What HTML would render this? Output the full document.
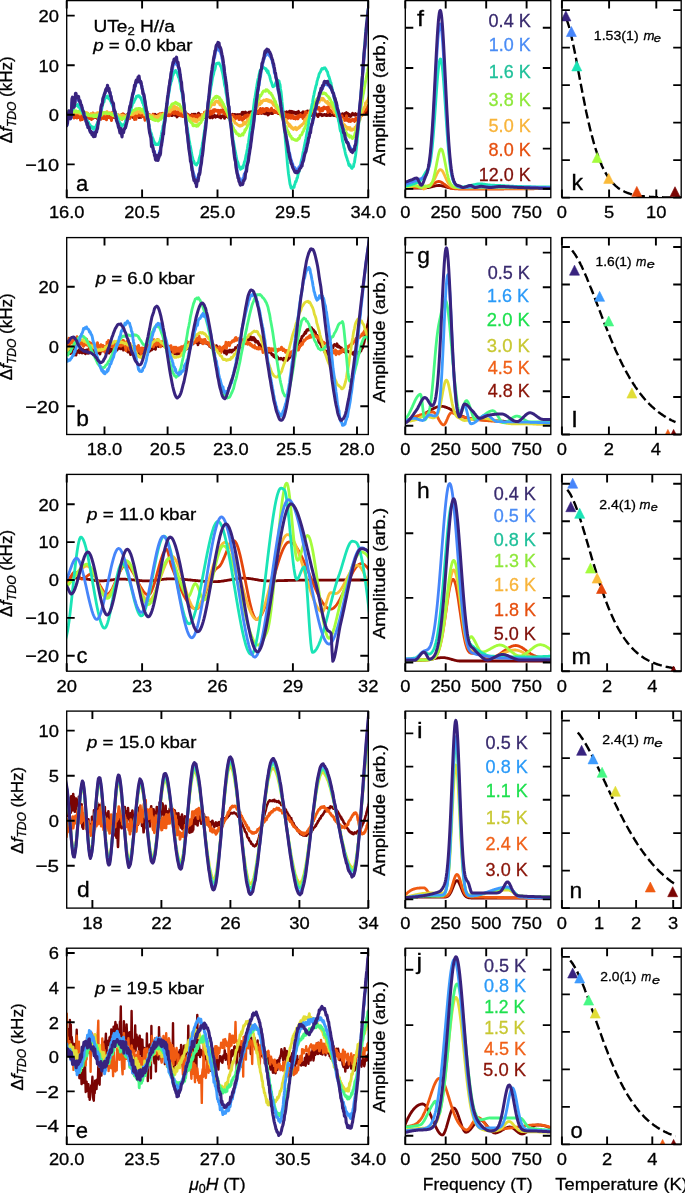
<!DOCTYPE html>
<html><head><meta charset="utf-8"><style>
html,body{margin:0;padding:0;background:#fff;}
svg{display:block;will-change:transform;}
text{font-family:"Liberation Sans", sans-serif;stroke-width:0.3px;}
</style></head><body>
<svg width="685" height="1193" viewBox="0 0 685 1193">
<rect width="685" height="1193" fill="#fff"/>
<clipPath id="c00"><rect x="66.7" y="0.6" width="301.6" height="197"/></clipPath>
<g clip-path="url(#c00)"><path d="M60 115 60.5 115.3 61 114.8 61.5 114.2 62 114.7 62.5 114.2 63 115.3 63.5 116.6 64 114.8 64.5 114.8 65 115.9 65.5 115.8 66 115.6 66.5 114.6 67 115.5 67.5 116.3 68 114.3 68.5 115.2 69 113.8 69.5 114.5 70 114 70.5 115.6 71 114.6 71.5 116.2 72 116.1 72.5 115.8 73 113.5 73.5 115.5 74 116 74.5 116.2 75 114.6 75.5 115.7 76 115.2 76.5 115.4 77 117.3 77.5 115.5 78 116.3 78.5 117.2 79 115.8 79.5 116.3 80 116.5 80.5 116.5 81 115.3 81.5 116.6 82 117.9 82.5 115 83 117.4 83.5 116.7 84 116 84.5 118.7 85 117.4 85.5 115.5 86 116.8 86.5 117.3 87 116.6 87.5 117.5 88 116.7 88.5 117.5 89 118.3 89.5 116.2 90 117.1 90.5 116.4 91 117 91.5 115.7 92 116.3 92.5 116.7 93 117.8 93.5 118.1 94 115.6 94.5 116.2 95 117.6 95.5 115 96 116.5 96.5 116.9 97 118.2 97.5 117.7 98 116.7 98.5 116.6 99 116.7 99.5 118.5 100 116.6 100.5 116.7 101 117.4 101.5 116.9 102 116.8 102.5 115.9 103 117 103.5 116.5 104 118.1 104.5 117.6 105 116.9 105.5 117.6 106 116.6 106.5 118 107 116.9 107.5 117.5 108 115.6 108.5 117.3 109 115.2 109.5 114.9 110 116.6 110.5 116 111 117 111.5 119.1 112 116 112.5 116.2 113 117 113.5 117.3 114 116.6 114.5 116.6 115 117.5 115.5 117.3 116 115.7 116.5 116.7 117 116.8 117.5 115.6 118 116.9 118.5 115.8 119 117.6 119.5 116.8 120 116.7 120.5 116 121 116.5 121.5 114.6 122 115.4 122.5 116.9 123 114.4 123.5 117.4 124 114.7 124.5 117.2 125 115.6 125.5 117.2 126 116.6 126.5 114.9 127 117.6 127.5 117.8 128 116.3 128.5 116.1 129 116.2 129.5 115.3 130 117.4 130.5 115.7 131 116.2 131.5 115.5 132 115.6 132.5 114.9 133 117.5 133.5 116 134 117.1 134.5 116.2 135 115.4 135.5 115.8 136 115.5 136.5 116.1 137 115.7 137.5 115.8 138 114.7 138.5 115.2 139 117.7 139.5 115.3 140 114.9 140.5 116.3 141 117.4 141.5 114.5 142 115.7 142.5 115.3 143 114.2 143.5 116.6 144 115.9 144.5 115.9 145 115.1 145.5 116.3 146 115.3 146.5 115.7 147 114.7 147.5 114.6 148 117.1 148.5 115.2 149 116 149.5 115.7 150 115.3 150.5 115.2 151 116.3 151.5 115.4 152 115.5 152.5 115.6 153 116.8 153.5 116.3 154 116 154.5 115 155 114.2 155.5 116.5 156 116.5 156.5 115.3 157 116 157.5 116.2 158 116.3 158.5 116.3 159 115 159.5 116.9 160 114.1 160.5 116.2 161 115.8 161.5 116.2 162 117.2 162.5 116.8 163 114.1 163.5 113.6 164 116.1 164.5 114.2 165 115.2 165.5 116.1 166 113.6 166.5 113.1 167 115.4 167.5 115.2 168 114.9 168.5 115.2 169 114.3 169.5 113.6 170 114.9 170.5 114.1 171 113.4 171.5 115.6 172 115 172.5 115.5 173 114.1 173.5 114.4 174 114 174.5 114.1 175 115.2 175.5 114.2 176 115.4 176.5 115.4 177 117 177.5 113.6 178 115.9 178.5 114.9 179 115 179.5 113.6 180 114.5 180.5 115.7 181 114.9 181.5 115.1 182 114.7 182.5 116.2 183 115 183.5 112.8 184 114.3 184.5 113.1 185 111.8 185.5 114.5 186 116.4 186.5 115.2 187 113.9 187.5 114.2 188 116.3 188.5 115.3 189 115.2 189.5 115.2 190 115.3 190.5 116.1 191 115.8 191.5 115.5 192 114.3 192.5 115.9 193 114.7 193.5 116.5 194 114.2 194.5 115.3 195 115.5 195.5 114.2 196 117.2 196.5 117 197 115.1 197.5 116.4 198 116 198.5 113.1 199 115.9 199.5 115.7 200 115.8 200.5 114.7 201 115.5 201.5 115.7 202 117.1 202.5 116.2 203 115.9 203.5 117.5 204 115.4 204.5 115.6 205 114.2 205.5 117.6 206 117 206.5 117 207 116.8 207.5 116.3 208 116.4 208.5 115.9 209 116 209.5 116.3 210 117.8 210.5 116.8 211 116.2 211.5 115.7 212 115.7 212.5 118 213 116.9 213.5 116.5 214 116.1 214.5 115.3 215 116.4 215.5 117.3 216 116.1 216.5 116.2 217 116.3 217.5 116.6 218 114.9 218.5 116.3 219 115.6 219.5 117.4 220 115.7 220.5 117.1 221 118 221.5 116.2 222 115.9 222.5 116.6 223 116.4 223.5 115.4 224 116.8 224.5 118.4 225 116.1 225.5 116.1 226 115.2 226.5 116.5 227 114.9 227.5 115 228 117.4 228.5 115.1 229 117.1 229.5 117.5 230 116.1 230.5 116.4 231 117.7 231.5 115.5 232 115 232.5 114.2 233 115.5 233.5 116.9 234 116.3 234.5 114.4 235 114.4 235.5 114.7 236 115.4 236.5 114.8 237 115.2 237.5 115.2 238 114.5 238.5 114.7 239 114.9 239.5 114.5 240 115 240.5 116.3 241 114.9 241.5 114.3 242 112.5 242.5 114.5 243 112.1 243.5 112.6 244 114.8 244.5 114.5 245 113.6 245.5 112 246 113.3 246.5 112.9 247 114.1 247.5 115.7 248 113.6 248.5 112.5 249 112.1 249.5 113.1 250 112.9 250.5 111.9 251 113.1 251.5 111.8 252 114 252.5 113.9 253 113.9 253.5 112.3 254 113.3 254.5 112.6 255 112.3 255.5 112.3 256 111.3 256.5 111.1 257 113.4 257.5 112.4 258 112.7 258.5 113.5 259 110.8 259.5 111.7 260 112.7 260.5 112.9 261 112.1 261.5 113.5 262 112.7 262.5 111.3 263 111.6 263.5 113.3 264 113 264.5 110.6 265 113.9 265.5 113.1 266 113.9 266.5 112.1 267 112.2 267.5 111.4 268 115.1 268.5 112.4 269 114.1 269.5 111.9 270 112.7 270.5 110.9 271 112.2 271.5 113.6 272 111.3 272.5 113.7 273 112.9 273.5 111.6 274 112.1 274.5 112.2 275 112.6 275.5 112.1 276 111.8 276.5 112.3 277 111.6 277.5 111.4 278 112.6 278.5 113.6 279 111.2 279.5 112.7 280 112.1 280.5 111.7 281 113.6 281.5 112.2 282 114.2 282.5 112 283 113.1 283.5 112.5 284 112 284.5 113.4 285 112.7 285.5 113.4 286 112.8 286.5 111.8 287 112.8 287.5 112.9 288 113.8 288.5 112 289 112.9 289.5 111.2 290 113.6 290.5 111.9 291 111.1 291.5 112.9 292 114.1 292.5 111.5 293 111.9 293.5 112.3 294 111.9 294.5 113.4 295 112.3 295.5 112.3 296 113.7 296.5 112.3 297 113.5 297.5 112.2 298 111.9 298.5 111.3 299 115 299.5 112.9 300 113.4 300.5 113.2 301 113.4 301.5 113.3 302 115.2 302.5 112.3 303 111.8 303.5 112.4 304 112.1 304.5 114.2 305 114.3 305.5 112.6 306 112.2 306.5 113.2 307 115 307.5 110.9 308 114.3 308.5 112.7 309 114.9 309.5 112.8 310 113.6 310.5 112.5 311 113.1 311.5 115.5 312 115 312.5 113.8 313 113.4 313.5 112.4 314 114 314.5 114.4 315 114.4 315.5 114.4 316 113.4 316.5 114.6 317 114.6 317.5 116 318 116.6 318.5 114.7 319 114.1 319.5 114.9 320 114.4 320.5 114.3 321 115 321.5 114.1 322 115.7 322.5 115.1 323 115.5 323.5 115.1 324 114.6 324.5 114.4 325 115.1 325.5 114.8 326 115.6 326.5 115.4 327 114.1 327.5 115.5 328 114.1 328.5 114.9 329 115.2 329.5 113.4 330 115.6 330.5 115.7 331 115.3 331.5 115.1 332 115.1 332.5 114.5 333 115.2 333.5 114.9 334 115.6 334.5 114.3 335 115.7 335.5 115.6 336 115.3 336.5 115 337 116 337.5 113.7 338 115.8 338.5 115.6 339 115.6 339.5 115.7 340 114.7 340.5 115 341 115.9 341.5 115.7 342 115.4 342.5 113.7 343 115.7 343.5 116.3 344 116.2 344.5 115.3 345 113.5 345.5 116 346 114.9 346.5 112.5 347 115.3 347.5 113.4 348 113.6 348.5 114.2 349 116.1 349.5 114.4 350 115 350.5 116.5 351 116.3 351.5 114.5 352 114.4 352.5 113.3 353 113.8 353.5 114.9 354 114.8 354.5 114.5 355 115.3 355.5 113.5 356 114.2 356.5 114.9 357 114.7 357.5 115.1 358 114.4 358.5 113.6 359 114.3 359.5 112.8 360 112.1 360.5 114.3 361 113.6 361.5 113.9 362 111.8 362.5 113.1 363 112.8 363.5 112.5 364 111 364.5 112.9 365 114 365.5 113.4 366 112.4 366.5 112.9 367 113.6 367.5 110 368 112.5 368.5 113.1 369 113.2 369.5 114.1 370 113.5 370.5 112.6 371 112.5 371.5 112.9 372 111.5" stroke="#7a0403" stroke-width="2.8" fill="none" stroke-linejoin="round" /><path d="M60 117.1 60.5 118.6 61 109.9 61.5 114.8 62 117.1 62.5 117.8 63 116.5 63.5 118.2 64 115.8 64.5 116.3 65 115.6 65.5 113.1 66 113.6 66.5 116.1 67 114.2 67.5 117.9 68 118 68.5 119 69 115.4 69.5 118.2 70 113.7 70.5 113.9 71 115.7 71.5 116.1 72 112.4 72.5 112.2 73 116.4 73.5 114 74 118.1 74.5 116.5 75 116.4 75.5 116.2 76 117.6 76.5 115.5 77 118 77.5 114.8 78 115.5 78.5 114.6 79 117.1 79.5 116 80 114.3 80.5 120 81 115.3 81.5 115.8 82 116.9 82.5 119.6 83 115.9 83.5 117.6 84 116.4 84.5 113.3 85 117.9 85.5 118.4 86 115.9 86.5 116.4 87 113.4 87.5 113.4 88 115.7 88.5 117.8 89 115.6 89.5 117.2 90 118.6 90.5 116.8 91 117.8 91.5 119.6 92 114.3 92.5 118.3 93 113 93.5 117.7 94 117.3 94.5 115.8 95 114.7 95.5 116.8 96 116.1 96.5 117.1 97 115.1 97.5 118.1 98 114.9 98.5 116.4 99 116.2 99.5 119.5 100 114 100.5 116.2 101 119.4 101.5 115.7 102 114.5 102.5 117.6 103 116.4 103.5 118.6 104 115.2 104.5 117.4 105 118.3 105.5 119 106 114.8 106.5 119.8 107 115.2 107.5 114.1 108 115.2 108.5 117.3 109 116.4 109.5 117.8 110 118 110.5 117.6 111 116.5 111.5 120.5 112 112.8 112.5 113.7 113 116 113.5 114.6 114 112.2 114.5 115.5 115 115.6 115.5 112.4 116 118.6 116.5 119.4 117 119.3 117.5 116.1 118 117.3 118.5 114.9 119 117.4 119.5 115.8 120 117.8 120.5 116.4 121 118.9 121.5 118.5 122 119.3 122.5 114.1 123 113.7 123.5 117.7 124 115.9 124.5 117.6 125 117.4 125.5 117.1 126 118.4 126.5 117.7 127 117.5 127.5 115 128 119.5 128.5 116.6 129 118.3 129.5 116.8 130 118.4 130.5 116.4 131 116.4 131.5 116.2 132 114.6 132.5 114.8 133 115.4 133.5 115.4 134 113.8 134.5 119.5 135 113.7 135.5 114.8 136 119.4 136.5 114.1 137 116.5 137.5 116.2 138 114.7 138.5 112.6 139 112.4 139.5 115 140 115.7 140.5 111.4 141 115.3 141.5 113.9 142 116.5 142.5 115.4 143 113.8 143.5 114.4 144 115.2 144.5 117.4 145 120.2 145.5 115.8 146 115.5 146.5 116.5 147 115.4 147.5 116.6 148 116.2 148.5 115.6 149 114.4 149.5 116 150 117.2 150.5 115.9 151 118.3 151.5 117.4 152 115.7 152.5 118.7 153 114.2 153.5 117.9 154 119 154.5 115.7 155 116 155.5 117.6 156 118.4 156.5 116.9 157 116.5 157.5 117.6 158 116.6 158.5 114.3 159 115.8 159.5 116 160 113.7 160.5 116.5 161 114.7 161.5 116.9 162 113.4 162.5 114.2 163 113.3 163.5 117.2 164 117.1 164.5 117.3 165 117.2 165.5 116.2 166 116.1 166.5 112.1 167 115 167.5 113.6 168 113.8 168.5 112.4 169 115.9 169.5 114.1 170 111.7 170.5 114.4 171 113.5 171.5 112 172 113 172.5 112.2 173 110 173.5 111 174 113.8 174.5 113.5 175 113.4 175.5 111.4 176 112.2 176.5 113.1 177 114 177.5 111.9 178 111.7 178.5 114.8 179 113.4 179.5 112.9 180 112.5 180.5 112.7 181 115.9 181.5 115.1 182 113.4 182.5 112.4 183 116.5 183.5 116.4 184 116.1 184.5 115.8 185 112.3 185.5 113.2 186 115.8 186.5 114.8 187 115.7 187.5 114.8 188 114.8 188.5 116.5 189 115.4 189.5 116 190 116.5 190.5 116.6 191 117.9 191.5 118.2 192 114.9 192.5 116.4 193 116 193.5 117.8 194 115.6 194.5 117.9 195 117.8 195.5 117.7 196 115.8 196.5 116.7 197 115.6 197.5 117.4 198 118 198.5 114.9 199 115.7 199.5 116.4 200 115.8 200.5 118.1 201 116 201.5 116.3 202 114.5 202.5 117.5 203 115.6 203.5 116.2 204 115.2 204.5 112.3 205 112.7 205.5 112.9 206 114.8 206.5 113.4 207 114.3 207.5 113.9 208 113.7 208.5 114.3 209 113.2 209.5 110.8 210 111.7 210.5 114.4 211 110.9 211.5 113.7 212 113.8 212.5 111 213 112 213.5 109.8 214 112.3 214.5 110.3 215 109.6 215.5 110.6 216 110.5 216.5 110.3 217 111.2 217.5 110.8 218 110.2 218.5 112.2 219 114.1 219.5 111.3 220 110.5 220.5 110.2 221 112.3 221.5 111.4 222 111.9 222.5 109.6 223 110.8 223.5 111 224 113.7 224.5 112.4 225 110 225.5 113.7 226 114.7 226.5 115.2 227 110.5 227.5 114.2 228 115.2 228.5 115.2 229 114.4 229.5 112.8 230 114.7 230.5 115 231 116.3 231.5 116.6 232 115.8 232.5 117.3 233 115.2 233.5 115.8 234 116.8 234.5 117.7 235 116.8 235.5 118.8 236 117.9 236.5 116.4 237 117.8 237.5 116.7 238 116.7 238.5 116.2 239 119.6 239.5 119.1 240 116.1 240.5 119.3 241 119.1 241.5 117.5 242 118.5 242.5 120.5 243 118 243.5 118.1 244 118.8 244.5 116.1 245 115.7 245.5 115.4 246 116.8 246.5 117.8 247 115.5 247.5 114.7 248 116.4 248.5 115.5 249 116.5 249.5 115.4 250 115.1 250.5 115 251 114.9 251.5 113.5 252 113.1 252.5 116.1 253 117.7 253.5 115.1 254 111.5 254.5 113.3 255 114.4 255.5 110.8 256 112 256.5 111.9 257 111 257.5 110.9 258 112.9 258.5 111 259 111.1 259.5 113.2 260 110 260.5 108.5 261 111.4 261.5 112.9 262 110.6 262.5 110.6 263 108.6 263.5 109 264 111.8 264.5 111.5 265 110.6 265.5 109.1 266 108.4 266.5 108.6 267 108.5 267.5 110.6 268 109 268.5 109.4 269 110.9 269.5 110.9 270 110.2 270.5 110.8 271 110.3 271.5 108.1 272 110.4 272.5 110.1 273 110.3 273.5 111.2 274 110.3 274.5 112.6 275 111.1 275.5 111.7 276 112 276.5 111.6 277 112.7 277.5 113 278 113 278.5 111.6 279 111.5 279.5 112 280 113 280.5 110.9 281 112.3 281.5 112.1 282 112.8 282.5 112.7 283 115 283.5 114.7 284 115.5 284.5 113.3 285 113.8 285.5 114.5 286 117 286.5 117.2 287 114.6 287.5 116.3 288 118.3 288.5 114.6 289 115.7 289.5 117.7 290 117.1 290.5 115.2 291 118.3 291.5 117.8 292 117.5 292.5 115.3 293 116.7 293.5 118.5 294 117.6 294.5 118 295 116.8 295.5 119 296 116.9 296.5 118.3 297 117.6 297.5 116 298 118.9 298.5 115.6 299 116.2 299.5 117.1 300 115.2 300.5 114.6 301 116.5 301.5 115.9 302 116 302.5 116.7 303 118.6 303.5 115.2 304 118.5 304.5 115.6 305 115 305.5 111.6 306 112.8 306.5 114.7 307 114.8 307.5 112.9 308 114 308.5 114.4 309 112.4 309.5 110.9 310 111.4 310.5 111.9 311 112.4 311.5 112.7 312 110.4 312.5 111.3 313 110.7 313.5 110.8 314 111.9 314.5 111.9 315 109.5 315.5 109.2 316 108.9 316.5 108.9 317 108.9 317.5 109 318 108.4 318.5 107.6 319 107.4 319.5 108.8 320 111.5 320.5 109.2 321 109.3 321.5 108.9 322 108.3 322.5 110.9 323 108.1 323.5 107.4 324 107.1 324.5 108.9 325 107.6 325.5 107.9 326 108 326.5 107.6 327 109.6 327.5 107.5 328 112.5 328.5 106.6 329 108.5 329.5 110.4 330 111.1 330.5 110.4 331 111.4 331.5 111.6 332 111.8 332.5 112.6 333 112.5 333.5 112.4 334 112.6 334.5 114.1 335 113.2 335.5 114.4 336 115.9 336.5 114.8 337 116.1 337.5 114.4 338 115.5 338.5 116.1 339 116.1 339.5 116.7 340 118.1 340.5 116.3 341 116.2 341.5 117.7 342 115.8 342.5 117.8 343 119.5 343.5 118.3 344 119.2 344.5 119.3 345 120.5 345.5 119.8 346 119.7 346.5 115.6 347 119.2 347.5 120.8 348 119.9 348.5 119.3 349 121.4 349.5 119.4 350 120.1 350.5 121.4 351 120 351.5 120.9 352 120.6 352.5 119.2 353 119.9 353.5 120 354 119.6 354.5 121.5 355 120 355.5 119 356 117.8 356.5 118.8 357 120.5 357.5 118.2 358 119.1 358.5 118.3 359 116.7 359.5 115.8 360 117.1 360.5 113.9 361 116.1 361.5 113.4 362 115.3 362.5 113.2 363 113 363.5 113.8 364 110.7 364.5 111.3 365 110.2 365.5 110.5 366 110 366.5 108.8 367 108 367.5 106.5 368 106.9 368.5 105.2 369 104.9 369.5 104.1 370 101.5 370.5 101 371 101.8 371.5 100.7 372 101.5" stroke="#e4450a" stroke-width="2.9" fill="none" stroke-linejoin="round" /><path d="M60 114.4 60.5 113.8 61 114.6 61.5 115 62 115.5 62.5 114.6 63 114 63.5 113.7 64 114.8 64.5 115.4 65 114.3 65.5 113 66 113.1 66.5 115.1 67 113.9 67.5 112.3 68 113.5 68.5 112.6 69 112.9 69.5 113 70 112.8 70.5 113.7 71 113.2 71.5 112.7 72 113.5 72.5 113.8 73 111.8 73.5 112.9 74 112.3 74.5 112.9 75 112 75.5 113 76 113 76.5 112.8 77 112.2 77.5 112.7 78 112.2 78.5 112 79 113.3 79.5 112.2 80 114.1 80.5 113.7 81 111.6 81.5 113.4 82 112.4 82.5 113.3 83 113.4 83.5 111.8 84 113.2 84.5 113.3 85 114.3 85.5 112.6 86 114.2 86.5 112.7 87 113.4 87.5 113 88 114.9 88.5 114.2 89 115.8 89.5 114.4 90 114.5 90.5 114.6 91 113.4 91.5 113.9 92 115 92.5 113.7 93 114.1 93.5 114 94 114.5 94.5 113.7 95 113.9 95.5 114.2 96 114 96.5 113.2 97 114.6 97.5 112.8 98 112.8 98.5 112.7 99 114.4 99.5 113.3 100 112.8 100.5 112.6 101 113.8 101.5 112.5 102 112.3 102.5 113.8 103 112.3 103.5 112.9 104 113.1 104.5 112.7 105 113 105.5 114.1 106 112.6 106.5 112 107 111.5 107.5 112.8 108 112.8 108.5 113.3 109 112.8 109.5 112.8 110 112.7 110.5 113 111 113.7 111.5 113.3 112 113.9 112.5 115.4 113 114.4 113.5 112.9 114 115.7 114.5 114.8 115 113.9 115.5 115.5 116 115 116.5 114.6 117 114.7 117.5 114.6 118 115.5 118.5 116.4 119 115.4 119.5 116.1 120 117.4 120.5 114.9 121 116.2 121.5 115.7 122 115.2 122.5 115.2 123 115.9 123.5 116.3 124 115.4 124.5 115.8 125 116.2 125.5 115.8 126 116.1 126.5 115.6 127 115.5 127.5 116.4 128 115.3 128.5 114.7 129 115 129.5 113.5 130 113.8 130.5 114.5 131 114.2 131.5 114.8 132 113.4 132.5 112 133 114.6 133.5 113.8 134 111.9 134.5 113.7 135 112.5 135.5 110.9 136 111.9 136.5 111.8 137 113.4 137.5 111.4 138 111.8 138.5 111.8 139 111.7 139.5 111.3 140 112.3 140.5 113 141 112.7 141.5 111.6 142 111.5 142.5 112.7 143 112.2 143.5 112.4 144 111.7 144.5 114.8 145 114.2 145.5 112.8 146 114.5 146.5 115.1 147 112.3 147.5 114 148 114.3 148.5 115.3 149 114.9 149.5 115 150 115.3 150.5 117.1 151 117.5 151.5 115.5 152 115.4 152.5 118.4 153 115.6 153.5 116.1 154 116.7 154.5 117.1 155 117.7 155.5 117.2 156 116.3 156.5 117.4 157 117.2 157.5 118.5 158 116.9 158.5 115.8 159 115.9 159.5 117.7 160 115.9 160.5 114.5 161 115.5 161.5 115.7 162 116.3 162.5 114.3 163 115.3 163.5 115.1 164 113.5 164.5 113.6 165 114.8 165.5 114.4 166 113.4 166.5 112.6 167 112.9 167.5 111.5 168 111.2 168.5 110.2 169 110.6 169.5 110.2 170 112.1 170.5 109.5 171 110.4 171.5 110.1 172 108.7 172.5 109.6 173 106.7 173.5 108.4 174 108.9 174.5 106.2 175 107.1 175.5 108.8 176 107.8 176.5 107.2 177 107.9 177.5 107.9 178 109.1 178.5 109.1 179 108.8 179.5 108.7 180 109.5 180.5 110.9 181 110.5 181.5 111.1 182 110.9 182.5 110.4 183 111.3 183.5 112.8 184 112.8 184.5 112.4 185 112.3 185.5 114.2 186 114.3 186.5 114.7 187 115.2 187.5 116.1 188 116.6 188.5 117.5 189 117.9 189.5 118.7 190 118.6 190.5 118.1 191 118.7 191.5 119.4 192 119.1 192.5 120.1 193 120.8 193.5 119.4 194 118.8 194.5 121.4 195 120.5 195.5 121.1 196 119.5 196.5 122 197 121.1 197.5 120.2 198 119.8 198.5 120 199 119.4 199.5 119 200 118 200.5 119.4 201 117.9 201.5 117.5 202 117 202.5 114.5 203 116.3 203.5 115 204 114.4 204.5 114.1 205 112.6 205.5 113.4 206 111.5 206.5 110.7 207 110.1 207.5 110.2 208 110 208.5 108.3 209 107 209.5 108.4 210 106.1 210.5 107.4 211 105.8 211.5 104.8 212 104.3 212.5 104.7 213 104.7 213.5 103.4 214 104 214.5 104.6 215 102.5 215.5 101.5 216 101.5 216.5 101.1 217 101.7 217.5 101.7 218 101.3 218.5 102.9 219 100.6 219.5 101.9 220 104.9 220.5 104.5 221 104.5 221.5 104.9 222 106.5 222.5 106 223 106.2 223.5 105.8 224 107.4 224.5 107.5 225 108.2 225.5 108.9 226 110.2 226.5 110.7 227 112.4 227.5 111.4 228 113.1 228.5 115.5 229 114.8 229.5 116.5 230 117.2 230.5 118.1 231 118.4 231.5 117.4 232 119 232.5 119.6 233 119.3 233.5 120.8 234 120.8 234.5 121.1 235 123.1 235.5 123.4 236 123.4 236.5 123.6 237 124.3 237.5 124.7 238 125 238.5 125.5 239 125.3 239.5 126.1 240 126.2 240.5 126.1 241 125.2 241.5 125.1 242 125.7 242.5 125 243 124.8 243.5 122.5 244 122 244.5 124 245 123.5 245.5 123.9 246 122.8 246.5 121.9 247 121.2 247.5 119.4 248 120.6 248.5 118.8 249 119 249.5 118.1 250 117.4 250.5 117.2 251 115.3 251.5 114.7 252 113.6 252.5 113.2 253 114.1 253.5 111.7 254 112.2 254.5 111.2 255 110.3 255.5 109.7 256 107.5 256.5 107.9 257 108.2 257.5 105.7 258 105.6 258.5 104.4 259 104.6 259.5 102.9 260 104.5 260.5 102.4 261 101 261.5 103.2 262 102.1 262.5 101.4 263 101.1 263.5 100.1 264 100 264.5 100.5 265 100.5 265.5 100.5 266 99.9 266.5 99.4 267 99.6 267.5 100.8 268 101.2 268.5 100 269 100.1 269.5 101.8 270 101.7 270.5 102 271 100.8 271.5 102 272 102.3 272.5 103.3 273 102.3 273.5 105.2 274 105 274.5 105.7 275 105 275.5 106.5 276 108.3 276.5 106.6 277 108.8 277.5 109.7 278 109.3 278.5 111.2 279 111 279.5 113 280 113.1 280.5 113.6 281 115.8 281.5 115.5 282 116.6 282.5 115.4 283 116.5 283.5 118.4 284 119.2 284.5 119.1 285 120.4 285.5 119.6 286 121.3 286.5 120.8 287 122.6 287.5 122.6 288 123 288.5 124.1 289 126.1 289.5 124.3 290 125.1 290.5 126.9 291 126.1 291.5 128.3 292 127.4 292.5 127.6 293 128.1 293.5 129.4 294 128.8 294.5 128.8 295 128.7 295.5 127.3 296 127.9 296.5 129.8 297 129.1 297.5 128.7 298 128.6 298.5 127.4 299 127.8 299.5 126.5 300 127.1 300.5 125.7 301 125.6 301.5 125.6 302 124.4 302.5 124.6 303 123.8 303.5 123.1 304 123.2 304.5 120.2 305 119.4 305.5 120.4 306 119.8 306.5 119.9 307 118.1 307.5 117.3 308 115.2 308.5 115.6 309 114.7 309.5 112.5 310 111.8 310.5 111.6 311 111.1 311.5 107.7 312 109.4 312.5 108.7 313 107.6 313.5 107.2 314 106.7 314.5 104.8 315 105.3 315.5 104.1 316 102.9 316.5 103.3 317 103.8 317.5 100.9 318 100.3 318.5 99.9 319 102.4 319.5 100.3 320 100.2 320.5 99.4 321 99.2 321.5 98.2 322 99.9 322.5 100 323 98.3 323.5 99.2 324 99.6 324.5 100.4 325 100.8 325.5 101.8 326 102.4 326.5 102.5 327 103.1 327.5 101.5 328 102.5 328.5 104.3 329 104.2 329.5 104.5 330 103.5 330.5 104.2 331 106.9 331.5 107.2 332 107.4 332.5 108 333 107.6 333.5 110 334 111.2 334.5 112.4 335 111.9 335.5 112.4 336 112.5 336.5 115.1 337 116.2 337.5 115.1 338 116.6 338.5 117.2 339 117.4 339.5 116.6 340 119 340.5 120.5 341 119.6 341.5 120.7 342 119.5 342.5 123.8 343 123.8 343.5 124.1 344 124.4 344.5 124.7 345 125.7 345.5 126 346 126.6 346.5 127.2 347 127.8 347.5 129.3 348 127.3 348.5 129 349 128.6 349.5 128.4 350 127.6 350.5 130.2 351 129 351.5 129.3 352 130.3 352.5 129 353 129.7 353.5 129.3 354 129.6 354.5 129.3 355 127.2 355.5 128 356 126.4 356.5 125.8 357 124.6 357.5 124.5 358 121.9 358.5 122 359 121.6 359.5 119.2 360 119.9 360.5 116.5 361 116 361.5 114.1 362 112.7 362.5 111 363 110.2 363.5 109.3 364 107.4 364.5 107.4 365 106.7 365.5 103 366 103.7 366.5 102 367 100.9 367.5 101.6 368 99.6 368.5 97.9 369 96.8 369.5 93.9 370 95.3 370.5 93.1 371 92.9 371.5 91.9 372 91.6 372.5 91.5 373 89.7 373.5 88.9 374 86.7 374.5 86.3 375 85.6" stroke="#faba39" stroke-width="2.9" fill="none" stroke-linejoin="round" /><path d="M60 113.7 60.5 113.7 61 114.5 61.5 113.8 62 112.5 62.5 113.2 63 112.8 63.5 113 64 112 64.5 112.8 65 112.7 65.5 113.3 66 112.6 66.5 112.6 67 111.5 67.5 113.3 68 111.1 68.5 112.5 69 111.8 69.5 111.4 70 111.5 70.5 111.4 71 111.9 71.5 111.6 72 112.4 72.5 110.7 73 111.6 73.5 111.1 74 111.9 74.5 110.5 75 111.3 75.5 111.6 76 110.8 76.5 112 77 111.6 77.5 112.1 78 112.1 78.5 111.2 79 111.4 79.5 111.8 80 112.4 80.5 112.6 81 112 81.5 112.2 82 112.2 82.5 112.5 83 112.8 83.5 113.1 84 114.3 84.5 113.2 85 113.5 85.5 114.1 86 113.5 86.5 114 87 114.4 87.5 114.9 88 114 88.5 115.5 89 114.8 89.5 115.2 90 115.7 90.5 115.7 91 116 91.5 115.7 92 115.6 92.5 115.9 93 115.3 93.5 116.4 94 115.4 94.5 115.2 95 116.8 95.5 115.6 96 115 96.5 116.5 97 115.3 97.5 115.8 98 114.8 98.5 114.9 99 114 99.5 113.8 100 114.1 100.5 114.4 101 114.6 101.5 115.3 102 113.4 102.5 114.3 103 113.3 103.5 113.4 104 112.6 104.5 112.5 105 112.8 105.5 112.5 106 113 106.5 112.7 107 113.6 107.5 113.1 108 113.1 108.5 113.7 109 113.5 109.5 113.4 110 113.5 110.5 113.6 111 114.4 111.5 114.5 112 114.5 112.5 114.9 113 114.5 113.5 115.3 114 114.5 114.5 116.2 115 115.8 115.5 116.1 116 116.5 116.5 116.5 117 116.6 117.5 117.5 118 117.2 118.5 116.9 119 117.7 119.5 116.8 120 118.6 120.5 117.8 121 118 121.5 119.1 122 119.1 122.5 118 123 118.2 123.5 118.3 124 118.5 124.5 117.4 125 117.2 125.5 117.5 126 116.7 126.5 116.7 127 116.2 127.5 115 128 114.7 128.5 113.5 129 114.2 129.5 114.6 130 113 130.5 113.7 131 113.2 131.5 112.2 132 111.8 132.5 111.5 133 110.6 133.5 110.5 134 110.3 134.5 110.3 135 110.1 135.5 109 136 109.6 136.5 108.6 137 108.7 137.5 108.9 138 108.6 138.5 108.5 139 108.8 139.5 108.4 140 108.5 140.5 108.9 141 109.7 141.5 109.4 142 110.7 142.5 110.1 143 108.9 143.5 110.5 144 112 144.5 111.6 145 111.8 145.5 112 146 113.6 146.5 113.9 147 114.2 147.5 114.6 148 115.6 148.5 115.7 149 115.2 149.5 116.7 150 116.8 150.5 117.1 151 118 151.5 118.1 152 117 152.5 119.6 153 119.7 153.5 119.4 154 119.6 154.5 120.1 155 119.6 155.5 120.5 156 120.4 156.5 120.4 157 120.1 157.5 120.2 158 121 158.5 120.9 159 120.3 159.5 119.7 160 118.9 160.5 119.3 161 119.3 161.5 117.2 162 118 162.5 115.8 163 116.1 163.5 115.8 164 114.3 164.5 113.5 165 113.7 165.5 113.3 166 111.9 166.5 112.1 167 110.3 167.5 110.9 168 109.4 168.5 108.8 169 108.3 169.5 107.5 170 107.7 170.5 107.3 171 105.9 171.5 105 172 104.1 172.5 103.9 173 103.9 173.5 103.5 174 103.3 174.5 103.2 175 103.3 175.5 102.3 176 102.5 176.5 103.7 177 103.8 177.5 103.3 178 104.6 178.5 104 179 104.6 179.5 104.3 180 106.2 180.5 106.4 181 107.5 181.5 108 182 108.4 182.5 109.2 183 110.5 183.5 110.6 184 111.4 184.5 112.3 185 113.5 185.5 114.4 186 115.7 186.5 115.5 187 117 187.5 116.9 188 118.3 188.5 118.9 189 120.4 189.5 120.6 190 120.8 190.5 122 191 122.5 191.5 122.8 192 123.3 192.5 123.5 193 125.8 193.5 124.9 194 125.6 194.5 124.9 195 125.1 195.5 125.7 196 125.7 196.5 126.2 197 125.2 197.5 125.7 198 125.9 198.5 124.3 199 124.8 199.5 123.3 200 123.4 200.5 122.7 201 122.7 201.5 120.7 202 120.3 202.5 119.9 203 117.9 203.5 117.5 204 116.1 204.5 115.2 205 114.9 205.5 113.9 206 113.8 206.5 112.2 207 111.1 207.5 109.3 208 108.2 208.5 107.4 209 105.2 209.5 106.2 210 104.1 210.5 103 211 102.5 211.5 102.3 212 101.7 212.5 100.2 213 99.9 213.5 99 214 98 214.5 98.1 215 97.7 215.5 96.6 216 97.7 216.5 96.2 217 97 217.5 96.4 218 96.7 218.5 97 219 98.1 219.5 97.6 220 98.6 220.5 100.1 221 99.7 221.5 100.7 222 101.9 222.5 102.2 223 103.7 223.5 104.1 224 105.8 224.5 106.6 225 107.2 225.5 109.5 226 110 226.5 111.1 227 112 227.5 113.5 228 114.9 228.5 116.3 229 118 229.5 118.1 230 119.8 230.5 121.8 231 122.5 231.5 123.8 232 125.5 232.5 126 233 127.2 233.5 128 234 129.9 234.5 130.5 235 130.5 235.5 131.9 236 131.8 236.5 133.6 237 134 237.5 134.2 238 134.5 238.5 134.1 239 135.7 239.5 135.4 240 135.3 240.5 135.8 241 135 241.5 134.8 242 134.4 242.5 133.7 243 135.1 243.5 133.2 244 132.5 244.5 132.4 245 129.6 245.5 130.3 246 129.4 246.5 128 247 127.7 247.5 125.4 248 125.4 248.5 124.7 249 122 249.5 121.1 250 120.6 250.5 119.4 251 117.8 251.5 117 252 115.7 252.5 113.6 253 112.9 253.5 111 254 109.3 254.5 107.9 255 108.3 255.5 106.5 256 106.3 256.5 103.3 257 102.7 257.5 101.9 258 100.5 258.5 99.7 259 98.5 259.5 97.1 260 95.3 260.5 95.1 261 95.6 261.5 94.3 262 93.9 262.5 92.3 263 91.9 263.5 91 264 91.3 264.5 90.8 265 90.7 265.5 91.2 266 89.8 266.5 90.6 267 89.7 267.5 91.1 268 90.6 268.5 91.1 269 91.7 269.5 92.9 270 92.6 270.5 93 271 93.3 271.5 94.8 272 95 272.5 96 273 97.1 273.5 98.4 274 98.7 274.5 100.4 275 102 275.5 101.4 276 104 276.5 105.5 277 105.3 277.5 107.1 278 107.3 278.5 109.4 279 110.3 279.5 111.8 280 112.5 280.5 113.8 281 115.2 281.5 116.4 282 117.7 282.5 119.1 283 119.9 283.5 121.6 284 123.2 284.5 123 285 125.4 285.5 126.1 286 127 286.5 128 287 129.3 287.5 130.4 288 131.9 288.5 132 289 134.1 289.5 134 290 135.6 290.5 136.5 291 136.1 291.5 137.8 292 139 292.5 138.2 293 139.1 293.5 139.2 294 139.6 294.5 139.7 295 139.6 295.5 140.3 296 140.4 296.5 139.8 297 140.4 297.5 139.9 298 139.3 298.5 138.2 299 138.9 299.5 138.1 300 135.7 300.5 135.5 301 135 301.5 134.9 302 134.1 302.5 132.4 303 131.7 303.5 130.9 304 128.8 304.5 128.7 305 127.1 305.5 126.1 306 124.8 306.5 123 307 121.9 307.5 121.2 308 119.9 308.5 118.5 309 117.9 309.5 115.9 310 114.1 310.5 113.3 311 112.1 311.5 110.9 312 110.3 312.5 108.7 313 107.8 313.5 106.4 314 104.9 314.5 104.4 315 102.6 315.5 101.8 316 100.2 316.5 99.8 317 98.7 317.5 98.2 318 98.1 318.5 97.7 319 96.3 319.5 95.2 320 95.1 320.5 94.3 321 93.5 321.5 93.5 322 93.2 322.5 92.8 323 93.8 323.5 92.9 324 93 324.5 93.8 325 93.3 325.5 93.4 326 94 326.5 95.1 327 95.5 327.5 96.1 328 96.3 328.5 96.8 329 98.4 329.5 98 330 99.4 330.5 99.7 331 101 331.5 102.1 332 103.7 332.5 102.6 333 105.8 333.5 105.7 334 107.3 334.5 108.7 335 109 335.5 110.4 336 111.8 336.5 112.6 337 113.5 337.5 115.1 338 116.2 338.5 116.5 339 119.1 339.5 119.6 340 119.4 340.5 121.3 341 123.7 341.5 124.7 342 125 342.5 125.1 343 126.8 343.5 128.4 344 129 344.5 129.6 345 130.3 345.5 131.9 346 132.1 346.5 133.2 347 133.9 347.5 135.2 348 135 348.5 135.6 349 135.1 349.5 136.9 350 137.2 350.5 137 351 136.1 351.5 137.1 352 137.5 352.5 138.5 353 137.6 353.5 137.2 354 136.4 354.5 135.7 355 133.3 355.5 132 356 130.3 356.5 129 357 127 357.5 125.2 358 122.4 358.5 120.6 359 117.7 359.5 116.6 360 112.6 360.5 111.4 361 108.2 361.5 104 362 102.2 362.5 99.1 363 95.1 363.5 93.3 364 90.1 364.5 87.5 365 84.1 365.5 81.7 366 79.3 366.5 76.4 367 73.7 367.5 71.5 368 68.8 368.5 67.3 369 63.8 369.5 63.7 370 60.9 370.5 59 371 57.1 371.5 53.9 372 53.6 372.5 49.8 373 48.5 373.5 46.4 374 44.8 374.5 42.1 375 39.3" stroke="#a4fc3c" stroke-width="2.9" fill="none" stroke-linejoin="round" /><path d="M60 115.2 60.5 113.2 61 115.5 61.5 115.5 62 116 62.5 116.6 63 115.8 63.5 117.2 64 117 64.5 119.7 65 118 65.5 117.7 66 117.8 66.5 117.6 67 117.3 67.5 117.5 68 117.6 68.5 116.5 69 116.5 69.5 114.9 70 114.1 70.5 114 71 112.4 71.5 110.7 72 109.8 72.5 109.2 73 109.1 73.5 106.9 74 106.2 74.5 106.3 75 104.8 75.5 104.9 76 105.5 76.5 105.4 77 105.3 77.5 106 78 104.3 78.5 107 79 106.3 79.5 106.5 80 108.3 80.5 109.3 81 109.4 81.5 109.8 82 111.3 82.5 112.2 83 114 83.5 114.5 84 115.1 84.5 116.6 85 116.8 85.5 117.4 86 119.2 86.5 120.2 87 120.6 87.5 121.2 88 122.7 88.5 121.9 89 124.6 89.5 125.2 90 124.6 90.5 126.3 91 126.2 91.5 127.7 92 126.5 92.5 127.5 93 128.7 93.5 129.1 94 127.2 94.5 128.1 95 128.2 95.5 127 96 127.4 96.5 124.7 97 124.5 97.5 122.3 98 122.2 98.5 119.8 99 117.9 99.5 115.3 100 115.6 100.5 113.2 101 111.4 101.5 109.8 102 107.6 102.5 105.3 103 103.6 103.5 102.1 104 102.1 104.5 99.2 105 98.6 105.5 98 106 97.7 106.5 97.5 107 96.3 107.5 96.1 108 97.3 108.5 98.5 109 98.8 109.5 99.2 110 99.7 110.5 101 111 101.7 111.5 103.5 112 103.7 112.5 105.5 113 106.7 113.5 108.4 114 109.6 114.5 112.4 115 113.1 115.5 114.5 116 113.8 116.5 116.1 117 117.2 117.5 119.1 118 118.6 118.5 121.7 119 122.6 119.5 122 120 122.9 120.5 123.6 121 124.6 121.5 125.3 122 126.2 122.5 124.8 123 125.2 123.5 124.5 124 125 124.5 123.8 125 123.4 125.5 121.1 126 120.7 126.5 119.4 127 119.7 127.5 118 128 116.3 128.5 114.9 129 114.2 129.5 112.2 130 110.7 130.5 110.3 131 110.1 131.5 107.2 132 105.7 132.5 104.1 133 102.8 133.5 102.8 134 101.9 134.5 100.3 135 99.6 135.5 98.6 136 97.9 136.5 96.3 137 96.4 137.5 96.4 138 95.6 138.5 95.7 139 95.6 139.5 96.2 140 97.4 140.5 97.3 141 98.3 141.5 99.9 142 100.9 142.5 102.8 143 102 143.5 105.2 144 106 144.5 108.1 145 110.3 145.5 112.2 146 114.1 146.5 115.5 147 118.3 147.5 119.1 148 121.2 148.5 123.7 149 124.9 149.5 128.4 150 129.6 150.5 132.2 151 132.6 151.5 134.1 152 136.1 152.5 137.9 153 138.6 153.5 140.4 154 141.4 154.5 143.4 155 142.9 155.5 144.6 156 144.1 156.5 144.3 157 144.6 157.5 144.2 158 144.6 158.5 144.4 159 142.9 159.5 141.9 160 141.1 160.5 138.6 161 136.6 161.5 134.2 162 131.2 162.5 130.2 163 126.1 163.5 124.9 164 121.7 164.5 119.6 165 115.9 165.5 112.5 166 110.3 166.5 106.7 167 104 167.5 101.1 168 98.1 168.5 95.2 169 92 169.5 89.7 170 86 170.5 84.7 171 81.8 171.5 81.1 172 79.2 172.5 75.6 173 75.3 173.5 73.8 174 72.3 174.5 72.4 175 71.4 175.5 70.4 176 71.5 176.5 72 177 73 177.5 73.2 178 75.6 178.5 77.3 179 77.9 179.5 80.3 180 82.8 180.5 84.9 181 88.9 181.5 90.7 182 92.8 182.5 95.9 183 99.4 183.5 104 184 105.8 184.5 109.3 185 112.9 185.5 115.9 186 120.7 186.5 122.4 187 126.5 187.5 129.4 188 133 188.5 135.1 189 140 189.5 141.8 190 144.8 190.5 147 191 149.7 191.5 152.9 192 155.4 192.5 157.3 193 159.4 193.5 160.8 194 161.7 194.5 163.3 195 164 195.5 164.1 196 164.8 196.5 165.1 197 164 197.5 163 198 162.7 198.5 162.1 199 159.4 199.5 157.8 200 155.8 200.5 154.5 201 150.3 201.5 149.1 202 147 202.5 143 203 141.4 203.5 137.8 204 133.9 204.5 131.1 205 126.8 205.5 124 206 122 206.5 116.9 207 115.1 207.5 110.4 208 107.6 208.5 103.6 209 98.8 209.5 96.5 210 93.7 210.5 89.7 211 86.5 211.5 84.6 212 81.1 212.5 77.8 213 75.9 213.5 74.4 214 71.4 214.5 70.3 215 68.9 215.5 66.5 216 64.5 216.5 63.4 217 63.4 217.5 63.5 218 63 218.5 63.3 219 63.1 219.5 64.3 220 64.7 220.5 66 221 66.9 221.5 68.4 222 70.9 222.5 72.6 223 74.9 223.5 78.3 224 80.3 224.5 84.8 225 86.5 225.5 88.5 226 92.4 226.5 95.3 227 97.9 227.5 102.2 228 104.4 228.5 106.4 229 112.2 229.5 114.7 230 119.4 230.5 121.6 231 124.6 231.5 129.6 232 131.4 232.5 135.4 233 139.3 233.5 141.6 234 144.5 234.5 147.4 235 150.6 235.5 152.3 236 155.6 236.5 157.9 237 161 237.5 161.4 238 162.8 238.5 165.3 239 165.9 239.5 167.3 240 168.1 240.5 169.2 241 168.4 241.5 168.7 242 166.9 242.5 167.2 243 167.7 243.5 165.2 244 163.7 244.5 161.7 245 160.8 245.5 158.4 246 155.2 246.5 153.8 247 150.8 247.5 148.3 248 144.5 248.5 142.8 249 138.7 249.5 135.1 250 131.5 250.5 128.2 251 125.4 251.5 121.2 252 118.4 252.5 114.6 253 111.5 253.5 107.7 254 103.8 254.5 99.3 255 97.3 255.5 94.3 256 90.9 256.5 88.1 257 84.6 257.5 82 258 79.1 258.5 78.1 259 75.3 259.5 72.9 260 70.7 260.5 69.9 261 69.7 261.5 68.1 262 66.8 262.5 67.7 263 67.7 263.5 67.5 264 67.7 264.5 68.3 265 68.4 265.5 69.1 266 68.7 266.5 70.8 267 70.7 267.5 72.5 268 70.8 268.5 73.3 269 74.7 269.5 75.5 270 77.6 270.5 79.6 271 81.3 271.5 82.3 272 84 272.5 85.9 273 86.8 273.5 86.4 274 86.2 274.5 85.7 275 85.5 275.5 83.3 276 82.2 276.5 82.2 277 80.6 277.5 80.3 278 80.4 278.5 80.7 279 80.8 279.5 83.6 280 84.5 280.5 89 281 91.5 281.5 95.9 282 101.7 282.5 106.1 283 111.3 283.5 117.1 284 123.5 284.5 129.2 285 135.2 285.5 141.8 286 146.7 286.5 152.6 287 158.1 287.5 164.4 288 169.2 288.5 173.9 289 177.1 289.5 180.5 290 184 290.5 185.4 291 187.6 291.5 188.1 292 187.2 292.5 187.4 293 187 293.5 187.5 294 187.4 294.5 184.9 295 184 295.5 181.5 296 181.7 296.5 180.2 297 178.1 297.5 177.6 298 174.4 298.5 173.4 299 171.7 299.5 168.9 300 168 300.5 165.9 301 162.2 301.5 159.8 302 158.6 302.5 155.8 303 152.6 303.5 150.5 304 148 304.5 145.3 305 143.2 305.5 140.2 306 138.3 306.5 135.3 307 132.1 307.5 129.6 308 126.9 308.5 123.8 309 119.8 309.5 118.3 310 115.1 310.5 113.3 311 109.7 311.5 107.3 312 104.6 312.5 102.8 313 99.4 313.5 96.7 314 94.6 314.5 91.8 315 89.9 315.5 87.7 316 85.7 316.5 84.7 317 81.4 317.5 79.9 318 78 318.5 77 319 74.4 319.5 73.3 320 72.5 320.5 71.7 321 70.4 321.5 69.3 322 68.5 322.5 68.8 323 69 323.5 68.1 324 68 324.5 68.3 325 67.9 325.5 68.7 326 69.4 326.5 70.6 327 71.4 327.5 71.8 328 74.4 328.5 76.2 329 76.5 329.5 78.5 330 80.2 330.5 82.3 331 82.9 331.5 86.8 332 87.7 332.5 90.9 333 92.4 333.5 94.5 334 97 334.5 100.1 335 101.5 335.5 104.3 336 106.8 336.5 108.7 337 113.1 337.5 115.3 338 117.5 338.5 120.9 339 122.2 339.5 125.3 340 129 340.5 131.1 341 131.7 341.5 133.6 342 137.4 342.5 141.1 343 142.5 343.5 144.9 344 147.6 344.5 148.8 345 151.5 345.5 153.8 346 155.5 346.5 157.2 347 158.3 347.5 160.5 348 161.3 348.5 163.6 349 165.5 349.5 164.6 350 164.6 350.5 166.3 351 167.3 351.5 168.1 352 168.3 352.5 167.2 353 166.6 353.5 166.6 354 163.3 354.5 162.3 355 158.5 355.5 155.7 356 151.8 356.5 147.6 357 142.9 357.5 136.8 358 132.2 358.5 126.4 359 120.6 359.5 115.1 360 107.9 360.5 101.1 361 94.6 361.5 88.2 362 82.1 362.5 74.5 363 69 363.5 61.9 364 55 364.5 48 365 42.7 365.5 36.9 366 29.6 366.5 25.9 367 20.9 367.5 15.3 368 10.8 368.5 7.8 369 3.1 369.5 -2.1 370 -5.4 370.5 -9.2 371 -12.9 371.5 -17.9 372 -19.6 372.5 -23.9 373 -26.8 373.5 -30.3 374 -33 374.5 -37 375 -40.5" stroke="#1ae4b6" stroke-width="2.9" fill="none" stroke-linejoin="round" /><path d="M60 123.7 60.5 123.5 61 123.9 61.5 122.6 62 126.2 62.5 125.9 63 124.9 63.5 125.9 64 125.5 64.5 124.9 65 126.2 65.5 125.2 66 125.2 66.5 124.8 67 125.2 67.5 121.7 68 117.9 68.5 113.3 69 112.2 69.5 113.2 70 117.7 70.5 118.9 71 116.2 71.5 110.1 72 102.8 72.5 101.4 73 104.1 73.5 104.4 74 106 74.5 103.9 75 100.9 75.5 96.1 76 96 76.5 96.2 77 96.6 77.5 97.8 78 98.6 78.5 100.5 79 99.9 79.5 101.5 80 103.2 80.5 105.7 81 105 81.5 106.1 82 107.9 82.5 110.5 83 111 83.5 113.7 84 112.7 84.5 116.6 85 118 85.5 117.5 86 120.2 86.5 122.5 87 123 87.5 125.1 88 127.5 88.5 127.1 89 127.8 89.5 128.6 90 130.7 90.5 131 91 131.8 91.5 132.6 92 133.8 92.5 133 93 132.9 93.5 132.4 94 135.4 94.5 134.3 95 134.9 95.5 132.8 96 131 96.5 130.5 97 128.4 97.5 125.5 98 123.7 98.5 123.5 99 120 99.5 117.6 100 114.5 100.5 111.6 101 110.3 101.5 106.9 102 103.9 102.5 102.1 103 99.2 103.5 97.9 104 96.8 104.5 93.5 105 93.8 105.5 90.9 106 90.7 106.5 89.3 107 89.6 107.5 90 108 90 108.5 90.4 109 91.3 109.5 92.3 110 92.9 110.5 95.4 111 97.5 111.5 99.6 112 101.2 112.5 104.5 113 104.8 113.5 106.2 114 110.1 114.5 109.9 115 113.6 115.5 114.2 116 117.3 116.5 117.4 117 121.6 117.5 122.6 118 123.7 118.5 127.4 119 128.1 119.5 128.8 120 129.3 120.5 130.7 121 131.3 121.5 132.5 122 132.7 122.5 131.5 123 131.2 123.5 130.6 124 129.1 124.5 128.6 125 127.8 125.5 126.9 126 125.8 126.5 122.3 127 121.5 127.5 118.7 128 118.6 128.5 114.7 129 112.9 129.5 109.4 130 107.2 130.5 105.7 131 102.9 131.5 101.1 132 97.3 132.5 96.9 133 93.5 133.5 93.6 134 90 134.5 89.3 135 85.7 135.5 85.7 136 83.3 136.5 82.5 137 82 137.5 81.1 138 81.1 138.5 81.4 139 81.5 139.5 81.4 140 81.1 140.5 82.6 141 84.4 141.5 84.4 142 88.5 142.5 89.7 143 91.9 143.5 95.2 144 97.4 144.5 99.7 145 101.5 145.5 105.4 146 108.3 146.5 110.4 147 114.9 147.5 117.6 148 118.7 148.5 123.4 149 125.4 149.5 130.3 150 133 150.5 134.3 151 137.3 151.5 140.7 152 143 152.5 146.8 153 148.3 153.5 149.6 154 152.1 154.5 151.6 155 154.8 155.5 156.4 156 156.4 156.5 156.5 157 157.7 157.5 158.7 158 156.8 158.5 154.8 159 155.6 159.5 151.3 160 151.3 160.5 148.2 161 147 161.5 142.8 162 141.6 162.5 137.7 163 132.7 163.5 129.1 164 126.8 164.5 124.4 165 119.7 165.5 115.8 166 111.7 166.5 108.6 167 104.4 167.5 100.5 168 95.7 168.5 93.7 169 90.2 169.5 84.6 170 84.1 170.5 79.7 171 75.7 171.5 71.8 172 71.4 172.5 69 173 66.1 173.5 63.5 174 64.5 174.5 62.1 175 61.6 175.5 64.1 176 63.7 176.5 63.4 177 63.2 177.5 65.4 178 64.7 178.5 68.6 179 70.2 179.5 72.4 180 74.9 180.5 79.7 181 82.6 181.5 86.1 182 90.2 182.5 92.7 183 96.3 183.5 99.9 184 105.1 184.5 110.2 185 113.7 185.5 118.6 186 121.5 186.5 126.3 187 130.3 187.5 134.1 188 140.8 188.5 144 189 146.6 189.5 150.4 190 154.7 190.5 157.1 191 161.9 191.5 163.6 192 167.2 192.5 169.2 193 172 193.5 173.4 194 174.9 194.5 176.8 195 178.1 195.5 179.1 196 179.6 196.5 180.7 197 179.6 197.5 177.8 198 177.4 198.5 174.6 199 174.4 199.5 171.5 200 167.4 200.5 166.3 201 163.4 201.5 157.3 202 155.4 202.5 152 203 147 203.5 143.7 204 139.7 204.5 136.6 205 132.1 205.5 129.6 206 122.7 206.5 119.5 207 114.1 207.5 109.7 208 104.1 208.5 99 209 95.5 209.5 92.4 210 88.8 210.5 83.9 211 79.8 211.5 74.9 212 73.1 212.5 69.4 213 64.6 213.5 61.9 214 58.3 214.5 57.8 215 54.6 215.5 52.2 216 51 216.5 49.7 217 48 217.5 46.8 218 46.5 218.5 46.3 219 48.6 219.5 50.9 220 49 220.5 52 221 54 221.5 54.9 222 58.2 222.5 59.8 223 64.4 223.5 66 224 69.8 224.5 73.6 225 76.3 225.5 78.9 226 83.8 226.5 88.8 227 92.1 227.5 96.5 228 99.7 228.5 104.9 229 109.7 229.5 113.4 230 119.3 230.5 121.9 231 125.5 231.5 129.2 232 135.6 232.5 138.7 233 143.6 233.5 147 234 151.7 234.5 155.1 235 157.2 235.5 161 236 164.8 236.5 165.8 237 170.6 237.5 172.9 238 174.9 238.5 175.9 239 177.9 239.5 178.1 240 180 240.5 180.2 241 181.1 241.5 180.6 242 180.9 242.5 181 243 178.2 243.5 179 244 175.4 244.5 173.7 245 173.6 245.5 171.8 246 170.1 246.5 166.1 247 165 247.5 162.5 248 160.7 248.5 156.7 249 154.2 249.5 149.9 250 147.3 250.5 143.8 251 141.3 251.5 136.5 252 133.1 252.5 130.7 253 128 253.5 123.3 254 119.6 254.5 115.4 255 112.9 255.5 108.8 256 106.1 256.5 101.4 257 96.9 257.5 93.7 258 90 258.5 86.5 259 85.2 259.5 81.7 260 77.1 260.5 76.6 261 72.6 261.5 69 262 67.6 262.5 64.9 263 62.2 263.5 59.3 264 59.2 264.5 57.8 265 54.2 265.5 55.6 266 54.8 266.5 53.3 267 53.4 267.5 53 268 52.7 268.5 53.4 269 55.4 269.5 53.8 270 56.1 270.5 57.1 271 57.6 271.5 59.2 272 60 272.5 62.2 273 64.7 273.5 66.9 274 68 274.5 73.3 275 72.7 275.5 75.6 276 77.8 276.5 80.3 277 84.3 277.5 85.6 278 89.8 278.5 92.5 279 93.6 279.5 98.2 280 99.8 280.5 105.5 281 106 281.5 108.6 282 110.8 282.5 114.3 283 117.9 283.5 120.6 284 123.3 284.5 126.7 285 130 285.5 134.2 286 134.4 286.5 138.1 287 140.5 287.5 142.6 288 145.3 288.5 148 289 151.7 289.5 153.2 290 155 290.5 157.9 291 159.5 291.5 160.9 292 163 292.5 163.4 293 165.9 293.5 166.9 294 167.2 294.5 167.3 295 170.1 295.5 169.4 296 172 296.5 169.1 297 170.2 297.5 168.9 298 169 298.5 169 299 167 299.5 166.8 300 166.2 300.5 165.2 301 164.5 301.5 163.6 302 162.2 302.5 160.4 303 158.5 303.5 156.3 304 155 304.5 153.5 305 152.8 305.5 150.1 306 147.6 306.5 147.2 307 144.1 307.5 142.2 308 140.6 308.5 139.1 309 134.7 309.5 133.6 310 132.5 310.5 130 311 127.4 311.5 125.6 312 125 312.5 121.3 313 120.2 313.5 118.1 314 115 314.5 113.7 315 110.9 315.5 108.8 316 106.4 316.5 106.1 317 103.2 317.5 101.3 318 99.1 318.5 99.7 319 97.3 319.5 95 320 93.1 320.5 91 321 91.2 321.5 90 322 87.5 322.5 88.5 323 87.3 323.5 85.1 324 84.7 324.5 84.3 325 84.3 325.5 83.7 326 82.4 326.5 84.8 327 84 327.5 85 328 85.3 328.5 84.6 329 85.7 329.5 86.7 330 87.5 330.5 87.7 331 88.4 331.5 90 332 90.5 332.5 92 333 92.1 333.5 95.2 334 95.8 334.5 97.7 335 99.7 335.5 101.7 336 104.6 336.5 105 337 105.5 337.5 108.5 338 109.8 338.5 112.4 339 113.4 339.5 115.2 340 117.2 340.5 119 341 119.9 341.5 122.6 342 125 342.5 127.8 343 128.3 343.5 130 344 132.5 344.5 134.1 345 136.6 345.5 137.3 346 138.3 346.5 140.8 347 142.3 347.5 142 348 143.7 348.5 143.4 349 145.5 349.5 146 350 147.4 350.5 147.9 351 148.7 351.5 149.3 352 150.1 352.5 150.2 353 149.7 353.5 149 354 150.3 354.5 149.2 355 145.9 355.5 144.4 356 139.9 356.5 136.6 357 134 357.5 131.3 358 124.9 358.5 120.3 359 117.3 359.5 109.2 360 105.8 360.5 100 361 93.7 361.5 88.1 362 84.1 362.5 75.1 363 69.7 363.5 63.8 364 57.5 364.5 51.1 365 47.7 365.5 41.1 366 34.1 366.5 29.8 367 25.8 367.5 21.3 368 15.5 368.5 12.7 369 9.2 369.5 5.5 370 1.9 370.5 -3.5 371 -4.1 371.5 -8.9 372 -11.1 372.5 -13.7 373 -19.4 373.5 -23.6 374 -25.2 374.5 -29.2 375 -32.6" stroke="#4685fa" stroke-width="3.0" fill="none" stroke-linejoin="round" /><path d="M60 124.5 60.5 125.6 61 125.3 61.5 123.1 62 126.7 62.5 126.2 63 124.9 63.5 126.7 64 126.4 64.5 126.4 65 126 65.5 126.8 66 124.9 66.5 125.8 67 124.6 67.5 123 68 117.7 68.5 113.3 69 110.8 69.5 113.4 70 117.2 70.5 118.6 71 118 71.5 111 72 98.9 72.5 97.2 73 101.6 73.5 104.6 74 107.3 74.5 104.9 75 102.6 75.5 93.3 76 93.5 76.5 97.6 77 96.5 77.5 97.6 78 97.1 78.5 96.5 79 100.3 79.5 101.4 80 100.6 80.5 102.7 81 105 81.5 105.1 82 107.8 82.5 109.6 83 111.1 83.5 111.8 84 115 84.5 117.1 85 117.8 85.5 117.6 86 121.5 86.5 121.2 87 124.7 87.5 123.2 88 127.6 88.5 127.5 89 126.9 89.5 129.5 90 131.1 90.5 132.4 91 131.4 91.5 132 92 134.6 92.5 134.1 93 135.5 93.5 136.6 94 133 94.5 135.7 95 136.5 95.5 133.3 96 131.3 96.5 132.1 97 129.5 97.5 128.5 98 124.4 98.5 120.3 99 119.8 99.5 116.7 100 115.9 100.5 112.3 101 106.8 101.5 104.8 102 105.3 102.5 102.5 103 98.2 103.5 96.9 104 95.5 104.5 93.7 105 92.8 105.5 90.6 106 89.1 106.5 88.3 107 90.1 107.5 85.3 108 88.9 108.5 89.8 109 88.5 109.5 92.3 110 92.1 110.5 95.9 111 96 111.5 99 112 101.7 112.5 102.5 113 102.7 113.5 103.9 114 111 114.5 110.4 115 111.7 115.5 115.1 116 116.8 116.5 120.5 117 121.3 117.5 123.1 118 123.9 118.5 127.3 119 126.6 119.5 130.5 120 132.9 120.5 129.3 121 128.6 121.5 133.7 122 136.8 122.5 131.4 123 130.7 123.5 132.8 124 129.7 124.5 129.1 125 128 125.5 127.8 126 124.7 126.5 123.8 127 121.2 127.5 118 128 116.6 128.5 113.3 129 112.4 129.5 108.3 130 105.8 130.5 107.2 131 102.5 131.5 100 132 98.5 132.5 94.8 133 92.8 133.5 91.6 134 89.4 134.5 85.3 135 86.6 135.5 82.9 136 80.8 136.5 79.9 137 79.7 137.5 82 138 77.4 138.5 79.2 139 76 139.5 79.7 140 81.8 140.5 81.2 141 82 141.5 85 142 87.5 142.5 89.6 143 93.8 143.5 93.6 144 95.1 144.5 98.5 145 101.5 145.5 104.8 146 107.7 146.5 111.1 147 111.6 147.5 118.5 148 119.7 148.5 122 149 128 149.5 132.1 150 134 150.5 136.5 151 137.8 151.5 146.3 152 146 152.5 145.5 153 148.3 153.5 151.7 154 151.2 154.5 155.5 155 156 155.5 159.6 156 160.1 156.5 155.3 157 159.6 157.5 157 158 160.4 158.5 158.1 159 157.3 159.5 153.3 160 155.4 160.5 153.4 161 146.3 161.5 145.5 162 141 162.5 138.6 163 133.3 163.5 134.1 164 126.3 164.5 123.4 165 120.5 165.5 114.9 166 111.4 166.5 106.8 167 103.3 167.5 97.8 168 94.9 168.5 91.3 169 87.3 169.5 84.2 170 80.2 170.5 78.3 171 73.7 171.5 71 172 67.6 172.5 65.4 173 62.4 173.5 63 174 59.4 174.5 58.9 175 59.7 175.5 59.5 176 58.7 176.5 57.2 177 61.4 177.5 62.6 178 62.2 178.5 67.1 179 67.6 179.5 69.7 180 74.3 180.5 77.1 181 81.1 181.5 82.3 182 90.6 182.5 91.4 183 94.4 183.5 101.4 184 104.5 184.5 109.7 185 113.4 185.5 118.2 186 123.1 186.5 126.4 187 132.6 187.5 135.6 188 139.5 188.5 144.9 189 149.5 189.5 152.7 190 155.7 190.5 161.3 191 161.8 191.5 165.9 192 170.3 192.5 171.3 193 175.5 193.5 177.5 194 180.5 194.5 179.8 195 181.2 195.5 183.1 196 180 196.5 186.6 197 181.5 197.5 180.5 198 181.1 198.5 178.3 199 174.2 199.5 174.7 200 172.4 200.5 167.9 201 164.9 201.5 162.4 202 157.1 202.5 154.8 203 150.5 203.5 145.3 204 140.2 204.5 137.1 205 131.8 205.5 129.3 206 123.6 206.5 119.6 207 114.1 207.5 109.5 208 103.6 208.5 100.5 209 97.1 209.5 90.2 210 85.4 210.5 81.6 211 77 211.5 72.7 212 69.7 212.5 65.6 213 64 213.5 59.2 214 56.6 214.5 54.6 215 50.8 215.5 50.6 216 46.6 216.5 45 217 44.4 217.5 44.1 218 42.5 218.5 44.2 219 43 219.5 47.2 220 46.9 220.5 47.9 221 49.5 221.5 52.2 222 54.9 222.5 56.7 223 59.8 223.5 63.8 224 66.8 224.5 71.9 225 75.8 225.5 78.6 226 83.1 226.5 85.4 227 91.7 227.5 95.4 228 100.3 228.5 105.9 229 106.5 229.5 113.6 230 116.8 230.5 123 231 125.6 231.5 130.9 232 135.9 232.5 140.6 233 144.3 233.5 147.6 234 151.8 234.5 157 235 159.8 235.5 161.6 236 167.3 236.5 169.9 237 173.2 237.5 174.6 238 178 238.5 178.2 239 181.5 239.5 181.9 240 184 240.5 185.1 241 183.8 241.5 184.4 242 184.2 242.5 184.6 243 183.3 243.5 180.5 244 180.6 244.5 179.3 245 178.7 245.5 173.3 246 172.1 246.5 171.4 247 166.4 247.5 163.9 248 162.5 248.5 159.9 249 155.3 249.5 153 250 149.3 250.5 147 251 142.1 251.5 139.3 252 134 252.5 130.9 253 127.1 253.5 124.4 254 120 254.5 115.1 255 112.4 255.5 108.7 256 104.1 256.5 100.3 257 96.6 257.5 91.7 258 89.7 258.5 86.2 259 81.9 259.5 79.9 260 75 260.5 72.6 261 69.8 261.5 69 262 63.5 262.5 62.8 263 60.9 263.5 58.4 264 57.2 264.5 53.8 265 51.4 265.5 52.6 266 50.2 266.5 50.2 267 49.2 267.5 50.8 268 50.8 268.5 49.9 269 51.8 269.5 51.9 270 52.7 270.5 54 271 55.1 271.5 57.2 272 58.6 272.5 59.8 273 62.8 273.5 63.6 274 66.5 274.5 68.9 275 72.1 275.5 73.1 276 77.5 276.5 78.9 277 81.4 277.5 83.9 278 87.8 278.5 90.4 279 92.5 279.5 95.5 280 99.1 280.5 102.2 281 106.7 281.5 110.1 282 112.9 282.5 115.7 283 118.2 283.5 121.7 284 125.5 284.5 129.6 285 131.7 285.5 133.7 286 136.9 286.5 139.4 287 142 287.5 145.2 288 148.1 288.5 152 289 153 289.5 156.4 290 159 290.5 159.7 291 162.9 291.5 164.1 292 164.8 292.5 166.9 293 168.1 293.5 169.1 294 170.1 294.5 171.2 295 172.1 295.5 171.5 296 172.5 296.5 171.3 297 172.6 297.5 172.6 298 171.8 298.5 171.3 299 170.9 299.5 169.1 300 168.5 300.5 168.1 301 167.4 301.5 165.6 302 166 302.5 162.5 303 161.8 303.5 160.5 304 157.7 304.5 155.4 305 153.2 305.5 152.4 306 151.3 306.5 148.6 307 146.5 307.5 143.9 308 142.6 308.5 138.2 309 137.9 309.5 135.6 310 132.2 310.5 132.8 311 127.7 311.5 125.7 312 123.4 312.5 123 313 119.1 313.5 118.2 314 115.9 314.5 113.5 315 110.1 315.5 108.5 316 108.3 316.5 103.9 317 102.3 317.5 100.9 318 99.9 318.5 97.6 319 96.3 319.5 93.2 320 93.3 320.5 91.5 321 88.4 321.5 89.6 322 89.1 322.5 85.5 323 85.2 323.5 85.5 324 82.4 324.5 81.4 325 81.5 325.5 81.8 326 81.6 326.5 82.5 327 82.3 327.5 81.3 328 83.2 328.5 84.7 329 84.8 329.5 85.4 330 85.5 330.5 87.2 331 86.7 331.5 89.2 332 89.8 332.5 92.1 333 93 333.5 93.3 334 95.8 334.5 98.3 335 98.1 335.5 100.3 336 101.9 336.5 103.1 337 107 337.5 109.1 338 110.6 338.5 112.1 339 113.8 339.5 116 340 117.2 340.5 120.5 341 122.5 341.5 124.4 342 125.1 342.5 127.5 343 129.2 343.5 132.6 344 133.1 344.5 133.2 345 136.7 345.5 139.5 346 140.1 346.5 141.8 347 142.5 347.5 142.3 348 143.7 348.5 145.3 349 147.3 349.5 148.6 350 149.8 350.5 149.7 351 151.4 351.5 151 352 151 352.5 152.5 353 151.3 353.5 149.7 354 150.3 354.5 149.9 355 145.5 355.5 145.2 356 142.2 356.5 137.9 357 134 357.5 130.6 358 125.8 358.5 122.3 359 116.4 359.5 109.3 360 104.1 360.5 99.4 361 94.3 361.5 86.9 362 80.5 362.5 75.4 363 67.6 363.5 61 364 53.9 364.5 48.5 365 44.6 365.5 35.9 366 31.4 366.5 24.8 367 20.9 367.5 16.7 368 11.3 368.5 8 369 4 369.5 -0.2 370 -3 370.5 -7.6 371 -12.2 371.5 -16.2 372 -19.9 372.5 -22.5 373 -26.6 373.5 -27.7 374 -31.8 374.5 -36.8 375 -40.3" stroke="#38237f" stroke-width="3.2" fill="none" stroke-linejoin="round" /></g>
<clipPath id="c10"><rect x="66.7" y="237.6" width="301.6" height="196.9"/></clipPath>
<g clip-path="url(#c10)"><path d="M60 352 60.5 350.7 61 349.2 61.5 348 62 347 62.5 350.5 63 349.1 63.5 349.1 64 350.3 64.5 350.7 65 346.8 65.5 352.6 66 347.4 66.5 354.4 67 352.2 67.5 350.4 68 353.7 68.5 351.4 69 352.6 69.5 351.6 70 353.5 70.5 353.5 71 350 71.5 350.5 72 352.3 72.5 351.3 73 347.6 73.5 355.4 74 347.9 74.5 348.1 75 349.6 75.5 352.9 76 355.2 76.5 351.5 77 351.3 77.5 352.3 78 351.3 78.5 352.1 79 349.9 79.5 352.8 80 352.7 80.5 347.6 81 351.8 81.5 352.3 82 353 82.5 350.5 83 349.5 83.5 350.2 84 352.8 84.5 350.3 85 350.4 85.5 353.8 86 350.3 86.5 350 87 351.4 87.5 351.9 88 353.4 88.5 349.8 89 348.5 89.5 351.1 90 352.4 90.5 348.5 91 350.2 91.5 351.6 92 351.4 92.5 351.1 93 350.4 93.5 349.4 94 349.1 94.5 352.7 95 348.6 95.5 352.7 96 348.1 96.5 355.6 97 347.2 97.5 353.2 98 348.6 98.5 350 99 350 99.5 348.9 100 354 100.5 350.1 101 347.5 101.5 351 102 351.1 102.5 347.7 103 350.6 103.5 349.7 104 351 104.5 350.8 105 349.4 105.5 348.6 106 350.9 106.5 349.8 107 346.5 107.5 348.1 108 348.1 108.5 348.5 109 353 109.5 348.1 110 349.6 110.5 351.7 111 349.5 111.5 349.3 112 350.8 112.5 348.8 113 348.7 113.5 349.6 114 349 114.5 347 115 346.1 115.5 348 116 350.7 116.5 347.7 117 350.2 117.5 348.8 118 347.5 118.5 343.3 119 348.4 119.5 347.5 120 345.1 120.5 348.9 121 348 121.5 348.7 122 347 122.5 348.5 123 347.4 123.5 350.2 124 348.6 124.5 346 125 349 125.5 348.9 126 348.5 126.5 346.6 127 351 127.5 348 128 352.2 128.5 348.4 129 349.8 129.5 349.8 130 350.3 130.5 354.7 131 349.4 131.5 354 132 351.7 132.5 349.5 133 353 133.5 352.4 134 352.8 134.5 349 135 352.2 135.5 350.8 136 351.3 136.5 351.5 137 351.8 137.5 354.5 138 352.5 138.5 348.8 139 354.1 139.5 352.1 140 352.2 140.5 348.9 141 352.6 141.5 351.1 142 353.4 142.5 352.5 143 352.9 143.5 350.8 144 348.3 144.5 352.7 145 351.6 145.5 350.2 146 349.6 146.5 348.8 147 347.2 147.5 347.9 148 349.4 148.5 351.9 149 349.8 149.5 351.4 150 346.9 150.5 350.3 151 347.3 151.5 350.1 152 349.4 152.5 347.3 153 347.2 153.5 348.7 154 345.2 154.5 342.9 155 347.4 155.5 349.3 156 342.7 156.5 345.9 157 343.6 157.5 344.8 158 343.6 158.5 346.5 159 344.2 159.5 344.7 160 343.3 160.5 346.2 161 344.3 161.5 344.6 162 345.3 162.5 343.4 163 345.8 163.5 343.6 164 346.1 164.5 346.4 165 346.5 165.5 347.1 166 346.8 166.5 349 167 348.6 167.5 348.3 168 349.1 168.5 348.9 169 350.1 169.5 350.2 170 348.4 170.5 353.9 171 351.2 171.5 351.2 172 353 172.5 349.7 173 352.5 173.5 353.8 174 353.1 174.5 353.8 175 353.2 175.5 353.3 176 353.8 176.5 354.1 177 352.2 177.5 354.1 178 354 178.5 352.6 179 352.5 179.5 353.2 180 354.5 180.5 354.1 181 351.1 181.5 351.2 182 350.9 182.5 351.8 183 350.7 183.5 351 184 351.9 184.5 350.1 185 350 185.5 349.5 186 347.5 186.5 347.9 187 347.4 187.5 346.6 188 348.9 188.5 347.2 189 342.4 189.5 344.5 190 345.1 190.5 344.9 191 343.4 191.5 343.7 192 343.3 192.5 342.8 193 344 193.5 342.8 194 341.9 194.5 342 195 342.2 195.5 340.5 196 341.1 196.5 342.5 197 342.9 197.5 338.5 198 344.8 198.5 340.8 199 342.7 199.5 339.9 200 342.6 200.5 341.8 201 341.8 201.5 341.6 202 341.8 202.5 343.2 203 341.4 203.5 342.2 204 342.2 204.5 340.8 205 343.2 205.5 343.2 206 342.8 206.5 341.9 207 343.4 207.5 343.9 208 344.3 208.5 344.6 209 343.3 209.5 346.3 210 346.3 210.5 346.5 211 346.4 211.5 347.7 212 347.2 212.5 348 213 347.2 213.5 347.3 214 348.1 214.5 346.8 215 347.6 215.5 348.4 216 347.7 216.5 345.7 217 348.2 217.5 348.3 218 350.4 218.5 347.3 219 348.9 219.5 351.9 220 347.5 220.5 350.1 221 349.9 221.5 348.8 222 351 222.5 350.1 223 348.2 223.5 350.7 224 350 224.5 352.9 225 351.8 225.5 350.6 226 352.2 226.5 354.2 227 350.6 227.5 350.9 228 352 228.5 352.1 229 352.2 229.5 350.2 230 351.9 230.5 350.3 231 350.5 231.5 352.1 232 350.1 232.5 351.2 233 349.9 233.5 350.1 234 349.7 234.5 349.8 235 349.5 235.5 347.5 236 349.7 236.5 348.1 237 348 237.5 347.6 238 345.5 238.5 345.5 239 345.2 239.5 344.9 240 345.9 240.5 345.6 241 346.8 241.5 344.7 242 344.1 242.5 341.8 243 340.6 243.5 341.1 244 340.4 244.5 339.3 245 339.7 245.5 340.1 246 339.4 246.5 340 247 339.4 247.5 339 248 339.7 248.5 338.2 249 338.3 249.5 339.6 250 339.1 250.5 336.7 251 338.3 251.5 339.8 252 339 252.5 339.9 253 337.5 253.5 339.7 254 337.6 254.5 340.5 255 339.1 255.5 342 256 340.4 256.5 341.6 257 342.2 257.5 342.4 258 341.4 258.5 344 259 343.4 259.5 346.6 260 344.6 260.5 345.5 261 345.5 261.5 347.9 262 348.2 262.5 347.8 263 348.7 263.5 347.4 264 347.7 264.5 350.2 265 348.6 265.5 349.4 266 348.7 266.5 350 267 351 267.5 350.9 268 350 268.5 352.3 269 352.1 269.5 350.1 270 351.7 270.5 352.7 271 352.9 271.5 353.8 272 354.9 272.5 354.3 273 354.6 273.5 356.2 274 356.7 274.5 355.4 275 357.4 275.5 354.9 276 357.9 276.5 357.3 277 356.5 277.5 357.1 278 357.9 278.5 359.1 279 359 279.5 358.7 280 358.4 280.5 359 281 358.1 281.5 358.9 282 358.7 282.5 359.2 283 359.9 283.5 359.4 284 358.3 284.5 360.6 285 359.8 285.5 360.1 286 359.1 286.5 359.3 287 359.1 287.5 360.2 288 357.7 288.5 359 289 357.8 289.5 357.9 290 356.4 290.5 354.9 291 356.4 291.5 354.7 292 354.7 292.5 354.2 293 351.5 293.5 351.7 294 351.1 294.5 350.9 295 350.1 295.5 349.4 296 347.7 296.5 348.1 297 346.2 297.5 345.2 298 344 298.5 342.5 299 342.5 299.5 341.9 300 341 300.5 341.7 301 339.3 301.5 338.5 302 336.4 302.5 336.4 303 335.9 303.5 335.5 304 334.2 304.5 334 305 332.3 305.5 333.4 306 332.7 306.5 330.5 307 329.7 307.5 329.9 308 330.2 308.5 329.1 309 329.6 309.5 329.9 310 329.9 310.5 330 311 327.9 311.5 327.6 312 329.8 312.5 329.2 313 329.6 313.5 329.9 314 330.9 314.5 332.5 315 331.7 315.5 332.6 316 335.4 316.5 336.1 317 335.2 317.5 336.1 318 338.9 318.5 340.4 319 342.4 319.5 342.4 320 343.5 320.5 343.8 321 345.1 321.5 345.7 322 348 322.5 348.3 323 349.7 323.5 349.9 324 349.6 324.5 351 325 352.5 325.5 352.4 326 351.1 326.5 353.6 327 352.6 327.5 354.1 328 352.6 328.5 351.9 329 352.8 329.5 350.7 330 352 330.5 350 331 350.2 331.5 347.8 332 348.2 332.5 347 333 348.1 333.5 345.5 334 345.5 334.5 344.5 335 344.9 335.5 344.9 336 345.7 336.5 345.4 337 343.8 337.5 346.8 338 345.7 338.5 346.8 339 346.1 339.5 347.4 340 347.1 340.5 347.5 341 348.1 341.5 348 342 349.5 342.5 349.9 343 350.6 343.5 351.4 344 351.6 344.5 351.4 345 352.1 345.5 351.6 346 352.3 346.5 351.6 347 350.4 347.5 351.3 348 351.2 348.5 351.7 349 352 349.5 352.3 350 352.8 350.5 351.6 351 352.1 351.5 353.1 352 353.1 352.5 353.7 353 352.6 353.5 354.6 354 352.3 354.5 351.7 355 352.7 355.5 351.9 356 353.5 356.5 352.9 357 351.8 357.5 353.2 358 353.9 358.5 352.6 359 352.8 359.5 352.3 360 352 360.5 350.7 361 350.8 361.5 349.1 362 348.7 362.5 348.1 363 346.2 363.5 344 364 342.8 364.5 340.3 365 337.2 365.5 335.7 366 333.5 366.5 330.4 367 328.5 367.5 324.8 368 323.1 368.5 320.6 369 317.5 369.5 314.5 370 312.2" stroke="#7a0403" stroke-width="2.8" fill="none" stroke-linejoin="round" /><path d="M60 343.6 60.5 346.3 61 347.1 61.5 346.9 62 348.7 62.5 343.2 63 345.3 63.5 343 64 340.3 64.5 341.9 65 343.8 65.5 341.2 66 342.8 66.5 345.8 67 344.4 67.5 344.3 68 343.7 68.5 342.4 69 338.2 69.5 345 70 338.9 70.5 343 71 342.2 71.5 342.7 72 342.9 72.5 341.5 73 344.4 73.5 339.1 74 344.1 74.5 338.1 75 345 75.5 340.9 76 343 76.5 345.7 77 336.8 77.5 341.3 78 343.4 78.5 344.2 79 345.3 79.5 343.5 80 343.2 80.5 342.3 81 342.7 81.5 342.3 82 344.5 82.5 342.6 83 344 83.5 346.4 84 345.4 84.5 341.9 85 342.7 85.5 344.9 86 341.8 86.5 339.1 87 341.3 87.5 345.2 88 343.6 88.5 343.5 89 346.3 89.5 342.3 90 350.4 90.5 345.3 91 344.7 91.5 350.6 92 343.3 92.5 344.9 93 346.1 93.5 344.2 94 345.9 94.5 348.3 95 347.5 95.5 347.1 96 349.7 96.5 352 97 351.4 97.5 342.7 98 351.1 98.5 349.8 99 348.9 99.5 345.6 100 346.9 100.5 347.5 101 344.6 101.5 350.9 102 350 102.5 347.8 103 345.5 103.5 350.9 104 349.1 104.5 350 105 346.4 105.5 353 106 346.8 106.5 351.7 107 342.1 107.5 347.5 108 346.8 108.5 340.4 109 344.8 109.5 343.2 110 342.6 110.5 344 111 342.9 111.5 346.3 112 346.5 112.5 345.9 113 343.1 113.5 343.8 114 348.9 114.5 343.9 115 344.6 115.5 343.1 116 345.7 116.5 346.4 117 346.2 117.5 345.2 118 345.8 118.5 343.6 119 345.5 119.5 341.6 120 344.2 120.5 346.1 121 341.6 121.5 346 122 344.9 122.5 341.3 123 340.3 123.5 340.6 124 342.2 124.5 345.5 125 345.5 125.5 348 126 350.6 126.5 344.4 127 340.9 127.5 342.4 128 341.4 128.5 344.7 129 345.3 129.5 349.7 130 343.5 130.5 346.7 131 346.9 131.5 347.4 132 346.6 132.5 352.9 133 347.9 133.5 348.6 134 350.3 134.5 349.4 135 353.1 135.5 346.5 136 348.9 136.5 348.4 137 349.4 137.5 351.7 138 348.5 138.5 345.5 139 350.1 139.5 347.7 140 351.4 140.5 350.5 141 354.6 141.5 351.1 142 348 142.5 350.5 143 351.8 143.5 349.5 144 349.1 144.5 348.4 145 347.9 145.5 346.5 146 350.9 146.5 348.9 147 344.7 147.5 349.8 148 347.2 148.5 347.4 149 346.9 149.5 348.8 150 341.3 150.5 345.7 151 346.6 151.5 344.8 152 341.4 152.5 341.9 153 344.7 153.5 347 154 339.7 154.5 342.3 155 343.9 155.5 343.6 156 344 156.5 345.1 157 344.1 157.5 339.4 158 341.7 158.5 340 159 342.1 159.5 345.1 160 344.1 160.5 346.8 161 345 161.5 344.5 162 344.5 162.5 341.3 163 342.6 163.5 344.3 164 344.9 164.5 344.9 165 342.1 165.5 342.2 166 342.4 166.5 348.6 167 345.2 167.5 347.4 168 346 168.5 346.2 169 346.4 169.5 346.5 170 347.7 170.5 349.5 171 345.8 171.5 348.6 172 348.3 172.5 348.3 173 350.6 173.5 352.6 174 347.2 174.5 350.2 175 352 175.5 351.7 176 347.1 176.5 351 177 349.3 177.5 349.1 178 351.3 178.5 347.9 179 350 179.5 351 180 348.1 180.5 347.2 181 352.7 181.5 346.8 182 350.7 182.5 346.8 183 348.1 183.5 346.6 184 347.5 184.5 347.2 185 344.6 185.5 346 186 347.6 186.5 344.2 187 341.3 187.5 345.4 188 343.1 188.5 344.9 189 343.2 189.5 342.2 190 342.8 190.5 343.6 191 343.2 191.5 340.1 192 339.7 192.5 339.7 193 343.5 193.5 341.6 194 339.5 194.5 340.4 195 342.9 195.5 338.5 196 339.6 196.5 341.4 197 341.3 197.5 341 198 338.4 198.5 339.9 199 335.9 199.5 339.3 200 338.9 200.5 339.1 201 342.1 201.5 340 202 340.1 202.5 341.8 203 343.8 203.5 339.7 204 342.5 204.5 341.1 205 339.4 205.5 341.3 206 343 206.5 342.4 207 342.4 207.5 343.4 208 343.3 208.5 343.7 209 342.8 209.5 345.7 210 341.6 210.5 345.8 211 344.6 211.5 347.3 212 344.7 212.5 343.2 213 347.8 213.5 348.9 214 344.9 214.5 348.6 215 348.6 215.5 346.9 216 349.6 216.5 347.6 217 350.5 217.5 350.9 218 348.7 218.5 348.9 219 349.6 219.5 346.7 220 348.5 220.5 349.4 221 352.6 221.5 351 222 349.4 222.5 347.6 223 349.2 223.5 348.5 224 346.2 224.5 347.4 225 345.5 225.5 346.4 226 342.1 226.5 348.3 227 345.2 227.5 344 228 344.2 228.5 342.4 229 344 229.5 345.7 230 343.9 230.5 342.6 231 342.5 231.5 342.5 232 341.4 232.5 340.8 233 341.3 233.5 341.4 234 340 234.5 340.9 235 338.7 235.5 337.8 236 337.5 236.5 340.4 237 338.9 237.5 339.8 238 338.9 238.5 339.4 239 340.2 239.5 338.2 240 339.3 240.5 342.1 241 342.8 241.5 340.7 242 340.9 242.5 340 243 339.6 243.5 342.1 244 342.9 244.5 342.2 245 342.5 245.5 341.1 246 343.7 246.5 342.9 247 342 247.5 344.3 248 342.3 248.5 342.4 249 344 249.5 342.9 250 343.1 250.5 345.4 251 345.1 251.5 344.6 252 346.2 252.5 345.9 253 346.9 253.5 347.2 254 347.4 254.5 345.5 255 348 255.5 347.3 256 348 256.5 347.7 257 348.7 257.5 347.9 258 347.7 258.5 349.1 259 348.2 259.5 347.5 260 348.7 260.5 348.7 261 348.8 261.5 349 262 348.6 262.5 348.6 263 352.5 263.5 348.5 264 349.8 264.5 349.6 265 348.8 265.5 348.9 266 348.4 266.5 348.2 267 351.2 267.5 348.4 268 348.6 268.5 350.5 269 348.2 269.5 350.9 270 349.5 270.5 350.9 271 348.7 271.5 348.9 272 350.3 272.5 349.2 273 348.8 273.5 350.4 274 349.5 274.5 348.7 275 349.5 275.5 350 276 349.3 276.5 351.7 277 350.1 277.5 349.5 278 349.7 278.5 350.4 279 349.1 279.5 349.3 280 349.6 280.5 349.4 281 349.3 281.5 347.1 282 349 282.5 349.6 283 350.6 283.5 349 284 350 284.5 349.9 285 350.4 285.5 352.3 286 352.3 286.5 352.7 287 350.6 287.5 351 288 352.7 288.5 351.4 289 353.4 289.5 355.8 290 351.9 290.5 353.9 291 353.1 291.5 353.4 292 352.7 292.5 351.2 293 352.1 293.5 351.5 294 350.8 294.5 351.6 295 351.5 295.5 350 296 351 296.5 350.1 297 349.9 297.5 349.3 298 347.9 298.5 350 299 347.8 299.5 347.6 300 345.8 300.5 345.5 301 345.6 301.5 343.5 302 343.9 302.5 344.3 303 342.1 303.5 341.9 304 340.1 304.5 340.7 305 340.3 305.5 339.4 306 339.3 306.5 338 307 337.7 307.5 338.4 308 337.7 308.5 336.8 309 337.8 309.5 335.8 310 335.5 310.5 336 311 337.2 311.5 334.7 312 334.7 312.5 334.7 313 334.5 313.5 334 314 335.8 314.5 336.2 315 336.1 315.5 336.2 316 335.8 316.5 337.1 317 337.2 317.5 336.8 318 338 318.5 337.3 319 338.4 319.5 338.5 320 340.3 320.5 339.5 321 341 321.5 339.8 322 341.7 322.5 342.6 323 342.3 323.5 342.1 324 342.6 324.5 343.7 325 344 325.5 344 326 343.6 326.5 344 327 345.4 327.5 345.5 328 346.9 328.5 347.8 329 347.8 329.5 347.7 330 348.4 330.5 349.7 331 348.2 331.5 350.8 332 351.1 332.5 350.4 333 351.3 333.5 351.7 334 353 334.5 352.8 335 351.9 335.5 349.9 336 354.7 336.5 353.7 337 352.6 337.5 351.6 338 352.5 338.5 351.9 339 354 339.5 353.4 340 351 340.5 352.9 341 351.7 341.5 352.2 342 350.9 342.5 349.5 343 349.5 343.5 350.6 344 351 344.5 351.1 345 350.7 345.5 349 346 348.8 346.5 348.7 347 347.6 347.5 348.3 348 346.4 348.5 346.6 349 345.9 349.5 345.7 350 346.2 350.5 344.7 351 344.6 351.5 343.8 352 343.2 352.5 343.8 353 341.7 353.5 341.6 354 342 354.5 341.3 355 340.5 355.5 339.8 356 338.4 356.5 339.4 357 338.4 357.5 339.4 358 338.4 358.5 335.6 359 337.5 359.5 337.5 360 336.3 360.5 336.3 361 335.9 361.5 335.6 362 333.9 362.5 334.6 363 335.1 363.5 332.4 364 333.6 364.5 330.7 365 332.7 365.5 333 366 332.3 366.5 329.8 367 332.4 367.5 330.5 368 330.8 368.5 328.5 369 328.2 369.5 328 370 328.2" stroke="#f05b12" stroke-width="2.9" fill="none" stroke-linejoin="round" /><path d="M60 351.3 60.8 351.4 61.6 351.9 62.4 351.2 63.2 351.5 64 351.4 64.8 350 65.6 350.9 66.4 349.8 67.2 350.8 68 349.7 68.8 348.5 69.6 348.2 70.4 347.4 71.2 346.7 72 346.4 72.8 345.2 73.6 344.9 74.4 343.6 75.2 342.4 76 341.1 76.8 340.4 77.6 340.8 78.4 340.7 79.2 340.8 80 339.7 80.8 340.1 81.6 339.8 82.4 340.2 83.2 339.5 84 341.4 84.8 341.1 85.6 341.9 86.4 342.6 87.2 343.1 88 342.9 88.8 344.9 89.6 345.1 90.4 345.5 91.2 345.6 92 345.7 92.8 346.2 93.6 347.5 94.4 348.2 95.2 348.2 96 349.9 96.8 349.5 97.6 350.1 98.4 350.3 99.2 349.4 100 350.5 100.8 350.2 101.6 349.1 102.4 349.8 103.2 349.6 104 349.1 104.8 348.6 105.6 346.8 106.4 346.7 107.2 346 108 345.6 108.8 345 109.6 344.9 110.4 344.2 111.2 342.9 112 343.3 112.8 343.3 113.6 342.3 114.4 341.3 115.2 341.7 116 341.9 116.8 341.2 117.6 342 118.4 341.5 119.2 342.7 120 342.7 120.8 342.5 121.6 342 122.4 342.9 123.2 342.7 124 342.8 124.8 343.9 125.6 343.2 126.4 343.1 127.2 344.5 128 345.2 128.8 345.4 129.6 345.2 130.4 346.2 131.2 345.6 132 347.8 132.8 348.9 133.6 348.9 134.4 350.6 135.2 351.1 136 352.6 136.8 354.6 137.6 354.8 138.4 356.4 139.2 357 140 357.1 140.8 357.4 141.6 357.6 142.4 356.2 143.2 355.9 144 355.4 144.8 353.5 145.6 352.4 146.4 350.4 147.2 350.7 148 349.8 148.8 348.3 149.6 347.9 150.4 346.5 151.2 345 152 343.5 152.8 342.2 153.6 341.8 154.4 341.3 155.2 340.5 156 340 156.8 339.8 157.6 340.4 158.4 339.4 159.2 340.5 160 341.2 160.8 342.2 161.6 342.9 162.4 343.3 163.2 344.1 164 344.8 164.8 347 165.6 347.8 166.4 348.7 167.2 349.3 168 350.2 168.8 352.4 169.6 352.8 170.4 354 171.2 355.5 172 354.7 172.8 355.7 173.6 356.8 174.4 357.4 175.2 356.8 176 357.4 176.8 357 177.6 356.8 178.4 357 179.2 356.4 180 356.4 180.8 355.4 181.6 355.1 182.4 353.1 183.2 352.8 184 350.9 184.8 349.8 185.6 348.9 186.4 348.8 187.2 347.4 188 345.3 188.8 345.7 189.6 344.3 190.4 342.6 191.2 341.5 192 340.5 192.8 338.8 193.6 339.6 194.4 337.2 195.2 336.5 196 335.6 196.8 334.7 197.6 333.9 198.4 334 199.2 332.8 200 332.6 200.8 332.5 201.6 333.3 202.4 332.5 203.2 332.8 204 333.9 204.8 333.7 205.6 334.7 206.4 336.1 207.2 336.7 208 337.4 208.8 339.2 209.6 339.3 210.4 340.4 211.2 341 212 343.1 212.8 344.7 213.6 345.3 214.4 347.9 215.2 348.7 216 349.9 216.8 350.1 217.6 352 218.4 353.2 219.2 353.1 220 355.2 220.8 356.1 221.6 356.2 222.4 358.1 223.2 359.5 224 359.5 224.8 359.1 225.6 359.7 226.4 360.5 227.2 359.6 228 360 228.8 359.6 229.6 359.3 230.4 359.6 231.2 357.4 232 358.1 232.8 356.9 233.6 355.9 234.4 354.2 235.2 354.2 236 352.9 236.8 350.5 237.6 350.2 238.4 349.2 239.2 348.1 240 347.1 240.8 345.8 241.6 345.8 242.4 344.4 243.2 342.6 244 342.2 244.8 341.4 245.6 339.5 246.4 337.5 247.2 337.3 248 336.9 248.8 334.8 249.6 334.4 250.4 334.1 251.2 333.6 252 332.8 252.8 332.1 253.6 331.5 254.4 331 255.2 331.6 256 331.6 256.8 331.2 257.6 331.9 258.4 334 259.2 335.2 260 336 260.8 337.5 261.6 340.6 262.4 343.3 263.2 345.8 264 348.3 264.8 349.8 265.6 353.3 266.4 355.8 267.2 358.3 268 362.7 268.8 363.9 269.6 366.5 270.4 368.5 271.2 371 272 373.1 272.8 374 273.6 375.4 274.4 376.2 275.2 376.5 276 377.1 276.8 377.2 277.6 376.6 278.4 375.8 279.2 374.1 280 374 280.8 372.5 281.6 371.6 282.4 368.7 283.2 366.4 284 364 284.8 362.3 285.6 360.2 286.4 357.9 287.2 354.3 288 352.1 288.8 350.1 289.6 346.8 290.4 343.8 291.2 340.8 292 337.3 292.8 334.5 293.6 332.1 294.4 330.1 295.2 327.3 296 323.9 296.8 321.6 297.6 319 298.4 316.9 299.2 313.6 300 311.9 300.8 310.3 301.6 307.3 302.4 306.2 303.2 304.9 304 303.7 304.8 302.7 305.6 302 306.4 301.7 307.2 301.6 308 301.2 308.8 302.5 309.6 302 310.4 303.3 311.2 305.1 312 306.4 312.8 308.1 313.6 310.4 314.4 314.2 315.2 316 316 318.5 316.8 323 317.6 325.3 318.4 328.4 319.2 331 320 334.8 320.8 337.5 321.6 341.1 322.4 344 323.2 346.8 324 349.9 324.8 352 325.6 354.8 326.4 356.9 327.2 359.5 328 361.6 328.8 363.6 329.6 364.3 330.4 368.2 331.2 369.3 332 371.4 332.8 373.5 333.6 375.6 334.4 378.2 335.2 379.5 336 381.3 336.8 383.3 337.6 385 338.4 385.1 339.2 386.1 340 386.7 340.8 387.3 341.6 388.8 342.4 388.8 343.2 388.1 344 386.7 344.8 384.3 345.6 381.5 346.4 378 347.2 372.4 348 368.9 348.8 363.7 349.6 357.5 350.4 352.7 351.2 347.2 352 341.4 352.8 337.4 353.6 332 354.4 328.8 355.2 324.8 356 322.3 356.8 320.8 357.6 319.4 358.4 318.7 359.2 319.4 360 320.1 360.8 320.9 361.6 321 362.4 323.1 363.2 323.9 364 325.5 364.8 328.4 365.6 330.4 366.4 333 367.2 335.7 368 337.9 368.8 342.6 369.6 346.6 370.4 350.5 371.2 355.9 372 360.1" stroke="#e1dd37" stroke-width="2.8" fill="none" stroke-linejoin="round" /><path d="M60 358.3 60.8 357.4 61.6 356.9 62.4 356.1 63.2 356.8 64 357 64.8 356.1 65.6 355.9 66.4 355.6 67.2 354.3 68 355 68.8 352.7 69.6 352.1 70.4 351.9 71.2 349.5 72 348.3 72.8 346.6 73.6 345.6 74.4 343.2 75.2 342.4 76 342.1 76.8 340.3 77.6 339 78.4 338.2 79.2 337.4 80 336.7 80.8 336.4 81.6 335.3 82.4 336.3 83.2 336.1 84 337.3 84.8 337.7 85.6 338.3 86.4 339.9 87.2 340.8 88 343 88.8 344.2 89.6 346.2 90.4 347.1 91.2 350 92 351 92.8 353.5 93.6 355.1 94.4 356 95.2 358.3 96 359.6 96.8 361.5 97.6 363.3 98.4 364.3 99.2 365.6 100 365.6 100.8 366.9 101.6 367.4 102.4 368 103.2 367.3 104 367.5 104.8 367 105.6 365.5 106.4 364.8 107.2 364.3 108 362.4 108.8 361 109.6 360.3 110.4 358.5 111.2 356.6 112 355 112.8 353.1 113.6 351.2 114.4 349.5 115.2 348.1 116 346.7 116.8 344.4 117.6 343 118.4 341.5 119.2 339.7 120 339.1 120.8 338.4 121.6 336.8 122.4 336.9 123.2 335.9 124 336.4 124.8 336.4 125.6 335.6 126.4 334.9 127.2 335.5 128 335 128.8 335 129.6 335.3 130.4 335.9 131.2 335.3 132 335.2 132.8 334.5 133.6 335 134.4 334.7 135.2 335.4 136 335 136.8 335.4 137.6 336 138.4 336.8 139.2 338.4 140 339.5 140.8 340.5 141.6 341.9 142.4 343.2 143.2 344.5 144 344.7 144.8 345.6 145.6 344.6 146.4 344.2 147.2 342.7 148 342.3 148.8 340 149.6 338.2 150.4 337 151.2 334.5 152 332.5 152.8 331.4 153.6 329.2 154.4 328.2 155.2 326.5 156 326.2 156.8 325.9 157.6 325.7 158.4 327 159.2 327.2 160 328.7 160.8 330.6 161.6 333.1 162.4 335 163.2 337.6 164 340.7 164.8 344.1 165.6 346.5 166.4 349.4 167.2 353 168 356.4 168.8 359 169.6 362.3 170.4 364.3 171.2 367.7 172 370.1 172.8 372.4 173.6 374 174.4 375.6 175.2 375.9 176 377.2 176.8 376.3 177.6 376.1 178.4 375.5 179.2 373.6 180 370.1 180.8 368.2 181.6 364.6 182.4 360.8 183.2 357.2 184 353 184.8 349.1 185.6 343.5 186.4 339.3 187.2 334.7 188 329.5 188.8 326.1 189.6 322 190.4 316.9 191.2 313.4 192 309.5 192.8 306.5 193.6 303.3 194.4 301.6 195.2 299.1 196 298.9 196.8 298 197.6 298.9 198.4 297.7 199.2 299.2 200 300 200.8 302 201.6 304 202.4 305.6 203.2 307.8 204 310.3 204.8 314 205.6 317.4 206.4 320.6 207.2 323.6 208 326.7 208.8 330.6 209.6 333.9 210.4 337.7 211.2 342.6 212 345.9 212.8 350.1 213.6 353.7 214.4 358.2 215.2 362.1 216 364.9 216.8 368.7 217.6 372.1 218.4 376.3 219.2 379.5 220 381.9 220.8 385.7 221.6 387.4 222.4 389.3 223.2 391.1 224 393.6 224.8 395.3 225.6 396.1 226.4 397.3 227.2 398.1 228 397.6 228.8 397.6 229.6 397.2 230.4 395.6 231.2 393.7 232 392.3 232.8 390.3 233.6 388.5 234.4 384.8 235.2 381.5 236 379.1 236.8 375.8 237.6 372.1 238.4 368.8 239.2 365 240 361.5 240.8 356.7 241.6 352.8 242.4 349 243.2 344.8 244 341.4 244.8 337.2 245.6 332.9 246.4 329.7 247.2 325.4 248 322 248.8 318.3 249.6 314.6 250.4 311.4 251.2 308.4 252 305.2 252.8 303 253.6 301.2 254.4 299 255.2 296.9 256 296.9 256.8 294.6 257.6 294.7 258.4 294.6 259.2 295 260 294.4 260.8 295.3 261.6 295.9 262.4 297.3 263.2 297.9 264 298.9 264.8 300 265.6 301.6 266.4 302.8 267.2 305.1 268 307.2 268.8 311.2 269.6 314.3 270.4 319.3 271.2 323.5 272 327.9 272.8 332.8 273.6 338.4 274.4 343.8 275.2 348.9 276 354.3 276.8 359.6 277.6 364.6 278.4 369.7 279.2 374.5 280 379.3 280.8 383.1 281.6 386.3 282.4 390.3 283.2 392.7 284 394.1 284.8 396 285.6 396.1 286.4 395.9 287.2 394.9 288 394 288.8 390.9 289.6 387.8 290.4 384.1 291.2 379.7 292 375.5 292.8 370.8 293.6 366.3 294.4 359.9 295.2 355.7 296 350.1 296.8 344.1 297.6 340.3 298.4 336 299.2 331.6 300 327.5 300.8 324.3 301.6 320.8 302.4 319.8 303.2 318.7 304 318 304.8 318.7 305.6 319.1 306.4 321.2 307.2 321.1 308 322.7 308.8 324 309.6 326.6 310.4 328.8 311.2 330.9 312 332.8 312.8 335.6 313.6 337.6 314.4 340.1 315.2 341.6 316 342.8 316.8 345.2 317.6 346.4 318.4 348.4 319.2 348.8 320 349.6 320.8 350 321.6 349.3 322.4 349.5 323.2 349.5 324 348.3 324.8 347.6 325.6 346.8 326.4 345.4 327.2 344.4 328 343.4 328.8 341.9 329.6 340.8 330.4 339.5 331.2 337.9 332 336.6 332.8 336.8 333.6 335.3 334.4 333.3 335.2 332.2 336 330.6 336.8 328.9 337.6 326.8 338.4 324.9 339.2 323.7 340 323 340.8 322.8 341.6 322.4 342.4 321.5 343.2 323.8 344 329.9 344.8 337.9 345.6 345.7 346.4 355.8 347.2 364.8 348 372.5 348.8 378.3 349.6 381.1 350.4 381.1 351.2 379.7 352 379 352.8 377.4 353.6 375.1 354.4 372.5 355.2 369.3 356 366.1 356.8 363.5 357.6 359.3 358.4 356.1 359.2 353.2 360 349.5 360.8 346 361.6 343.5 362.4 341.2 363.2 339.3 364 337.7 364.8 337.3 365.6 336.9 366.4 337.1 367.2 337.5 368 339.2 368.8 340.7 369.6 342.9 370 342.8" stroke="#46f884" stroke-width="2.8" fill="none" stroke-linejoin="round" /><path d="M60 355 60.5 356.5 61 356.8 61.5 357.4 62 358.6 62.5 356.8 63 357.6 63.5 357.4 64 358.7 64.5 359.8 65 359.2 65.5 359.9 66 358.1 66.5 359.9 67 359.1 67.5 361.3 68 360.7 68.5 360.8 69 360 69.5 360.4 70 360.2 70.5 359.1 71 358.4 71.5 358.1 72 357 72.5 356.2 73 355.5 73.5 354.2 74 354.3 74.5 351.2 75 351.9 75.5 349.5 76 348.3 76.5 346.3 77 345.9 77.5 344.4 78 343.4 78.5 341.4 79 340.6 79.5 340.6 80 338.1 80.5 336.1 81 336.1 81.5 334 82 333.5 82.5 332.4 83 330.7 83.5 328.6 84 329.1 84.5 329.1 85 327.8 85.5 328.1 86 328.2 86.5 326.9 87 328.3 87.5 328.9 88 328.9 88.5 329.5 89 330.3 89.5 332.1 90 331.6 90.5 332.6 91 334.5 91.5 334.7 92 335.8 92.5 338 93 340.7 93.5 342.6 94 342.8 94.5 344.4 95 347.5 95.5 349.6 96 351.6 96.5 354.1 97 356.4 97.5 357.5 98 359.6 98.5 360 99 361.6 99.5 364.3 100 366.2 100.5 367.6 101 368.8 101.5 370.1 102 371.1 102.5 369.9 103 371.4 103.5 372.8 104 373.3 104.5 371.7 105 373.8 105.5 372.3 106 372.1 106.5 372.1 107 371.9 107.5 369.5 108 370.7 108.5 369.1 109 367.5 109.5 366.8 110 364.2 110.5 364.2 111 363.7 111.5 361.6 112 360.6 112.5 359.3 113 358 113.5 357.3 114 354.9 114.5 353.2 115 352.2 115.5 351.8 116 348.3 116.5 347.4 117 344.1 117.5 344.8 118 342.7 118.5 341.7 119 339 119.5 336.7 120 336.8 120.5 335.2 121 332.5 121.5 330.7 122 331 122.5 329.3 123 330.4 123.5 326.7 124 325.8 124.5 325.2 125 323.2 125.5 323.1 126 324.5 126.5 322.6 127 321.9 127.5 321.1 128 322.5 128.5 322.6 129 322.8 129.5 323.2 130 325.1 130.5 326.9 131 328 131.5 331.4 132 331.7 132.5 335 133 338.7 133.5 341.8 134 343.9 134.5 348.2 135 351.8 135.5 354.3 136 357 136.5 360.2 137 362.5 137.5 363.6 138 366.5 138.5 369.5 139 369 139.5 371.1 140 371.4 140.5 371.3 141 371.1 141.5 371.6 142 371.3 142.5 370.5 143 368.2 143.5 368 144 367.3 144.5 366.4 145 364.6 145.5 363.1 146 361.6 146.5 359.5 147 356.3 147.5 355.1 148 352.5 148.5 349.1 149 347.6 149.5 348.5 150 343.9 150.5 341 151 340.3 151.5 340 152 336.9 152.5 335.4 153 333.1 153.5 331.7 154 331.2 154.5 329.4 155 327.5 155.5 327.2 156 326.4 156.5 324.6 157 324.5 157.5 324.1 158 323.3 158.5 324.8 159 324 159.5 324 160 323.7 160.5 324.7 161 327.7 161.5 326.5 162 328.8 162.5 329.3 163 331.3 163.5 332.6 164 332.9 164.5 334.8 165 336.7 165.5 338.3 166 339.8 166.5 341.3 167 343.7 167.5 346 168 347.2 168.5 347.9 169 350.6 169.5 352.1 170 354.2 170.5 357 171 357.1 171.5 358.9 172 359.9 172.5 361.9 173 363.2 173.5 366.4 174 366.7 174.5 367.3 175 370.5 175.5 369 176 371.7 176.5 372.7 177 373.1 177.5 373.1 178 373.7 178.5 373.8 179 374.9 179.5 372.4 180 373.7 180.5 374 181 373 181.5 371.4 182 372 182.5 370.8 183 371.1 183.5 370.5 184 368.3 184.5 365.5 185 365.6 185.5 363.6 186 363.4 186.5 362.6 187 359.9 187.5 359.6 188 357.5 188.5 355.1 189 352.1 189.5 351.1 190 348 190.5 348.1 191 345.5 191.5 344.7 192 341.9 192.5 338.3 193 338.5 193.5 336.9 194 335.7 194.5 331.8 195 330.2 195.5 329.3 196 326.8 196.5 325 197 323.7 197.5 325.3 198 321.4 198.5 319.8 199 319.1 199.5 318.4 200 318.5 200.5 317.5 201 316.6 201.5 315.5 202 315.1 202.5 314.2 203 313.4 203.5 316.3 204 314.5 204.5 316.1 205 315.7 205.5 316.7 206 317.7 206.5 317.9 207 320.3 207.5 322.1 208 324.1 208.5 325.6 209 327.9 209.5 329.4 210 331.2 210.5 331.8 211 335.3 211.5 339.3 212 340.5 212.5 343.5 213 345.2 213.5 347.4 214 352.1 214.5 353.3 215 356.8 215.5 358.5 216 360.4 216.5 361.4 217 365.7 217.5 366.8 218 368.6 218.5 373.7 219 375.5 219.5 377.6 220 379.2 220.5 381 221 383.2 221.5 384.7 222 386.2 222.5 388.1 223 386.8 223.5 390.6 224 390.3 224.5 392.2 225 393 225.5 391.7 226 393.1 226.5 393 227 391.5 227.5 391.1 228 391 228.5 388.3 229 388.7 229.5 388.1 230 386.3 230.5 383.9 231 383.3 231.5 383.1 232 381.2 232.5 378.1 233 375.5 233.5 374 234 371.8 234.5 369 235 366.9 235.5 365.2 236 362.9 236.5 357.7 237 357.8 237.5 354.5 238 352.7 238.5 349 239 346.7 239.5 344.9 240 338.5 240.5 339.5 241 335.7 241.5 331.4 242 328.1 242.5 327.8 243 324.2 243.5 323.3 244 320.2 244.5 317.6 245 316.2 245.5 313.3 246 311.6 246.5 309.6 247 307.2 247.5 305.8 248 304 248.5 300.7 249 300.1 249.5 298.9 250 297.6 250.5 295.6 251 295.5 251.5 295.6 252 294.9 252.5 295.7 253 293.8 253.5 294 254 294.2 254.5 294.9 255 295.4 255.5 295.4 256 298.3 256.5 300.1 257 301.7 257.5 301.6 258 304.1 258.5 307.7 259 308.3 259.5 310.9 260 312.9 260.5 316.3 261 318.9 261.5 322.7 262 324 262.5 326.8 263 328.5 263.5 332.1 264 335 264.5 338.4 265 340.8 265.5 346.1 266 347.5 266.5 351.8 267 353.8 267.5 358.4 268 362.7 268.5 364 269 368.1 269.5 371 270 374.4 270.5 377.6 271 379.8 271.5 383.1 272 385.6 272.5 388.3 273 390.6 273.5 395 274 396.1 274.5 399.6 275 401.8 275.5 402.7 276 406.3 276.5 406.6 277 409.4 277.5 411.6 278 411.1 278.5 412.1 279 413 279.5 416.3 280 414.7 280.5 414.3 281 416 281.5 415.1 282 414.7 282.5 413.2 283 411.2 283.5 411.2 284 409.5 284.5 407.4 285 405.9 285.5 403.9 286 403 286.5 400.5 287 397.7 287.5 394.1 288 390.6 288.5 388.7 289 385.6 289.5 382.7 290 378.5 290.5 374.9 291 371.6 291.5 366.9 292 363.2 292.5 360.5 293 355.1 293.5 352.2 294 348.9 294.5 344.5 295 340.7 295.5 335.5 296 332.3 296.5 328.3 297 325.1 297.5 321.1 298 317 298.5 314.8 299 310 299.5 305.8 300 302 300.5 299.1 301 295.4 301.5 294.1 302 290.2 302.5 286.7 303 283.7 303.5 280.8 304 279.1 304.5 278.2 305 275.9 305.5 273.4 306 272 306.5 269.1 307 270.1 307.5 268.5 308 269.2 308.5 267.6 309 267.4 309.5 268.7 310 269.4 310.5 273 311 274.5 311.5 277.2 312 280 312.5 282.3 313 285.8 313.5 288 314 291.4 314.5 292.2 315 294.8 315.5 296.4 316 298.1 316.5 299 317 300.2 317.5 299 318 299.4 318.5 298 319 297.4 319.5 295.7 320 297.4 320.5 298 321 295.9 321.5 297.1 322 296.8 322.5 296.1 323 298.1 323.5 298.1 324 300.2 324.5 303.3 325 304.7 325.5 306.2 326 311 326.5 312.1 327 316.1 327.5 319.4 328 323.2 328.5 326.5 329 329.8 329.5 336.7 330 338.7 330.5 343.1 331 346.2 331.5 352.7 332 358.1 332.5 362.7 333 368.3 333.5 371.7 334 375.3 334.5 379.3 335 384.7 335.5 387.7 336 392 336.5 395 337 399.6 337.5 404.7 338 406.4 338.5 410 339 410.7 339.5 416.4 340 418 340.5 420.9 341 421.8 341.5 422.4 342 423.1 342.5 425.4 343 425.3 343.5 424.5 344 424.9 344.5 423.9 345 424.1 345.5 422.1 346 420.1 346.5 419.4 347 417.2 347.5 416.8 348 413 348.5 409.8 349 408.1 349.5 405.1 350 402.5 350.5 399.3 351 394.9 351.5 392.2 352 388.5 352.5 383.8 353 380.4 353.5 377 354 371.4 354.5 367.6 355 363.8 355.5 359.6 356 355.6 356.5 349.6 357 346.3 357.5 341.9 358 337.9 358.5 331.7 359 326.5 359.5 321.3 360 318.2 360.5 314 361 307.7 361.5 303.9 362 299.5 362.5 294.9 363 289.2 363.5 285.5 364 280.5 364.5 275.4 365 272 365.5 267.9 366 262.7 366.5 259.8 367 257.1 367.5 250.6 368 248.7 368.5 245.3 369 241.2 369.5 237.9 370 234 370.5 231.9 371 226.6 371.5 223.8 372 218.9 372.5 217.3 373 213.9 373.5 208.9 374 206.1 374.5 203.8 375 199.6" stroke="#3e9bfe" stroke-width="2.9" fill="none" stroke-linejoin="round" /><path d="M60 345 60.8 345.4 61.6 345.2 62.4 344.5 63.2 344.3 64 344 64.8 344 65.6 343.5 66.4 343.4 67.2 342.1 68 342.4 68.8 341 69.6 340.1 70.4 338.8 71.2 337.8 72 337.4 72.8 337.2 73.6 337 74.4 337.6 75.2 338.9 76 339.8 76.8 341.2 77.6 343.4 78.4 344.8 79.2 346 80 347.8 80.8 349.1 81.6 349.6 82.4 350 83.2 350.8 84 351.3 84.8 351.3 85.6 351.3 86.4 351.9 87.2 352.2 88 352 88.8 352.5 89.6 352.9 90.4 352.7 91.2 352.9 92 353.6 92.8 354 93.6 354.9 94.4 355.1 95.2 356.3 96 357.4 96.8 358.2 97.6 359.8 98.4 360.9 99.2 361.3 100 362.4 100.8 362.5 101.6 362.4 102.4 361.8 103.2 361.1 104 359.2 104.8 358.2 105.6 356.5 106.4 353.8 107.2 352.2 108 349.7 108.8 347.6 109.6 344.8 110.4 342.4 111.2 340 112 337.2 112.8 335.3 113.6 332.8 114.4 330.9 115.2 328.7 116 327.6 116.8 326.1 117.6 324.8 118.4 324.3 119.2 324.2 120 324.4 120.8 323.9 121.6 325.4 122.4 326.4 123.2 327.6 124 328.9 124.8 331.4 125.6 332.7 126.4 335.4 127.2 337.9 128 339.4 128.8 342.2 129.6 344.3 130.4 347.2 131.2 350 132 352.5 132.8 353.6 133.6 356.1 134.4 358.4 135.2 360.5 136 361.7 136.8 362.6 137.6 364 138.4 364.6 139.2 364.9 140 364.7 140.8 364.3 141.6 362.9 142.4 360.8 143.2 358.2 144 355 144.8 351.9 145.6 348.8 146.4 344.5 147.2 340.1 148 336.8 148.8 332.5 149.6 328.9 150.4 324.4 151.2 320.5 152 316.7 152.8 314.5 153.6 312.2 154.4 309 155.2 307.4 156 306.8 156.8 306.1 157.6 306.7 158.4 308 159.2 310.1 160 312.9 160.8 315.8 161.6 319.7 162.4 323.4 163.2 328 164 332 164.8 337.2 165.6 343.1 166.4 348 167.2 353.7 168 359 168.8 364.4 169.6 369.4 170.4 374.3 171.2 378.6 172 382.7 172.8 386.6 173.6 390 174.4 392.7 175.2 395.2 176 396.9 176.8 397.9 177.6 397.9 178.4 396.9 179.2 396.4 180 395 180.8 393.3 181.6 390.7 182.4 387.6 183.2 384.4 184 381.8 184.8 377.7 185.6 374.1 186.4 370.1 187.2 364.9 188 360.8 188.8 356.4 189.6 351.9 190.4 347.3 191.2 342.7 192 338.2 192.8 333.3 193.6 329.5 194.4 325.3 195.2 321.8 196 318 196.8 315 197.6 312.1 198.4 309.4 199.2 307.2 200 305.4 200.8 303.9 201.6 303.3 202.4 303 203.2 303.7 204 304.7 204.8 306.6 205.6 308.3 206.4 311.8 207.2 314.6 208 318.3 208.8 322.5 209.6 326.7 210.4 331.6 211.2 336.1 212 341 212.8 346.1 213.6 351.8 214.4 356.6 215.2 361.2 216 366.5 216.8 370.8 217.6 376.4 218.4 379.6 219.2 384.2 220 387.8 220.8 390.4 221.6 393.6 222.4 396 223.2 397.4 224 398.3 224.8 398.8 225.6 397.9 226.4 396.4 227.2 394 228 391.7 228.8 388.5 229.6 386.4 230.4 383.7 231.2 381.2 232 379.1 232.8 376.9 233.6 374.1 234.4 370.9 235.2 368.3 236 364.9 236.8 361.4 237.6 357.5 238.4 352.4 239.2 348.4 240 343.1 240.8 338.1 241.6 332.6 242.4 327.3 243.2 322.3 244 317.7 244.8 313.1 245.6 308 246.4 304.1 247.2 299.8 248 296 248.8 293.9 249.6 291.9 250.4 290.3 251.2 290 252 290.3 252.8 290.6 253.6 291.6 254.4 293.7 255.2 295.9 256 298.4 256.8 301.7 257.6 305.3 258.4 308.2 259.2 312.5 260 316.7 260.8 321.1 261.6 325.8 262.4 330.1 263.2 335.4 264 340.8 264.8 345.6 265.6 350.4 266.4 355.9 267.2 361.3 268 366.2 268.8 371.1 269.6 376.7 270.4 380.8 271.2 386.1 272 390.5 272.8 394.5 273.6 399.3 274.4 402.9 275.2 406 276 409.7 276.8 412.2 277.6 414.3 278.4 416.7 279.2 418.6 280 419.8 280.8 420.2 281.6 420.3 282.4 419.8 283.2 418.3 284 416.8 284.8 414 285.6 411 286.4 407.5 287.2 403 288 398.6 288.8 394.4 289.6 388.8 290.4 383.1 291.2 377.4 292 371 292.8 365 293.6 358.2 294.4 351.9 295.2 344.6 296 338.7 296.8 331.3 297.6 324.2 298.4 317.9 299.2 311.2 300 304.9 300.8 298.1 301.6 292.5 302.4 287.6 303.2 280.5 304 275.7 304.8 270.6 305.6 266.2 306.4 261.5 307.2 258.1 308 255.4 308.8 252.7 309.6 251.2 310.4 249.2 311.2 248.7 312 249.6 312.8 249.2 313.6 250.5 314.4 252.8 315.2 255.5 316 258.9 316.8 262.4 317.6 266.3 318.4 271.3 319.2 277 320 282 320.8 286.5 321.6 293.3 322.4 299.4 323.2 306.3 324 312.6 324.8 320 325.6 326.6 326.4 333.4 327.2 340.1 328 346.9 328.8 353.8 329.6 360.7 330.4 367 331.2 373.1 332 379.7 332.8 385.2 333.6 390.7 334.4 395.6 335.2 400.5 336 404.8 336.8 408.1 337.6 412.6 338.4 415.3 339.2 417.3 340 419.4 340.8 420.2 341.6 420.4 342.4 419.2 343.2 418.9 344 417.6 344.8 415.9 345.6 413.4 346.4 410.3 347.2 406.1 348 401.9 348.8 398.4 349.6 393.6 350.4 388.9 351.2 383.3 352 377.9 352.8 371.5 353.6 366.1 354.4 359.5 355.2 353.3 356 346.8 356.8 339.9 357.6 333.2 358.4 326.2 359.2 319.5 360 312.5 360.8 305.3 361.6 298.4 362.4 292.2 363.2 285 364 278.7 364.8 272 365.6 265.4 366.4 259.3 367.2 253.7 368 248.1 368.8 242.8 369.6 236.8 370.4 231.6 371.2 226.3 372 221.3 372.8 214.5 373.6 209.8 374.4 204 375 200.1" stroke="#38237f" stroke-width="3.0" fill="none" stroke-linejoin="round" /></g>
<clipPath id="c20"><rect x="66.7" y="474.4" width="301.6" height="196.8"/></clipPath>
<g clip-path="url(#c20)"><path d="M60 577.4 60.8 577.4 61.6 577.4 62.4 577.4 63.2 577.4 64 577.4 64.8 577.5 65.6 577.5 66.4 577.5 67.2 577.5 68 577.6 68.8 577.6 69.6 577.6 70.4 577.7 71.2 577.7 72 577.7 72.8 577.8 73.6 577.8 74.4 577.9 75.2 577.9 76 578 76.8 578 77.6 578.1 78.4 578.1 79.2 578.2 80 578.2 80.8 578.3 81.6 578.3 82.4 578.4 83.2 578.5 84 578.6 84.8 578.7 85.6 578.9 86.4 579 87.2 579.1 88 579.3 88.8 579.4 89.6 579.5 90.4 579.7 91.2 579.8 92 580 92.8 580.1 93.6 580.2 94.4 580.4 95.2 580.5 96 580.6 96.8 580.7 97.6 580.7 98.4 580.8 99.2 580.9 100 580.9 100.8 580.9 101.6 580.9 102.4 580.9 103.2 580.8 104 580.8 104.8 580.7 105.6 580.7 106.4 580.6 107.2 580.5 108 580.4 108.8 580.3 109.6 580.2 110.4 580.1 111.2 580 112 579.9 112.8 579.8 113.6 579.7 114.4 579.6 115.2 579.5 116 579.5 116.8 579.4 117.6 579.3 118.4 579.2 119.2 579.2 120 579.1 120.8 579.1 121.6 579.1 122.4 579.1 123.2 579.1 124 579.1 124.8 579.2 125.6 579.2 126.4 579.3 127.2 579.3 128 579.4 128.8 579.4 129.6 579.5 130.4 579.6 131.2 579.7 132 579.8 132.8 579.8 133.6 579.9 134.4 580 135.2 580.1 136 580.2 136.8 580.3 137.6 580.4 138.4 580.4 139.2 580.5 140 580.6 140.8 580.6 141.6 580.7 142.4 580.8 143.2 580.8 144 580.8 144.8 580.9 145.6 580.9 146.4 580.9 147.2 580.9 148 580.9 148.8 580.9 149.6 580.8 150.4 580.8 151.2 580.7 152 580.6 152.8 580.6 153.6 580.5 154.4 580.4 155.2 580.3 156 580.2 156.8 580.1 157.6 580 158.4 579.9 159.2 579.8 160 579.7 160.8 579.6 161.6 579.5 162.4 579.4 163.2 579.3 164 579.2 164.8 579.1 165.6 579.1 166.4 579 167.2 578.9 168 578.9 168.8 578.8 169.6 578.8 170.4 578.8 171.2 578.8 172 578.8 172.8 578.8 173.6 578.8 174.4 578.9 175.2 578.9 176 578.9 176.8 578.9 177.6 579 178.4 579 179.2 579.1 180 579.1 180.8 579.2 181.6 579.2 182.4 579.3 183.2 579.4 184 579.4 184.8 579.5 185.6 579.6 186.4 579.6 187.2 579.7 188 579.8 188.8 579.9 189.6 579.9 190.4 580 191.2 580.1 192 580.2 192.8 580.3 193.6 580.3 194.4 580.4 195.2 580.5 196 580.6 196.8 580.7 197.6 580.7 198.4 580.8 199.2 580.9 200 580.9 200.8 581 201.6 581.1 202.4 581.2 203.2 581.2 204 581.3 204.8 581.3 205.6 581.4 206.4 581.4 207.2 581.5 208 581.5 208.8 581.6 209.6 581.6 210.4 581.6 211.2 581.7 212 581.7 212.8 581.7 213.6 581.7 214.4 581.7 215.2 581.7 216 581.7 216.8 581.6 217.6 581.6 218.4 581.5 219.2 581.5 220 581.4 220.8 581.3 221.6 581.2 222.4 581.1 223.2 581 224 580.9 224.8 580.7 225.6 580.6 226.4 580.5 227.2 580.3 228 580.2 228.8 580.1 229.6 579.9 230.4 579.8 231.2 579.6 232 579.5 232.8 579.4 233.6 579.2 234.4 579.1 235.2 579 236 578.9 236.8 578.8 237.6 578.7 238.4 578.6 239.2 578.5 240 578.4 240.8 578.3 241.6 578.3 242.4 578.2 243.2 578.2 244 578.2 244.8 578.2 245.6 578.2 246.4 578.3 247.2 578.3 248 578.4 248.8 578.5 249.6 578.6 250.4 578.7 251.2 578.8 252 578.9 252.8 579 253.6 579.2 254.4 579.3 255.2 579.5 256 579.6 256.8 579.7 257.6 579.9 258.4 580 259.2 580.2 260 580.3 260.8 580.4 261.6 580.5 262.4 580.6 263.2 580.7 264 580.8 264.8 580.8 265.6 580.9 266.4 580.9 267.2 580.9 268 580.9 268.8 580.9 269.6 580.9 270.4 580.9 271.2 580.9 272 580.9 272.8 580.8 273.6 580.8 274.4 580.8 275.2 580.8 276 580.8 276.8 580.8 277.6 580.7 278.4 580.7 279.2 580.7 280 580.7 280.8 580.7 281.6 580.6 282.4 580.6 283.2 580.6 284 580.6 284.8 580.5 285.6 580.5 286.4 580.5 287.2 580.5 288 580.4 288.8 580.4 289.6 580.4 290.4 580.4 291.2 580.3 292 580.3 292.8 580.3 293.6 580.3 294.4 580.3 295.2 580.3 296 580.2 296.8 580.2 297.6 580.2 298.4 580.2 299.2 580.2 300 580.2 300.8 580.2 301.6 580.2 302.4 580.2 303.2 580.2 304 580.2 304.8 580.2 305.6 580.2 306.4 580.2 307.2 580.2 308 580.2 308.8 580.2 309.6 580.2 310.4 580.1 311.2 580.1 312 580.1 312.8 580.1 313.6 580.1 314.4 580.1 315.2 580.1 316 580.1 316.8 580.1 317.6 580.1 318.4 580.1 319.2 580.1 320 580.1 320.8 580.1 321.6 580.1 322.4 580.1 323.2 580.1 324 580.1 324.8 580.1 325.6 580.1 326.4 580.1 327.2 580.1 328 580.1 328.8 580.1 329.6 580.1 330.4 580.1 331.2 580.1 332 580.1 332.8 580.1 333.6 580.1 334.4 580.1 335.2 580.1 336 580 336.8 580 337.6 580 338.4 580 339.2 580 340 580 340.8 580 341.6 580 342.4 580 343.2 580 344 580 344.8 580 345.6 580 346.4 580 347.2 580 348 580 348.8 580 349.6 580 350.4 580 351.2 580 352 580 352.8 580 353.6 580 354.4 580 355.2 580 356 580 356.8 580 357.6 580 358.4 580 359.2 580 360 580 360.8 580 361.6 580 362.4 580 363.2 580 364 580 364.8 580 365.6 580 366.4 580 367.2 580 368 580 368.8 580 369.6 580 370 580" stroke="#7a0403" stroke-width="2.8" fill="none" stroke-linejoin="round" /><path d="M60 585 60.8 585 61.6 584.8 62.4 584.6 63.2 584.3 64 584 64.8 583.6 65.6 583.2 66.4 582.8 67.2 582.2 68 581.4 68.8 580.2 69.6 578.9 70.4 577.4 71.2 576 72 574.6 72.8 573.5 73.6 572.6 74.4 572.2 75.2 572.2 76 572.6 76.8 573.5 77.6 574.6 78.4 575.7 79.2 576.9 80 577.9 80.8 578.7 81.6 579.1 82.4 579 83.2 578.8 84 578.4 84.8 577.9 85.6 577.3 86.4 576.7 87.2 576 88 575.4 88.8 574.8 89.6 574.4 90.4 574.1 91.2 573.9 92 574 92.8 574.3 93.6 575 94.4 575.8 95.2 576.8 96 578 96.8 579.3 97.6 580.8 98.4 582.2 99.2 583.8 100 585.3 100.8 586.8 101.6 588.2 102.4 589.6 103.2 590.8 104 591.9 104.8 592.7 105.6 593.4 106.4 593.9 107.2 594 108 593.8 108.8 593.4 109.6 592.7 110.4 591.7 111.2 590.5 112 589.1 112.8 587.6 113.6 585.9 114.4 584.2 115.2 582.4 116 580.5 116.8 578.6 117.6 576.7 118.4 574.9 119.2 573.2 120 571.5 120.8 570 121.6 568.6 122.4 567.4 123.2 566.4 124 565.7 124.8 565.3 125.6 565.1 126.4 565.2 127.2 565.5 128 566 128.8 566.7 129.6 567.5 130.4 568.5 131.2 569.6 132 570.9 132.8 572.2 133.6 573.6 134.4 575.1 135.2 576.6 136 578.1 136.8 579.7 137.6 581.3 138.4 582.8 139.2 584.4 140 585.9 140.8 587.3 141.6 588.6 142.4 589.9 143.2 591.1 144 592.1 144.8 593 145.6 593.7 146.4 594.3 147.2 594.7 148 594.9 148.8 594.8 149.6 594.2 150.4 593.3 151.2 591.9 152 590.1 152.8 588.1 153.6 585.7 154.4 583.2 155.2 580.5 156 577.6 156.8 574.7 157.6 571.7 158.4 568.8 159.2 565.9 160 563 160.8 560.4 161.6 557.9 162.4 555.6 163.2 553.6 164 552 164.8 550.7 165.6 549.8 166.4 549.3 167.2 549.7 168 551.9 168.8 555.3 169.6 559.2 170.4 562.8 171.2 565.4 172 567.4 172.8 569.5 173.6 571.5 174.4 573.6 175.2 575.6 176 577.6 176.8 579.6 177.6 581.6 178.4 583.5 179.2 585.4 180 587.3 180.8 589.1 181.6 590.8 182.4 592.5 183.2 594.2 184 595.8 184.8 597.3 185.6 598.8 186.4 600.1 187.2 601.4 188 602.6 188.8 603.7 189.6 604.8 190.4 605.7 191.2 606.5 192 607.2 192.8 607.8 193.6 608.2 194.4 608.6 195.2 608.8 196 608.9 196.8 608.8 197.6 608.4 198.4 607.7 199.2 606.7 200 605.5 200.8 604.1 201.6 602.5 202.4 600.8 203.2 598.9 204 596.9 204.8 594.8 205.6 592.6 206.4 590.4 207.2 588.2 208 585.9 208.8 583.7 209.6 581.6 210.4 579.5 211.2 577.5 212 575.6 212.8 573.9 213.6 572.3 214.4 571 215.2 569.8 216 568.9 216.8 568.2 217.6 567.7 218.4 567.3 219.2 566.6 220 565.7 220.8 564.5 221.6 563.1 222.4 561.5 223.2 559.7 224 557.9 224.8 555.9 225.6 554 226.4 552 227.2 550.1 228 548.3 228.8 546.5 229.6 545 230.4 543.6 231.2 542.4 232 541.5 232.8 540.9 233.6 540.6 234.4 540.8 235.2 541.5 236 542.7 236.8 544.3 237.6 546.4 238.4 548.9 239.2 551.8 240 554.9 240.8 558.3 241.6 562 242.4 565.8 243.2 569.7 244 573.8 244.8 577.9 245.6 582.1 246.4 586.2 247.2 590.3 248 594.2 248.8 598 249.6 601.7 250.4 605.1 251.2 608.2 252 611.1 252.8 613.6 253.6 615.7 254.4 617.3 255.2 618.5 256 619.2 256.8 619.4 257.6 619.2 258.4 618.7 259.2 618 260 617 260.8 615.9 261.6 614.5 262.4 612.9 263.2 611.2 264 609.2 264.8 607.2 265.6 605 266.4 602.6 267.2 600.2 268 597.6 268.8 595 269.6 592.3 270.4 589.5 271.2 586.7 272 583.9 272.8 581.1 273.6 578.2 274.4 575.4 275.2 572.6 276 569.8 276.8 567.1 277.6 564.4 278.4 561.9 279.2 559.4 280 557 280.8 554.8 281.6 552.7 282.4 550.7 283.2 548.9 284 547.3 284.8 545.8 285.6 544.6 286.4 543.6 287.2 542.8 288 542.3 288.8 542 289.6 542 290.4 542.2 291.2 542.5 292 542.9 292.8 543.4 293.6 544.1 294.4 544.9 295.2 545.8 296 546.8 296.8 547.9 297.6 549.1 298.4 550.4 299.2 551.8 300 553.3 300.8 554.8 301.6 556.4 302.4 558.1 303.2 559.8 304 561.5 304.8 563.3 305.6 565.2 306.4 567.1 307.2 569 308 570.9 308.8 572.8 309.6 574.7 310.4 576.7 311.2 578.6 312 580.6 312.8 582.5 313.6 584.4 314.4 586.2 315.2 588.1 316 589.9 316.8 591.6 317.6 593.3 318.4 595 319.2 596.6 320 598.1 320.8 599.6 321.6 600.9 322.4 602.2 323.2 603.4 324 604.5 324.8 605.5 325.6 606.4 326.4 607.2 327.2 607.8 328 608.4 328.8 608.8 329.6 609.1 330.4 609.2 331.2 609.2 332 609 332.8 608.6 333.6 608.1 334.4 607.4 335.2 606.5 336 605.6 336.8 604.5 337.6 603.3 338.4 602 339.2 600.6 340 599.2 340.8 597.6 341.6 596 342.4 594.4 343.2 592.7 344 590.9 344.8 589.2 345.6 587.4 346.4 585.6 347.2 583.8 348 582.1 348.8 580.3 349.6 578.6 350.4 577 351.2 575.4 352 573.8 352.8 572.3 353.6 570.9 354.4 569.6 355.2 568.4 356 567.3 356.8 566.4 357.6 565.5 358.4 564.8 359.2 564.3 360 563.9 360.8 563.7 361.6 563.6 362.4 563.7 363.2 564 364 564.5 364.8 565 365.6 565.7 366.4 566.5 367.2 567.4 368 568.4 368.8 569.4 369.6 570.5 370 571" stroke="#e4450a" stroke-width="2.8" fill="none" stroke-linejoin="round" /><path d="M60 585 60.8 585 61.6 584.9 62.4 584.8 63.2 584.7 64 584.6 64.8 584.4 65.6 584.2 66.4 584.1 67.2 583.9 68 583.5 68.8 583.1 69.6 582.5 70.4 581.9 71.2 581.1 72 580.3 72.8 579.4 73.6 578.5 74.4 577.5 75.2 576.5 76 575.5 76.8 574.5 77.6 573.5 78.4 572.5 79.2 571.5 80 570.6 80.8 569.7 81.6 568.9 82.4 568.2 83.2 567.5 84 567 84.8 566.5 85.6 566.2 86.4 566 87.2 566 88 566.2 88.8 566.7 89.6 567.4 90.4 568.3 91.2 569.4 92 570.6 92.8 572 93.6 573.5 94.4 575.1 95.2 576.8 96 578.6 96.8 580.3 97.6 582.1 98.4 583.9 99.2 585.6 100 587.3 100.8 588.9 101.6 590.4 102.4 591.7 103.2 592.9 104 594 104.8 594.8 105.6 595.5 106.4 595.9 107.2 596 108 595.8 108.8 595.3 109.6 594.5 110.4 593.5 111.2 592.2 112 590.7 112.8 589 113.6 587.2 114.4 585.2 115.2 583.2 116 581.1 116.8 579 117.6 576.9 118.4 574.8 119.2 572.8 120 570.8 120.8 569 121.6 567.3 122.4 565.8 123.2 564.5 124 563.5 124.8 562.7 125.6 562.2 126.4 562 127.2 562.2 128 562.6 128.8 563.3 129.6 564.3 130.4 565.4 131.2 566.8 132 568.3 132.8 570 133.6 571.9 134.4 573.8 135.2 575.8 136 577.9 136.8 580 137.6 582.2 138.4 584.3 139.2 586.4 140 588.4 140.8 590.4 141.6 592.3 142.4 594 143.2 595.6 144 597.1 144.8 598.3 145.6 599.4 146.4 600.2 147.2 600.7 148 601 148.8 600.9 149.6 600.6 150.4 600 151.2 599.2 152 598.1 152.8 596.8 153.6 595.3 154.4 593.6 155.2 591.8 156 589.9 156.8 587.9 157.6 585.8 158.4 583.6 159.2 581.3 160 579.1 160.8 576.8 161.6 574.6 162.4 572.4 163.2 570.2 164 568.1 164.8 566.2 165.6 564.3 166.4 562.6 167.2 561.1 168 559.7 168.8 558.5 169.6 557.6 170.4 556.9 171.2 556.4 172 556.3 172.8 556.5 173.6 557 174.4 557.9 175.2 559 176 560.4 176.8 562.1 177.6 564 178.4 566 179.2 568.3 180 570.6 180.8 573.1 181.6 575.7 182.4 578.4 183.2 581.1 184 583.8 184.8 586.5 185.6 589.1 186.4 591.7 187.2 594.2 188 596.6 188.8 598.9 189.6 601 190.4 602.9 191.2 604.6 192 606 192.8 607.2 193.6 608.1 194.4 608.7 195.2 608.9 196 608.8 196.8 608.4 197.6 607.8 198.4 606.9 199.2 605.8 200 604.5 200.8 602.9 201.6 601.2 202.4 599.4 203.2 597.3 204 595.2 204.8 592.9 205.6 590.5 206.4 588.1 207.2 585.5 208 582.9 208.8 580.3 209.6 577.6 210.4 574.9 211.2 572.3 212 569.6 212.8 567 213.6 564.4 214.4 561.9 215.2 559.5 216 557.1 216.8 554.9 217.6 552.8 218.4 550.9 219.2 549.1 220 547.5 220.8 546.1 221.6 544.8 222.4 543.8 223.2 543.1 224 542.6 224.8 542.3 225.6 542.4 226.4 542.7 227.2 543.3 228 544.1 228.8 545.2 229.6 546.6 230.4 548.1 231.2 549.9 232 551.8 232.8 553.9 233.6 556.1 234.4 558.5 235.2 561 236 563.6 236.8 566.3 237.6 569.1 238.4 571.9 239.2 574.8 240 577.7 240.8 580.7 241.6 583.6 242.4 586.5 243.2 589.4 244 592.3 244.8 595 245.6 597.8 246.4 600.4 247.2 602.9 248 605.3 248.8 607.6 249.6 609.7 250.4 611.6 251.2 613.4 252 614.9 252.8 616.3 253.6 617.4 254.4 618.3 255.2 619 256 619.3 256.8 619.4 257.6 619.1 258.4 618.6 259.2 617.7 260 616.6 260.8 615.2 261.6 613.5 262.4 611.6 263.2 609.5 264 607.2 264.8 604.7 265.6 602.1 266.4 599.3 267.2 596.4 268 593.4 268.8 590.3 269.6 587.2 270.4 583.9 271.2 580.7 272 577.4 272.8 574.1 273.6 570.9 274.4 567.6 275.2 564.4 276 561.3 276.8 558.3 277.6 555.4 278.4 552.6 279.2 549.9 280 547.4 280.8 545.1 281.6 542.9 282.4 541 283.2 539.2 284 537.8 284.8 536.6 285.6 535.6 286.4 535 287.2 534.6 288 534.6 288.8 534.9 289.6 535.3 290.4 536 291.2 536.9 292 538 292.8 539.2 293.6 540.7 294.4 542.3 295.2 544 296 545.9 296.8 547.9 297.6 550 298.4 552.3 299.2 554.6 300 557 300.8 559.5 301.6 562 302.4 564.6 303.2 567.2 304 569.8 304.8 572.5 305.6 575.1 306.4 577.8 307.2 580.4 308 583 308.8 585.6 309.6 588.1 310.4 590.5 311.2 592.9 312 595.2 312.8 597.3 313.6 599.4 314.4 601.3 315.2 603.2 316 604.8 316.8 606.4 317.6 607.7 318.4 608.9 319.2 609.9 320 610.7 320.8 611.2 321.6 611.6 322.4 611.7 323.2 611.2 324 609.8 324.8 607.8 325.6 605.4 326.4 602.7 327.2 599.9 328 597.3 328.8 595.1 329.6 593.5 330.4 592.7 331.2 592.6 332 592.8 332.8 592.9 333.6 593.2 334.4 593.3 335.2 593.5 336 593.5 336.8 593.3 337.6 592.9 338.4 592.3 339.2 591.5 340 590.6 340.8 589.5 341.6 588.3 342.4 587 343.2 585.7 344 584.2 344.8 582.7 345.6 581.2 346.4 579.6 347.2 578 348 576.5 348.8 575 349.6 573.5 350.4 572.1 351.2 570.8 352 569.6 352.8 568.5 353.6 567.5 354.4 566.7 355.2 566 356 565.6 356.8 565.3 357.6 565.3 358.4 565.5 359.2 566 360 566.8 360.8 567.7 361.6 568.8 362.4 570.2 363.2 571.7 364 573.4 364.8 575.3 365.6 577.2 366.4 579.4 367.2 581.6 368 583.9 368.8 586.3 369.6 588.7 370 590" stroke="#faba39" stroke-width="2.8" fill="none" stroke-linejoin="round" /><path d="M60 590 60.8 589.6 61.6 589.2 62.4 588.8 63.2 588.4 64 587.9 64.8 587.4 65.6 586.9 66.4 586.3 67.2 585.7 68 585 68.8 584.2 69.6 583.4 70.4 582.4 71.2 581.4 72 580.3 72.8 579.2 73.6 578.1 74.4 576.9 75.2 575.7 76 574.6 76.8 573.4 77.6 572.3 78.4 571.1 79.2 570.1 80 569.1 80.8 568.1 81.6 567.3 82.4 566.5 83.2 565.8 84 565.2 84.8 564.8 85.6 564.4 86.4 564.2 87.2 564.2 88 564.4 88.8 565 89.6 565.8 90.4 566.8 91.2 568 92 569.4 92.8 571 93.6 572.8 94.4 574.6 95.2 576.5 96 578.5 96.8 580.5 97.6 582.6 98.4 584.6 99.2 586.6 100 588.5 100.8 590.3 101.6 592 102.4 593.5 103.2 594.9 104 596.1 104.8 597.1 105.6 597.8 106.4 598.2 107.2 598.4 108 598.2 108.8 597.7 109.6 596.8 110.4 595.6 111.2 594.2 112 592.5 112.8 590.6 113.6 588.6 114.4 586.5 115.2 584.2 116 581.9 116.8 579.6 117.6 577.2 118.4 574.9 119.2 572.6 120 570.5 120.8 568.5 121.6 566.6 122.4 564.9 123.2 563.5 124 562.3 124.8 561.4 125.6 560.9 126.4 560.7 127.2 560.9 128 561.4 128.8 562.2 129.6 563.2 130.4 564.5 131.2 566.1 132 567.8 132.8 569.7 133.6 571.8 134.4 574 135.2 576.2 136 578.6 136.8 581 137.6 583.3 138.4 585.7 139.2 588.1 140 590.4 140.8 592.6 141.6 594.7 142.4 596.7 143.2 598.5 144 600.1 144.8 601.5 145.6 602.7 146.4 603.6 147.2 604.2 148 604.5 148.8 604.4 149.6 604 150.4 603.2 151.2 602.1 152 600.7 152.8 599.1 153.6 597.2 154.4 595.1 155.2 592.9 156 590.5 156.8 588 157.6 585.4 158.4 582.8 159.2 580.1 160 577.5 160.8 574.9 161.6 572.4 162.4 570 163.2 567.8 164 565.7 164.8 563.8 165.6 562.1 166.4 560.6 167.2 559.5 168 558.7 168.8 558.2 169.6 558.1 170.4 558.4 171.2 559.1 172 560.1 172.8 561.4 173.6 563 174.4 564.8 175.2 566.8 176 568.9 176.8 571.2 177.6 573.6 178.4 576 179.2 578.4 180 580.8 180.8 583.2 181.6 585.5 182.4 587.7 183.2 589.7 184 591.5 184.8 593.1 185.6 594.5 186.4 595.5 187.2 596.2 188 596.6 188.8 596.4 189.6 595.4 190.4 593.8 191.2 591.7 192 589.5 192.8 587.3 193.6 585.4 194.4 584.1 195.2 583.5 196 583.8 196.8 584.8 197.6 586.4 198.4 588.3 199.2 590.5 200 592.8 200.8 595 201.6 597 202.4 598.6 203.2 599.7 204 600.1 204.8 599.8 205.6 599 206.4 597.8 207.2 596.1 208 594.1 208.8 591.7 209.6 589 210.4 586.1 211.2 583.1 212 579.8 212.8 576.5 213.6 573.2 214.4 569.8 215.2 566.5 216 563.2 216.8 560.1 217.6 557.2 218.4 554.5 219.2 552.1 220 550 220.8 548.3 221.6 547 222.4 546.1 223.2 545.8 224 545.9 224.8 546.3 225.6 547 226.4 548 227.2 549.3 228 550.8 228.8 552.5 229.6 554.4 230.4 556.6 231.2 558.9 232 561.4 232.8 564 233.6 566.8 234.4 569.8 235.2 572.8 236 575.9 236.8 579.2 237.6 582.5 238.4 585.8 239.2 589.2 240 592.6 240.8 596 241.6 599.5 242.4 602.9 243.2 606.3 244 609.6 244.8 612.9 245.6 616.1 246.4 619.2 247.2 622.2 248 625 248.8 627.8 249.6 630.4 250.4 632.8 251.2 635.1 252 637.1 252.8 639 253.6 640.6 254.4 642 255.2 643.2 256 644 256.8 644.7 257.6 645 258.4 645 259.2 644.7 260 644.1 260.8 643.3 261.6 642.4 262.4 641.2 263.2 639.8 264 638.3 264.8 636.7 265.6 635 266.4 633.3 267.2 631.5 268 628.9 268.8 625.3 269.6 620.8 270.4 615.3 271.2 609.1 272 602.2 272.8 594.8 273.6 586.9 274.4 578.7 275.2 570.2 276 561.6 276.8 552.9 277.6 544.3 278.4 535.9 279.2 527.7 280 519.9 280.8 512.6 281.6 505.8 282.4 499.8 283.2 494.5 284 490.1 284.8 486.6 285.6 484.3 286.4 483.2 287.2 483.6 288 486.2 288.8 490.7 289.6 496.8 290.4 504.1 291.2 512.1 292 520.6 292.8 529.2 293.6 537.4 294.4 544.9 295.2 551.3 296 556.2 296.8 559.4 297.6 560.3 298.4 559.7 299.2 558.4 300 556.4 300.8 554 301.6 551.2 302.4 548.2 303.2 545.3 304 542.4 304.8 539.9 305.6 537.8 306.4 536.2 307.2 535.5 308 535.6 308.8 536.5 309.6 538.2 310.4 540.5 311.2 543.5 312 547 312.8 551.1 313.6 555.5 314.4 560.4 315.2 565.5 316 570.9 316.8 576.5 317.6 582.2 318.4 587.9 319.2 593.7 320 599.3 320.8 604.8 321.6 610.1 322.4 615.2 323.2 619.9 324 624.2 324.8 628.1 325.6 631.4 326.4 634.1 327.2 636.3 328 637.7 328.8 638.3 329.6 638.1 330.4 637.4 331.2 636.2 332 634.5 332.8 632.5 333.6 630 334.4 627.3 335.2 624.3 336 621.2 336.8 617.8 337.6 614.4 338.4 611 339.2 607.6 340 604.2 340.8 600.9 341.6 597.8 342.4 595 343.2 592.4 344 590.1 344.8 588 345.6 585.7 346.4 583.5 347.2 581.1 348 578.8 348.8 576.4 349.6 574.1 350.4 571.7 351.2 569.5 352 567.2 352.8 565.1 353.6 563.1 354.4 561.1 355.2 559.3 356 557.7 356.8 556.2 357.6 555 358.4 553.9 359.2 553 360 552.4 360.8 552.1 361.6 552 362.4 552.1 363.2 552.3 364 552.7 364.8 553.2 365.6 553.8 366.4 554.6 367.2 555.5 368 556.6 368.8 557.8 369.6 559.2 370 560" stroke="#a4fc3c" stroke-width="2.8" fill="none" stroke-linejoin="round" /><path d="M62 650 62.8 648.1 63.6 645.9 64.4 643.5 65.2 640.9 66 638 66.8 634.8 67.6 630.9 68.4 626 69.2 620.2 70 613.9 70.8 606.9 71.6 599.7 72.4 592.2 73.2 584.6 74 577.1 74.8 569.8 75.6 562.8 76.4 556.4 77.2 550.7 78 545.8 78.8 541.8 79.6 539 80.4 537.4 81.2 537.1 82 537.7 82.8 538.8 83.6 540.4 84.4 542.5 85.2 545.1 86 548 86.8 551.3 87.6 555 88.4 558.9 89.2 563 90 567.3 90.8 571.7 91.6 576.3 92.4 580.9 93.2 585.5 94 590.1 94.8 594.7 95.6 599.1 96.4 603.4 97.2 607.4 98 611.3 98.8 614.8 99.6 618 100.4 620.9 101.2 623.4 102 625.3 102.8 626.8 103.6 627.8 104.4 628.2 105.2 627.9 106 626.9 106.8 625.2 107.6 622.9 108.4 620.1 109.2 616.8 110 613.1 110.8 609.2 111.6 605 112.4 600.7 113.2 596.3 114 591.9 114.8 587.5 115.6 583.3 116.4 579.3 117.2 575.6 118 572.2 118.8 569.3 119.6 566.9 120.4 565 121.2 563.8 122 563.3 122.8 563.5 123.6 564.2 124.4 565.4 125.2 567 126 568.9 126.8 571.2 127.6 573.8 128.4 576.6 129.2 579.6 130 582.7 130.8 585.9 131.6 589.2 132.4 592.5 133.2 595.7 134 598.9 134.8 601.9 135.6 604.7 136.4 607.4 137.2 609.7 138 611.8 138.8 613.5 139.6 614.7 140.4 615.6 141.2 615.9 142 615.7 142.8 614.9 143.6 613.6 144.4 611.9 145.2 609.7 146 607.1 146.8 604.2 147.6 601 148.4 597.5 149.2 593.8 150 589.9 150.8 585.9 151.6 581.8 152.4 577.6 153.2 573.4 154 569.3 154.8 565.2 155.6 561.2 156.4 557.3 157.2 553.7 158 550.3 158.8 547.1 159.6 544.3 160.4 541.8 161.2 539.7 162 538.1 162.8 536.9 163.6 536.3 164.4 536.2 165.2 536.7 166 537.6 166.8 539 167.6 540.9 168.4 543.1 169.2 545.6 170 548.5 170.8 551.7 171.6 555.1 172.4 558.8 173.2 562.6 174 566.5 174.8 570.6 175.6 574.8 176.4 578.9 177.2 583.2 178 587.3 178.8 591.4 179.6 595.5 180.4 599.4 181.2 603.1 182 606.6 182.8 609.9 183.6 612.9 184.4 615.7 185.2 618.1 186 620.1 186.8 621.7 187.6 622.9 188.4 623.6 189.2 623.8 190 623.5 190.8 622.8 191.6 621.6 192.4 620.1 193.2 618.2 194 616 194.8 613.4 195.6 610.6 196.4 607.5 197.2 604.2 198 600.6 198.8 596.9 199.6 593 200.4 589 201.2 584.9 202 580.8 202.8 576.5 203.6 572.3 204.4 568 205.2 563.8 206 559.6 206.8 555.6 207.6 551.6 208.4 547.7 209.2 544 210 540.5 210.8 537.2 211.6 534.2 212.4 531.4 213.2 528.8 214 526.6 214.8 524.8 215.6 523.3 216.4 522.2 217.2 521.5 218 521.3 218.8 521.5 219.6 522.2 220.4 523.3 221.2 524.8 222 526.6 222.8 528.8 223.6 531.3 224.4 534.2 225.2 537.3 226 540.7 226.8 544.3 227.6 548.1 228.4 552.2 229.2 556.4 230 560.7 230.8 565.2 231.6 569.8 232.4 574.5 233.2 579.2 234 584 234.8 588.8 235.6 593.6 236.4 598.4 237.2 603.1 238 607.7 238.8 612.3 239.6 616.7 240.4 621 241.2 625.2 242 629.1 242.8 632.9 243.6 636.4 244.4 639.7 245.2 642.7 246 645.5 246.8 647.9 247.6 649.9 248.4 651.6 249.2 653 250 653.9 250.8 654.4 251.6 654.4 252.4 653.8 253.2 652.5 254 650.6 254.8 648.1 255.6 645 256.4 641.5 257.2 637.4 258 632.9 258.8 628 259.6 622.8 260.4 617.2 261.2 611.4 262 605.3 262.8 599 263.6 592.5 264.4 585.9 265.2 579.3 266 572.6 266.8 565.8 267.6 559.2 268.4 552.5 269.2 546 270 539.7 270.8 533.5 271.6 527.6 272.4 521.9 273.2 516.5 274 511.5 274.8 506.8 275.6 502.6 276.4 498.8 277.2 495.6 278 492.9 278.8 490.7 279.6 489.2 280.4 488.3 281.2 488.1 282 488.3 282.8 488.7 283.6 489.2 284.4 489.9 285.2 491.8 286 495.4 286.8 500.6 287.6 506.9 288.4 514.2 289.2 522.2 290 530.6 290.8 539.1 291.6 547.4 292.4 555.4 293.2 562.6 294 568.9 294.8 573.9 295.6 577.5 296.4 579.3 297.2 579.2 298 578.4 298.8 577 299.6 575.2 300.4 573.3 301.2 571.3 302 569.5 302.8 568 303.6 567.1 304.4 567 305.2 570.3 306 577.2 306.8 586.8 307.6 598.2 308.4 610.4 309.2 622.6 310 633.8 310.8 643.1 311.6 649.6 312.4 652.4 313.2 652.3 314 651.9 314.8 651.2 315.6 650.3 316.4 649.2 317.2 647.8 318 646.2 318.8 644.5 319.6 642.5 320.4 640.4 321.2 638.1 322 635.7 322.8 633.1 323.6 630.4 324.4 627.6 325.2 624.8 326 621.8 326.8 618.8 327.6 615.8 328.4 612.7 329.2 609.6 330 606.5 330.8 603.4 331.6 600.3 332.4 597.2 333.2 594.2 334 591.3 334.8 588.4 335.6 585.7 336.4 583 337.2 580.4 338 578 338.8 575.7 339.6 573.5 340.4 571.1 341.2 568.6 342 565.9 342.8 563.2 343.6 560.5 344.4 557.8 345.2 555.1 346 552.6 346.8 550.2 347.6 548 348.4 546.1 349.2 544.4 350 543 350.8 542 351.6 541.4 352.4 541.2 353.2 541.3 354 541.5 354.8 541.7 355.6 542 356.4 542.6 357.2 543.6 358 545.2 358.8 547.3 359.6 549.8 360.4 552.8 361.2 556.2 362 560.1 362.8 564.4 363.6 569.1 364.4 574.2 365.2 579.7 366 585.5 366.8 591.7 367.6 598.3 368.4 605.2 369.2 612.5 370 620" stroke="#1ae4b6" stroke-width="2.8" fill="none" stroke-linejoin="round" /><path d="M60 595 60.8 593 61.6 591.1 62.4 589.1 63.2 587.2 64 585.3 64.8 583.5 65.6 581.6 66.4 579.8 67.2 577.9 68 575.9 68.8 573.7 69.6 571.4 70.4 569.1 71.2 566.9 72 564.8 72.8 562.9 73.6 561.2 74.4 559.8 75.2 558.8 76 558.2 76.8 558.1 77.6 558.6 78.4 559.6 79.2 561.1 80 563 80.8 565.3 81.6 567.8 82.4 570.7 83.2 573.9 84 577.2 84.8 580.6 85.6 584.2 86.4 587.8 87.2 591.5 88 595.1 88.8 598.6 89.6 602 90.4 605.2 91.2 608.2 92 611 92.8 613.4 93.6 615.5 94.4 617.2 95.2 618.4 96 619.2 96.8 619.4 97.6 619.1 98.4 618.2 99.2 616.8 100 615.1 100.8 612.9 101.6 610.3 102.4 607.5 103.2 604.4 104 601 104.8 597.5 105.6 593.8 106.4 590 107.2 586.1 108 582.3 108.8 578.4 109.6 574.6 110.4 570.9 111.2 567.3 112 563.9 112.8 560.8 113.6 557.9 114.4 555.3 115.2 553.1 116 551.3 116.8 549.9 117.6 548.9 118.4 548.5 119.2 548.6 120 549.2 120.8 550.2 121.6 551.6 122.4 553.3 123.2 555.3 124 557.6 124.8 560.2 125.6 563 126.4 565.9 127.2 569.1 128 572.3 128.8 575.6 129.6 579 130.4 582.3 131.2 585.7 132 589 132.8 592.2 133.6 595.3 134.4 598.3 135.2 601 136 603.6 136.8 605.9 137.6 607.9 138.4 609.5 139.2 610.9 140 611.8 140.8 612.3 141.6 612.4 142.4 611.8 143.2 610.8 144 609.2 144.8 607.2 145.6 604.7 146.4 601.9 147.2 598.8 148 595.4 148.8 591.7 149.6 587.9 150.4 583.9 151.2 579.8 152 575.6 152.8 571.4 153.6 567.3 154.4 563.2 155.2 559.3 156 555.5 156.8 551.9 157.6 548.6 158.4 545.6 159.2 542.9 160 540.6 160.8 538.7 161.6 537.4 162.4 536.5 163.2 536.2 164 536.4 164.8 537.1 165.6 538.2 166.4 539.7 167.2 541.6 168 543.8 168.8 546.4 169.6 549.2 170.4 552.3 171.2 555.6 172 559.1 172.8 562.9 173.6 566.7 174.4 570.7 175.2 574.8 176 579 176.8 583.3 177.6 587.5 178.4 591.8 179.2 596 180 600.2 180.8 604.3 181.6 608.2 182.4 612.1 183.2 615.8 184 619.3 184.8 622.5 185.6 625.5 186.4 628.3 187.2 630.8 188 632.9 188.8 634.7 189.6 636.1 190.4 637.1 191.2 637.7 192 637.8 192.8 637.4 193.6 636.5 194.4 635.2 195.2 633.4 196 631.2 196.8 628.7 197.6 625.8 198.4 622.5 199.2 619 200 615.2 200.8 611.2 201.6 607 202.4 602.6 203.2 598 204 593.4 204.8 588.6 205.6 583.8 206.4 578.9 207.2 574 208 569.1 208.8 564.3 209.6 559.6 210.4 554.9 211.2 550.4 212 546.1 212.8 541.9 213.6 538 214.4 534.3 215.2 530.9 216 527.8 216.8 525 217.6 522.6 218.4 520.6 219.2 519 220 517.8 220.8 517.1 221.6 516.9 222.4 517.2 223.2 518 224 519.2 224.8 520.8 225.6 522.8 226.4 525.1 227.2 527.8 228 530.8 228.8 534.2 229.6 537.8 230.4 541.6 231.2 545.7 232 549.9 232.8 554.4 233.6 559 234.4 563.7 235.2 568.6 236 573.5 236.8 578.5 237.6 583.5 238.4 588.6 239.2 593.6 240 598.6 240.8 603.6 241.6 608.5 242.4 613.3 243.2 617.9 244 622.4 244.8 626.8 245.6 630.9 246.4 634.8 247.2 638.5 248 641.9 248.8 645.1 249.6 647.9 250.4 650.4 251.2 652.5 252 654.3 252.8 655.6 253.6 656.6 254.4 657 255.2 657 256 656.5 256.8 655.5 257.6 654 258.4 652.1 259.2 649.7 260 647 260.8 643.8 261.6 640.4 262.4 636.6 263.2 632.5 264 628.2 264.8 623.6 265.6 618.8 266.4 613.8 267.2 608.6 268 603.3 268.8 597.9 269.6 592.4 270.4 586.8 271.2 581.2 272 575.6 272.8 570 273.6 564.4 274.4 558.9 275.2 553.5 276 548.2 276.8 543 277.6 538 278.4 533.2 279.2 528.6 280 524.3 280.8 520.2 281.6 516.4 282.4 513 283.2 509.8 284 507.1 284.8 504.7 285.6 502.8 286.4 501.3 287.2 500.3 288 499.8 288.8 499.7 289.6 500.1 290.4 500.7 291.2 501.7 292 502.9 292.8 504.4 293.6 506.2 294.4 508.2 295.2 510.5 296 513 296.8 515.7 297.6 518.6 298.4 521.7 299.2 524.9 300 528.3 300.8 531.9 301.6 535.6 302.4 539.4 303.2 543.3 304 547.3 304.8 551.3 305.6 555.5 306.4 559.7 307.2 563.9 308 568.2 308.8 572.4 309.6 576.7 310.4 580.9 311.2 585.2 312 589.4 312.8 593.5 313.6 597.5 314.4 601.5 315.2 605.4 316 609.2 316.8 612.8 317.6 616.3 318.4 619.7 319.2 622.9 320 626 320.8 628.8 321.6 631.5 322.4 633.9 323.2 636.1 324 638.1 324.8 639.8 325.6 641.2 326.4 642.4 327.2 643.3 328 643.8 328.8 644.1 329.6 644 330.4 643.6 331.2 642.8 332 641.8 332.8 640.4 333.6 638.8 334.4 637 335.2 634.9 336 632.6 336.8 630 337.6 627.3 338.4 624.5 339.2 621.5 340 618.3 340.8 615.1 341.6 611.7 342.4 608.3 343.2 604.8 344 601.3 344.8 597.7 345.6 594.2 346.4 590.6 347.2 587.1 348 583.6 348.8 580.2 349.6 576.8 350.4 573.6 351.2 570.4 352 567.4 352.8 564.6 353.6 561.9 354.4 559.3 355.2 557 356 554.9 356.8 553.1 357.6 551.5 358.4 550.1 359.2 549.1 360 548.3 360.8 547.9 361.6 547.8 362.4 547.9 363.2 548.1 364 548.4 364.8 548.9 365.6 549.5 366.4 550.1 367.2 550.9 368 551.9 368.8 552.9 369.6 554.1 370.4 555.4 371.2 556.8 372 558.3 372.8 559.9 373.6 561.7 374.4 563.5 375 565" stroke="#4685fa" stroke-width="2.8" fill="none" stroke-linejoin="round" /><path d="M60 580 60.8 580.4 61.6 580.9 62.4 581.5 63.2 582.3 64 583 64.8 583.9 65.6 584.8 66.4 585.7 67.2 586.8 68 588.4 68.8 590.3 69.6 592 70.4 593.4 71.2 594 72 593.8 72.8 593 73.6 591.8 74.4 590.2 75.2 588.1 76 585.8 76.8 583.2 77.6 580.4 78.4 577.5 79.2 574.5 80 571.5 80.8 568.5 81.6 565.6 82.4 562.8 83.2 560.2 84 557.9 84.8 555.8 85.6 554.2 86.4 553 87.2 552.2 88 552 88.8 552.4 89.6 553.4 90.4 554.9 91.2 556.9 92 559.3 92.8 562.1 93.6 565.2 94.4 568.6 95.2 572.2 96 576 96.8 579.8 97.6 583.7 98.4 587.7 99.2 591.5 100 595.2 100.8 598.8 101.6 602.2 102.4 605.2 103.2 608 104 610.4 104.8 612.3 105.6 613.8 106.4 614.7 107.2 615 108 614.7 108.8 613.8 109.6 612.4 110.4 610.5 111.2 608.2 112 605.5 112.8 602.5 113.6 599.3 114.4 595.7 115.2 592.1 116 588.2 116.8 584.4 117.6 580.4 118.4 576.5 119.2 572.7 120 569 120.8 565.5 121.6 562.2 122.4 559.1 123.2 556.4 124 554 124.8 552.1 125.6 550.6 126.4 549.7 127.2 549.3 128 549.5 128.8 550.3 129.6 551.6 130.4 553.3 131.2 555.4 132 557.9 132.8 560.8 133.6 563.9 134.4 567.2 135.2 570.8 136 574.5 136.8 578.2 137.6 582.1 138.4 585.9 139.2 589.8 140 593.5 140.8 597.1 141.6 600.6 142.4 603.8 143.2 606.8 144 609.5 144.8 611.8 145.6 613.7 146.4 615.2 147.2 616.3 148 616.8 148.8 616.7 149.6 616 150.4 614.7 151.2 613 152 610.7 152.8 608.1 153.6 605.1 154.4 601.7 155.2 598.1 156 594.2 156.8 590.1 157.6 585.9 158.4 581.6 159.2 577.2 160 572.9 160.8 568.5 161.6 564.3 162.4 560.2 163.2 556.3 164 552.6 164.8 549.2 165.6 546.2 166.4 543.5 167.2 541.2 168 539.4 168.8 538 169.6 537.3 170.4 537.1 171.2 537.5 172 538.2 172.8 539.4 173.6 541 174.4 543 175.2 545.2 176 547.8 176.8 550.7 177.6 553.7 178.4 557.1 179.2 560.6 180 564.2 180.8 568.1 181.6 572 182.4 576 183.2 580.1 184 584.1 184.8 588.2 185.6 592.3 186.4 596.3 187.2 600.3 188 604.1 188.8 607.8 189.6 611.3 190.4 614.7 191.2 617.8 192 620.7 192.8 623.3 193.6 625.6 194.4 627.6 195.2 629.2 196 630.4 196.8 631.3 197.6 631.7 198.4 631.6 199.2 631 200 630 200.8 628.5 201.6 626.6 202.4 624.2 203.2 621.6 204 618.6 204.8 615.3 205.6 611.7 206.4 607.9 207.2 603.9 208 599.7 208.8 595.4 209.6 591 210.4 586.4 211.2 581.8 212 577.2 212.8 572.6 213.6 568 214.4 563.5 215.2 559.1 216 554.8 216.8 550.7 217.6 546.7 218.4 543 219.2 539.5 220 536.2 220.8 533.3 221.6 530.7 222.4 528.5 223.2 526.7 224 525.3 224.8 524.4 225.6 523.9 226.4 524 227.2 524.5 228 525.5 228.8 526.9 229.6 528.7 230.4 530.9 231.2 533.5 232 536.4 232.8 539.5 233.6 543 234.4 546.7 235.2 550.6 236 554.7 236.8 559.1 237.6 563.5 238.4 568.1 239.2 572.8 240 577.6 240.8 582.4 241.6 587.2 242.4 592.1 243.2 596.9 244 601.7 244.8 606.4 245.6 611 246.4 615.5 247.2 619.9 248 624.1 248.8 628.1 249.6 631.8 250.4 635.3 251.2 638.6 252 641.5 252.8 644.2 253.6 646.4 254.4 648.3 255.2 649.9 256 651 256.8 651.6 257.6 651.8 258.4 651.5 259.2 650.7 260 649.4 260.8 647.8 261.6 645.7 262.4 643.2 263.2 640.3 264 637.2 264.8 633.7 265.6 629.9 266.4 625.9 267.2 621.6 268 617.1 268.8 612.5 269.6 607.6 270.4 602.7 271.2 597.6 272 592.4 272.8 587.1 273.6 581.8 274.4 576.5 275.2 571.2 276 565.9 276.8 560.7 277.6 555.6 278.4 550.5 279.2 545.6 280 540.9 280.8 536.3 281.6 531.9 282.4 527.8 283.2 523.9 284 520.2 284.8 516.9 285.6 513.9 286.4 511.2 287.2 508.9 288 507.1 288.8 505.6 289.6 504.6 290.4 504 291.2 503.9 292 504.2 292.8 504.7 293.6 505.6 294.4 506.7 295.2 508 296 509.6 296.8 511.3 297.6 513.3 298.4 515.5 299.2 517.9 300 520.4 300.8 523.1 301.6 525.9 302.4 528.8 303.2 531.9 304 535 304.8 538.3 305.6 541.6 306.4 544.9 307.2 548.3 308 551.7 308.8 555.1 309.6 558.5 310.4 561.9 311.2 565.3 312 568.7 312.8 571.9 313.6 575.2 314.4 578.3 315.2 581.3 316 584.2 316.8 587.4 317.6 590.8 318.4 594.4 319.2 598.2 320 602.1 320.8 606 321.6 609.9 322.4 613.6 323.2 617.1 324 620.4 324.8 623.4 325.6 626 326.4 628.1 327.2 629.7 328 630.7 328.8 631.2 329.6 631.6 330.4 632.3 331.2 633.4 332 650.3 332.8 661.3 333.6 659.9 334.4 657.4 335.2 654 336 649.8 336.8 645.2 337.6 640.3 338.4 635.4 339.2 630.7 340 626.5 340.8 622.9 341.6 619.5 342.4 616 343.2 612.3 344 608.6 344.8 604.8 345.6 601 346.4 597.1 347.2 593.3 348 589.4 348.8 585.6 349.6 581.9 350.4 578.2 351.2 574.7 352 571.3 352.8 568 353.6 565 354.4 562.1 355.2 559.4 356 557 356.8 554.8 357.6 553 358.4 551.4 359.2 550.2 360 549.3 360.8 548.8 361.6 548.7 362.4 548.7 363.2 548.8 364 549 364.8 549.3 365.6 549.6 366.4 550.1 367.2 550.7 368 551.4 368.8 552.2 369.6 553.2 370.4 554.4 371.2 555.8 372 557.3 372.8 559.1 373.6 561 374.4 563.2 375 565" stroke="#38237f" stroke-width="3.0" fill="none" stroke-linejoin="round" /></g>
<clipPath id="c30"><rect x="66.7" y="711.1" width="301.6" height="197"/></clipPath>
<g clip-path="url(#c30)"><path d="M60 822.8 60.4 818 60.8 822.1 61.2 811.2 61.6 807.7 62 803.6 62.4 815.6 62.8 823.5 63.2 809.3 63.6 810.9 64 808.5 64.4 812.9 64.8 798.7 65.2 814.4 65.6 815.4 66 804.5 66.4 802.3 66.8 802.8 67.2 811.1 67.6 816.2 68 801.3 68.4 797.8 68.8 807.5 69.2 808.3 69.6 810.8 70 802.3 70.4 810.7 70.8 812.7 71.2 796.2 71.6 804.2 72 809.5 72.4 810.4 72.8 802.4 73.2 794 73.6 801 74 797.1 74.4 802.4 74.8 811.7 75.2 801.7 75.6 806.1 76 798.5 76.4 811.5 76.8 802.5 77.2 800.4 77.6 818.2 78 809.6 78.4 812.2 78.8 796.7 79.2 817.8 79.6 820.2 80 809.8 80.4 809.6 80.8 808.6 81.2 819.3 81.6 804.2 82 816.4 82.4 827.2 82.8 816.8 83.2 828.6 83.6 817.7 84 816.5 84.4 824.6 84.8 819.4 85.2 821.2 85.6 818.8 86 814.7 86.4 820.7 86.8 827.3 87.2 830 87.6 823.6 88 826.3 88.4 819.2 88.8 824 89.2 824.3 89.6 824.5 90 825.8 90.4 827.5 90.8 832.5 91.2 829.5 91.6 827.6 92 816.8 92.4 818.7 92.8 823.2 93.2 822.9 93.6 826 94 810.3 94.4 821.2 94.8 820.1 95.2 816.5 95.6 813.1 96 818.4 96.4 815.3 96.8 818.4 97.2 802.9 97.6 808.9 98 822.9 98.4 814.7 98.8 808.4 99.2 810.8 99.6 804.8 100 821 100.4 821.1 100.8 817.9 101.2 820 101.6 815.8 102 821.2 102.4 817.4 102.8 822.4 103.2 814.3 103.6 814.4 104 812 104.4 813.1 104.8 807.1 105.2 824.9 105.6 826 106 822.6 106.4 824.8 106.8 820.8 107.2 823 107.6 812.7 108 821 108.4 811.3 108.8 818.6 109.2 821.6 109.6 822 110 818.1 110.4 832.6 110.8 831.4 111.2 822.9 111.6 819.2 112 824 112.4 832.9 112.8 816.3 113.2 832.7 113.6 827.4 114 826 114.4 834.5 114.8 828.7 115.2 826.5 115.6 835.9 116 819 116.4 837.8 116.8 823 117.2 822.8 117.6 837 118 847 118.4 834.2 118.8 821.5 119.2 813.1 119.6 827.1 120 825.2 120.4 821.3 120.8 823.5 121.2 819.7 121.6 828.3 122 822.2 122.4 821 122.8 808.6 123.2 822.7 123.6 812 124 824.5 124.4 819.4 124.8 807.1 125.2 816.7 125.6 811.1 126 821.1 126.4 820.1 126.8 823.3 127.2 812.1 127.6 819.3 128 808 128.4 817.8 128.8 814.4 129.2 817 129.6 815.4 130 821.5 130.4 813.4 130.8 814.4 131.2 823.9 131.6 815.3 132 812.6 132.4 810.6 132.8 816.2 133.2 816.1 133.6 820.3 134 815.7 134.4 821 134.8 815.6 135.2 826.9 135.6 817.4 136 821.9 136.4 820.5 136.8 810.6 137.2 824.9 137.6 816.5 138 824.8 138.4 807.7 138.8 808.8 139.2 808.2 139.6 809.7 140 818.2 140.4 820.6 140.8 815.2 141.2 819.2 141.6 817.4 142 826 142.4 826 142.8 823.7 143.2 825.9 143.6 832.3 144 826.1 144.4 813.2 144.8 821.1 145.2 820.5 145.6 827.1 146 825 146.4 827.2 146.8 812.7 147.2 830 147.6 820.6 148 827 148.4 823.8 148.8 815.4 149.2 815.5 149.6 823.6 150 826.4 150.4 813.9 150.8 812.1 151.2 806.3 151.6 812.5 152 813.2 152.4 815.5 152.8 820.4 153.2 813.5 153.6 809.4 154 813.3 154.4 814.7 154.8 815.7 155.2 815.2 155.6 813.1 156 817 156.4 811.7 156.8 807 157.2 811.9 157.6 823.7 158 807.6 158.4 826.8 158.8 809.2 159.2 816.3 159.6 802.5 160 811.4 160.4 820.5 160.8 805.1 161.2 807.7 161.6 814 162 814.2 162.4 803.4 162.8 804.8 163.2 814 163.6 814.2 164 816.9 164.4 811.6 164.8 816.4 165.2 820 165.6 805.8 166 819.1 166.4 817.7 166.8 821 167.2 811.3 167.6 813.5 168 814.3 168.4 811.2 168.8 820.2 169.2 815.7 169.6 808.7 170 816.3 170.4 808.7 170.8 806 171.2 809.2 171.6 815.7 172 816.5 172.4 815.3 172.8 819.4 173.2 827.6 173.6 810.1 174 819.3 174.4 818.6 174.8 810.5 175.2 814.7 175.6 818.8 176 818.1 176.4 813.6 176.8 822.6 177.2 820.1 177.6 822.6 178 828.1 178.4 813.2 178.8 825.6 179.2 823.4 179.6 816.9 180 821.7 180.4 820.4 180.8 817.1 181.2 827.6 181.6 820.2 182 814.6 182.4 829.2 182.8 823.3 183.2 828 183.6 827.7 184 825.7 184.4 825.9 184.8 816.2 185.2 826.6 185.6 823.6 186 831.5 186.4 825.9 186.8 826.7 187.2 830.3 187.6 824.9 188 827 188.4 828 188.8 831.7 189.2 823.6 189.6 832.8 190 828.6 190.4 826.7 190.8 829.8 191.2 832 191.6 831.9 192 822.4 192.4 831.3 192.8 825.4 193.2 829.7 193.6 819.8 194 822.5 194.4 822.1 194.8 817.1 195.2 819.5 195.6 823.9 196 824.1 196.4 821.9 196.8 820 197.2 817.1 197.6 825.5 198 813.4 198.4 813.8 198.8 815.3 199.2 818.5 199.6 816.4 200 820.5 200.4 813 200.8 820.8 201.2 823.8 201.6 821.1 202 817.6 202.4 816.8 202.8 822.1 203.2 813.9 203.6 816.8 204 814.5 204.4 819.1 204.8 824.9 205.2 818.8 205.6 823.1 206 817.5 206.4 819.2 206.8 819.4 207.2 823.9 207.6 819.1 208 819.9 208.4 821.9 208.8 825.9 209.2 822.5 209.6 826.8 210 823.7 210.4 822.4 210.8 825.8 211.2 822.1 211.6 821.6 212 824 212.4 820.7 212.8 821.7 213.2 822.6 213.6 824.5 214 826.6 214.4 826.8 214.8 824.4 215.2 825.2 215.6 824.3 216 822.4 216.4 825.6 216.8 823.6 217.2 826 217.6 823.8 218 822.9 218.4 824.9 218.8 823.4 219.2 822 219.6 825.2 220 823.9 220.4 823.6 220.8 823 221.2 821.8 221.6 818.7 222 821.1 222.4 820.9 222.8 821.5 223.2 819.2 223.6 820.8 224 819.9 224.4 820.9 224.8 818.3 225.2 818.6 225.6 818.4 226 818.2 226.4 818.4 226.8 817.3 227.2 815.5 227.6 817.3 228 814.5 228.4 815.8 228.8 815.8 229.2 814.3 229.6 814.4 230 814.1 230.4 813.3 230.8 813.7 231.2 812.9 231.6 813.3 232 813.2 232.4 813.3 232.8 813.4 233.2 812.8 233.6 812.8 234 812.5 234.4 812.7 234.8 813.2 235.2 813.4 235.6 813.5 236 813.6 236.4 814.5 236.8 813.9 237.2 814.7 237.6 815.6 238 816.6 238.4 816.1 238.8 816.9 239.2 817.5 239.6 819.2 240 820 240.4 821.1 240.8 822.3 241.2 821.5 241.6 822.9 242 823.6 242.4 824.3 242.8 825.7 243.2 826.4 243.6 827.7 244 828.4 244.4 828.8 244.8 830.7 245.2 831.7 245.6 832.1 246 832.2 246.4 833.1 246.8 834.4 247.2 836.1 247.6 837.2 248 837.7 248.4 838.5 248.8 838.1 249.2 840.2 249.6 840.5 250 841.3 250.4 841.7 250.8 841.8 251.2 843.6 251.6 844 252 843.8 252.4 844 252.8 844.8 253.2 845.7 253.6 845.8 254 845.8 254.4 846.3 254.8 846.1 255.2 845.4 255.6 845.8 256 845.1 256.4 844.1 256.8 844.3 257.2 843.1 257.6 841.2 258 841.1 258.4 839.6 258.8 838.1 259.2 836.6 259.6 834.8 260 833.1 260.4 832.3 260.8 830.7 261.2 828.6 261.6 827.1 262 825.1 262.4 823.3 262.8 821.9 263.2 820.1 263.6 818.8 264 816.2 264.4 814.9 264.8 813.1 265.2 811.7 265.6 810.6 266 808.8 266.4 806.9 266.8 805.8 267.2 804.6 267.6 803.7 268 802.6 268.4 801.9 268.8 801.4 269.2 801.2 269.6 800.3 270 800.6 270.4 800.6 270.8 801 271.2 800.7 271.6 800.9 272 800.8 272.4 801.2 272.8 800.7 273.2 800.1 273.6 801 274 800.5 274.4 799.9 274.8 801.3 275.2 801.1 275.6 801.3 276 801.4 276.4 801.2 276.8 801.9 277.2 801.5 277.6 801.5 278 801.8 278.4 801 278.8 802.4 279.2 801.8 279.6 802.9 280 803 280.4 803.4 280.8 803.4 281.2 805 281.6 803.7 282 805 282.4 805.1 282.8 805.3 283.2 807.2 283.6 807.2 284 808.7 284.4 808.6 284.8 809 285.2 809.7 285.6 809.4 286 810.1 286.4 811.9 286.8 812.3 287.2 812.3 287.6 813.3 288 814 288.4 815.2 288.8 815.5 289.2 815.7 289.6 817.1 290 817.2 290.4 818.4 290.8 818.6 291.2 818.1 291.6 821 292 820.6 292.4 822.1 292.8 822.7 293.2 822.8 293.6 823.2 294 825.3 294.4 825.2 294.8 826.3 295.2 826.5 295.6 827.4 296 827.7 296.4 827.6 296.8 828.4 297.2 829.5 297.6 829.3 298 830.2 298.4 830.9 298.8 831.9 299.2 832.6 299.6 831.4 300 832.9 300.4 833.9 300.8 832.8 301.2 833.3 301.6 834.6 302 834.5 302.4 834.4 302.8 834.9 303.2 835.4 303.6 835.2 304 835.5 304.4 835.5 304.8 835.6 305.2 835.5 305.6 835.6 306 835.2 306.4 835.7 306.8 834.9 307.2 834.7 307.6 834 308 834.1 308.4 834.2 308.8 833.8 309.2 833.8 309.6 832.7 310 832.5 310.4 831.5 310.8 831.9 311.2 832 311.6 831.3 312 830.4 312.4 830.3 312.8 829.7 313.2 828.6 313.6 828 314 827.5 314.4 827.5 314.8 827 315.2 826.3 315.6 825.4 316 825.7 316.4 824.2 316.8 823.9 317.2 823.1 317.6 822.8 318 821 318.4 821.3 318.8 820.4 319.2 819.8 319.6 818.7 320 818.2 320.4 818.5 320.8 817.7 321.2 816 321.6 816.2 322 815.3 322.4 815.4 322.8 814.6 323.2 814.1 323.6 813.2 324 812.7 324.4 811.9 324.8 811 325.2 811 325.6 811.4 326 811 326.4 809.6 326.8 809.2 327.2 808.9 327.6 808.5 328 808 328.4 808 328.8 808.3 329.2 808.1 329.6 808.4 330 807.4 330.4 806.4 330.8 807 331.2 806.7 331.6 807 332 806.9 332.4 807.8 332.8 807.1 333.2 807.6 333.6 808.7 334 808.1 334.4 807.7 334.8 809.2 335.2 809.3 335.6 809.8 336 810.3 336.4 810 336.8 810.5 337.2 811.6 337.6 811.3 338 812.2 338.4 813.7 338.8 813.3 339.2 814.6 339.6 815.6 340 815.8 340.4 816.3 340.8 817.7 341.2 817.2 341.6 819.3 342 818.8 342.4 820 342.8 820.2 343.2 820.9 343.6 822.5 344 822.8 344.4 823.7 344.8 823.6 345.2 824.7 345.6 825 346 826.2 346.4 827.1 346.8 827.7 347.2 828.3 347.6 828.4 348 829.5 348.4 829.6 348.8 830.9 349.2 830.7 349.6 831.8 350 831.5 350.4 832.4 350.8 832.5 351.2 832.1 351.6 833.3 352 832.8 352.4 832.6 352.8 833.7 353.2 834.2 353.6 834.1 354 833.4 354.4 833 354.8 832.4 355.2 833.2 355.6 833 356 833 356.4 833.3 356.8 832.4 357.2 831.6 357.6 831.2 358 830.9 358.4 830.7 358.8 830.7 359.2 830 359.6 829.7 360 829.2 360.4 828.7 360.8 828.2 361.2 827.8 361.6 826 362 825.6 362.4 824.8 362.8 823.8 363.2 823.3 363.6 822.3 364 820.6 364.4 820.5 364.8 818.8 365.2 817.7 365.6 815.8 366 815.1 366.4 813.3 366.8 811.6 367.2 810.6 367.6 808.6 368 807.1 368.4 806.2 368.8 804.7 369.2 802.4 369.6 801.4 370 799.8 370.4 798 370.8 795.8 371.2 793.7 371.6 792.6 372 789.8" stroke="#7a0403" stroke-width="2.6" fill="none" stroke-linejoin="round" /><path d="M60 824 60.4 830.7 60.8 812.8 61.2 832.2 61.6 823 62 819.1 62.4 819.3 62.8 817.9 63.2 822.8 63.6 828.8 64 827.6 64.4 828 64.8 815.3 65.2 816 65.6 833.3 66 830.1 66.4 836.9 66.8 831.6 67.2 819.3 67.6 832 68 828.4 68.4 826.2 68.8 820.5 69.2 825 69.6 824.2 70 829.9 70.4 825.6 70.8 833.5 71.2 820.3 71.6 826.9 72 826.7 72.4 818.8 72.8 816.6 73.2 828.2 73.6 824.9 74 820.6 74.4 823.1 74.8 816.6 75.2 821 75.6 815.8 76 819.6 76.4 823.4 76.8 815.5 77.2 821.6 77.6 810.8 78 814.5 78.4 808.2 78.8 814.8 79.2 815.6 79.6 814 80 813.5 80.4 822.4 80.8 823.1 81.2 808.8 81.6 822.3 82 806.9 82.4 812.8 82.8 816.5 83.2 818.8 83.6 813.1 84 815.6 84.4 820.8 84.8 817.3 85.2 818.4 85.6 826.3 86 828.5 86.4 823.8 86.8 825 87.2 825.4 87.6 823.6 88 823.8 88.4 821.4 88.8 831 89.2 827.3 89.6 827.2 90 829.1 90.4 830.9 90.8 835.6 91.2 826.1 91.6 825.1 92 828.1 92.4 821.9 92.8 833.1 93.2 830.7 93.6 828.9 94 823.8 94.4 828 94.8 829.1 95.2 825.4 95.6 820.6 96 812.3 96.4 826.2 96.8 818.5 97.2 815.3 97.6 824.3 98 820.9 98.4 810.9 98.8 817.9 99.2 816.7 99.6 823.5 100 807.6 100.4 815.9 100.8 817.4 101.2 826.1 101.6 812.6 102 802.7 102.4 811.5 102.8 821 103.2 824.4 103.6 829.9 104 823 104.4 816.9 104.8 826.6 105.2 822.2 105.6 821.6 106 823.3 106.4 830.6 106.8 819.1 107.2 818.8 107.6 824.5 108 824.8 108.4 821 108.8 820.8 109.2 827.9 109.6 833.3 110 829.9 110.4 829.7 110.8 832.6 111.2 814.6 111.6 816.9 112 820.9 112.4 817.7 112.8 818.3 113.2 823.5 113.6 815.4 114 819.3 114.4 809.8 114.8 815 115.2 827 115.6 815.9 116 820 116.4 821.4 116.8 814.2 117.2 819.5 117.6 816.9 118 819.1 118.4 811.3 118.8 806.6 119.2 808.6 119.6 811 120 816.9 120.4 812.9 120.8 812.1 121.2 813.6 121.6 821 122 812.3 122.4 824.3 122.8 809.9 123.2 814.1 123.6 822.8 124 821.8 124.4 815 124.8 820 125.2 817.5 125.6 826.9 126 826 126.4 819.9 126.8 826.8 127.2 823.3 127.6 825.6 128 826.9 128.4 823.9 128.8 829.8 129.2 830.3 129.6 830.3 130 834.1 130.4 826.5 130.8 819.7 131.2 825.1 131.6 828.7 132 827.5 132.4 830.3 132.8 831.2 133.2 825.8 133.6 825.5 134 820.3 134.4 831 134.8 823.4 135.2 818.4 135.6 817.8 136 821.1 136.4 831.5 136.8 826.7 137.2 812.6 137.6 820.7 138 822.3 138.4 823.8 138.8 821.7 139.2 815.8 139.6 821.1 140 815.3 140.4 805.6 140.8 813.6 141.2 813.3 141.6 821.9 142 822.2 142.4 810.3 142.8 816.7 143.2 816 143.6 807.4 144 803.9 144.4 814.6 144.8 815.8 145.2 811.7 145.6 800.1 146 815 146.4 812.1 146.8 810.5 147.2 813.8 147.6 809.6 148 819.1 148.4 816.4 148.8 813.5 149.2 818.5 149.6 817.1 150 809.2 150.4 817.2 150.8 815.8 151.2 809.1 151.6 815.5 152 821.8 152.4 816.5 152.8 828 153.2 830 153.6 819.4 154 824.5 154.4 832.8 154.8 820.4 155.2 817.6 155.6 820.6 156 815.7 156.4 816.1 156.8 825 157.2 821.8 157.6 825.7 158 827.2 158.4 820.5 158.8 823.7 159.2 823.4 159.6 821.3 160 820.4 160.4 826.7 160.8 824.1 161.2 826.5 161.6 830 162 829.9 162.4 817.9 162.8 819 163.2 821.9 163.6 823.6 164 827.7 164.4 816.8 164.8 819.3 165.2 822.6 165.6 827.6 166 828 166.4 814.5 166.8 818.5 167.2 814.9 167.6 823.7 168 821.2 168.4 816.5 168.8 814.9 169.2 819.7 169.6 823.4 170 813.8 170.4 816.3 170.8 818.8 171.2 818.6 171.6 820.7 172 813.8 172.4 816.5 172.8 808.9 173.2 821.3 173.6 827.5 174 811.4 174.4 819.9 174.8 828.8 175.2 824.1 175.6 815.8 176 832.6 176.4 820 176.8 835.2 177.2 826 177.6 826.1 178 830.5 178.4 830.9 178.8 834.6 179.2 834.7 179.6 831.9 180 839.4 180.4 836.7 180.8 834.8 181.2 834.2 181.6 833.1 182 833.1 182.4 836.4 182.8 835.2 183.2 832.9 183.6 836.9 184 830.6 184.4 833.2 184.8 834.5 185.2 825.2 185.6 828.3 186 835.9 186.4 823.9 186.8 832.1 187.2 821.9 187.6 827.3 188 820.3 188.4 821.3 188.8 821.5 189.2 819.9 189.6 825.3 190 823.7 190.4 823 190.8 819.5 191.2 824.2 191.6 821 192 817.6 192.4 811.7 192.8 817.4 193.2 816.6 193.6 814 194 815.6 194.4 815.3 194.8 811.1 195.2 813.7 195.6 812.6 196 812.2 196.4 809.8 196.8 809.4 197.2 811.3 197.6 815.7 198 818.6 198.4 810 198.8 808.1 199.2 810.6 199.6 809.3 200 811 200.4 813.8 200.8 810.3 201.2 815.3 201.6 816.2 202 818.8 202.4 820.1 202.8 818.3 203.2 822.4 203.6 815.2 204 817.9 204.4 818.3 204.8 819.6 205.2 821.7 205.6 818.9 206 824.7 206.4 824.2 206.8 822.5 207.2 823.5 207.6 820.6 208 817.7 208.4 824 208.8 825.6 209.2 826 209.6 823.6 210 825.7 210.4 831 210.8 829.3 211.2 829.6 211.6 828.2 212 830.7 212.4 832.2 212.8 831.6 213.2 829.7 213.6 831.3 214 829.5 214.4 830.8 214.8 832.6 215.2 830.8 215.6 831.4 216 834.3 216.4 831.6 216.8 833.1 217.2 831.3 217.6 829.8 218 831.3 218.4 830.4 218.8 827.7 219.2 828.4 219.6 829 220 830.9 220.4 827.7 220.8 827.7 221.2 827.8 221.6 826.7 222 825.2 222.4 826.7 222.8 825.4 223.2 820.7 223.6 823.3 224 822 224.4 821.5 224.8 819.8 225.2 819.6 225.6 819.6 226 818.5 226.4 817.6 226.8 816.2 227.2 815.3 227.6 814.4 228 812.3 228.4 813.6 228.8 811.7 229.2 811 229.6 810.3 230 809.8 230.4 807.9 230.8 808.6 231.2 807.3 231.6 807.1 232 806.2 232.4 806 232.8 807.1 233.2 806.3 233.6 806.5 234 806.4 234.4 805.9 234.8 806.3 235.2 806.2 235.6 807 236 806.2 236.4 807.6 236.8 808.7 237.2 809.3 237.6 809.8 238 810 238.4 809.7 238.8 811.4 239.2 811.8 239.6 812.3 240 812.2 240.4 813.8 240.8 815.1 241.2 815.5 241.6 815.8 242 817 242.4 817.5 242.8 818.4 243.2 819.6 243.6 820.1 244 820.8 244.4 821.8 244.8 821.9 245.2 822.6 245.6 824.2 246 824.4 246.4 825.8 246.8 825.2 247.2 827.6 247.6 827.6 248 829.2 248.4 827.5 248.8 828.5 249.2 830.8 249.6 830.6 250 831.2 250.4 831.5 250.8 831.9 251.2 832.4 251.6 831.8 252 832.5 252.4 833.4 252.8 832.9 253.2 832.5 253.6 832.8 254 833.3 254.4 832.5 254.8 832.4 255.2 832.5 255.6 832.5 256 832.6 256.4 831.5 256.8 831.4 257.2 831.5 257.6 829.5 258 830.2 258.4 830 258.8 829.3 259.2 828.4 259.6 828.7 260 828.6 260.4 827.4 260.8 826.6 261.2 826.2 261.6 826.6 262 825.9 262.4 824.7 262.8 823.5 263.2 822.8 263.6 822.7 264 822.1 264.4 821.8 264.8 820.5 265.2 820.4 265.6 820.2 266 818.4 266.4 819.9 266.8 818.4 267.2 817.8 267.6 816.2 268 815.8 268.4 816.4 268.8 815.7 269.2 813.4 269.6 814.8 270 814.1 270.4 813.5 270.8 812.1 271.2 812.4 271.6 811.5 272 811.8 272.4 812.1 272.8 811.1 273.2 811 273.6 809.9 274 809.3 274.4 809.6 274.8 810 275.2 810 275.6 809.1 276 809.1 276.4 808.7 276.8 808 277.2 809 277.6 809.2 278 808.8 278.4 809.1 278.8 808.3 279.2 809.5 279.6 810.4 280 809.9 280.4 810.4 280.8 810.6 281.2 810.2 281.6 811.1 282 810.8 282.4 813.2 282.8 812.1 283.2 811.8 283.6 811.9 284 814 284.4 813.9 284.8 814.3 285.2 813.8 285.6 814.7 286 814.8 286.4 816.6 286.8 816.2 287.2 818 287.6 817.8 288 817.8 288.4 819.3 288.8 817.9 289.2 819.2 289.6 819.9 290 821.3 290.4 821.8 290.8 822 291.2 821.4 291.6 822.6 292 822.8 292.4 824.6 292.8 824.2 293.2 825.3 293.6 826.5 294 826 294.4 826.9 294.8 826.8 295.2 827.6 295.6 828 296 828.5 296.4 829 296.8 829.1 297.2 830.8 297.6 829.8 298 830.7 298.4 830.8 298.8 830.1 299.2 832.2 299.6 832.1 300 831.5 300.4 832.1 300.8 831.9 301.2 833.1 301.6 834 302 834 302.4 832.8 302.8 832.7 303.2 834 303.6 834.7 304 833.8 304.4 834.4 304.8 833 305.2 833.5 305.6 833.6 306 832.9 306.4 832.6 306.8 832.7 307.2 831.5 307.6 830.8 308 831.2 308.4 830.4 308.8 829 309.2 829.1 309.6 827.9 310 827.8 310.4 826.7 310.8 825.7 311.2 824.6 311.6 824.3 312 823.3 312.4 823.5 312.8 821.6 313.2 820 313.6 821 314 817.9 314.4 819 314.8 816.8 315.2 817.2 315.6 815.5 316 815.1 316.4 814 316.8 813.2 317.2 812.8 317.6 811.4 318 811.4 318.4 809.9 318.8 809.5 319.2 809.1 319.6 808.8 320 809.1 320.4 807.6 320.8 807.3 321.2 806.9 321.6 807.1 322 807.6 322.4 806.8 322.8 807.1 323.2 807 323.6 807.4 324 806.4 324.4 808 324.8 808.4 325.2 807.7 325.6 808.3 326 808.2 326.4 809.5 326.8 809.7 327.2 811.3 327.6 810 328 810 328.4 810.7 328.8 810.7 329.2 812 329.6 812.5 330 813.4 330.4 813.6 330.8 813.7 331.2 815.1 331.6 815.3 332 816 332.4 815.4 332.8 816.1 333.2 816.8 333.6 817.5 334 817.1 334.4 819.5 334.8 819.2 335.2 820.4 335.6 820.9 336 821.8 336.4 821.8 336.8 822.2 337.2 822 337.6 823 338 824.3 338.4 822.8 338.8 823.8 339.2 824.8 339.6 825.9 340 824.7 340.4 825.4 340.8 826 341.2 827.9 341.6 826 342 826.6 342.4 827.2 342.8 826.6 343.2 827.3 343.6 827.3 344 826.9 344.4 827.3 344.8 827.9 345.2 826.8 345.6 826.2 346 825.6 346.4 825.7 346.8 825.7 347.2 824.6 347.6 824.1 348 824.7 348.4 822.2 348.8 821.3 349.2 821.3 349.6 820.3 350 820.1 350.4 819.7 350.8 818.5 351.2 817.5 351.6 817.2 352 816.5 352.4 815.6 352.8 814.8 353.2 815 353.6 814.1 354 813.2 354.4 813.8 354.8 813 355.2 812.8 355.6 813.4 356 812.8 356.4 813.8 356.8 814.3 357.2 815.3 357.6 817.8 358 820.2 358.4 820.6 358.8 823.6 359.2 825.4 359.6 827.5 360 827.9 360.4 829.7 360.8 832.3 361.2 832.5 361.6 833.4 362 834.2 362.4 834.2 362.8 833.4 363.2 833.4 363.6 833.6 364 833 364.4 831.9 364.8 832.4 365.2 831.5 365.6 830 366 828.9 366.4 828.7 366.8 825.7 367.2 825.7 367.6 823.9 368 822.3 368.4 821.5 368.8 819.4 369.2 819 369.6 815.1 370 813.3 370.4 810 370.8 808.8 371.2 805.4 371.6 803.1 372 800.8" stroke="#f05b12" stroke-width="2.8" fill="none" stroke-linejoin="round" /><path d="M60 768.9 60.8 770.3 61.6 772 62.4 773.5 63.2 776.8 64 779.6 64.8 783.1 65.6 786.4 66.4 790.5 67.2 794 68 801.5 68.8 809.4 69.6 817.6 70.4 827.3 71.2 835.9 72 842.5 72.8 848.9 73.6 851.3 74.4 851.1 75.2 847.7 76 842.1 76.8 835 77.6 826.7 78.4 817.1 79.2 808.9 80 800.4 80.8 793.7 81.6 789.3 82.4 787.5 83.2 788.4 84 792.2 84.8 799.2 85.6 807.9 86.4 818 87.2 828.2 88 837 88.8 845.1 89.6 850.3 90.4 853.1 91.2 850.5 92 846.4 92.8 840.8 93.6 833.1 94.4 823.7 95.2 814.6 96 804.7 96.8 796.4 97.6 789.8 98.4 785.7 99.2 783.6 100 784.2 100.8 788.3 101.6 793.9 102.4 801.8 103.2 810 104 819.7 104.8 828.8 105.6 838 106.4 845.6 107.2 852 108 856.7 108.8 858.4 109.6 857.4 110.4 853.4 111.2 847.9 112 839.7 112.8 831.6 113.6 822.5 114.4 812.4 115.2 804.2 116 796.2 116.8 789 117.6 783.6 118.4 781.3 119.2 782.5 120 786.4 120.8 790.9 121.6 797.6 122.4 805 123.2 813.4 124 822.7 124.8 831 125.6 839.6 126.4 847.3 127.2 853.2 128 857.8 128.8 859.6 129.6 859.8 130.4 857.4 131.2 852.7 132 847.5 132.8 841.2 133.6 834.6 134.4 826.8 135.2 818.9 136 811.2 136.8 804.2 137.6 797.9 138.4 791.9 139.2 787.6 140 786.2 140.8 785.6 141.6 787.2 142.4 790.1 143.2 794 144 799.2 144.8 806.3 145.6 813 146.4 819.9 147.2 826.6 148 833.4 148.8 839.6 149.6 845.5 150.4 850.2 151.2 853.8 152 856.4 152.8 857.7 153.6 855.1 154.4 853.2 155.2 849.1 156 842.9 156.8 837.2 157.6 830.2 158.4 822.7 159.2 815.2 160 807.5 160.8 801.7 161.6 795.6 162.4 789.8 163.2 784.7 164 781.9 164.8 780.5 165.6 780.4 166.4 782.1 167.2 784.9 168 788 168.8 791.8 169.6 796.9 170.4 802.9 171.2 808.6 172 814.7 172.8 821.6 173.6 827.3 174.4 833.1 175.2 839.2 176 845.6 176.8 849.2 177.6 854.6 178.4 857.9 179.2 859.8 180 861.3 180.8 862.3 181.6 860.5 182.4 857.3 183.2 854.1 184 848.1 184.8 841.9 185.6 834.8 186.4 827.2 187.2 819.6 188 811.5 188.8 804.2 189.6 797 190.4 790.2 191.2 784.2 192 779.2 192.8 775.1 193.6 772 194.4 771.8 195.2 771.3 196 773.2 196.8 776.1 197.6 778.6 198.4 784 199.2 787.7 200 792.8 200.8 798.8 201.6 805 202.4 811.7 203.2 818.2 204 825.4 204.8 831.6 205.6 838.3 206.4 844.3 207.2 851.1 208 856.4 208.8 861.2 209.6 867.3 210.4 870.5 211.2 873.9 212 876.6 212.8 878.9 213.6 878.7 214.4 878.6 215.2 877 216 874.2 216.8 868.9 217.6 863.6 218.4 856.9 219.2 851.1 220 842.8 220.8 834.9 221.6 826.9 222.4 818.3 223.2 810.6 224 802.2 224.8 795.8 225.6 788.2 226.4 781.9 227.2 777 228 771.6 228.8 769.4 229.6 767.4 230.4 765.9 231.2 767.2 232 768.5 232.8 771.5 233.6 774.6 234.4 778.4 235.2 783.9 236 788.9 236.8 795 237.6 801.6 238.4 808.3 239.2 814.9 240 821 240.8 828.8 241.6 835.3 242.4 842.7 243.2 848.8 244 855.7 244.8 861.2 245.6 866.4 246.4 871.4 247.2 874.8 248 879.1 248.8 881.5 249.6 882.7 250.4 884 251.2 883.7 252 882.5 252.8 880.4 253.6 878.1 254.4 874.9 255.2 870.7 256 866.3 256.8 861.3 257.6 856.1 258.4 851 259.2 844.8 260 838.5 260.8 833 261.6 827.1 262.4 820.4 263.2 814.7 264 808.5 264.8 802.1 265.6 797 266.4 791.6 267.2 787 268 781.1 268.8 778.6 269.6 775.1 270.4 771.6 271.2 770.3 272 768.5 272.8 768.1 273.6 768.6 274.4 769.6 275.2 770.4 276 772.5 276.8 774.7 277.6 776.9 278.4 781 279.2 784.1 280 787.7 280.8 792.1 281.6 796.2 282.4 800.3 283.2 805.7 284 810.2 284.8 815.4 285.6 820.6 286.4 825.7 287.2 831.2 288 835.6 288.8 840.4 289.6 845.1 290.4 849.9 291.2 855 292 859.2 292.8 862.8 293.6 866.8 294.4 870.4 295.2 874.3 296 876.1 296.8 879 297.6 880.1 298.4 882 299.2 883.5 300 882.8 300.8 883.3 301.6 880.9 302.4 879.8 303.2 876.7 304 873.9 304.8 870.1 305.6 866.3 306.4 861.4 307.2 856.4 308 850.8 308.8 845.6 309.6 839.4 310.4 833.6 311.2 827.7 312 822.2 312.8 817.1 313.6 810.4 314.4 805.6 315.2 799.2 316 794.3 316.8 790.1 317.6 785.9 318.4 782.2 319.2 779.4 320 776.1 320.8 774.7 321.6 773.1 322.4 771.5 323.2 772.4 324 773.1 324.8 774.3 325.6 775.7 326.4 776.9 327.2 779.4 328 780.6 328.8 783.3 329.6 786.2 330.4 788.2 331.2 792.1 332 795.1 332.8 797.9 333.6 801.4 334.4 804.8 335.2 808.5 336 812.6 336.8 816 337.6 819 338.4 822.6 339.2 827.2 340 829.5 340.8 833.6 341.6 837.5 342.4 841.2 343.2 845 344 847.7 344.8 852.1 345.6 853.6 346.4 856.5 347.2 859 348 860.8 348.8 863.1 349.6 864.6 350.4 865.8 351.2 866.5 352 867.3 352.8 868.1 353.6 867.5 354.4 866.1 355.2 863.2 356 859 356.8 853.7 357.6 847.9 358.4 841 359.2 833.6 360 825 360.8 815.8 361.6 806.7 362.4 798 363.2 787.7 364 778.7 364.8 770 365.6 760.4 366.4 751.6 367.2 744.2 368 735 368.8 729 369.6 721.9 370.4 715 371.2 708.6 372 702 372.8 694.9 373.6 687.9 374.4 680.9 375 675.5" stroke="#e1dd37" stroke-width="2.8" fill="none" stroke-linejoin="round" /><path d="M60 766.1 60.8 767.2 61.6 768.6 62.4 771.2 63.2 773.4 64 776.1 64.8 781 65.6 784.3 66.4 787.2 67.2 792.2 68 799.3 68.8 808.2 69.6 818.2 70.4 827.6 71.2 836.5 72 844.8 72.8 850.4 73.6 853.6 74.4 852.9 75.2 849.2 76 844.2 76.8 835.8 77.6 827.1 78.4 817.3 79.2 808 80 799.5 80.8 792.8 81.6 787.9 82.4 785.2 83.2 785.8 84 791.8 84.8 798.4 85.6 807.8 86.4 817.5 87.2 828.2 88 838.3 88.8 845.6 89.6 851.8 90.4 854.8 91.2 854.3 92 849.1 92.8 841.7 93.6 833.1 94.4 824.4 95.2 813.7 96 804.1 96.8 796.1 97.6 788.1 98.4 782.9 99.2 780.6 100 782.6 100.8 786.7 101.6 792.2 102.4 800 103.2 809.7 104 820.2 104.8 829.8 105.6 838.6 106.4 847.6 107.2 854.6 108 859 108.8 861 109.6 859.8 110.4 855.5 111.2 849.1 112 840.7 112.8 831.5 113.6 821.4 114.4 812.2 115.2 802.6 116 793.8 116.8 786.9 117.6 781.8 118.4 779.1 119.2 780.2 120 783.2 120.8 788.7 121.6 795 122.4 803.9 123.2 813.4 124 822.6 124.8 831.7 125.6 840.3 126.4 848.6 127.2 855.9 128 859.7 128.8 862.7 129.6 861.9 130.4 860.1 131.2 855.2 132 849.9 132.8 843.1 133.6 835.4 134.4 826.6 135.2 818.6 136 810.2 136.8 802.8 137.6 795.9 138.4 790.2 139.2 786.3 140 783.3 140.8 783 141.6 784.7 142.4 788.1 143.2 792.4 144 798.6 144.8 804.5 145.6 812.7 146.4 819.4 147.2 827.4 148 833.7 148.8 840.9 149.6 847.2 150.4 853 151.2 856.2 152 859.2 152.8 859.1 153.6 858.7 154.4 854.8 155.2 849.9 156 844.1 156.8 838.3 157.6 830.7 158.4 823.1 159.2 815 160 807.4 160.8 800.4 161.6 792.9 162.4 787.2 163.2 782.3 164 778.6 164.8 777.7 165.6 778.7 166.4 779.4 167.2 783.3 168 786.3 168.8 790.8 169.6 796.3 170.4 801.7 171.2 808 172 815 172.8 820.8 173.6 827.7 174.4 833.8 175.2 840.5 176 847.5 176.8 852 177.6 855.7 178.4 859 179.2 862.7 180 864.3 180.8 864.1 181.6 863.5 182.4 860.1 183.2 855.8 184 850.1 184.8 843.6 185.6 835.5 186.4 827.5 187.2 820 188 811.1 188.8 802.4 189.6 795.2 190.4 787.6 191.2 781.5 192 777.2 192.8 772.5 193.6 769 194.4 767.8 195.2 768.8 196 770.1 196.8 773.2 197.6 776.8 198.4 781.3 199.2 786 200 791.1 200.8 797.7 201.6 804.3 202.4 811.2 203.2 818.6 204 824.9 204.8 832.3 205.6 839.2 206.4 846 207.2 853.1 208 858.8 208.8 865.5 209.6 868.8 210.4 874.8 211.2 877.8 212 880.2 212.8 882.5 213.6 883.2 214.4 882.9 215.2 880.9 216 876.6 216.8 872.1 217.6 866.5 218.4 859.7 219.2 852.1 220 844.8 220.8 836 221.6 826.8 222.4 818.7 223.2 809.9 224 801.5 224.8 794 225.6 786.5 226.4 779.7 227.2 773.9 228 769.4 228.8 765.2 229.6 763.4 230.4 763.2 231.2 763.2 232 765 232.8 767.7 233.6 772.1 234.4 775.9 235.2 781.7 236 786.8 236.8 793.3 237.6 800.1 238.4 806.8 239.2 813.8 240 822 240.8 828.9 241.6 836.6 242.4 843.9 243.2 850.1 244 857.9 244.8 863.7 245.6 869.3 246.4 874.4 247.2 878.8 248 882.8 248.8 886.3 249.6 887.2 250.4 887.5 251.2 887.5 252 887.2 252.8 884.4 253.6 882.3 254.4 877.7 255.2 873.6 256 868.8 256.8 863.8 257.6 858.6 258.4 852.8 259.2 845.9 260 839.8 260.8 833.4 261.6 826.9 262.4 821 263.2 814.5 264 807.7 264.8 801.6 265.6 795 266.4 789.8 267.2 783.8 268 779.7 268.8 775.6 269.6 772.1 270.4 768.8 271.2 766.5 272 764.7 272.8 763.6 273.6 764.5 274.4 764.8 275.2 766.9 276 768.9 276.8 770.9 277.6 773.6 278.4 777.6 279.2 781.1 280 785.6 280.8 790.1 281.6 795 282.4 799.6 283.2 803.9 284 809.4 284.8 815.6 285.6 819.8 286.4 825.4 287.2 831.5 288 836.6 288.8 841.5 289.6 847 290.4 851.7 291.2 857.2 292 861.4 292.8 865.9 293.6 870 294.4 872.9 295.2 877 296 880.2 296.8 882.6 297.6 884.3 298.4 886 299.2 887.5 300 887.5 300.8 886.6 301.6 886 302.4 883.6 303.2 880.6 304 876.6 304.8 873.6 305.6 868.4 306.4 864.1 307.2 859 308 853.2 308.8 846.5 309.6 840.5 310.4 834.9 311.2 828.8 312 822.1 312.8 815.8 313.6 810.5 314.4 804.5 315.2 798.3 316 792.7 316.8 788.1 317.6 782.9 318.4 779.5 319.2 776.1 320 773.7 320.8 771.4 321.6 769.2 322.4 770.2 323.2 769.9 324 769.5 324.8 770.6 325.6 772.8 326.4 773.7 327.2 776.5 328 777.9 328.8 780.2 329.6 784.2 330.4 787.2 331.2 789.6 332 793.7 332.8 796.6 333.6 800.3 334.4 803.8 335.2 807.9 336 812.1 336.8 816.1 337.6 820.3 338.4 824.2 339.2 827.6 340 831.1 340.8 835.5 341.6 839.2 342.4 842.4 343.2 845.6 344 849.1 344.8 852.1 345.6 855.4 346.4 858.6 347.2 861.6 348 863.5 348.8 865.3 349.6 867.1 350.4 868.6 351.2 870.3 352 870.6 352.8 870.2 353.6 870.6 354.4 868.2 355.2 865.5 356 861.4 356.8 855.6 357.6 849.3 358.4 842.5 359.2 833.5 360 825.5 360.8 816.1 361.6 806.4 362.4 795.9 363.2 786.7 364 776.4 364.8 766.6 365.6 756.7 366.4 748 367.2 738.2 368 730.8 368.8 723.5 369.6 716.9 370.4 707.8 371.2 700.5 372 693.6 372.8 686.5 373.6 678.7 374.4 672 375 666.2" stroke="#46f884" stroke-width="2.8" fill="none" stroke-linejoin="round" /><path d="M60 762.3 60.8 763 61.6 765.5 62.4 767.6 63.2 769.8 64 774.4 64.8 777.6 65.6 782 66.4 786.8 67.2 790.9 68 797.6 68.8 806.9 69.6 818 70.4 827.2 71.2 837.9 72 846.4 72.8 851.9 73.6 855.8 74.4 855.6 75.2 851.2 76 845 76.8 837.2 77.6 826.8 78.4 816.9 79.2 807.9 80 798.3 80.8 789.9 81.6 785.2 82.4 783.6 83.2 783 84 789.1 84.8 797 85.6 806.4 86.4 817.9 87.2 828.4 88 840 88.8 848.9 89.6 853.8 90.4 856.7 91.2 855.5 92 850.5 92.8 843.8 93.6 834 94.4 824.5 95.2 813.4 96 803.1 96.8 793.9 97.6 786.4 98.4 780 99.2 778.7 100 780 100.8 783.8 101.6 791.4 102.4 798.8 103.2 808.8 104 819.8 104.8 829.9 105.6 841 106.4 849.4 107.2 857.4 108 861 108.8 863.1 109.6 863 110.4 857.5 111.2 851.8 112 842.3 112.8 832.9 113.6 822.7 114.4 811.4 115.2 800.6 116 791.8 116.8 785 117.6 779.3 118.4 777.1 119.2 777.5 120 781.1 120.8 786.6 121.6 793.7 122.4 803.3 123.2 812.8 124 821.9 124.8 832.9 125.6 842.8 126.4 851.7 127.2 856.9 128 862.6 128.8 865.4 129.6 865.2 130.4 861.9 131.2 858 132 851.4 132.8 844.3 133.6 835.9 134.4 827.6 135.2 818.4 136 810 136.8 801.6 137.6 794.8 138.4 789.1 139.2 783.8 140 780.9 140.8 780.8 141.6 782.3 142.4 785.2 143.2 790.9 144 796.7 144.8 804.3 145.6 811.4 146.4 819.8 147.2 827.7 148 834.8 148.8 842.2 149.6 848.6 150.4 854.1 151.2 858.9 152 860.9 152.8 861.7 153.6 860.2 154.4 858.1 155.2 852.4 156 846.4 156.8 838.9 157.6 831.6 158.4 822.8 159.2 814.3 160 805.3 160.8 797.5 161.6 791.2 162.4 785.3 163.2 779.1 164 776.6 164.8 775 165.6 776.8 166.4 776.5 167.2 779.5 168 783.3 168.8 789 169.6 794.7 170.4 800.3 171.2 807.8 172 815 172.8 820.8 173.6 828.4 174.4 835 175.2 841.4 176 847.7 176.8 853.4 177.6 857.7 178.4 862.3 179.2 865.6 180 866.4 180.8 867 181.6 865.3 182.4 862.7 183.2 857.7 184 852.2 184.8 844.4 185.6 835.9 186.4 828.5 187.2 819.2 188 811 188.8 802.1 189.6 792 190.4 784.6 191.2 778.7 192 772.6 192.8 767.4 193.6 765.5 194.4 765.4 195.2 765.7 196 766.7 196.8 770.1 197.6 774.2 198.4 778.2 199.2 784.6 200 789.3 200.8 797.3 201.6 803.9 202.4 810.7 203.2 818 204 825.5 204.8 832.7 205.6 841.1 206.4 848.6 207.2 855.3 208 861.7 208.8 867.6 209.6 872.6 210.4 877.4 211.2 880.9 212 884.8 212.8 886.1 213.6 887.7 214.4 886.3 215.2 885 216 881.4 216.8 876.3 217.6 869.9 218.4 862.1 219.2 854.2 220 845.5 220.8 837.1 221.6 828.5 222.4 817.9 223.2 810.4 224 800 224.8 791.2 225.6 784.1 226.4 777.3 227.2 770.4 228 765 228.8 762.7 229.6 759 230.4 759.3 231.2 759.7 232 761.3 232.8 764.5 233.6 767.8 234.4 772.6 235.2 778.8 236 784.2 236.8 791 237.6 799.3 238.4 806.9 239.2 814.3 240 822.1 240.8 829.5 241.6 837.5 242.4 844.8 243.2 851.3 244 859.9 244.8 866.6 245.6 873.1 246.4 877.5 247.2 883.4 248 886.5 248.8 889.1 249.6 891.5 250.4 892.8 251.2 892 252 890.9 252.8 888.1 253.6 885.8 254.4 882.3 255.2 877 256 872.7 256.8 866.4 257.6 861.2 258.4 854.1 259.2 848.5 260 841.5 260.8 834 261.6 827.7 262.4 820 263.2 813.5 264 806.2 264.8 800.3 265.6 793.4 266.4 788.4 267.2 782.3 268 777.3 268.8 771.8 269.6 767.5 270.4 765 271.2 763.9 272 761 272.8 761.5 273.6 761.8 274.4 761.7 275.2 763.4 276 766.3 276.8 768.1 277.6 771.1 278.4 774.6 279.2 778.8 280 783.1 280.8 788.4 281.6 792.8 282.4 798.4 283.2 803.2 284 810 284.8 814.3 285.6 820.1 286.4 825.5 287.2 830.9 288 837 288.8 843.3 289.6 848.2 290.4 854.5 291.2 858.5 292 863.4 292.8 869.1 293.6 873.5 294.4 876.7 295.2 881.4 296 884.7 296.8 886.9 297.6 888.2 298.4 891 299.2 891.2 300 891.6 300.8 891.5 301.6 889.5 302.4 888.5 303.2 884.5 304 881.7 304.8 877.3 305.6 873 306.4 867.1 307.2 861.6 308 854.9 308.8 848.7 309.6 842 310.4 836 311.2 828.6 312 822.9 312.8 815.5 313.6 808.4 314.4 802.4 315.2 797.3 316 790.8 316.8 786 317.6 780.2 318.4 776.9 319.2 773.4 320 770.4 320.8 768.3 321.6 766.1 322.4 765.3 323.2 765.7 324 767.4 324.8 768.2 325.6 769.8 326.4 770.9 327.2 773.6 328 774.8 328.8 778.5 329.6 780.6 330.4 784.1 331.2 788 332 791.7 332.8 794.9 333.6 798.6 334.4 803.4 335.2 807.3 336 810.6 336.8 815.3 337.6 819.3 338.4 824.1 339.2 828 340 832.2 340.8 836.1 341.6 839.8 342.4 844.5 343.2 848 344 850.2 344.8 854.6 345.6 858.2 346.4 860.7 347.2 863.3 348 865.9 348.8 868.6 349.6 869.9 350.4 872 351.2 873.7 352 874.3 352.8 874.7 353.6 873.8 354.4 872.7 355.2 868.8 356 864.5 356.8 857.7 357.6 851.9 358.4 843.1 359.2 834.7 360 825.9 360.8 815.5 361.6 805 362.4 794.5 363.2 784.5 364 773.8 364.8 763 365.6 752.1 366.4 742.4 367.2 733.6 368 725 368.8 716.3 369.6 708.5 370.4 701.3 371.2 693.6 372 685.3 372.8 676.9 373.6 670.4 374.4 661.9 375 656.2" stroke="#3e9bfe" stroke-width="2.9" fill="none" stroke-linejoin="round" /><path d="M60 760 60.8 760.6 61.6 764.4 62.4 765.9 63.2 769.1 64 772.1 64.8 776.1 65.6 780.4 66.4 784.7 67.2 789.4 68 797.6 68.8 807 69.6 817.3 70.4 827.8 71.2 837.9 72 846.6 72.8 853.8 73.6 856.8 74.4 857 75.2 852.3 76 846.5 76.8 837.6 77.6 827.4 78.4 817.8 79.2 807 80 797.8 80.8 790.1 81.6 784.1 82.4 781 83.2 782.5 84 788 84.8 795.4 85.6 806.3 86.4 817.4 87.2 828.8 88 839.6 88.8 848.5 89.6 855.3 90.4 858.4 91.2 855.7 92 851.7 92.8 844.5 93.6 834.8 94.4 824.7 95.2 812.9 96 802.8 96.8 793.1 97.6 784.8 98.4 778.7 99.2 777.6 100 777.9 100.8 782.8 101.6 789 102.4 798.1 103.2 808.8 104 818.9 104.8 830.8 105.6 841.9 106.4 849.6 107.2 857.7 108 863.4 108.8 865 109.6 864.3 110.4 859.5 111.2 851.5 112 842.2 112.8 833 113.6 822.6 114.4 810.6 115.2 801.1 116 790.2 116.8 783.5 117.6 777.6 118.4 775 119.2 775.7 120 779.1 120.8 785.3 121.6 792.6 122.4 802.8 123.2 811.9 124 823.2 124.8 832.7 125.6 842.4 126.4 852.1 127.2 859.1 128 864.1 128.8 867.5 129.6 866 130.4 864.2 131.2 859.2 132 853.6 132.8 844.7 133.6 836.5 134.4 827.4 135.2 818.1 136 808.7 136.8 800.9 137.6 793.3 138.4 786.7 139.2 782.3 140 778.9 140.8 780.1 141.6 781.5 142.4 784.9 143.2 790.2 144 795.9 144.8 802.9 145.6 810.8 146.4 818.9 147.2 827.3 148 836.1 148.8 842.9 149.6 850.5 150.4 855.8 151.2 860.8 152 862.3 152.8 863 153.6 861.7 154.4 857.6 155.2 854.1 156 847.6 156.8 840.1 157.6 831.9 158.4 823.7 159.2 814 160 806 160.8 797.7 161.6 790.5 162.4 784.3 163.2 778.7 164 774.5 164.8 773.5 165.6 773.5 166.4 775.4 167.2 777.9 168 782.3 168.8 787.5 169.6 793.1 170.4 799.9 171.2 807.5 172 813.7 172.8 820.7 173.6 828.3 174.4 836.2 175.2 842.6 176 849.4 176.8 854.8 177.6 860.2 178.4 863.6 179.2 867.5 180 868.7 180.8 869.2 181.6 868.1 182.4 863 183.2 859.8 184 854 184.8 845.4 185.6 837 186.4 828.4 187.2 819.7 188 810 188.8 800.4 189.6 791.8 190.4 783.5 191.2 776.8 192 770.7 192.8 765.8 193.6 763.9 194.4 762.6 195.2 763.6 196 764.1 196.8 768.5 197.6 772.7 198.4 776.5 199.2 781.6 200 787.5 200.8 795.7 201.6 802.4 202.4 810.2 203.2 817.7 204 824.8 204.8 833.2 205.6 841.3 206.4 848.4 207.2 856.3 208 862.6 208.8 869.7 209.6 873.9 210.4 880 211.2 883.8 212 887.3 212.8 889.5 213.6 889.9 214.4 889.1 215.2 886.3 216 883.2 216.8 877.5 217.6 871.3 218.4 863.7 219.2 855.6 220 846.4 220.8 838.7 221.6 828 222.4 818.1 223.2 808.6 224 799.7 224.8 790.5 225.6 782.9 226.4 775.2 227.2 768.9 228 764.1 228.8 759.8 229.6 757.5 230.4 756.9 231.2 758.1 232 759.3 232.8 763 233.6 766.8 234.4 771.6 235.2 776.5 236 783.5 236.8 789.7 237.6 797.5 238.4 805.4 239.2 813.3 240 821 240.8 830.4 241.6 838 242.4 846.7 243.2 853.8 244 860.3 244.8 868.9 245.6 875 246.4 881 247.2 885 248 888.1 248.8 892.3 249.6 893.6 250.4 894.5 251.2 894 252 892.6 252.8 891.5 253.6 887.3 254.4 882.9 255.2 880.4 256 873.9 256.8 868.1 257.6 863 258.4 856.2 259.2 848.4 260 842.7 260.8 835.4 261.6 827.9 262.4 819.5 263.2 813.2 264 805.2 264.8 799.3 265.6 792.9 266.4 786.9 267.2 780.2 268 776.1 268.8 770.6 269.6 766.5 270.4 763 271.2 761.1 272 759.6 272.8 758.6 273.6 758.6 274.4 760.5 275.2 761.6 276 764 276.8 766.6 277.6 769.6 278.4 772.8 279.2 777 280 781.5 280.8 785.3 281.6 791.3 282.4 797.4 283.2 802.6 284 807.6 284.8 814.4 285.6 819.9 286.4 826.6 287.2 832 288 837.6 288.8 844 289.6 849.5 290.4 855.6 291.2 860.4 292 866.4 292.8 870.5 293.6 874.5 294.4 879 295.2 882.8 296 886.7 296.8 889.3 297.6 891.3 298.4 893.4 299.2 894.1 300 894.8 300.8 893.6 301.6 893.1 302.4 889.2 303.2 886.4 304 883.3 304.8 879.3 305.6 874.7 306.4 868.6 307.2 862.6 308 856.5 308.8 849.9 309.6 843 310.4 835.6 311.2 828.8 312 822.2 312.8 814.6 313.6 808.6 314.4 802.5 315.2 795.6 316 789.4 316.8 783.7 317.6 779.1 318.4 775.1 319.2 771.7 320 768.2 320.8 766.2 321.6 764.8 322.4 764 323.2 763.9 324 765.7 324.8 766.3 325.6 768.2 326.4 769 327.2 771.3 328 774 328.8 776.4 329.6 779.1 330.4 782.6 331.2 785.8 332 789.9 332.8 792.9 333.6 798.2 334.4 802.4 335.2 805.3 336 810.3 336.8 814.9 337.6 818.6 338.4 823.6 339.2 828.2 340 832 340.8 836.9 341.6 840.8 342.4 844.1 343.2 848.2 344 853 344.8 856.6 345.6 859.4 346.4 863.1 347.2 864.6 348 868.7 348.8 871 349.6 871.9 350.4 873.6 351.2 874.3 352 877.1 352.8 876.1 353.6 875.6 354.4 873.5 355.2 870.2 356 865.3 356.8 860 357.6 852.7 358.4 843.8 359.2 835.3 360 825.1 360.8 815.3 361.6 803.2 362.4 794.5 363.2 782.7 364 771 364.8 761 365.6 750 366.4 739.6 367.2 730.9 368 721.3 368.8 713.2 369.6 705.4 370.4 696.8 371.2 688.4 372 680.2 372.8 671.7 373.6 664.5 374.4 655.2 375 650.4" stroke="#38237f" stroke-width="3.1" fill="none" stroke-linejoin="round" /></g>
<clipPath id="c40"><rect x="66.7" y="948.2" width="301.6" height="196.2"/></clipPath>
<g clip-path="url(#c40)"><path d="M60 1030.1 60.5 1052.3 60.9 1038.4 61.4 1041.9 61.8 1026.7 62.3 1045.7 62.7 1037.2 63.2 1026.7 63.6 1024.9 64.1 1030.3 64.5 1029.6 65 1009.5 65.4 1070 65.9 1030.7 66.3 1030.6 66.8 1050.4 67.2 1042.3 67.7 1028.9 68.1 1034.5 68.6 1032.7 69 1037.9 69.5 1044.4 69.9 1020 70.4 1042 70.8 1024.6 71.3 1047.2 71.7 1036.9 72.2 1041.2 72.6 1059.9 73.1 1043.7 73.5 1046.6 74 1051 74.4 1043.9 74.9 1046.5 75.3 1064.2 75.8 1062.4 76.2 1044.6 76.7 1029.7 77.1 1046.5 77.6 1046.3 78 1060.5 78.5 1074.6 78.9 1063.8 79.4 1078.2 79.8 1060 80.3 1071.6 80.7 1073.1 81.2 1075 81.6 1084.1 82.1 1082.4 82.5 1075 83 1070 83.4 1077.7 83.9 1083 84.3 1073.7 84.8 1051.2 85.2 1071.1 85.7 1092 86.1 1088 86.6 1081.6 87 1090.2 87.5 1090.9 87.9 1085.6 88.4 1084.2 88.8 1097.1 89.3 1095 89.7 1099.9 90.2 1096.8 90.6 1091 91.1 1085.5 91.5 1086.5 92 1084.7 92.4 1076.7 92.9 1091.4 93.3 1099.2 93.8 1100.7 94.2 1089.8 94.7 1093.1 95.1 1080.6 95.6 1084.3 96 1080.4 96.5 1089.1 96.9 1082.5 97.4 1079.1 97.8 1083.3 98.3 1066.6 98.7 1078.7 99.2 1080.9 99.6 1084.7 100.1 1063 100.5 1066.5 101 1051 101.4 1075.6 101.9 1051.6 102.3 1062 102.8 1045.8 103.2 1053.9 103.7 1049.1 104.1 1042.6 104.6 1041.5 105 1042.1 105.5 1041.7 105.9 1033.6 106.4 1057.2 106.8 1045.4 107.3 1045.6 107.7 1044.5 108.2 1040.6 108.6 1040.9 109.1 1044.9 109.5 1037.5 110 1049 110.4 1036.4 110.9 1046.6 111.3 1029.5 111.8 1038.4 112.2 1041.1 112.7 1045.6 113.1 1045.4 113.6 1026.7 114 1029.1 114.5 1046.5 114.9 1031.1 115.4 1022 115.8 1042.9 116.3 1029 116.7 1024.6 117.2 1029.5 117.6 1044.4 118.1 1030.8 118.5 1030.1 119 1031.3 119.4 1044.9 119.9 1021.7 120.3 1032.1 120.8 1006.4 121.2 1038.3 121.7 1040.5 122.1 1035.1 122.6 1039.6 123 1038.7 123.5 1046.6 123.9 1021.2 124.4 1034.9 124.8 1037 125.3 1047.8 125.7 1047.8 126.2 1041.4 126.6 1024.4 127.1 1035.8 127.5 1043.6 128 1039.3 128.4 1032.9 128.9 1043.7 129.3 1041.7 129.8 1032.3 130.2 1038 130.7 1050.1 131.1 1049.5 131.6 1010.9 132 1036 132.5 1052.2 132.9 1046.2 133.4 1042.4 133.8 1040 134.3 1044.3 134.7 1050.4 135.2 1025.4 135.6 1050.8 136.1 1041.3 136.5 1034.7 137 1040.1 137.4 1037.2 137.9 1038.2 138.3 1046.8 138.8 1043.5 139.2 1054.9 139.7 1035.6 140.1 1054.1 140.6 1038.9 141 1049.9 141.5 1046.3 141.9 1056.4 142.4 1039.6 142.8 1050.2 143.3 1061.7 143.7 1059.7 144.2 1048 144.6 1056 145.1 1058.4 145.5 1054.1 146 1059.3 146.4 1057.8 146.9 1033.4 147.3 1055.2 147.8 1081.1 148.2 1047.6 148.7 1048.2 149.1 1050.8 149.6 1044.5 150 1048 150.5 1049.7 150.9 1078.2 151.4 1025.9 151.8 1054.6 152.3 1049 152.7 1043.6 153.2 1045.6 153.6 1042.3 154.1 1060.3 154.5 1063.3 155 1039.9 155.4 1050.2 155.9 1071.5 156.3 1052.2 156.8 1050.1 157.2 1052.3 157.7 1047.6 158.1 1043 158.6 1059.5 159 1027.1 159.5 1046.6 159.9 1044 160.4 1048.8 160.8 1045.2 161.3 1058.2 161.7 1061.3 162.2 1051.8 162.6 1042.3 163.1 1046.1 163.5 1049 164 1045.6 164.4 1043.7 164.9 1064.1 165.3 1059 165.8 1046.6 166.2 1047.6 166.7 1054.3 167.1 1049.9 167.6 1058.5 168 1060.3 168.5 1055.8 168.9 1049.9 169.4 1054.3 169.8 1046.1 170.3 1054.8 170.7 1069.1 171.2 1054.3 171.6 1062.6 172.1 1066.2 172.5 1069.1 173 1023.1 173.4 1058.1 173.9 1056 174.3 1068.3 174.8 1066.7 175.2 1053.4 175.7 1056.6 176.1 1062.3 176.6 1057 177 1057.8 177.5 1064.1 177.9 1054.8 178.4 1052.4 178.8 1064.7 179.3 1055 179.7 1050.2 180.2 1066.9 180.6 1062.6 181.1 1044.9 181.5 1064.1 182 1061.4 182.4 1062 182.9 1052.3 183.3 1055.9 183.8 1045.8 184.2 1045.6 184.7 1062.4 185.1 1054.9 185.6 1058.6 186 1055.9 186.5 1054 186.9 1053.9 187.4 1059.3 187.8 1055 188.3 1025.7 188.7 1062.2 189.2 1063.4 189.6 1059.8 190.1 1063.5 190.5 1062.3 191 1055.1 191.4 1060.9 191.9 1057.5 192.3 1048.1 192.8 1053.4 193.2 1054.6 193.7 1065.6 194.1 1054.1 194.6 1049.7 195 1047.9 195.5 1052.6 195.9 1050 196.4 1073.2 196.8 1028.8 197.3 1014.9 197.7 1051.6 198.2 1054.8 198.6 1053.6 199.1 1045.3 199.5 1051.5 200 1057 200.4 1054.6 200.9 1050 201.3 1051 201.8 1051.1 202.2 1054.5 202.7 1051.8 203.1 1055.9 203.6 1054.7 204 1054.8 204.5 1058 204.9 1058.4 205.4 1052.7 205.8 1053.5 206.3 1059.3 206.7 1061 207.2 1049.7 207.6 1053 208.1 1051 208.5 1056 209 1056.8 209.4 1062.6 209.9 1058.7 210.3 1070.8 210.8 1063.8 211.2 1060.8 211.7 1053.8 212.1 1057.5 212.6 1055.2 213 1057.4 213.5 1063.6 213.9 1070.9 214.4 1062.3 214.8 1060.1 215.3 1056.1 215.7 1060.5 216.2 1065.9 216.6 1056.4 217.1 1061.5 217.5 1063.2 218 1063.8 218.4 1069.6 218.9 1060.1 219.3 1061.1 219.8 1055.9 220.2 1058.2 220.7 1056.4 221.1 1060.3 221.6 1061.6 222 1062.4 222.5 1062.7 222.9 1057.6 223.4 1055.5 223.8 1055.4 224.3 1057.9 224.7 1050.1 225.2 1054.2 225.6 1059.8 226.1 1054 226.5 1057.3 227 1055.4 227.4 1058.4 227.9 1058.7 228.3 1064.4 228.8 1057.7 229.2 1068.3 229.7 1057.2 230.1 1051.5 230.6 1062.5 231 1051.3 231.5 1056.6 231.9 1050.2 232.4 1055.9 232.8 1052.5 233.3 1054.3 233.7 1053 234.2 1047 234.6 1046.2 235.1 1048.3 235.5 1053.4 236 1051.3 236.4 1053.7 236.9 1075.9 237.3 1054.4 237.8 1045.8 238.2 1044.8 238.7 1044.6 239.1 1051.7 239.6 1046 240 1047.8 240.5 1067.2 240.9 1045.1 241.4 1044 241.8 1042.8 242.3 1048.2 242.7 1045.8 243.2 1045 243.6 1043.4 244.1 1043.9 244.5 1045.1 245 1046.9 245.4 1040.6 245.9 1046.8 246.3 1045.9 246.8 1045.6 247.2 1043.1 247.7 1042.4 248.1 1045.7 248.6 1043.1 249 1037.5 249.5 1039.5 249.9 1030.1 250.4 1042.2 250.8 1054 251.3 1037.7 251.7 1046.4 252.2 1043.9 252.6 1042.8 253.1 1043.8 253.5 1042.9 254 1043.4 254.4 1037.6 254.9 1041.7 255.3 1048.3 255.8 1044.8 256.2 1043.2 256.7 1047.7 257.1 1051.1 257.6 1040.4 258 1050.1 258.5 1046.2 258.9 1059.8 259.4 1048.6 259.8 1047.4 260.3 1052.5 260.7 1053.7 261.2 1056.2 261.6 1050.1 262.1 1055.6 262.5 1050 263 1049.1 263.4 1049.1 263.9 1055.1 264.3 1050.6 264.8 1063.5 265.2 1059.3 265.7 1059.8 266.1 1058.3 266.6 1060.6 267 1057.2 267.5 1056.1 267.9 1057.7 268.4 1062.9 268.8 1062.2 269.3 1064.2 269.7 1059.9 270.2 1067.3 270.6 1069.6 271.1 1067.9 271.5 1060.7 272 1066.6 272.4 1068.8 272.9 1072.7 273.3 1070.4 273.8 1072.5 274.2 1067.4 274.7 1068.1 275.1 1067.7 275.6 1073.3 276 1063.1 276.5 1066.2 276.9 1060.8 277.4 1070 277.8 1066 278.3 1060 278.7 1063.2 279.2 1061.9 279.6 1057.7 280.1 1058.2 280.5 1055.6 281 1054.7 281.4 1049.3 281.9 1051.2 282.3 1055.8 282.8 1054.2 283.2 1060.3 283.7 1057.7 284.1 1055.3 284.6 1048.2 285 1052.3 285.5 1055.1 285.9 1060.6 286.4 1056.4 286.8 1050.9 287.3 1058.3 287.7 1059.2 288.2 1060.2 288.6 1061.2 289.1 1054.5 289.5 1057.4 290 1059.4 290.4 1061.1 290.9 1056.9 291.3 1062.1 291.8 1062.1 292.2 1053.1 292.7 1062.3 293.1 1061.5 293.6 1059.3 294 1060.1 294.5 1063.2 294.9 1067.2 295.4 1064 295.8 1058 296.3 1061.6 296.7 1063.2 297.2 1055.9 297.6 1063.4 298.1 1061.4 298.5 1062.1 299 1059.9 299.4 1064.6 299.9 1060.2 300.3 1060 300.8 1063.5 301.2 1065.5 301.7 1061.2 302.1 1061.6 302.6 1064.8 303 1063.6 303.5 1062.3 303.9 1065 304.4 1063.9 304.8 1058 305.3 1057.5 305.7 1065.8 306.2 1057.7 306.6 1053.9 307.1 1058.1 307.5 1059.1 308 1061 308.4 1063.8 308.9 1057.5 309.3 1051.1 309.8 1054.8 310.2 1058.1 310.7 1060.4 311.1 1054.8 311.6 1052.5 312 1053.5 312.5 1050 312.9 1050.6 313.4 1060.5 313.8 1058.3 314.3 1051.1 314.7 1048.9 315.2 1054.8 315.6 1054.1 316.1 1053.3 316.5 1045.7 317 1050.9 317.4 1048.4 317.9 1054.1 318.3 1042.7 318.8 1052.9 319.2 1048.5 319.7 1053.1 320.1 1048.8 320.6 1053.9 321 1049.3 321.5 1048.3 321.9 1048.7 322.4 1054.6 322.8 1047.9 323.3 1051.3 323.7 1053 324.2 1047.2 324.6 1050.8 325.1 1049.8 325.5 1055.2 326 1048.9 326.4 1052.3 326.9 1047.4 327.3 1046.5 327.8 1052.8 328.2 1053.5 328.7 1053.3 329.1 1043 329.6 1056.2 330 1052.8 330.5 1052.8 330.9 1058.5 331.4 1054.6 331.8 1052.5 332.3 1049 332.7 1051.9 333.2 1055.2 333.6 1046.3 334.1 1053.7 334.5 1051.3 335 1050.9 335.4 1056.2 335.9 1052.8 336.3 1048.8 336.8 1050.9 337.2 1055.2 337.7 1056 338.1 1048.8 338.6 1052.2 339 1056.3 339.5 1060 339.9 1058.4 340.4 1055.2 340.8 1060.2 341.3 1056 341.7 1060.4 342.2 1059.9 342.6 1064.4 343.1 1065.7 343.5 1067 344 1063.8 344.4 1063.6 344.9 1065.3 345.3 1071.6 345.8 1065.4 346.2 1066.3 346.7 1065.5 347.1 1062.2 347.6 1068 348 1067.4 348.5 1065.9 348.9 1063.7 349.4 1064.2 349.8 1064 350.3 1060.7 350.7 1063.9 351.2 1068.6 351.6 1066.9 352.1 1064.2 352.5 1067.5 353 1064.4 353.4 1063.3 353.9 1065.2 354.3 1066 354.8 1070.5 355.2 1065.2 355.7 1064.9 356.1 1066.4 356.6 1060.5 357 1068.4 357.5 1069.6 357.9 1063.7 358.4 1062.3 358.8 1064.3 359.3 1064.7 359.7 1061.2 360.2 1058.3 360.6 1062.7 361.1 1060.6 361.5 1066.7 362 1061.7 362.4 1061.8 362.9 1061.8 363.3 1057.9 363.8 1058 364.2 1066.2 364.7 1064.1 365.1 1055.9 365.6 1060.1 366 1057.7 366.5 1060.5 366.9 1060.5 367.4 1055.7 367.8 1059.5 368.3 1054.4 368.7 1056.5 369.2 1059.6 369.6 1055.9 370.1 1054 370.5 1057.1 371 1050.1 371.4 1053 371.9 1049.6 372 1045.3" stroke="#7a0403" stroke-width="2.4" fill="none" stroke-linejoin="round" /><path d="M60 1069.6 60.5 1041.1 60.9 1014.7 61.4 1055.8 61.8 1032.2 62.3 1036.9 62.7 1043.5 63.2 1044 63.6 1046 64.1 1036.7 64.5 1052.6 65 1051.6 65.4 1045.7 65.9 1054.1 66.3 1048.8 66.8 1013.6 67.2 1048 67.7 1037.5 68.1 1053.8 68.6 1045.4 69 1044.7 69.5 1041.2 69.9 1057 70.4 1046.5 70.8 1045 71.3 1046.2 71.7 1054 72.2 1053.4 72.6 1054.5 73.1 1055.4 73.5 1069.9 74 1050.3 74.4 1050.2 74.9 1066 75.3 1060.6 75.8 1065.4 76.2 1056.1 76.7 1035.7 77.1 1051.6 77.6 1063.9 78 1069.7 78.5 1063.8 78.9 1041.6 79.4 1061.8 79.8 1060.9 80.3 1061.7 80.7 1066.8 81.2 1061.5 81.6 1064.8 82.1 1050.1 82.5 1060.8 83 1063 83.4 1045.7 83.9 1054.2 84.3 1052.2 84.8 1050.1 85.2 1052.3 85.7 1065.6 86.1 1045.8 86.6 1059.6 87 1037.5 87.5 1047.4 87.9 1050.5 88.4 1053 88.8 1053.1 89.3 1052.9 89.7 1042.9 90.2 1041.2 90.6 1071.7 91.1 1034.3 91.5 1032.6 92 1039.5 92.4 1034.2 92.9 1045.1 93.3 1041.9 93.8 1045.9 94.2 1036.7 94.7 1041.3 95.1 1045 95.6 1037.6 96 1044 96.5 1035.4 96.9 1038.2 97.4 1038.6 97.8 1032.7 98.3 1020.7 98.7 1066.1 99.2 1044.8 99.6 1049.5 100.1 1050.2 100.5 1052.9 101 1047.9 101.4 1046.4 101.9 1050.2 102.3 1038.5 102.8 1050 103.2 1043.7 103.7 1047.4 104.1 1059.6 104.6 1050.3 105 1052.9 105.5 1069.9 105.9 1057.6 106.4 1067.2 106.8 1054.6 107.3 1061.1 107.7 1055.8 108.2 1061.2 108.6 1071.1 109.1 1050.9 109.5 1068.4 110 1066.9 110.4 1060.2 110.9 1053.3 111.3 1065.3 111.8 1068.3 112.2 1066 112.7 1063.9 113.1 1076.2 113.6 1041.2 114 1054.2 114.5 1063.3 114.9 1063 115.4 1071.5 115.8 1066.7 116.3 1062.2 116.7 1070.4 117.2 1048.5 117.6 1052.2 118.1 1049.3 118.5 1052.9 119 1044.3 119.4 1059.8 119.9 1052.3 120.3 1041.7 120.8 1044.8 121.2 1054.9 121.7 1058.6 122.1 1067.4 122.6 1074.4 123 1054 123.5 1042.5 123.9 1033.2 124.4 1068.8 124.8 1043.5 125.3 1046.7 125.7 1040.6 126.2 1049.1 126.6 1058.9 127.1 1051.9 127.5 1049.6 128 1042.9 128.4 1038.2 128.9 1048.1 129.3 1052 129.8 1067 130.2 1054.4 130.7 1061.7 131.1 1050.3 131.6 1045.4 132 1047.7 132.5 1050.1 132.9 1073.5 133.4 1050.4 133.8 1064.3 134.3 1050.8 134.7 1066 135.2 1062.1 135.6 1055.4 136.1 1059.6 136.5 1055.1 137 1064.3 137.4 1057.4 137.9 1051.5 138.3 1051.3 138.8 1063.1 139.2 1074.5 139.7 1056.4 140.1 1061.1 140.6 1064.2 141 1072.3 141.5 1063.5 141.9 1058.3 142.4 1070.1 142.8 1064.5 143.3 1072.8 143.7 1061.9 144.2 1050.6 144.6 1049.1 145.1 1072.1 145.5 1072.2 146 1048.9 146.4 1054.9 146.9 1068.6 147.3 1048.4 147.8 1059.2 148.2 1060.7 148.7 1052.2 149.1 1054.6 149.6 1052.8 150 1056 150.5 1063.5 150.9 1053 151.4 1056.6 151.8 1036 152.3 1050.3 152.7 1043.9 153.2 1040.7 153.6 1042.7 154.1 1046.2 154.5 1054.8 155 1038.1 155.4 1047.5 155.9 1043.4 156.3 1044.2 156.8 1053.4 157.2 1049.7 157.7 1055.2 158.1 1044.3 158.6 1040.3 159 1043.5 159.5 1046.7 159.9 1046.2 160.4 1037.4 160.8 1045.7 161.3 1046.7 161.7 1062.6 162.2 1058.3 162.6 1039.7 163.1 1043.7 163.5 1035.9 164 1042.1 164.4 1048.5 164.9 1054.8 165.3 1042 165.8 1042.9 166.2 1033.2 166.7 1046.9 167.1 1041.2 167.6 1045.1 168 1043.2 168.5 1048.8 168.9 1038.3 169.4 1040.6 169.8 1064.5 170.3 1042.7 170.7 1047.9 171.2 1063.7 171.6 1070.9 172.1 1045.2 172.5 1050.7 173 1055.7 173.4 1064.8 173.9 1048.1 174.3 1053.1 174.8 1059.9 175.2 1058.1 175.7 1053.4 176.1 1055.2 176.6 1047.9 177 1055.3 177.5 1055.5 177.9 1068.1 178.4 1054.5 178.8 1061.2 179.3 1064.9 179.7 1060.1 180.2 1061.7 180.6 1060.4 181.1 1060.5 181.5 1056.7 182 1063.3 182.4 1061.2 182.9 1074.6 183.3 1072 183.8 1072.8 184.2 1059.4 184.7 1057.9 185.1 1071.6 185.6 1066.7 186 1068.4 186.5 1056.3 186.9 1071.9 187.4 1069.7 187.8 1061.3 188.3 1065.4 188.7 1069.9 189.2 1069.1 189.6 1067.6 190.1 1069.1 190.5 1068.7 191 1071.3 191.4 1078.8 191.9 1051.4 192.3 1070.2 192.8 1072.8 193.2 1073.7 193.7 1070.4 194.1 1063.4 194.6 1074.7 195 1082.2 195.5 1065.3 195.9 1078 196.4 1072 196.8 1073.5 197.3 1068.5 197.7 1072.3 198.2 1080.7 198.6 1077.1 199.1 1082.8 199.5 1080 200 1076.2 200.4 1082.5 200.9 1075.8 201.3 1077.5 201.8 1102.9 202.2 1073.2 202.7 1069.2 203.1 1077 203.6 1044.2 204 1075.2 204.5 1070.1 204.9 1076.1 205.4 1073.5 205.8 1078 206.3 1072.3 206.7 1061 207.2 1067.4 207.6 1061.7 208.1 1064.1 208.5 1072.8 209 1068.1 209.4 1061.3 209.9 1059.2 210.3 1063.2 210.8 1056.9 211.2 1058.7 211.7 1062.3 212.1 1065.2 212.6 1062.1 213 1048.7 213.5 1059.2 213.9 1057.5 214.4 1075.8 214.8 1062.6 215.3 1046.2 215.7 1051.7 216.2 1055.9 216.6 1046.1 217.1 1058.1 217.5 1052.8 218 1054.1 218.4 1047.6 218.9 1052.5 219.3 1052.9 219.8 1048.9 220.2 1048.3 220.7 1047.8 221.1 1042.7 221.6 1045 222 1044.5 222.5 1046 222.9 1047.9 223.4 1039.6 223.8 1042.7 224.3 1048.4 224.7 1039.7 225.2 1039.1 225.6 1042.6 226.1 1044.7 226.5 1041.4 227 1046 227.4 1044.2 227.9 1044 228.3 1042.9 228.8 1068.3 229.2 1040.2 229.7 1033.9 230.1 1046.5 230.6 1039.4 231 1041.3 231.5 1045.5 231.9 1035.6 232.4 1036.8 232.8 1035.7 233.3 1038.5 233.7 1042.6 234.2 1042.9 234.6 1042.2 235.1 1036.7 235.5 1022 236 1041.6 236.4 1040 236.9 1043 237.3 1043.8 237.8 1042.1 238.2 1044.1 238.7 1042.6 239.1 1043.5 239.6 1039.9 240 1041.6 240.5 1042.8 240.9 1044.8 241.4 1041.2 241.8 1044 242.3 1041.8 242.7 1042.3 243.2 1076.5 243.6 1036.9 244.1 1039.1 244.5 1038.7 245 1036.2 245.4 1041.3 245.9 1059.6 246.3 1042.7 246.8 1044.3 247.2 1047.1 247.7 1047.9 248.1 1043.9 248.6 1048.3 249 1044.6 249.5 1041.9 249.9 1042.8 250.4 1040.3 250.8 1042.2 251.3 1043.9 251.7 1047.5 252.2 1064 252.6 1041.3 253.1 1046.7 253.5 1043 254 1044.2 254.4 1042.6 254.9 1040.6 255.3 1049.1 255.8 1050.1 256.2 1045 256.7 1043.7 257.1 1045.1 257.6 1048.6 258 1047.1 258.5 1048.9 258.9 1049.3 259.4 1052.5 259.8 1067.5 260.3 1044.8 260.7 1052.8 261.2 1048.9 261.6 1053.7 262.1 1051.9 262.5 1050.7 263 1052.6 263.4 1057.8 263.9 1058.6 264.3 1053 264.8 1053.7 265.2 1056.9 265.7 1051.6 266.1 1055.6 266.6 1055 267 1056.5 267.5 1053.5 267.9 1051.7 268.4 1050.7 268.8 1054 269.3 1056.5 269.7 1057.4 270.2 1064.6 270.6 1062.5 271.1 1056.8 271.5 1061.2 272 1059.3 272.4 1060.1 272.9 1062 273.3 1063.7 273.8 1061.2 274.2 1065.8 274.7 1059.6 275.1 1063.4 275.6 1071.6 276 1064.8 276.5 1068.8 276.9 1065.1 277.4 1066.9 277.8 1065.3 278.3 1065.2 278.7 1063.6 279.2 1067.5 279.6 1063.9 280.1 1068.7 280.5 1070.1 281 1068.1 281.4 1066.3 281.9 1068.7 282.3 1066.6 282.8 1070.5 283.2 1062.3 283.7 1067 284.1 1062.2 284.6 1063.8 285 1072.5 285.5 1071.3 285.9 1066.6 286.4 1064.3 286.8 1060.1 287.3 1067.5 287.7 1076.5 288.2 1070.7 288.6 1067.8 289.1 1071 289.5 1065 290 1068.9 290.4 1070.1 290.9 1069.7 291.3 1072.4 291.8 1071.1 292.2 1072.1 292.7 1068.1 293.1 1072.9 293.6 1075.1 294 1067.3 294.5 1067.5 294.9 1074 295.4 1069.1 295.8 1073.5 296.3 1067.4 296.7 1072.5 297.2 1067.8 297.6 1067.4 298.1 1070.4 298.5 1063.7 299 1061 299.4 1061.5 299.9 1063.1 300.3 1056 300.8 1061.6 301.2 1056.9 301.7 1060.9 302.1 1049.3 302.6 1053.1 303 1049.4 303.5 1051 303.9 1053.3 304.4 1051.2 304.8 1050.3 305.3 1049.9 305.7 1050.4 306.2 1046.3 306.6 1051.1 307.1 1050.8 307.5 1049.8 308 1050.2 308.4 1049.4 308.9 1054.5 309.3 1048.1 309.8 1047.3 310.2 1045.9 310.7 1045 311.1 1044.3 311.6 1045.3 312 1047.7 312.5 1048.9 312.9 1048 313.4 1045.5 313.8 1050.4 314.3 1049.9 314.7 1047.1 315.2 1045.6 315.6 1049.2 316.1 1048 316.5 1043.1 317 1047.2 317.4 1048.1 317.9 1044.6 318.3 1047.9 318.8 1042.9 319.2 1051.2 319.7 1050.9 320.1 1046.4 320.6 1048.3 321 1039.9 321.5 1043.7 321.9 1046.2 322.4 1043.9 322.8 1049.2 323.3 1053.1 323.7 1043.6 324.2 1044.6 324.6 1047.9 325.1 1052.1 325.5 1043.7 326 1048.3 326.4 1053.2 326.9 1043 327.3 1044.4 327.8 1047.2 328.2 1047.2 328.7 1051.6 329.1 1050.2 329.6 1044.5 330 1051.7 330.5 1048.7 330.9 1054.6 331.4 1049.3 331.8 1049.6 332.3 1053.5 332.7 1054.4 333.2 1053.8 333.6 1047.7 334.1 1054.6 334.5 1050.2 335 1054.2 335.4 1049.4 335.9 1055.2 336.3 1051.6 336.8 1050.4 337.2 1056.6 337.7 1055.4 338.1 1053 338.6 1059.4 339 1053.9 339.5 1055.5 339.9 1056.4 340.4 1053.9 340.8 1057.4 341.3 1054.5 341.7 1055.1 342.2 1060.6 342.6 1053.5 343.1 1049.6 343.5 1061.8 344 1064.8 344.4 1056.1 344.9 1051.6 345.3 1056.6 345.8 1056.9 346.2 1057.3 346.7 1054.6 347.1 1059.8 347.6 1059.8 348 1053.8 348.5 1060.5 348.9 1064.6 349.4 1059 349.8 1057.6 350.3 1058.2 350.7 1060.5 351.2 1053.5 351.6 1059.2 352.1 1057.5 352.5 1064.2 353 1058.1 353.4 1063.6 353.9 1055.1 354.3 1060.1 354.8 1059.1 355.2 1055.4 355.7 1058.3 356.1 1061.2 356.6 1056.4 357 1052 357.5 1056.7 357.9 1053.8 358.4 1055.1 358.8 1055.6 359.3 1050.3 359.7 1050.2 360.2 1056.1 360.6 1052.6 361.1 1046 361.5 1055.6 362 1053.6 362.4 1050.1 362.9 1047.8 363.3 1053.7 363.8 1051.7 364.2 1057.2 364.7 1050.8 365.1 1050 365.6 1047.8 366 1050.1 366.5 1048.9 366.9 1050.1 367.4 1044.1 367.8 1043.7 368.3 1042.8 368.7 1045.9 369.2 1047.3 369.6 1040.7 370.1 1040.1 370.5 1041.5 371 1039.1 371.4 1041.9 371.9 1031.5 372 1035.5" stroke="#f05b12" stroke-width="2.4" fill="none" stroke-linejoin="round" /><path d="M60 1045.8 60.5 1047.3 60.9 1043.5 61.4 1042.6 61.8 1039.3 62.3 1049 62.7 1046.1 63.2 1046.9 63.6 1043.9 64.1 1050.6 64.5 1049.9 65 1046.7 65.4 1045.5 65.9 1046.4 66.3 1045.2 66.8 1048.1 67.2 1046.3 67.7 1050.5 68.1 1047.8 68.6 1048.1 69 1054.6 69.5 1047.7 69.9 1045.4 70.4 1052.1 70.8 1044.7 71.3 1052.6 71.7 1055.4 72.2 1052.9 72.6 1053.2 73.1 1047 73.5 1055.8 74 1055.8 74.4 1051.2 74.9 1061.5 75.3 1051.8 75.8 1050.7 76.2 1050.6 76.7 1056.8 77.1 1058.1 77.6 1058.7 78 1056.4 78.5 1055.1 78.9 1060.5 79.4 1055.1 79.8 1054.1 80.3 1062.5 80.7 1058.4 81.2 1059 81.6 1059.1 82.1 1054.8 82.5 1054.3 83 1057.3 83.4 1052.5 83.9 1054.7 84.3 1052.4 84.8 1048 85.2 1053.9 85.7 1045.7 86.1 1049.5 86.6 1048 87 1050.8 87.5 1042.2 87.9 1043.1 88.4 1043.7 88.8 1043.7 89.3 1045.2 89.7 1042.7 90.2 1041.2 90.6 1044 91.1 1047 91.5 1035.8 92 1040 92.4 1042.5 92.9 1040.6 93.3 1045.2 93.8 1040.1 94.2 1038.5 94.7 1045.3 95.1 1034.4 95.6 1042.7 96 1052.8 96.5 1046.3 96.9 1048.4 97.4 1045.3 97.8 1049.4 98.3 1050.2 98.7 1057.7 99.2 1049.6 99.6 1045.1 100.1 1056.2 100.5 1060.8 101 1054.6 101.4 1051.8 101.9 1054.9 102.3 1060.3 102.8 1057.6 103.2 1059.9 103.7 1052.4 104.1 1058.3 104.6 1062.4 105 1058.9 105.5 1056.2 105.9 1062.5 106.4 1061.8 106.8 1056.6 107.3 1055.2 107.7 1061 108.2 1054.4 108.6 1054.9 109.1 1060.4 109.5 1054.4 110 1051.4 110.4 1045.8 110.9 1051.4 111.3 1050.1 111.8 1047.6 112.2 1051.7 112.7 1043.7 113.1 1042 113.6 1043.8 114 1045.4 114.5 1040 114.9 1040.4 115.4 1040.9 115.8 1042.9 116.3 1040.3 116.7 1045.3 117.2 1034.9 117.6 1043.1 118.1 1039.8 118.5 1043.2 119 1048.2 119.4 1041.8 119.9 1042.9 120.3 1045.2 120.8 1038.6 121.2 1045.3 121.7 1046.2 122.1 1043.6 122.6 1046.7 123 1045.5 123.5 1043.3 123.9 1042.1 124.4 1050.1 124.8 1053.3 125.3 1045.8 125.7 1050.2 126.2 1045.9 126.6 1049 127.1 1049.7 127.5 1048.4 128 1052.6 128.4 1056.8 128.9 1056.3 129.3 1053.6 129.8 1060.6 130.2 1057.6 130.7 1063.4 131.1 1054.2 131.6 1068.8 132 1059.4 132.5 1056.9 132.9 1058 133.4 1065.1 133.8 1065.6 134.3 1066 134.7 1065.9 135.2 1060.9 135.6 1064.6 136.1 1058.2 136.5 1063.2 137 1068.6 137.4 1060.8 137.9 1074.7 138.3 1071.4 138.8 1063.9 139.2 1070 139.7 1069.6 140.1 1067.4 140.6 1069.6 141 1066.8 141.5 1067.4 141.9 1068.9 142.4 1068.4 142.8 1067.6 143.3 1067.3 143.7 1068.7 144.2 1067.7 144.6 1061 145.1 1061.8 145.5 1068 146 1067.7 146.4 1063.9 146.9 1060.7 147.3 1063.3 147.8 1062.1 148.2 1054.6 148.7 1058.8 149.1 1053.6 149.6 1055.7 150 1056.4 150.5 1060.7 150.9 1048.6 151.4 1053.1 151.8 1055.5 152.3 1054.8 152.7 1054.7 153.2 1048.7 153.6 1050.6 154.1 1049.1 154.5 1053.8 155 1049.1 155.4 1049.2 155.9 1049.3 156.3 1044.7 156.8 1049.8 157.2 1045 157.7 1048.5 158.1 1045.9 158.6 1051.5 159 1048.3 159.5 1053.9 159.9 1042.5 160.4 1053 160.8 1052 161.3 1050.9 161.7 1056.8 162.2 1047.4 162.6 1052.5 163.1 1056.1 163.5 1055.1 164 1053.2 164.4 1056.8 164.9 1054.7 165.3 1055.8 165.8 1055.8 166.2 1061.2 166.7 1060.1 167.1 1066.9 167.6 1063.3 168 1058 168.5 1064.8 168.9 1060.7 169.4 1063.6 169.8 1065.5 170.3 1063 170.7 1065.2 171.2 1065.4 171.6 1068.1 172.1 1068.1 172.5 1068.4 173 1073.5 173.4 1070.8 173.9 1070.8 174.3 1072.6 174.8 1074.7 175.2 1073.5 175.7 1067.3 176.1 1071 176.6 1071.3 177 1071.3 177.5 1068.1 177.9 1068.1 178.4 1065.1 178.8 1065.6 179.3 1062.9 179.7 1067.9 180.2 1062.7 180.6 1060.7 181.1 1062.6 181.5 1061.1 182 1058.1 182.4 1059.4 182.9 1055.9 183.3 1057.4 183.8 1054.9 184.2 1054.2 184.7 1051.6 185.1 1049.7 185.6 1050.5 186 1045.1 186.5 1050.6 186.9 1045.2 187.4 1049.7 187.8 1045.3 188.3 1042.4 188.7 1040.2 189.2 1041.6 189.6 1040.4 190.1 1039.3 190.5 1039.3 191 1036.8 191.4 1038.2 191.9 1033.4 192.3 1033.9 192.8 1035.1 193.2 1031.6 193.7 1032.9 194.1 1035.7 194.6 1032.5 195 1031.1 195.5 1034.5 195.9 1029.8 196.4 1031.7 196.8 1034.8 197.3 1031.3 197.7 1033.9 198.2 1033.7 198.6 1037.6 199.1 1032.2 199.5 1034.6 200 1035.8 200.4 1038.1 200.9 1039.3 201.3 1040 201.8 1042.9 202.2 1042.5 202.7 1039.7 203.1 1040.6 203.6 1043.5 204 1044.7 204.5 1046.1 204.9 1050.2 205.4 1048.3 205.8 1052.9 206.3 1054.3 206.7 1053.6 207.2 1053.9 207.6 1058.7 208.1 1056.1 208.5 1059.9 209 1061 209.4 1064.2 209.9 1063.9 210.3 1064.7 210.8 1067.9 211.2 1066.7 211.7 1069.7 212.1 1070.3 212.6 1071.4 213 1070.1 213.5 1073.9 213.9 1073.4 214.4 1077.2 214.8 1081.5 215.3 1078.2 215.7 1081.2 216.2 1082.3 216.6 1079.7 217.1 1083.7 217.5 1082.8 218 1083.4 218.4 1086.2 218.9 1084.7 219.3 1085.3 219.8 1087.9 220.2 1089.2 220.7 1087.6 221.1 1088.9 221.6 1085.8 222 1088 222.5 1088.9 222.9 1086.8 223.4 1088.9 223.8 1088.1 224.3 1087.6 224.7 1088.5 225.2 1088 225.6 1083.5 226.1 1083.6 226.5 1084.4 227 1082.2 227.4 1084.5 227.9 1082.1 228.3 1078.1 228.8 1076.9 229.2 1074.9 229.7 1075.8 230.1 1073 230.6 1071.4 231 1069.1 231.5 1070.4 231.9 1066.6 232.4 1064.7 232.8 1061.8 233.3 1063.1 233.7 1061.2 234.2 1060.1 234.6 1059.3 235.1 1056 235.5 1053.5 236 1050.1 236.4 1050.6 236.9 1049.2 237.3 1047.3 237.8 1042.9 238.2 1045.2 238.7 1042.8 239.1 1040 239.6 1038.5 240 1035 240.5 1036.3 240.9 1034 241.4 1031.7 241.8 1034.1 242.3 1032.4 242.7 1030.2 243.2 1028.2 243.6 1025.7 244.1 1026.2 244.5 1025.9 245 1024.5 245.4 1023.9 245.9 1023.5 246.3 1021.5 246.8 1023.4 247.2 1023.4 247.7 1021.5 248.1 1021.2 248.6 1024.8 249 1024.2 249.5 1020.9 249.9 1024.7 250.4 1024.8 250.8 1026.3 251.3 1027.9 251.7 1030.2 252.2 1031.3 252.6 1031.2 253.1 1033 253.5 1033.4 254 1037.6 254.4 1039.9 254.9 1042.6 255.3 1044.9 255.8 1046 256.2 1047.7 256.7 1053.1 257.1 1051.9 257.6 1053.8 258 1057.4 258.5 1060.8 258.9 1064.7 259.4 1065.1 259.8 1066.3 260.3 1071.7 260.7 1072.9 261.2 1074.6 261.6 1077.3 262.1 1081 262.5 1081 263 1087.2 263.4 1087.4 263.9 1089.7 264.3 1092.9 264.8 1092.6 265.2 1095.3 265.7 1096.8 266.1 1098.9 266.6 1102.5 267 1099.4 267.5 1101.5 267.9 1104.9 268.4 1101.8 268.8 1105.1 269.3 1103.4 269.7 1104.5 270.2 1103.9 270.6 1103.5 271.1 1101.9 271.5 1102.6 272 1103.5 272.4 1102 272.9 1100.9 273.3 1100.7 273.8 1103.3 274.2 1103.2 274.7 1100.2 275.1 1100.7 275.6 1101.8 276 1100.3 276.5 1099.7 276.9 1100 277.4 1097.3 277.8 1097.1 278.3 1098 278.7 1096.4 279.2 1095.6 279.6 1093.9 280.1 1090.9 280.5 1091.6 281 1091.1 281.4 1088.6 281.9 1087.1 282.3 1083.4 282.8 1082.4 283.2 1080.2 283.7 1078.2 284.1 1076.1 284.6 1075.5 285 1073.4 285.5 1071.6 285.9 1070.7 286.4 1066.6 286.8 1064.8 287.3 1062.3 287.7 1058 288.2 1056.6 288.6 1056.3 289.1 1053.2 289.5 1051.6 290 1048 290.4 1048.1 290.9 1045.5 291.3 1044.2 291.8 1042.5 292.2 1038.6 292.7 1040.3 293.1 1035.9 293.6 1035.6 294 1034.1 294.5 1034.7 294.9 1032.5 295.4 1032.6 295.8 1030.8 296.3 1029.8 296.7 1028.1 297.2 1027.8 297.6 1027.6 298.1 1027.2 298.5 1025.3 299 1027.1 299.4 1025.1 299.9 1022.7 300.3 1025.1 300.8 1020.7 301.2 1022.6 301.7 1020.8 302.1 1022.8 302.6 1021.4 303 1018.5 303.5 1020.6 303.9 1016.6 304.4 1019.6 304.8 1018.2 305.3 1016.9 305.7 1019 306.2 1018.5 306.6 1017.7 307.1 1017.8 307.5 1017.9 308 1017 308.4 1018.2 308.9 1015.4 309.3 1013.7 309.8 1018.6 310.2 1018.7 310.7 1017.7 311.1 1017.5 311.6 1020.7 312 1018.8 312.5 1019.1 312.9 1019 313.4 1021.6 313.8 1018.4 314.3 1021.3 314.7 1021.1 315.2 1022.3 315.6 1023.8 316.1 1022.9 316.5 1023.7 317 1022.3 317.4 1024.4 317.9 1024.4 318.3 1026.5 318.8 1026.5 319.2 1026.8 319.7 1028.1 320.1 1027.3 320.6 1027.6 321 1026.4 321.5 1030.1 321.9 1030.9 322.4 1031.6 322.8 1031.8 323.3 1034.7 323.7 1033.4 324.2 1037.5 324.6 1036 325.1 1036.5 325.5 1038.1 326 1039.7 326.4 1041.4 326.9 1044.4 327.3 1043.6 327.8 1045.6 328.2 1047.2 328.7 1048 329.1 1051.1 329.6 1049.8 330 1050.9 330.5 1051.6 330.9 1054.1 331.4 1053.4 331.8 1058.1 332.3 1057.9 332.7 1061 333.2 1062.1 333.6 1061.6 334.1 1067 334.5 1065 335 1066.3 335.4 1068.2 335.9 1070.6 336.3 1070.1 336.8 1073.7 337.2 1074.2 337.7 1075.1 338.1 1075.2 338.6 1077.8 339 1078.5 339.5 1077.5 339.9 1081.4 340.4 1080.9 340.8 1082.6 341.3 1082.9 341.7 1084.4 342.2 1085 342.6 1085.9 343.1 1086.5 343.5 1086.8 344 1089.4 344.4 1089.2 344.9 1089.7 345.3 1091 345.8 1089 346.2 1090.4 346.7 1089.3 347.1 1088.9 347.6 1091.2 348 1088 348.5 1091.2 348.9 1090 349.4 1083.3 349.8 1085.5 350.3 1081.7 350.7 1081.6 351.2 1079.1 351.6 1073.8 352.1 1074.8 352.5 1074 353 1070.4 353.4 1070 353.9 1064.5 354.3 1065.3 354.8 1060.7 355.2 1056.9 355.7 1056.9 356.1 1056.2 356.6 1052.4 357 1050.6 357.5 1048.8 357.9 1044.5 358.4 1048.2 358.8 1046.9 359.3 1045.3 359.7 1042.9 360.2 1041.4 360.6 1039.8 361.1 1041 361.5 1039 362 1035.6 362.4 1035.3 362.9 1035.3 363.3 1033.2 363.8 1033.7 364.2 1034.4 364.7 1033.4 365.1 1030.9 365.6 1028.1 366 1029.5 366.5 1026.1 366.9 1026.1 367.4 1025.1 367.8 1024.9 368.3 1024.9 368.7 1025.1 369.2 1023.6 369.6 1020.6 370.1 1022.8 370.5 1022.5 371 1022 371.4 1019.7 371.9 1019.9 372 1019.5" stroke="#e1dd37" stroke-width="2.8" fill="none" stroke-linejoin="round" /><path d="M60 1051.8 60.5 1048.3 60.9 1048.9 61.4 1051.1 61.8 1050.3 62.3 1049.8 62.7 1047.4 63.2 1045.9 63.6 1049.7 64.1 1047.5 64.5 1051.2 65 1049.8 65.4 1047.5 65.9 1050.3 66.3 1051.7 66.8 1050.5 67.2 1048.3 67.7 1051.3 68.1 1052 68.6 1053.7 69 1054 69.5 1050.4 69.9 1052.2 70.4 1055.8 70.8 1050.6 71.3 1057.8 71.7 1054.4 72.2 1056.4 72.6 1062.1 73.1 1059 73.5 1059.3 74 1061.6 74.4 1061.5 74.9 1060.9 75.3 1064 75.8 1069.6 76.2 1067.2 76.7 1066.6 77.1 1066.7 77.6 1068.6 78 1068.6 78.5 1065.2 78.9 1069 79.4 1068 79.8 1072.5 80.3 1067.4 80.7 1071 81.2 1064.3 81.6 1067.5 82.1 1064 82.5 1062.6 83 1065.8 83.4 1060 83.9 1060.8 84.3 1058 84.8 1059.3 85.2 1057.5 85.7 1049.6 86.1 1055.5 86.6 1050.5 87 1055.8 87.5 1051.3 87.9 1050.1 88.4 1040.1 88.8 1049.5 89.3 1043.9 89.7 1039.3 90.2 1042.7 90.6 1044.4 91.1 1036.5 91.5 1042.9 92 1039.2 92.4 1038.7 92.9 1039.3 93.3 1038.8 93.8 1042 94.2 1042.9 94.7 1045.8 95.1 1047.8 95.6 1044.5 96 1049.3 96.5 1044.9 96.9 1050.8 97.4 1047.7 97.8 1050.5 98.3 1054.9 98.7 1052.9 99.2 1057.3 99.6 1053.7 100.1 1056.9 100.5 1061.3 101 1064.8 101.4 1059.1 101.9 1066.9 102.3 1064.3 102.8 1070 103.2 1063.9 103.7 1063.7 104.1 1065.8 104.6 1062.2 105 1065 105.5 1064.2 105.9 1067.2 106.4 1064.2 106.8 1059.5 107.3 1058.6 107.7 1058.6 108.2 1054.9 108.6 1053.8 109.1 1063.5 109.5 1055.1 110 1059.3 110.4 1053.1 110.9 1052.9 111.3 1048.5 111.8 1054.9 112.2 1049.6 112.7 1053.8 113.1 1046.7 113.6 1050.8 114 1050.4 114.5 1041.9 114.9 1046.1 115.4 1041.6 115.8 1040.6 116.3 1043.3 116.7 1044.6 117.2 1045.7 117.6 1041.2 118.1 1044.5 118.5 1043.5 119 1042.2 119.4 1040 119.9 1042.9 120.3 1052.2 120.8 1041.2 121.2 1043.7 121.7 1042.5 122.1 1049 122.6 1050.8 123 1050.4 123.5 1052.9 123.9 1048.5 124.4 1054 124.8 1048.5 125.3 1055.6 125.7 1056.5 126.2 1052.2 126.6 1057.3 127.1 1053.2 127.5 1053.5 128 1054.7 128.4 1056.6 128.9 1057.6 129.3 1061.5 129.8 1067.4 130.2 1063.4 130.7 1063 131.1 1068.1 131.6 1066.8 132 1068.8 132.5 1070.6 132.9 1071.8 133.4 1069.9 133.8 1072 134.3 1075.9 134.7 1073.4 135.2 1074.6 135.6 1076.8 136.1 1077.8 136.5 1076.5 137 1079.4 137.4 1078.5 137.9 1075.5 138.3 1081 138.8 1077.3 139.2 1087.8 139.7 1080.7 140.1 1079.2 140.6 1082.1 141 1083.4 141.5 1083.2 141.9 1079.7 142.4 1081.1 142.8 1079.5 143.3 1077.2 143.7 1072.3 144.2 1075.3 144.6 1067.8 145.1 1071 145.5 1075.6 146 1071.5 146.4 1069.7 146.9 1066.5 147.3 1065.3 147.8 1064.4 148.2 1061.4 148.7 1057.9 149.1 1064.7 149.6 1064.9 150 1058 150.5 1060.1 150.9 1054 151.4 1056.6 151.8 1051.2 152.3 1055.6 152.7 1052.4 153.2 1048.2 153.6 1051.5 154.1 1053.2 154.5 1048.4 155 1047.5 155.4 1047 155.9 1046.6 156.3 1048.8 156.8 1048.5 157.2 1040.3 157.7 1047.8 158.1 1044.5 158.6 1048.9 159 1046.3 159.5 1047.8 159.9 1044.8 160.4 1043.5 160.8 1047.6 161.3 1050 161.7 1050.2 162.2 1051.2 162.6 1050.8 163.1 1052.9 163.5 1050.5 164 1053.2 164.4 1051.2 164.9 1055.7 165.3 1056.4 165.8 1058.4 166.2 1061.9 166.7 1061.1 167.1 1056 167.6 1066.6 168 1065.3 168.5 1068 168.9 1066 169.4 1070.7 169.8 1073.6 170.3 1068.2 170.7 1075.5 171.2 1072.1 171.6 1073.7 172.1 1076.5 172.5 1081.9 173 1074.9 173.4 1078.3 173.9 1080.6 174.3 1082.7 174.8 1081.9 175.2 1083.7 175.7 1081.3 176.1 1085.5 176.6 1086.5 177 1082.5 177.5 1083.3 177.9 1085.8 178.4 1085.6 178.8 1085.9 179.3 1082.3 179.7 1083.6 180.2 1083.1 180.6 1086.3 181.1 1083 181.5 1081.7 182 1080.4 182.4 1081.5 182.9 1083.1 183.3 1077.1 183.8 1079.5 184.2 1079.4 184.7 1081.3 185.1 1077.9 185.6 1078.1 186 1074.7 186.5 1071 186.9 1069.9 187.4 1070.1 187.8 1070.6 188.3 1068.7 188.7 1067.2 189.2 1070.2 189.6 1061.4 190.1 1062.6 190.5 1067.6 191 1062.7 191.4 1059.8 191.9 1057.8 192.3 1060 192.8 1058.6 193.2 1057.7 193.7 1052.8 194.1 1054.2 194.6 1052.5 195 1052.5 195.5 1047.9 195.9 1050.7 196.4 1051.3 196.8 1045.4 197.3 1048.2 197.7 1048.7 198.2 1046.5 198.6 1044.1 199.1 1043.7 199.5 1041.9 200 1042.4 200.4 1039.8 200.9 1041 201.3 1039.1 201.8 1037.7 202.2 1042.1 202.7 1036.5 203.1 1042.1 203.6 1035.7 204 1040.6 204.5 1039.5 204.9 1036.9 205.4 1039 205.8 1038.8 206.3 1039.6 206.7 1043.2 207.2 1041 207.6 1041 208.1 1046.8 208.5 1046.9 209 1047.7 209.4 1048.7 209.9 1051.7 210.3 1052.8 210.8 1053.7 211.2 1054.7 211.7 1058.9 212.1 1061.2 212.6 1061.6 213 1067 213.5 1064.9 213.9 1066.7 214.4 1070.4 214.8 1070.5 215.3 1072.2 215.7 1073.2 216.2 1076.1 216.6 1074.8 217.1 1077.7 217.5 1078.8 218 1078.9 218.4 1084.7 218.9 1084.2 219.3 1084.7 219.8 1087.5 220.2 1086.4 220.7 1090.2 221.1 1091.6 221.6 1088.6 222 1092.5 222.5 1091.7 222.9 1093.1 223.4 1092 223.8 1090.6 224.3 1089.6 224.7 1090 225.2 1090.5 225.6 1092.1 226.1 1091.3 226.5 1090.5 227 1091.4 227.4 1086.9 227.9 1087.1 228.3 1086.6 228.8 1087.3 229.2 1084.6 229.7 1085.1 230.1 1086.5 230.6 1085.3 231 1085 231.5 1081.7 231.9 1080.2 232.4 1080.7 232.8 1078.4 233.3 1078.2 233.7 1077.1 234.2 1076.7 234.6 1076.6 235.1 1075.4 235.5 1073.7 236 1071.3 236.4 1071 236.9 1068.7 237.3 1066.9 237.8 1065.1 238.2 1064.8 238.7 1064.6 239.1 1063.5 239.6 1061.6 240 1060.9 240.5 1058.5 240.9 1059.4 241.4 1056.6 241.8 1054.9 242.3 1054.6 242.7 1052.5 243.2 1051.8 243.6 1051.7 244.1 1048.2 244.5 1047.5 245 1046.5 245.4 1045.5 245.9 1046.2 246.3 1044.1 246.8 1043.4 247.2 1038.5 247.7 1040.5 248.1 1039.3 248.6 1038.6 249 1037.1 249.5 1035.6 249.9 1036.1 250.4 1034.3 250.8 1033.7 251.3 1032.4 251.7 1032.1 252.2 1032.2 252.6 1031.8 253.1 1030.4 253.5 1030.1 254 1029.3 254.4 1030 254.9 1028.4 255.3 1028.2 255.8 1028.4 256.2 1027.7 256.7 1028.4 257.1 1029.7 257.6 1028.2 258 1030 258.5 1030.1 258.9 1030.1 259.4 1031.6 259.8 1033.4 260.3 1032.4 260.7 1035.4 261.2 1037.5 261.6 1037.3 262.1 1041.2 262.5 1042.5 263 1043.1 263.4 1046.6 263.9 1047 264.3 1049.5 264.8 1051.7 265.2 1055.9 265.7 1057.8 266.1 1060 266.6 1062.9 267 1066 267.5 1068.4 267.9 1070.9 268.4 1074.3 268.8 1075.9 269.3 1078.9 269.7 1083.3 270.2 1085.1 270.6 1085.5 271.1 1091.3 271.5 1091.4 272 1096.2 272.4 1097 272.9 1100.1 273.3 1099.5 273.8 1102.4 274.2 1104.4 274.7 1106.3 275.1 1107.7 275.6 1109.3 276 1111.1 276.5 1111.8 276.9 1113.2 277.4 1114.5 277.8 1113 278.3 1114.9 278.7 1114.4 279.2 1115.3 279.6 1115.8 280.1 1113.5 280.5 1113.9 281 1114.5 281.4 1113.8 281.9 1111.3 282.3 1111.6 282.8 1109.8 283.2 1108.2 283.7 1106.2 284.1 1105.4 284.6 1104.1 285 1101.1 285.5 1100.3 285.9 1096.8 286.4 1094.8 286.8 1094.4 287.3 1091.6 287.7 1088.9 288.2 1087.8 288.6 1085.9 289.1 1083.1 289.5 1082.2 290 1077.8 290.4 1075.5 290.9 1074.8 291.3 1070.7 291.8 1070.1 292.2 1065.6 292.7 1064 293.1 1062.6 293.6 1060.3 294 1060.1 294.5 1055.7 294.9 1054.7 295.4 1053 295.8 1051 296.3 1050.6 296.7 1047.3 297.2 1045.9 297.6 1044.1 298.1 1044.7 298.5 1043 299 1042 299.4 1041.1 299.9 1039.1 300.3 1040.1 300.8 1039.4 301.2 1039.9 301.7 1038.4 302.1 1036.7 302.6 1036.6 303 1038.1 303.5 1034.7 303.9 1034 304.4 1035.1 304.8 1035.7 305.3 1033.9 305.7 1032.3 306.2 1035 306.6 1031.7 307.1 1032.8 307.5 1033 308 1031.3 308.4 1031.3 308.9 1031.8 309.3 1028.7 309.8 1030.4 310.2 1030.4 310.7 1030.1 311.1 1028.2 311.6 1028.7 312 1027.4 312.5 1027.1 312.9 1026.5 313.4 1027.7 313.8 1027.1 314.3 1027.8 314.7 1024.2 315.2 1025.5 315.6 1026.5 316.1 1027.7 316.5 1025.2 317 1024.1 317.4 1025.2 317.9 1025.6 318.3 1026.4 318.8 1026.7 319.2 1026.4 319.7 1025.7 320.1 1028.1 320.6 1025.7 321 1026.8 321.5 1027.8 321.9 1027.3 322.4 1028.3 322.8 1029.8 323.3 1029.2 323.7 1030.7 324.2 1031.7 324.6 1035 325.1 1034.7 325.5 1034.4 326 1036.9 326.4 1036.4 326.9 1039.1 327.3 1038.5 327.8 1042.1 328.2 1042.7 328.7 1043 329.1 1046.1 329.6 1048 330 1049.1 330.5 1050.5 330.9 1050.7 331.4 1054.3 331.8 1053 332.3 1056.2 332.7 1060.3 333.2 1058.7 333.6 1060 334.1 1062.4 334.5 1065.3 335 1066.5 335.4 1069.2 335.9 1069.9 336.3 1070.4 336.8 1073.9 337.2 1074 337.7 1076.8 338.1 1079 338.6 1079.6 339 1081.8 339.5 1080.9 339.9 1083 340.4 1084.9 340.8 1084.9 341.3 1088.6 341.7 1089.7 342.2 1090.1 342.6 1091.3 343.1 1091.6 343.5 1091.7 344 1093 344.4 1094.2 344.9 1095.4 345.3 1095.8 345.8 1096.8 346.2 1095.8 346.7 1096.8 347.1 1098 347.6 1099 348 1096.8 348.5 1098.7 348.9 1099 349.4 1098.1 349.8 1097.8 350.3 1096.8 350.7 1096.4 351.2 1095.1 351.6 1093 352.1 1094.5 352.5 1092.2 353 1089.9 353.4 1090 353.9 1086.8 354.3 1085.8 354.8 1081.7 355.2 1080.7 355.7 1080.1 356.1 1078.3 356.6 1076.4 357 1073.6 357.5 1071.5 357.9 1066.7 358.4 1063.5 358.8 1060 359.3 1059.8 359.7 1056.9 360.2 1055.9 360.6 1051.6 361.1 1050.8 361.5 1045 362 1045.6 362.4 1041.2 362.9 1040.1 363.3 1037.1 363.8 1032.8 364.2 1032.1 364.7 1028.2 365.1 1027.3 365.6 1024.7 366 1022.4 366.5 1019.7 366.9 1017.6 367.4 1015.9 367.8 1011.7 368.3 1013.3 368.7 1010.6 369.2 1009.3 369.6 1006.6 370.1 1006.2 370.5 1003.9 371 1004.4 371.4 1000 371.9 1001.1 372.3 997.7 372.8 997.4 373.2 995.4 373.7 993.3 374.1 990.9 374.6 992.2 375 988.5" stroke="#46f884" stroke-width="2.8" fill="none" stroke-linejoin="round" /><path d="M60 1043.7 60.5 1043.3 60.9 1045.5 61.4 1047.5 61.8 1044.9 62.3 1046.2 62.7 1047.1 63.2 1047.8 63.6 1043.6 64.1 1047.6 64.5 1046.5 65 1045.1 65.4 1045.2 65.9 1046.8 66.3 1044.9 66.8 1044 67.2 1048.6 67.7 1051.2 68.1 1049 68.6 1052.5 69 1050.3 69.5 1049.6 69.9 1049.2 70.4 1052.3 70.8 1059.8 71.3 1056.3 71.7 1053.1 72.2 1059.4 72.6 1059.6 73.1 1060.5 73.5 1061.3 74 1061.8 74.4 1064.2 74.9 1061.2 75.3 1064 75.8 1067.1 76.2 1070.8 76.7 1070.5 77.1 1074.8 77.6 1073.3 78 1064.8 78.5 1071.3 78.9 1072.2 79.4 1069.4 79.8 1062.7 80.3 1065.7 80.7 1063.2 81.2 1065.1 81.6 1065.7 82.1 1062.5 82.5 1056 83 1059.3 83.4 1055.1 83.9 1055.9 84.3 1050.3 84.8 1049.8 85.2 1047.1 85.7 1044.8 86.1 1047.9 86.6 1044.5 87 1041.6 87.5 1035.1 87.9 1035.8 88.4 1036.8 88.8 1037.5 89.3 1030.5 89.7 1037.3 90.2 1031.8 90.6 1031.7 91.1 1038.4 91.5 1034.4 92 1037.8 92.4 1040.6 92.9 1040.6 93.3 1037 93.8 1039.8 94.2 1041.2 94.7 1045.5 95.1 1046.9 95.6 1050.8 96 1050.8 96.5 1053.8 96.9 1052.3 97.4 1053.6 97.8 1051.9 98.3 1055.9 98.7 1054.6 99.2 1058.5 99.6 1066.4 100.1 1064.2 100.5 1064.8 101 1065.3 101.4 1065.1 101.9 1066.9 102.3 1070.5 102.8 1064.9 103.2 1066 103.7 1065 104.1 1066.2 104.6 1073.9 105 1071.1 105.5 1070.4 105.9 1060 106.4 1058.5 106.8 1063.8 107.3 1057.1 107.7 1059 108.2 1052.6 108.6 1058.1 109.1 1052.8 109.5 1050.3 110 1057.7 110.4 1048.6 110.9 1043.4 111.3 1042.2 111.8 1046.7 112.2 1039 112.7 1044.7 113.1 1035.6 113.6 1038.4 114 1033.5 114.5 1038.9 114.9 1038.7 115.4 1036.2 115.8 1033.9 116.3 1032.8 116.7 1034.1 117.2 1031.2 117.6 1032.8 118.1 1039 118.5 1034.3 119 1036.2 119.4 1040.7 119.9 1038.4 120.3 1038.2 120.8 1041.8 121.2 1040.9 121.7 1041.4 122.1 1041.8 122.6 1046.2 123 1047.8 123.5 1037.3 123.9 1050.4 124.4 1048.2 124.8 1046.1 125.3 1050.6 125.7 1045 126.2 1051.1 126.6 1054.7 127.1 1051.6 127.5 1047 128 1055.1 128.4 1055.3 128.9 1061.1 129.3 1060.8 129.8 1064.9 130.2 1060.7 130.7 1063.6 131.1 1064.4 131.6 1061.9 132 1065.6 132.5 1073 132.9 1065.1 133.4 1069.2 133.8 1068.2 134.3 1071.6 134.7 1067.8 135.2 1074.8 135.6 1071.3 136.1 1071.5 136.5 1071.3 137 1074.5 137.4 1071.2 137.9 1076.6 138.3 1072.7 138.8 1074.3 139.2 1078.5 139.7 1079.1 140.1 1075.6 140.6 1073.4 141 1074.8 141.5 1076.7 141.9 1074.3 142.4 1074.9 142.8 1076.1 143.3 1067 143.7 1071.4 144.2 1070.6 144.6 1067.9 145.1 1069.7 145.5 1065 146 1065 146.4 1063.9 146.9 1068.7 147.3 1059.4 147.8 1060.8 148.2 1062.5 148.7 1060.2 149.1 1053.9 149.6 1056.1 150 1049.7 150.5 1055.4 150.9 1053.6 151.4 1049.3 151.8 1046.8 152.3 1048.6 152.7 1045.4 153.2 1043.6 153.6 1045.5 154.1 1047 154.5 1042.2 155 1040.3 155.4 1039.7 155.9 1044.5 156.3 1038.3 156.8 1037.8 157.2 1041.7 157.7 1040.4 158.1 1042.8 158.6 1040.8 159 1038.5 159.5 1043.7 159.9 1037.9 160.4 1043.3 160.8 1041.8 161.3 1046.3 161.7 1043.9 162.2 1046.5 162.6 1046.1 163.1 1048.4 163.5 1050.4 164 1049.6 164.4 1051.5 164.9 1057 165.3 1055 165.8 1062.3 166.2 1058.3 166.7 1056.4 167.1 1057.3 167.6 1066.5 168 1064 168.5 1064.2 168.9 1072.2 169.4 1069.4 169.8 1070.5 170.3 1074.9 170.7 1074.8 171.2 1077.1 171.6 1078.1 172.1 1077.6 172.5 1078.3 173 1083.8 173.4 1084 173.9 1083.9 174.3 1079.3 174.8 1084.8 175.2 1086.9 175.7 1090.7 176.1 1089.7 176.6 1093 177 1085 177.5 1088.2 177.9 1090.3 178.4 1086.9 178.8 1089.6 179.3 1090 179.7 1089.6 180.2 1089.8 180.6 1083.3 181.1 1083.3 181.5 1084.2 182 1083.6 182.4 1079.7 182.9 1078.8 183.3 1077.7 183.8 1078.3 184.2 1075.7 184.7 1074.9 185.1 1071.7 185.6 1074.3 186 1066.2 186.5 1064.7 186.9 1062.6 187.4 1063 187.8 1062.8 188.3 1056.2 188.7 1053.9 189.2 1053.6 189.6 1047.9 190.1 1045.9 190.5 1038.9 191 1042.9 191.4 1038.8 191.9 1039.7 192.3 1036 192.8 1031.9 193.2 1032.1 193.7 1030.2 194.1 1028.5 194.6 1027.1 195 1026.3 195.5 1024.9 195.9 1023.3 196.4 1023.2 196.8 1021.6 197.3 1021.1 197.7 1020.4 198.2 1019 198.6 1018.4 199.1 1019.6 199.5 1019 200 1022.3 200.4 1021.5 200.9 1019.1 201.3 1023.3 201.8 1022.9 202.2 1025.1 202.7 1024.6 203.1 1027.1 203.6 1028.8 204 1027.8 204.5 1032.7 204.9 1032.2 205.4 1033.5 205.8 1036.6 206.3 1039.5 206.7 1038.6 207.2 1046 207.6 1046.8 208.1 1046.7 208.5 1050.1 209 1054.9 209.4 1054.1 209.9 1056.9 210.3 1062 210.8 1063.7 211.2 1062.9 211.7 1068 212.1 1070.9 212.6 1072.3 213 1075.7 213.5 1075.6 213.9 1082.4 214.4 1081 214.8 1082.4 215.3 1086.3 215.7 1085.9 216.2 1089.2 216.6 1090.9 217.1 1095.8 217.5 1099.1 218 1099.3 218.4 1101.7 218.9 1100.9 219.3 1104.5 219.8 1104.9 220.2 1109.9 220.7 1109.6 221.1 1108.1 221.6 1109.8 222 1108 222.5 1112.7 222.9 1114.6 223.4 1112.8 223.8 1113.7 224.3 1111.9 224.7 1113.4 225.2 1112 225.6 1113.3 226.1 1110.4 226.5 1110.8 227 1109.8 227.4 1110.9 227.9 1106.1 228.3 1110.8 228.8 1110.1 229.2 1105.9 229.7 1103.2 230.1 1106.7 230.6 1103.3 231 1101.2 231.5 1100 231.9 1098.7 232.4 1099 232.8 1095.7 233.3 1094.2 233.7 1093 234.2 1091.2 234.6 1087.8 235.1 1087.6 235.5 1084.1 236 1084.6 236.4 1081 236.9 1079.9 237.3 1078.6 237.8 1074 238.2 1073.2 238.7 1071.8 239.1 1070.3 239.6 1068.9 240 1067.2 240.5 1066 240.9 1063.2 241.4 1061.2 241.8 1058.2 242.3 1057.4 242.7 1056.1 243.2 1053.5 243.6 1052.4 244.1 1052.1 244.5 1046.1 245 1046 245.4 1045.2 245.9 1045.9 246.3 1040.2 246.8 1039.7 247.2 1039.3 247.7 1038.2 248.1 1033.8 248.6 1033.8 249 1033.4 249.5 1030.8 249.9 1030.2 250.4 1032.6 250.8 1029.4 251.3 1029.2 251.7 1027.7 252.2 1028.1 252.6 1025.8 253.1 1026.6 253.5 1029.3 254 1025.2 254.4 1027.5 254.9 1024.4 255.3 1027.9 255.8 1025.8 256.2 1027.2 256.7 1027.4 257.1 1029.6 257.6 1029.3 258 1029.1 258.5 1029.3 258.9 1034 259.4 1032.5 259.8 1034.8 260.3 1036.8 260.7 1038.5 261.2 1041.1 261.6 1043.5 262.1 1044.5 262.5 1048.9 263 1049.9 263.4 1052.9 263.9 1053.9 264.3 1056.7 264.8 1058.6 265.2 1059.9 265.7 1062.6 266.1 1065.6 266.6 1069.4 267 1071.6 267.5 1073.7 267.9 1077.5 268.4 1078.5 268.8 1080.7 269.3 1084.5 269.7 1087.8 270.2 1089.4 270.6 1090.9 271.1 1093.7 271.5 1098.3 272 1096.8 272.4 1100.8 272.9 1100.3 273.3 1103.9 273.8 1106.5 274.2 1108.8 274.7 1110.3 275.1 1112.6 275.6 1111 276 1114.8 276.5 1117.2 276.9 1117.1 277.4 1117.2 277.8 1117.4 278.3 1118.5 278.7 1120.7 279.2 1120.1 279.6 1120.6 280.1 1122.3 280.5 1119.2 281 1120.7 281.4 1118.2 281.9 1114.9 282.3 1110 282.8 1107.9 283.2 1104.7 283.7 1097.9 284.1 1095.2 284.6 1090.7 285 1083.6 285.5 1080.9 285.9 1078.5 286.4 1073.8 286.8 1072.6 287.3 1069.7 287.7 1064.7 288.2 1063 288.6 1065.2 289.1 1064.6 289.5 1065.5 290 1065.5 290.4 1065.4 290.9 1064.6 291.3 1066.5 291.8 1067.9 292.2 1064.9 292.7 1067.2 293.1 1064.2 293.6 1063.3 294 1060.6 294.5 1058.2 294.9 1058.1 295.4 1053.1 295.8 1052 296.3 1048.5 296.7 1048.2 297.2 1042.8 297.6 1040 298.1 1039.5 298.5 1035.1 299 1032.5 299.4 1032.2 299.9 1030.5 300.3 1028.8 300.8 1027.3 301.2 1027.7 301.7 1028.1 302.1 1026.8 302.6 1028.2 303 1025.2 303.5 1022.6 303.9 1026.3 304.4 1026.4 304.8 1024.6 305.3 1025.8 305.7 1022.4 306.2 1024.1 306.6 1023 307.1 1022.6 307.5 1024.5 308 1023 308.4 1019.9 308.9 1022.7 309.3 1024 309.8 1019.7 310.2 1019.5 310.7 1020.4 311.1 1019.3 311.6 1020.6 312 1020.6 312.5 1022.2 312.9 1022.7 313.4 1018.5 313.8 1021.3 314.3 1020.5 314.7 1019.8 315.2 1020.7 315.6 1018.6 316.1 1019.6 316.5 1018.7 317 1019 317.4 1021 317.9 1019.7 318.3 1018.7 318.8 1018 319.2 1019.9 319.7 1018.9 320.1 1017.7 320.6 1019.9 321 1017.8 321.5 1019.7 321.9 1020.1 322.4 1020.2 322.8 1022 323.3 1020.7 323.7 1021.5 324.2 1023.6 324.6 1024.6 325.1 1026.3 325.5 1026.4 326 1028.1 326.4 1030.6 326.9 1029.5 327.3 1031.5 327.8 1034.5 328.2 1034.6 328.7 1035.8 329.1 1038 329.6 1040.7 330 1043.6 330.5 1044.9 330.9 1047.4 331.4 1049.7 331.8 1051.4 332.3 1053.1 332.7 1054.4 333.2 1057.3 333.6 1060.7 334.1 1063 334.5 1064.3 335 1065.4 335.4 1067.8 335.9 1070.2 336.3 1073.8 336.8 1076.8 337.2 1078.2 337.7 1076.9 338.1 1081.5 338.6 1083.4 339 1085 339.5 1088.9 339.9 1089 340.4 1090.5 340.8 1092.9 341.3 1097.2 341.7 1098.5 342.2 1099.6 342.6 1101.3 343.1 1102 343.5 1102.4 344 1105.4 344.4 1107.2 344.9 1106.8 345.3 1108.7 345.8 1112.1 346.2 1112.5 346.7 1111.8 347.1 1113.7 347.6 1113.4 348 1115.4 348.5 1113.9 348.9 1115.4 349.4 1115.2 349.8 1116.7 350.3 1117.8 350.7 1118.5 351.2 1115.2 351.6 1113.1 352.1 1113 352.5 1113.3 353 1108.9 353.4 1108.6 353.9 1104.2 354.3 1101 354.8 1098.2 355.2 1095.9 355.7 1092.4 356.1 1088.8 356.6 1084.5 357 1081 357.5 1075.7 357.9 1072.4 358.4 1068 358.8 1062.6 359.3 1056.9 359.7 1051.7 360.2 1048.1 360.6 1042.7 361.1 1034.9 361.5 1031.2 362 1026.8 362.4 1021.3 362.9 1017.6 363.3 1011.4 363.8 1006.1 364.2 1004.2 364.7 996.2 365.1 992.3 365.6 986.9 366 982.7 366.5 977.9 366.9 974.4 367.4 970.4 367.8 967.4 368.3 961.8 368.7 960.1 369.2 952.8 369.6 952.9 370.1 946.8 370.5 944.1 371 942.4 371.4 939.4 371.9 934.7 372.3 931.7 372.8 926.9 373.2 926.4 373.7 918.3 374.1 918.3 374.6 912.5 375 910.5" stroke="#3e9bfe" stroke-width="2.9" fill="none" stroke-linejoin="round" /><path d="M60 1048.7 60.5 1053.1 60.9 1049.4 61.4 1051.9 61.8 1047.2 62.3 1046.6 62.7 1050.2 63.2 1049.2 63.6 1050.7 64.1 1051.9 64.5 1051.4 65 1049.9 65.4 1048.6 65.9 1048.4 66.3 1051.8 66.8 1055.6 67.2 1051.5 67.7 1048.9 68.1 1051.9 68.6 1054.8 69 1053.9 69.5 1051 69.9 1054.9 70.4 1057 70.8 1058.5 71.3 1052.2 71.7 1057 72.2 1060.1 72.6 1064.4 73.1 1063.3 73.5 1058.3 74 1064.1 74.4 1061.2 74.9 1062.4 75.3 1062.3 75.8 1064.2 76.2 1067.8 76.7 1061.1 77.1 1065.5 77.6 1063.2 78 1064.5 78.5 1063.8 78.9 1060.5 79.4 1061.5 79.8 1061.8 80.3 1054.7 80.7 1059.5 81.2 1055.7 81.6 1057.4 82.1 1047 82.5 1050.8 83 1048.4 83.4 1046.7 83.9 1042.3 84.3 1045.4 84.8 1044.4 85.2 1041.4 85.7 1041.3 86.1 1045 86.6 1042.3 87 1045.2 87.5 1048 87.9 1042.8 88.4 1043 88.8 1039.5 89.3 1038.9 89.7 1043.8 90.2 1043.3 90.6 1047.4 91.1 1049 91.5 1046.8 92 1049.1 92.4 1047 92.9 1051 93.3 1046.9 93.8 1053 94.2 1055.7 94.7 1048.7 95.1 1052.8 95.6 1057.6 96 1058.1 96.5 1059.1 96.9 1056.5 97.4 1063.9 97.8 1062.1 98.3 1062.5 98.7 1064.9 99.2 1065.3 99.6 1065.9 100.1 1064.8 100.5 1064.9 101 1061.5 101.4 1068.6 101.9 1070.9 102.3 1063.6 102.8 1068 103.2 1066.6 103.7 1064.7 104.1 1065 104.6 1061.4 105 1067.1 105.5 1064 105.9 1064.9 106.4 1066.1 106.8 1063 107.3 1058.1 107.7 1062.6 108.2 1058.3 108.6 1057.4 109.1 1053.9 109.5 1054.7 110 1052.1 110.4 1050 110.9 1049.2 111.3 1052.5 111.8 1051.1 112.2 1045.3 112.7 1044.4 113.1 1045.7 113.6 1041.7 114 1041.5 114.5 1044.2 114.9 1046.6 115.4 1042.8 115.8 1041.3 116.3 1041.5 116.7 1041.2 117.2 1039.6 117.6 1041.7 118.1 1040.8 118.5 1042.4 119 1041.6 119.4 1044.3 119.9 1043.5 120.3 1042.9 120.8 1041.4 121.2 1047.1 121.7 1047.7 122.1 1046.8 122.6 1046.5 123 1041.5 123.5 1045.3 123.9 1053.1 124.4 1044.4 124.8 1044.3 125.3 1047.7 125.7 1041.8 126.2 1048.9 126.6 1049 127.1 1047.6 127.5 1053.3 128 1048.4 128.4 1051.8 128.9 1049.7 129.3 1052.4 129.8 1056.4 130.2 1051.3 130.7 1061.1 131.1 1056.1 131.6 1061.1 132 1064.9 132.5 1064.7 132.9 1060.4 133.4 1071.1 133.8 1070.6 134.3 1072.2 134.7 1067 135.2 1069.4 135.6 1069.9 136.1 1074.2 136.5 1075.8 137 1073.8 137.4 1079.1 137.9 1079 138.3 1077.5 138.8 1076.4 139.2 1070.5 139.7 1076.1 140.1 1080.1 140.6 1069.9 141 1076.1 141.5 1073.6 141.9 1075.5 142.4 1075.8 142.8 1075.1 143.3 1068.5 143.7 1072 144.2 1071.8 144.6 1072.9 145.1 1072.4 145.5 1067.2 146 1070.8 146.4 1065.9 146.9 1066.6 147.3 1064 147.8 1060.6 148.2 1061.5 148.7 1060.1 149.1 1057.7 149.6 1057.7 150 1053.2 150.5 1054.6 150.9 1054.6 151.4 1048.4 151.8 1049.9 152.3 1050.6 152.7 1052.2 153.2 1046.2 153.6 1044.9 154.1 1048.8 154.5 1042.1 155 1045.1 155.4 1043.5 155.9 1047.1 156.3 1044.8 156.8 1042.9 157.2 1045.2 157.7 1041.5 158.1 1043.3 158.6 1039.4 159 1042.5 159.5 1042.5 159.9 1042.7 160.4 1040 160.8 1045.6 161.3 1039.7 161.7 1046.7 162.2 1041.6 162.6 1042.9 163.1 1041.9 163.5 1040.9 164 1045.2 164.4 1042.9 164.9 1047.6 165.3 1042.2 165.8 1043.4 166.2 1049.2 166.7 1044.6 167.1 1053.4 167.6 1055.1 168 1051 168.5 1059.3 168.9 1060.1 169.4 1060.9 169.8 1064.7 170.3 1068.8 170.7 1069.8 171.2 1072.7 171.6 1074.6 172.1 1077.2 172.5 1077.8 173 1081.8 173.4 1083.8 173.9 1086.6 174.3 1085.8 174.8 1089.6 175.2 1089.2 175.7 1091.4 176.1 1093 176.6 1092.2 177 1096.8 177.5 1095.6 177.9 1096 178.4 1096.2 178.8 1090.9 179.3 1092.7 179.7 1091.5 180.2 1090.4 180.6 1089.6 181.1 1086.6 181.5 1083.8 182 1083.6 182.4 1082.3 182.9 1081.3 183.3 1080.6 183.8 1076.8 184.2 1074.5 184.7 1074.1 185.1 1071.9 185.6 1071.4 186 1066.4 186.5 1067 186.9 1065.1 187.4 1062.7 187.8 1062.4 188.3 1061.3 188.7 1057.5 189.2 1056.8 189.6 1053.3 190.1 1052.4 190.5 1052.2 191 1047.2 191.4 1047.3 191.9 1045.9 192.3 1041.5 192.8 1045.7 193.2 1046.9 193.7 1046.9 194.1 1043.5 194.6 1040.8 195 1040 195.5 1038.2 195.9 1036 196.4 1033.9 196.8 1036.8 197.3 1034.9 197.7 1031.9 198.2 1030.7 198.6 1032 199.1 1030 199.5 1029.2 200 1030.4 200.4 1028.8 200.9 1025.7 201.3 1026.2 201.8 1026.9 202.2 1025.8 202.7 1025.7 203.1 1024.9 203.6 1024.2 204 1028.5 204.5 1023.1 204.9 1025.5 205.4 1024.9 205.8 1024.8 206.3 1026.6 206.7 1028.1 207.2 1028.1 207.6 1027.9 208.1 1030.3 208.5 1030.7 209 1032.8 209.4 1035.9 209.9 1038.5 210.3 1037.9 210.8 1041.5 211.2 1042.2 211.7 1046.6 212.1 1048.1 212.6 1052.6 213 1054.8 213.5 1057.2 213.9 1058.1 214.4 1062.5 214.8 1064.2 215.3 1067.2 215.7 1068.3 216.2 1073.1 216.6 1076.3 217.1 1077.6 217.5 1080.7 218 1081 218.4 1086.9 218.9 1090 219.3 1091.7 219.8 1091.8 220.2 1094.7 220.7 1093.8 221.1 1098.6 221.6 1102.9 222 1101.1 222.5 1104.7 222.9 1104.5 223.4 1104.6 223.8 1105.2 224.3 1107.3 224.7 1107.5 225.2 1106.9 225.6 1106.6 226.1 1107 226.5 1105.9 227 1104.6 227.4 1105 227.9 1104.3 228.3 1103.3 228.8 1104.1 229.2 1103.8 229.7 1102.3 230.1 1101.8 230.6 1097 231 1098.2 231.5 1096.8 231.9 1096.9 232.4 1093.1 232.8 1091.6 233.3 1092.5 233.7 1089.1 234.2 1088.5 234.6 1087 235.1 1083 235.5 1083.5 236 1080 236.4 1080.8 236.9 1076.7 237.3 1074.5 237.8 1070.8 238.2 1070.9 238.7 1067.2 239.1 1066.4 239.6 1062.5 240 1062.3 240.5 1059.9 240.9 1059.3 241.4 1057 241.8 1054.6 242.3 1051.4 242.7 1050.7 243.2 1048.6 243.6 1046.7 244.1 1043.3 244.5 1043.1 245 1041.1 245.4 1039 245.9 1035.7 246.3 1033.8 246.8 1032.6 247.2 1031.2 247.7 1028.9 248.1 1029 248.6 1026.3 249 1024.5 249.5 1023.5 249.9 1024 250.4 1019.8 250.8 1020.8 251.3 1019.6 251.7 1019 252.2 1016.9 252.6 1014.2 253.1 1015.3 253.5 1013.1 254 1015.2 254.4 1014.6 254.9 1013.3 255.3 1013.3 255.8 1014.6 256.2 1012 256.7 1013.8 257.1 1014.8 257.6 1016.4 258 1017.3 258.5 1019.1 258.9 1019.5 259.4 1022.3 259.8 1022.4 260.3 1026.2 260.7 1027.5 261.2 1028.9 261.6 1032.7 262.1 1034.2 262.5 1037.6 263 1040.6 263.4 1045.5 263.9 1046.9 264.3 1049.8 264.8 1053 265.2 1057.2 265.7 1060.9 266.1 1064.9 266.6 1067.8 267 1071.5 267.5 1072.8 267.9 1078.3 268.4 1081.1 268.8 1085 269.3 1085.3 269.7 1092.4 270.2 1094.6 270.6 1099.1 271.1 1100.8 271.5 1106.2 272 1107.2 272.4 1111.5 272.9 1114.8 273.3 1116.5 273.8 1119.4 274.2 1121.6 274.7 1123.7 275.1 1125.2 275.6 1127.2 276 1129.2 276.5 1129.8 276.9 1131.8 277.4 1131.8 277.8 1133.1 278.3 1133.5 278.7 1135.5 279.2 1134.7 279.6 1133.9 280.1 1134.2 280.5 1134 281 1131.8 281.4 1131.1 281.9 1128.3 282.3 1126.8 282.8 1125.5 283.2 1123.9 283.7 1120.9 284.1 1120 284.6 1115 285 1113.9 285.5 1111.4 285.9 1108.5 286.4 1104.2 286.8 1100.8 287.3 1098.5 287.7 1096.8 288.2 1092.2 288.6 1089.7 289.1 1084.5 289.5 1083 290 1076.5 290.4 1076.5 290.9 1071.7 291.3 1069.5 291.8 1066 292.2 1062.7 292.7 1059.4 293.1 1055.8 293.6 1051.5 294 1049.2 294.5 1045.6 294.9 1042.5 295.4 1040.7 295.8 1038.8 296.3 1035.5 296.7 1033.2 297.2 1031.9 297.6 1028.2 298.1 1029.1 298.5 1027.7 299 1027 299.4 1024.5 299.9 1025.4 300.3 1024.5 300.8 1024.6 301.2 1024.1 301.7 1026.2 302.1 1025.1 302.6 1025.6 303 1025.7 303.5 1026.6 303.9 1027.3 304.4 1028.6 304.8 1029.1 305.3 1029 305.7 1031 306.2 1032.4 306.6 1030.5 307.1 1033.1 307.5 1032.5 308 1032.9 308.4 1033.1 308.9 1034.2 309.3 1034.7 309.8 1033.3 310.2 1032.4 310.7 1032.1 311.1 1031.6 311.6 1029.2 312 1030.3 312.5 1027.7 312.9 1027 313.4 1028 313.8 1023.8 314.3 1024.2 314.7 1024.1 315.2 1022.3 315.6 1020.8 316.1 1022.9 316.5 1019.1 317 1018.2 317.4 1018.7 317.9 1016 318.3 1014.3 318.8 1013.5 319.2 1010.1 319.7 1010.6 320.1 1010.1 320.6 1009.4 321 1007.9 321.5 1007.1 321.9 1006.4 322.4 1008.2 322.8 1008.7 323.3 1008 323.7 1009.4 324.2 1008.3 324.6 1008.5 325.1 1010.9 325.5 1012.1 326 1015.1 326.4 1015.5 326.9 1015 327.3 1016.9 327.8 1019.7 328.2 1021.3 328.7 1022.1 329.1 1026 329.6 1027.9 330 1030.7 330.5 1032.4 330.9 1036.1 331.4 1038.4 331.8 1040.2 332.3 1041.9 332.7 1045.3 333.2 1049.8 333.6 1050.6 334.1 1054.1 334.5 1056.5 335 1059.1 335.4 1063.5 335.9 1066.2 336.3 1069.3 336.8 1069.4 337.2 1073.5 337.7 1078.4 338.1 1079.9 338.6 1082.7 339 1084.3 339.5 1087.7 339.9 1091.5 340.4 1093.9 340.8 1098.1 341.3 1099.2 341.7 1101.5 342.2 1102.5 342.6 1108.4 343.1 1107.5 343.5 1111.7 344 1111.6 344.4 1116.1 344.9 1115.8 345.3 1117.1 345.8 1117.8 346.2 1122.5 346.7 1123.8 347.1 1124.7 347.6 1127.4 348 1126.9 348.5 1127.4 348.9 1125.8 349.4 1128 349.8 1127.9 350.3 1127.4 350.7 1128.2 351.2 1127.8 351.6 1126.4 352.1 1123.5 352.5 1122.5 353 1118.7 353.4 1116.9 353.9 1113.5 354.3 1112.1 354.8 1110 355.2 1103.4 355.7 1099.7 356.1 1095.3 356.6 1091.5 357 1088 357.5 1082.6 357.9 1080.1 358.4 1072.8 358.8 1066.6 359.3 1061.4 359.7 1055.4 360.2 1049.6 360.6 1043.1 361.1 1038.4 361.5 1032.6 362 1027.4 362.4 1020.9 362.9 1016.3 363.3 1009.7 363.8 1003.8 364.2 999.2 364.7 993.4 365.1 991.1 365.6 982.2 366 978.8 366.5 973 366.9 970.7 367.4 964.5 367.8 958.7 368.3 955.9 368.7 949.6 369.2 947.3 369.6 944.4 370.1 941 370.5 936.5 371 932.1 371.4 929.5 371.9 923.9 372.3 921.6 372.8 918.3 373.2 913.9 373.7 910.4 374.1 907.9 374.6 903.8 375 900.1" stroke="#38237f" stroke-width="3.1" fill="none" stroke-linejoin="round" /></g>
<clipPath id="c01"><rect x="405.3" y="0.6" width="145.5" height="197"/></clipPath>
<g clip-path="url(#c01)"><path d="M403.3 188 403.8 188 404.3 188 404.8 188 405.3 188 405.8 188 406.3 188 406.8 188 407.3 188 407.8 188 408.3 188 408.8 188 409.3 188 409.8 188 410.3 188 410.8 188 411.3 188 411.8 188 412.3 188 412.8 188 413.3 188 413.8 188 414.3 188 414.8 188 415.3 188 415.8 188 416.3 188 416.8 188 417.3 188 417.8 188 418.3 188 418.8 188 419.3 188 419.8 188 420.3 188 420.8 188 421.3 188 421.8 188 422.3 188 422.8 188 423.3 188 423.8 187.9 424.3 187.9 424.8 187.9 425.3 187.9 425.8 187.8 426.3 187.8 426.8 187.7 427.3 187.7 427.8 187.6 428.3 187.5 428.8 187.5 429.3 187.4 429.8 187.3 430.3 187.2 430.8 187 431.3 186.9 431.8 186.8 432.3 186.7 432.8 186.5 433.3 186.4 433.8 186.3 434.3 186.2 434.8 186 435.3 185.9 435.8 185.8 436.3 185.7 436.8 185.6 437.3 185.6 437.8 185.5 438.3 185.5 438.8 185.5 439.3 185.5 439.8 185.5 440.3 185.6 440.8 185.6 441.3 185.7 441.8 185.8 442.3 185.9 442.8 186.1 443.3 186.2 443.8 186.3 444.3 186.5 444.8 186.6 445.3 186.8 445.8 186.9 446.3 187.1 446.8 187.2 447.3 187.3 447.8 187.4 448.3 187.6 448.8 187.7 449.3 187.8 449.8 187.9 450.3 188 450.8 188 451.3 188.1 451.8 188.2 452.3 188.2 452.8 188.3 453.3 188.3 453.8 188.3 454.3 188.4 454.8 188.4 455.3 188.4 455.8 188.4 456.3 188.4 456.8 188.4 457.3 188.5 457.8 188.5 458.3 188.5 458.8 188.5 459.3 188.5 459.8 188.5 460.3 188.5 460.8 188.5 461.3 188.5 461.8 188.5 462.3 188.5 462.8 188.5 463.3 188.5 463.8 188.5 464.3 188.5 464.8 188.5 465.3 188.5 465.8 188.5 466.3 188.5 466.8 188.5 467.3 188.5 467.8 188.5 468.3 188.5 468.8 188.5 469.3 188.5 469.8 188.5 470.3 188.5 470.8 188.5 471.3 188.5 471.8 188.5 472.3 188.5 472.8 188.5 473.3 188.5 473.8 188.5 474.3 188.5 474.8 188.5 475.3 188.5 475.8 188.5 476.3 188.5 476.8 188.5 477.3 188.5 477.8 188.5 478.3 188.5 478.8 188.5 479.3 188.5 479.8 188.5 480.3 188.5 480.8 188.5 481.3 188.5 481.8 188.5 482.3 188.5 482.8 188.5 483.3 188.5 483.8 188.5 484.3 188.5 484.8 188.5 485.3 188.5 485.8 188.5 486.3 188.5 486.8 188.5 487.3 188.5 487.8 188.5 488.3 188.5 488.8 188.5 489.3 188.5 489.8 188.5 490.3 188.5 490.8 188.5 491.3 188.5 491.8 188.5 492.3 188.5 492.8 188.5 493.3 188.5 493.8 188.5 494.3 188.5 494.8 188.5 495.3 188.5 495.8 188.5 496.3 188.5 496.8 188.5 497.3 188.5 497.8 188.5 498.3 188.5 498.8 188.5 499.3 188.5 499.8 188.5 500.3 188.5 500.8 188.5 501.3 188.5 501.8 188.5 502.3 188.5 502.8 188.5 503.3 188.5 503.8 188.5 504.3 188.5 504.8 188.5 505.3 188.5 505.8 188.5 506.3 188.5 506.8 188.5 507.3 188.5 507.8 188.5 508.3 188.5 508.8 188.5 509.3 188.5 509.8 188.5 510.3 188.5 510.8 188.5 511.3 188.5 511.8 188.5 512.3 188.4 512.8 188.4 513.3 188.4 513.8 188.4 514.3 188.4 514.8 188.4 515.3 188.4 515.8 188.4 516.3 188.4 516.8 188.4 517.3 188.4 517.8 188.4 518.3 188.4 518.8 188.4 519.3 188.4 519.8 188.4 520.3 188.4 520.8 188.4 521.3 188.4 521.8 188.4 522.3 188.4 522.8 188.4 523.3 188.4 523.8 188.4 524.3 188.4 524.8 188.4 525.3 188.4 525.8 188.4 526.3 188.4 526.8 188.4 527.3 188.4 527.8 188.4 528.3 188.4 528.8 188.4 529.3 188.4 529.8 188.4 530.3 188.4 530.8 188.4 531.3 188.4 531.8 188.4 532.3 188.4 532.8 188.4 533.3 188.4 533.8 188.4 534.3 188.3 534.8 188.3 535.3 188.3 535.8 188.3 536.3 188.3 536.8 188.3 537.3 188.3 537.8 188.3 538.3 188.3 538.8 188.3 539.3 188.3 539.8 188.3 540.3 188.3 540.8 188.3 541.3 188.3 541.8 188.3 542.3 188.3 542.8 188.3 543.3 188.3 543.8 188.3 544.3 188.3 544.8 188.3 545.3 188.3 545.8 188.3 546.3 188.3 546.8 188.3 547.3 188.3 547.8 188.2 548.3 188.2 548.8 188.2 549.3 188.2 549.8 188.2 550.3 188.2 550.8 188.2 551.3 188.2 551.8 188.2 552.3 188.2 552.8 188.2" stroke="#7a0403" stroke-width="2.8" fill="none" stroke-linejoin="round" /><path d="M403.3 188 403.8 188 404.3 187.9 404.8 187.9 405.3 187.9 405.8 187.9 406.3 187.8 406.8 187.8 407.3 187.8 407.8 187.8 408.3 187.8 408.8 187.7 409.3 187.7 409.8 187.7 410.3 187.7 410.8 187.7 411.3 187.7 411.8 187.6 412.3 187.6 412.8 187.6 413.3 187.6 413.8 187.6 414.3 187.6 414.8 187.6 415.3 187.5 415.8 187.5 416.3 187.5 416.8 187.5 417.3 187.5 417.8 187.5 418.3 187.5 418.8 187.5 419.3 187.5 419.8 187.5 420.3 187.5 420.8 187.5 421.3 187.5 421.8 187.5 422.3 187.4 422.8 187.4 423.3 187.4 423.8 187.4 424.3 187.4 424.8 187.3 425.3 187.3 425.8 187.2 426.3 187.1 426.8 187 427.3 186.9 427.8 186.8 428.3 186.7 428.8 186.5 429.3 186.3 429.8 186.1 430.3 185.8 430.8 185.6 431.3 185.3 431.8 185 432.3 184.6 432.8 184.3 433.3 184 433.8 183.6 434.3 183.3 434.8 183 435.3 182.7 435.8 182.4 436.3 182.1 436.8 181.9 437.3 181.7 437.8 181.6 438.3 181.5 438.8 181.5 439.3 181.5 439.8 181.6 440.3 181.8 440.8 181.9 441.3 182.2 441.8 182.5 442.3 182.8 442.8 183.1 443.3 183.5 443.8 183.9 444.3 184.2 444.8 184.6 445.3 185 445.8 185.4 446.3 185.8 446.8 186.1 447.3 186.4 447.8 186.8 448.3 187 448.8 187.3 449.3 187.5 449.8 187.7 450.3 187.9 450.8 188.1 451.3 188.2 451.8 188.3 452.3 188.4 452.8 188.5 453.3 188.6 453.8 188.7 454.3 188.7 454.8 188.8 455.3 188.8 455.8 188.8 456.3 188.9 456.8 188.9 457.3 188.9 457.8 188.9 458.3 189 458.8 189 459.3 189 459.8 189 460.3 189 460.8 189 461.3 189 461.8 189 462.3 189 462.8 189 463.3 189 463.8 189 464.3 189 464.8 189 465.3 189 465.8 189 466.3 189 466.8 189 467.3 189 467.8 189 468.3 189 468.8 189 469.3 189 469.8 189 470.3 189 470.8 189 471.3 189 471.8 189 472.3 189 472.8 189 473.3 189 473.8 189 474.3 189 474.8 189 475.3 189 475.8 189 476.3 189 476.8 189 477.3 189 477.8 189 478.3 189 478.8 189 479.3 189 479.8 189 480.3 189 480.8 189 481.3 189 481.8 189 482.3 189 482.8 189 483.3 189 483.8 189 484.3 189 484.8 189 485.3 189 485.8 189 486.3 189 486.8 189 487.3 189 487.8 189 488.3 189 488.8 189 489.3 189 489.8 189 490.3 189 490.8 189 491.3 189 491.8 189 492.3 189 492.8 189 493.3 189 493.8 189 494.3 189 494.8 189 495.3 189 495.8 189 496.3 189 496.8 189 497.3 189 497.8 189 498.3 189 498.8 189 499.3 189 499.8 189 500.3 189 500.8 189 501.3 189 501.8 189 502.3 189 502.8 189 503.3 189 503.8 189 504.3 188.9 504.8 188.9 505.3 188.9 505.8 188.9 506.3 188.9 506.8 188.9 507.3 188.9 507.8 188.9 508.3 188.9 508.8 188.9 509.3 188.9 509.8 188.9 510.3 188.9 510.8 188.9 511.3 188.9 511.8 188.9 512.3 188.9 512.8 188.9 513.3 188.9 513.8 188.9 514.3 188.9 514.8 188.9 515.3 188.9 515.8 188.9 516.3 188.9 516.8 188.9 517.3 188.9 517.8 188.9 518.3 188.9 518.8 188.9 519.3 188.9 519.8 188.9 520.3 188.9 520.8 188.9 521.3 188.9 521.8 188.9 522.3 188.9 522.8 188.9 523.3 188.8 523.8 188.8 524.3 188.8 524.8 188.8 525.3 188.8 525.8 188.8 526.3 188.8 526.8 188.8 527.3 188.8 527.8 188.8 528.3 188.8 528.8 188.8 529.3 188.8 529.8 188.8 530.3 188.8 530.8 188.8 531.3 188.8 531.8 188.8 532.3 188.8 532.8 188.8 533.3 188.8 533.8 188.8 534.3 188.7 534.8 188.7 535.3 188.7 535.8 188.7 536.3 188.7 536.8 188.7 537.3 188.7 537.8 188.7 538.3 188.7 538.8 188.7 539.3 188.7 539.8 188.7 540.3 188.7 540.8 188.7 541.3 188.7 541.8 188.7 542.3 188.7 542.8 188.6 543.3 188.6 543.8 188.6 544.3 188.6 544.8 188.6 545.3 188.6 545.8 188.6 546.3 188.6 546.8 188.6 547.3 188.6 547.8 188.6 548.3 188.6 548.8 188.6 549.3 188.6 549.8 188.6 550.3 188.5 550.8 188.5 551.3 188.5 551.8 188.5 552.3 188.5 552.8 188.5" stroke="#e4450a" stroke-width="2.8" fill="none" stroke-linejoin="round" /><path d="M403.3 187.9 403.8 187.7 404.3 187.6 404.8 187.4 405.3 187.3 405.8 187.2 406.3 187 406.8 186.9 407.3 186.8 407.8 186.7 408.3 186.7 408.8 186.6 409.3 186.5 409.8 186.4 410.3 186.4 410.8 186.3 411.3 186.3 411.8 186.2 412.3 186.2 412.8 186.2 413.3 186.1 413.8 186.1 414.3 186.1 414.8 186.1 415.3 186 415.8 186 416.3 186 416.8 186 417.3 186 417.8 186 418.3 186 418.8 186 419.3 186 419.8 186 420.3 186.1 420.8 186.3 421.3 186.7 421.8 187.3 422.3 187.8 422.8 188.3 423.3 188.7 423.8 189 424.3 188.9 424.8 188.6 425.3 188.2 425.8 187.6 426.3 187 426.8 186.5 427.3 186 427.8 185.7 428.3 185.5 428.8 185.4 429.3 185.2 429.8 184.9 430.3 184.6 430.8 184.3 431.3 183.8 431.8 183.3 432.3 182.7 432.8 182.1 433.3 181.3 433.8 180.4 434.3 179.5 434.8 178.5 435.3 177.5 435.8 176.4 436.3 175.3 436.8 174.2 437.3 173.2 437.8 172.3 438.3 171.4 438.8 170.7 439.3 170.2 439.8 169.8 440.3 169.6 440.8 169.6 441.3 169.9 441.8 170.3 442.3 170.9 442.8 171.6 443.3 172.6 443.8 173.6 444.3 174.7 444.8 175.8 445.3 177 445.8 178.1 446.3 179.3 446.8 180.4 447.3 181.4 447.8 182.3 448.3 183.2 448.8 183.9 449.3 184.6 449.8 185.2 450.3 185.7 450.8 186.1 451.3 186.5 451.8 186.8 452.3 187 452.8 187.2 453.3 187.4 453.8 187.5 454.3 187.6 454.8 187.7 455.3 187.8 455.8 187.8 456.3 187.9 456.8 187.9 457.3 187.9 457.8 188 458.3 188 458.8 188 459.3 188 459.8 188 460.3 188 460.8 188 461.3 188 461.8 188 462.3 188 462.8 188 463.3 188 463.8 188 464.3 188 464.8 188 465.3 188 465.8 188 466.3 188 466.8 188 467.3 188 467.8 188 468.3 188 468.8 188 469.3 188 469.8 188 470.3 188 470.8 188 471.3 188 471.8 188 472.3 188 472.8 188 473.3 188 473.8 188 474.3 188 474.8 188 475.3 188 475.8 188 476.3 188 476.8 188 477.3 188 477.8 188 478.3 188 478.8 188 479.3 188 479.8 188 480.3 188 480.8 188 481.3 188 481.8 188 482.3 188 482.8 188 483.3 188 483.8 188 484.3 188 484.8 188 485.3 188 485.8 188 486.3 188 486.8 188 487.3 188 487.8 188 488.3 188 488.8 188 489.3 188 489.8 188 490.3 188 490.8 188 491.3 188 491.8 188 492.3 188 492.8 188 493.3 188 493.8 188 494.3 188 494.8 188 495.3 188 495.8 188 496.3 188 496.8 188 497.3 188 497.8 188 498.3 188 498.8 188 499.3 188 499.8 188 500.3 188 500.8 188 501.3 188 501.8 188 502.3 188 502.8 188 503.3 188 503.8 188 504.3 188 504.8 188 505.3 188 505.8 188 506.3 188 506.8 188 507.3 188 507.8 188 508.3 188 508.8 188 509.3 188 509.8 188 510.3 188 510.8 188 511.3 188 511.8 188 512.3 188 512.8 188 513.3 188 513.8 188 514.3 188 514.8 188 515.3 188 515.8 188 516.3 188 516.8 188 517.3 188 517.8 188 518.3 188 518.8 188 519.3 188 519.8 188 520.3 188 520.8 188 521.3 188 521.8 188 522.3 188 522.8 188 523.3 188 523.8 188 524.3 188 524.8 188 525.3 188 525.8 188 526.3 188 526.8 188 527.3 188 527.8 188 528.3 188 528.8 188 529.3 188 529.8 188 530.3 188 530.8 188 531.3 188 531.8 188 532.3 188 532.8 188 533.3 188 533.8 188 534.3 188 534.8 188 535.3 188 535.8 188 536.3 188 536.8 188 537.3 188 537.8 188 538.3 188 538.8 188 539.3 188 539.8 188 540.3 188 540.8 188 541.3 188 541.8 188 542.3 188 542.8 188 543.3 188 543.8 188 544.3 188 544.8 188 545.3 188 545.8 188 546.3 188 546.8 188 547.3 188 547.8 188 548.3 188 548.8 188 549.3 188 549.8 188 550.3 188 550.8 188 551.3 188 551.8 188 552.3 188 552.8 188" stroke="#faba39" stroke-width="2.8" fill="none" stroke-linejoin="round" /><path d="M403.3 187.8 403.8 187.6 404.3 187.4 404.8 187.2 405.3 187 405.8 186.8 406.3 186.7 406.8 186.5 407.3 186.4 407.8 186.3 408.3 186.2 408.8 186.1 409.3 186 409.8 186 410.3 185.9 410.8 185.9 411.3 185.8 411.8 185.8 412.3 185.8 412.8 185.7 413.3 185.7 413.8 185.7 414.3 185.7 414.8 185.7 415.3 185.7 415.8 185.8 416.3 185.9 416.8 186.1 417.3 186.3 417.8 186.5 418.3 186.7 418.8 186.9 419.3 187.1 419.8 187.3 420.3 187.4 420.8 187.5 421.3 187.5 421.8 187.3 422.3 187.1 422.8 186.9 423.3 186.6 423.8 186.3 424.3 186.1 424.8 186 425.3 186 425.8 186 426.3 186.1 426.8 186.2 427.3 186.4 427.8 186.5 428.3 186.5 428.8 186.5 429.3 186.3 429.8 186 430.3 185.5 430.8 184.9 431.3 184.1 431.8 183.2 432.3 182 432.8 180.7 433.3 179.2 433.8 177.4 434.3 175.4 434.8 173.2 435.3 170.8 435.8 168.3 436.3 165.7 436.8 163 437.3 160.4 437.8 157.9 438.3 155.5 438.8 153.4 439.3 151.7 439.8 150.3 440.3 149.4 440.8 148.9 441.3 149 441.8 149.5 442.3 150.5 442.8 152 443.3 153.8 443.8 156 444.3 158.4 444.8 160.9 445.3 163.6 445.8 166.2 446.3 168.8 446.8 171.3 447.3 173.7 447.8 175.8 448.3 177.8 448.8 179.5 449.3 181 449.8 182.3 450.3 183.4 450.8 184.3 451.3 185 451.8 185.6 452.3 186.1 452.8 186.4 453.3 186.7 453.8 186.9 454.3 187.1 454.8 187.2 455.3 187.3 455.8 187.4 456.3 187.4 456.8 187.4 457.3 187.5 457.8 187.5 458.3 187.5 458.8 187.5 459.3 187.5 459.8 187.5 460.3 187.5 460.8 187.5 461.3 187.5 461.8 187.5 462.3 187.5 462.8 187.5 463.3 187.5 463.8 187.5 464.3 187.5 464.8 187.5 465.3 187.5 465.8 187.5 466.3 187.5 466.8 187.5 467.3 187.5 467.8 187.5 468.3 187.5 468.8 187.5 469.3 187.5 469.8 187.5 470.3 187.5 470.8 187.5 471.3 187.5 471.8 187.5 472.3 187.5 472.8 187.5 473.3 187.5 473.8 187.5 474.3 187.5 474.8 187.5 475.3 187.5 475.8 187.5 476.3 187.5 476.8 187.5 477.3 187.5 477.8 187.5 478.3 187.5 478.8 187.5 479.3 187.5 479.8 187.5 480.3 187.5 480.8 187.5 481.3 187.5 481.8 187.5 482.3 187.5 482.8 187.5 483.3 187.5 483.8 187.5 484.3 187.5 484.8 187.5 485.3 187.5 485.8 187.5 486.3 187.5 486.8 187.5 487.3 187.6 487.8 187.6 488.3 187.6 488.8 187.6 489.3 187.6 489.8 187.6 490.3 187.6 490.8 187.6 491.3 187.6 491.8 187.6 492.3 187.6 492.8 187.6 493.3 187.6 493.8 187.6 494.3 187.6 494.8 187.6 495.3 187.6 495.8 187.6 496.3 187.6 496.8 187.6 497.3 187.6 497.8 187.6 498.3 187.6 498.8 187.6 499.3 187.6 499.8 187.6 500.3 187.6 500.8 187.6 501.3 187.6 501.8 187.6 502.3 187.6 502.8 187.6 503.3 187.6 503.8 187.6 504.3 187.6 504.8 187.6 505.3 187.6 505.8 187.6 506.3 187.6 506.8 187.6 507.3 187.6 507.8 187.6 508.3 187.7 508.8 187.7 509.3 187.7 509.8 187.7 510.3 187.7 510.8 187.7 511.3 187.7 511.8 187.7 512.3 187.7 512.8 187.7 513.3 187.7 513.8 187.7 514.3 187.7 514.8 187.7 515.3 187.7 515.8 187.7 516.3 187.7 516.8 187.7 517.3 187.7 517.8 187.7 518.3 187.7 518.8 187.7 519.3 187.7 519.8 187.7 520.3 187.7 520.8 187.7 521.3 187.7 521.8 187.7 522.3 187.7 522.8 187.7 523.3 187.7 523.8 187.8 524.3 187.8 524.8 187.8 525.3 187.8 525.8 187.8 526.3 187.8 526.8 187.8 527.3 187.8 527.8 187.8 528.3 187.8 528.8 187.8 529.3 187.8 529.8 187.8 530.3 187.8 530.8 187.8 531.3 187.8 531.8 187.8 532.3 187.8 532.8 187.8 533.3 187.8 533.8 187.8 534.3 187.8 534.8 187.8 535.3 187.8 535.8 187.8 536.3 187.9 536.8 187.9 537.3 187.9 537.8 187.9 538.3 187.9 538.8 187.9 539.3 187.9 539.8 187.9 540.3 187.9 540.8 187.9 541.3 187.9 541.8 187.9 542.3 187.9 542.8 187.9 543.3 187.9 543.8 187.9 544.3 187.9 544.8 187.9 545.3 187.9 545.8 187.9 546.3 187.9 546.8 187.9 547.3 187.9 547.8 188 548.3 188 548.8 188 549.3 188 549.8 188 550.3 188 550.8 188 551.3 188 551.8 188 552.3 188 552.8 188" stroke="#a4fc3c" stroke-width="2.8" fill="none" stroke-linejoin="round" /><path d="M403.3 186.5 403.8 186.4 404.3 186.3 404.8 186.2 405.3 186.1 405.8 186 406.3 185.9 406.8 185.8 407.3 185.7 407.8 185.6 408.3 185.4 408.8 185.3 409.3 185.2 409.8 185.1 410.3 184.9 410.8 184.8 411.3 184.6 411.8 184.5 412.3 184.3 412.8 184.2 413.3 184 413.8 183.9 414.3 183.7 414.8 183.5 415.3 183.3 415.8 183.1 416.3 182.9 416.8 182.7 417.3 182.4 417.8 182.2 418.3 182 418.8 181.7 419.3 181.4 419.8 181.1 420.3 180.7 420.8 180.3 421.3 179.6 421.8 178.9 422.3 178.1 422.8 177.3 423.3 176.4 423.8 175.5 424.3 174.6 424.8 173.8 425.3 172.9 425.8 172.1 426.3 171.4 426.8 170.7 427.3 170 427.8 169.3 428.3 168.5 428.8 167.5 429.3 166.1 429.8 164.3 430.3 162 430.8 159.1 431.3 155.5 431.8 151.3 432.3 146.6 432.8 141.3 433.3 135.5 433.8 129.2 434.3 122.5 434.8 115.5 435.3 108.3 435.8 101.1 436.3 93.9 436.8 87 437.3 80.5 437.8 74.6 438.3 69.5 438.8 65.2 439.3 62 439.8 59.9 440.3 58.9 440.8 59.2 441.3 60.7 441.8 63.4 442.3 67.3 442.8 72.1 443.3 77.7 443.8 84.1 444.3 91.1 444.8 98.4 445.3 106 445.8 113.6 446.3 121.1 446.8 128.4 447.3 135.4 447.8 142 448.3 148 448.8 153.6 449.3 158.6 449.8 163.1 450.3 167 450.8 170.4 451.3 173.3 451.8 175.8 452.3 177.9 452.8 179.6 453.3 181 453.8 182.2 454.3 183.1 454.8 183.9 455.3 184.5 455.8 185 456.3 185.4 456.8 185.7 457.3 186 457.8 186.2 458.3 186.4 458.8 186.6 459.3 186.7 459.8 186.8 460.3 186.9 460.8 186.9 461.3 187 461.8 187 462.3 187 462.8 187 463.3 186.9 463.8 186.9 464.3 186.8 464.8 186.7 465.3 186.6 465.8 186.5 466.3 186.4 466.8 186.2 467.3 186.1 467.8 186 468.3 185.9 468.8 185.7 469.3 185.6 469.8 185.5 470.3 185.4 470.8 185.3 471.3 185.2 471.8 185.1 472.3 185 472.8 184.9 473.3 184.8 473.8 184.7 474.3 184.6 474.8 184.5 475.3 184.4 475.8 184.3 476.3 184.2 476.8 184.1 477.3 184 477.8 183.9 478.3 183.9 478.8 183.8 479.3 183.8 479.8 183.8 480.3 183.8 480.8 183.8 481.3 183.8 481.8 183.9 482.3 183.9 482.8 184 483.3 184.1 483.8 184.1 484.3 184.2 484.8 184.3 485.3 184.4 485.8 184.4 486.3 184.5 486.8 184.6 487.3 184.7 487.8 184.8 488.3 184.8 488.8 184.9 489.3 184.9 489.8 185 490.3 185 490.8 185.1 491.3 185.1 491.8 185.1 492.3 185.1 492.8 185.2 493.3 185.2 493.8 185.2 494.3 185.2 494.8 185.3 495.3 185.3 495.8 185.3 496.3 185.3 496.8 185.4 497.3 185.4 497.8 185.4 498.3 185.4 498.8 185.4 499.3 185.5 499.8 185.5 500.3 185.5 500.8 185.5 501.3 185.6 501.8 185.6 502.3 185.6 502.8 185.6 503.3 185.7 503.8 185.7 504.3 185.7 504.8 185.8 505.3 185.8 505.8 185.8 506.3 185.8 506.8 185.9 507.3 185.9 507.8 185.9 508.3 186 508.8 186 509.3 186 509.8 186.1 510.3 186.1 510.8 186.1 511.3 186.1 511.8 186.2 512.3 186.2 512.8 186.2 513.3 186.2 513.8 186.3 514.3 186.3 514.8 186.3 515.3 186.3 515.8 186.4 516.3 186.4 516.8 186.4 517.3 186.4 517.8 186.4 518.3 186.5 518.8 186.5 519.3 186.5 519.8 186.5 520.3 186.5 520.8 186.5 521.3 186.5 521.8 186.5 522.3 186.6 522.8 186.6 523.3 186.6 523.8 186.6 524.3 186.6 524.8 186.6 525.3 186.6 525.8 186.6 526.3 186.6 526.8 186.7 527.3 186.7 527.8 186.7 528.3 186.7 528.8 186.7 529.3 186.7 529.8 186.7 530.3 186.7 530.8 186.7 531.3 186.8 531.8 186.8 532.3 186.8 532.8 186.8 533.3 186.8 533.8 186.8 534.3 186.8 534.8 186.8 535.3 186.8 535.8 186.8 536.3 186.8 536.8 186.9 537.3 186.9 537.8 186.9 538.3 186.9 538.8 186.9 539.3 186.9 539.8 186.9 540.3 186.9 540.8 186.9 541.3 186.9 541.8 186.9 542.3 186.9 542.8 186.9 543.3 186.9 543.8 187 544.3 187 544.8 187 545.3 187 545.8 187 546.3 187 546.8 187 547.3 187 547.8 187 548.3 187 548.8 187 549.3 187 549.8 187 550.3 187 550.8 187 551.3 187 551.8 187 552.3 187 552.8 187" stroke="#1ae4b6" stroke-width="2.8" fill="none" stroke-linejoin="round" /><path d="M403.3 185.4 403.8 185.2 404.3 185 404.8 184.8 405.3 184.6 405.8 184.4 406.3 184.2 406.8 184 407.3 183.8 407.8 183.6 408.3 183.4 408.8 183.2 409.3 183 409.8 182.8 410.3 182.6 410.8 182.5 411.3 182.3 411.8 182.1 412.3 181.9 412.8 181.7 413.3 181.6 413.8 181.4 414.3 181.2 414.8 181.1 415.3 180.9 415.8 180.7 416.3 180.5 416.8 180.3 417.3 180.1 417.8 179.9 418.3 179.7 418.8 179.5 419.3 179.3 419.8 179.1 420.3 178.9 420.8 178.7 421.3 178.5 421.8 178.3 422.3 178.1 422.8 177.9 423.3 177.6 423.8 177.3 424.3 177 424.8 176.6 425.3 176.1 425.8 175.6 426.3 174.9 426.8 174 427.3 172.8 427.8 171.4 428.3 169.6 428.8 167.3 429.3 164.6 429.8 161.3 430.3 157.4 430.8 152.8 431.3 147.6 431.8 141.6 432.3 134.9 432.8 127.5 433.3 119.5 433.8 110.9 434.3 101.9 434.8 92.6 435.3 83.1 435.8 73.7 436.3 64.5 436.8 55.8 437.3 47.7 437.8 40.5 438.3 34.5 438.8 29.6 439.3 26.2 439.8 24.3 440.3 24 440.8 25.2 441.3 28 441.8 32.2 442.3 37.8 442.8 44.6 443.3 52.4 443.8 61 444.3 70.2 444.8 79.8 445.3 89.5 445.8 99.2 446.3 108.6 446.8 117.7 447.3 126.4 447.8 134.4 448.3 141.8 448.8 148.4 449.3 154.4 449.8 159.7 450.3 164.3 450.8 168.3 451.3 171.7 451.8 174.5 452.3 176.9 452.8 178.9 453.3 180.5 453.8 181.8 454.3 182.9 454.8 183.7 455.3 184.4 455.8 185 456.3 185.4 456.8 185.8 457.3 186.2 457.8 186.4 458.3 186.7 458.8 186.9 459.3 187 459.8 187.2 460.3 187.3 460.8 187.4 461.3 187.4 461.8 187.5 462.3 187.5 462.8 187.5 463.3 187.5 463.8 187.5 464.3 187.5 464.8 187.4 465.3 187.4 465.8 187.4 466.3 187.4 466.8 187.3 467.3 187.3 467.8 187.3 468.3 187.3 468.8 187.2 469.3 187.2 469.8 187.2 470.3 187.1 470.8 187.1 471.3 187.1 471.8 187.1 472.3 187.1 472.8 187 473.3 187 473.8 187 474.3 187 474.8 187 475.3 187 475.8 187 476.3 187 476.8 187 477.3 187 477.8 187 478.3 187 478.8 187 479.3 187 479.8 187 480.3 187 480.8 187 481.3 187 481.8 187 482.3 187 482.8 187 483.3 187 483.8 187 484.3 187 484.8 187 485.3 187 485.8 187 486.3 187 486.8 187 487.3 187 487.8 187 488.3 187 488.8 187 489.3 187 489.8 187 490.3 187 490.8 187 491.3 187 491.8 187 492.3 187 492.8 187 493.3 187 493.8 187 494.3 187 494.8 187 495.3 187 495.8 187 496.3 187 496.8 187 497.3 187 497.8 187 498.3 187 498.8 187 499.3 187 499.8 187 500.3 187 500.8 187 501.3 187 501.8 187 502.3 187 502.8 187 503.3 187 503.8 187 504.3 187 504.8 187 505.3 187 505.8 187 506.3 187 506.8 187 507.3 187 507.8 187 508.3 187 508.8 187 509.3 187 509.8 187 510.3 187 510.8 187 511.3 187 511.8 187 512.3 187 512.8 187 513.3 187 513.8 187 514.3 187 514.8 187 515.3 187.1 515.8 187.1 516.3 187.1 516.8 187.1 517.3 187.1 517.8 187.1 518.3 187.1 518.8 187.1 519.3 187.1 519.8 187.1 520.3 187.1 520.8 187.1 521.3 187.1 521.8 187.1 522.3 187.1 522.8 187.1 523.3 187.1 523.8 187.1 524.3 187.1 524.8 187.1 525.3 187.1 525.8 187.1 526.3 187.1 526.8 187.1 527.3 187.2 527.8 187.2 528.3 187.2 528.8 187.2 529.3 187.2 529.8 187.2 530.3 187.2 530.8 187.2 531.3 187.2 531.8 187.2 532.3 187.2 532.8 187.2 533.3 187.2 533.8 187.2 534.3 187.2 534.8 187.2 535.3 187.2 535.8 187.3 536.3 187.3 536.8 187.3 537.3 187.3 537.8 187.3 538.3 187.3 538.8 187.3 539.3 187.3 539.8 187.3 540.3 187.3 540.8 187.3 541.3 187.3 541.8 187.3 542.3 187.3 542.8 187.3 543.3 187.4 543.8 187.4 544.3 187.4 544.8 187.4 545.3 187.4 545.8 187.4 546.3 187.4 546.8 187.4 547.3 187.4 547.8 187.4 548.3 187.4 548.8 187.4 549.3 187.4 549.8 187.4 550.3 187.5 550.8 187.5 551.3 187.5 551.8 187.5 552.3 187.5 552.8 187.5" stroke="#4685fa" stroke-width="2.8" fill="none" stroke-linejoin="round" /><path d="M403.3 182.9 403.8 182.7 404.3 182.5 404.8 182.4 405.3 182.2 405.8 182 406.3 181.8 406.8 181.6 407.3 181.5 407.8 181.3 408.3 181.1 408.8 180.9 409.3 180.7 409.8 180.5 410.3 180.4 410.8 180.2 411.3 180 411.8 179.8 412.3 179.6 412.8 179.4 413.3 179.1 413.8 178.9 414.3 178.6 414.8 178.4 415.3 178.2 415.8 178.1 416.3 178 416.8 178.1 417.3 178.4 417.8 179.2 418.3 180.1 418.8 181.3 419.3 182.4 419.8 183.5 420.3 184.4 420.8 185 421.3 185.3 421.8 185.1 422.3 184.5 422.8 183.6 423.3 182.4 423.8 181.1 424.3 179.7 424.8 178.4 425.3 177.1 425.8 175.9 426.3 174.7 426.8 173.3 427.3 171.7 427.8 169.7 428.3 167.3 428.8 164.6 429.3 161.3 429.8 157.5 430.3 153.1 430.8 148 431.3 142.2 431.8 135.7 432.3 128.4 432.8 120.5 433.3 112 433.8 102.9 434.3 93.4 434.8 83.5 435.3 73.5 435.8 63.6 436.3 53.9 436.8 44.7 437.3 36.2 437.8 28.6 438.3 22.2 438.8 17 439.3 13.2 439.8 11 440.3 10.4 440.8 11.4 441.3 14.1 441.8 18.3 442.3 24 442.8 30.9 443.3 38.9 443.8 47.8 444.3 57.5 444.8 67.5 445.3 77.9 445.8 88.2 446.3 98.4 446.8 108.3 447.3 117.7 447.8 126.6 448.3 134.8 448.8 142.3 449.3 149 449.8 155 450.3 160.3 450.8 164.9 451.3 168.9 451.8 172.2 452.3 175 452.8 177.4 453.3 179.3 453.8 180.8 454.3 182 454.8 183 455.3 183.7 455.8 184.3 456.3 184.8 456.8 185.1 457.3 185.3 457.8 185.5 458.3 185.7 458.8 185.8 459.3 185.9 459.8 186 460.3 186.3 460.8 186.6 461.3 186.9 461.8 187.1 462.3 187.4 462.8 187.5 463.3 187.5 463.8 187.4 464.3 187.3 464.8 187.2 465.3 187 465.8 186.9 466.3 186.7 466.8 186.5 467.3 186.3 467.8 186.1 468.3 185.9 468.8 185.7 469.3 185.6 469.8 185.5 470.3 185.4 470.8 185.4 471.3 185.5 471.8 185.8 472.3 186.1 472.8 186.5 473.3 186.8 473.8 187.2 474.3 187.4 474.8 187.6 475.3 187.6 475.8 187.5 476.3 187.4 476.8 187.3 477.3 187.2 477.8 187 478.3 186.9 478.8 186.7 479.3 186.6 479.8 186.4 480.3 186.4 480.8 186.3 481.3 186.3 481.8 186.3 482.3 186.4 482.8 186.4 483.3 186.5 483.8 186.6 484.3 186.7 484.8 186.8 485.3 186.9 485.8 187 486.3 187.1 486.8 187.2 487.3 187.2 487.8 187.3 488.3 187.4 488.8 187.4 489.3 187.5 489.8 187.5 490.3 187.5 490.8 187.5 491.3 187.5 491.8 187.4 492.3 187.4 492.8 187.3 493.3 187.2 493.8 187.2 494.3 187.1 494.8 187 495.3 187 495.8 186.9 496.3 186.8 496.8 186.7 497.3 186.7 497.8 186.6 498.3 186.6 498.8 186.5 499.3 186.5 499.8 186.5 500.3 186.5 500.8 186.5 501.3 186.5 501.8 186.5 502.3 186.5 502.8 186.5 503.3 186.6 503.8 186.6 504.3 186.6 504.8 186.6 505.3 186.6 505.8 186.7 506.3 186.7 506.8 186.7 507.3 186.7 507.8 186.8 508.3 186.8 508.8 186.8 509.3 186.9 509.8 186.9 510.3 186.9 510.8 187 511.3 187 511.8 187 512.3 187.1 512.8 187.1 513.3 187.1 513.8 187.2 514.3 187.2 514.8 187.2 515.3 187.3 515.8 187.3 516.3 187.3 516.8 187.3 517.3 187.4 517.8 187.4 518.3 187.4 518.8 187.4 519.3 187.5 519.8 187.5 520.3 187.5 520.8 187.5 521.3 187.5 521.8 187.6 522.3 187.6 522.8 187.6 523.3 187.6 523.8 187.6 524.3 187.7 524.8 187.7 525.3 187.7 525.8 187.7 526.3 187.7 526.8 187.8 527.3 187.8 527.8 187.8 528.3 187.8 528.8 187.8 529.3 187.8 529.8 187.9 530.3 187.9 530.8 187.9 531.3 187.9 531.8 187.9 532.3 187.9 532.8 188 533.3 188 533.8 188 534.3 188 534.8 188 535.3 188 535.8 188.1 536.3 188.1 536.8 188.1 537.3 188.1 537.8 188.1 538.3 188.1 538.8 188.2 539.3 188.2 539.8 188.2 540.3 188.2 540.8 188.2 541.3 188.2 541.8 188.2 542.3 188.3 542.8 188.3 543.3 188.3 543.8 188.3 544.3 188.3 544.8 188.3 545.3 188.3 545.8 188.3 546.3 188.4 546.8 188.4 547.3 188.4 547.8 188.4 548.3 188.4 548.8 188.4 549.3 188.4 549.8 188.4 550.3 188.4 550.8 188.5 551.3 188.5 551.8 188.5 552.3 188.5 552.8 188.5" stroke="#38237f" stroke-width="3.0" fill="none" stroke-linejoin="round" /></g>
<clipPath id="c11"><rect x="405.3" y="237.6" width="145.5" height="196.9"/></clipPath>
<g clip-path="url(#c11)"><path d="M403.3 421.9 403.8 421.8 404.3 421.6 404.8 421.4 405.3 421.3 405.8 421.1 406.3 421 406.8 420.8 407.3 420.6 407.8 420.5 408.3 420.3 408.8 420.1 409.3 420 409.8 419.8 410.3 419.6 410.8 419.4 411.3 419.3 411.8 419.1 412.3 418.9 412.8 418.7 413.3 418.5 413.8 418.4 414.3 418.2 414.8 418 415.3 417.8 415.8 417.6 416.3 417.4 416.8 417.2 417.3 417.1 417.8 416.9 418.3 416.7 418.8 416.5 419.3 416.3 419.8 416.1 420.3 415.9 420.8 415.7 421.3 415.4 421.8 415.2 422.3 415 422.8 414.7 423.3 414.4 423.8 414.2 424.3 413.9 424.8 413.6 425.3 413.3 425.8 413 426.3 412.7 426.8 412.4 427.3 412.1 427.8 411.8 428.3 411.5 428.8 411.2 429.3 410.9 429.8 410.6 430.3 410.3 430.8 410 431.3 409.7 431.8 409.4 432.3 409.2 432.8 408.9 433.3 408.6 433.8 408.4 434.3 408.1 434.8 407.9 435.3 407.7 435.8 407.5 436.3 407.3 436.8 407.1 437.3 407 437.8 406.8 438.3 406.7 438.8 406.6 439.3 406.5 439.8 406.4 440.3 406.3 440.8 406.3 441.3 406.3 441.8 406.3 442.3 406.4 442.8 406.4 443.3 406.5 443.8 406.6 444.3 406.8 444.8 406.9 445.3 407.1 445.8 407.2 446.3 407.4 446.8 407.6 447.3 407.8 447.8 408 448.3 408.2 448.8 408.4 449.3 408.6 449.8 408.9 450.3 409.2 450.8 409.5 451.3 409.8 451.8 410.2 452.3 410.5 452.8 410.9 453.3 411.3 453.8 411.7 454.3 412 454.8 412.3 455.3 412.6 455.8 412.9 456.3 413.2 456.8 413.4 457.3 413.7 457.8 414 458.3 414.2 458.8 414.5 459.3 414.7 459.8 415 460.3 415.3 460.8 415.5 461.3 415.7 461.8 416 462.3 416.2 462.8 416.4 463.3 416.7 463.8 416.9 464.3 417.1 464.8 417.3 465.3 417.4 465.8 417.6 466.3 417.7 466.8 417.9 467.3 418 467.8 418.1 468.3 418.2 468.8 418.3 469.3 418.4 469.8 418.5 470.3 418.5 470.8 418.6 471.3 418.7 471.8 418.8 472.3 418.8 472.8 418.9 473.3 418.9 473.8 419 474.3 419.1 474.8 419.1 475.3 419.2 475.8 419.2 476.3 419.3 476.8 419.3 477.3 419.4 477.8 419.4 478.3 419.5 478.8 419.5 479.3 419.6 479.8 419.6 480.3 419.7 480.8 419.7 481.3 419.8 481.8 419.8 482.3 419.8 482.8 419.9 483.3 419.9 483.8 420 484.3 420 484.8 420 485.3 420.1 485.8 420.1 486.3 420.1 486.8 420.2 487.3 420.2 487.8 420.2 488.3 420.3 488.8 420.3 489.3 420.3 489.8 420.4 490.3 420.4 490.8 420.4 491.3 420.4 491.8 420.5 492.3 420.5 492.8 420.5 493.3 420.6 493.8 420.6 494.3 420.6 494.8 420.7 495.3 420.7 495.8 420.7 496.3 420.8 496.8 420.8 497.3 420.8 497.8 420.9 498.3 420.9 498.8 420.9 499.3 421 499.8 421 500.3 421 500.8 421.1 501.3 421.1 501.8 421.1 502.3 421.2 502.8 421.2 503.3 421.2 503.8 421.3 504.3 421.3 504.8 421.3 505.3 421.4 505.8 421.4 506.3 421.4 506.8 421.5 507.3 421.5 507.8 421.5 508.3 421.6 508.8 421.6 509.3 421.6 509.8 421.7 510.3 421.7 510.8 421.7 511.3 421.8 511.8 421.8 512.3 421.8 512.8 421.9 513.3 421.9 513.8 421.9 514.3 422 514.8 422 515.3 422 515.8 422.1 516.3 422.1 516.8 422.1 517.3 422.2 517.8 422.2 518.3 422.2 518.8 422.2 519.3 422.3 519.8 422.3 520.3 422.3 520.8 422.4 521.3 422.4 521.8 422.4 522.3 422.5 522.8 422.5 523.3 422.5 523.8 422.6 524.3 422.6 524.8 422.6 525.3 422.6 525.8 422.7 526.3 422.7 526.8 422.7 527.3 422.8 527.8 422.8 528.3 422.8 528.8 422.8 529.3 422.9 529.8 422.9 530.3 422.9 530.8 423 531.3 423 531.8 423 532.3 423 532.8 423.1 533.3 423.1 533.8 423.1 534.3 423.1 534.8 423.2 535.3 423.2 535.8 423.2 536.3 423.2 536.8 423.3 537.3 423.3 537.8 423.3 538.3 423.3 538.8 423.4 539.3 423.4 539.8 423.4 540.3 423.4 540.8 423.5 541.3 423.5 541.8 423.5 542.3 423.5 542.8 423.6 543.3 423.6 543.8 423.6 544.3 423.6 544.8 423.7 545.3 423.7 545.8 423.7 546.3 423.7 546.8 423.7 547.3 423.8 547.8 423.8 548.3 423.8 548.8 423.8 549.3 423.9 549.8 423.9 550.3 423.9 550.8 423.9 551.3 423.9 551.8 424 552.3 424 552.8 424" stroke="#7a0403" stroke-width="2.8" fill="none" stroke-linejoin="round" /><path d="M403.3 421.8 403.8 421.6 404.3 421.3 404.8 421.1 405.3 420.8 405.8 420.6 406.3 420.4 406.8 420.1 407.3 419.9 407.8 419.7 408.3 419.4 408.8 419.2 409.3 419 409.8 418.8 410.3 418.5 410.8 418.3 411.3 418.1 411.8 417.9 412.3 417.7 412.8 417.5 413.3 417.3 413.8 417.1 414.3 416.9 414.8 416.7 415.3 416.5 415.8 416.4 416.3 416.2 416.8 416 417.3 415.8 417.8 415.7 418.3 415.5 418.8 415.4 419.3 415.2 419.8 415.1 420.3 414.9 420.8 414.8 421.3 414.6 421.8 414.5 422.3 414.3 422.8 414.1 423.3 414 423.8 413.8 424.3 413.7 424.8 413.5 425.3 413.4 425.8 413.2 426.3 413.1 426.8 412.9 427.3 412.8 427.8 412.7 428.3 412.6 428.8 412.5 429.3 412.4 429.8 412.3 430.3 412.2 430.8 412.1 431.3 412.1 431.8 412 432.3 412 432.8 412 433.3 412 433.8 412.2 434.3 412.6 434.8 413 435.3 413.6 435.8 414.3 436.3 415 436.8 415.8 437.3 416.7 437.8 417.6 438.3 418.5 438.8 419.5 439.3 420.4 439.8 421.2 440.3 422 440.8 422.8 441.3 423.4 441.8 424 442.3 424.4 442.8 424.7 443.3 424.9 443.8 424.8 444.3 424.5 444.8 424 445.3 423.2 445.8 422.3 446.3 421.3 446.8 420.1 447.3 419 447.8 417.8 448.3 416.7 448.8 415.6 449.3 414.7 449.8 413.9 450.3 413.3 450.8 412.9 451.3 412.8 451.8 412.8 452.3 412.9 452.8 413 453.3 413.2 453.8 413.4 454.3 413.6 454.8 413.8 455.3 414 455.8 414.3 456.3 414.5 456.8 414.8 457.3 415 457.8 415.3 458.3 415.5 458.8 415.7 459.3 415.9 459.8 416.1 460.3 416.2 460.8 416.3 461.3 416.5 461.8 416.6 462.3 416.7 462.8 416.9 463.3 417 463.8 417.1 464.3 417.2 464.8 417.3 465.3 417.5 465.8 417.6 466.3 417.7 466.8 417.8 467.3 417.9 467.8 418 468.3 418.1 468.8 418.2 469.3 418.4 469.8 418.5 470.3 418.6 470.8 418.7 471.3 418.7 471.8 418.8 472.3 418.9 472.8 419 473.3 419.1 473.8 419.2 474.3 419.3 474.8 419.3 475.3 419.4 475.8 419.5 476.3 419.6 476.8 419.6 477.3 419.7 477.8 419.8 478.3 419.8 478.8 419.9 479.3 419.9 479.8 420 480.3 420 480.8 420.1 481.3 420.1 481.8 420.2 482.3 420.2 482.8 420.3 483.3 420.3 483.8 420.4 484.3 420.4 484.8 420.5 485.3 420.5 485.8 420.5 486.3 420.6 486.8 420.6 487.3 420.7 487.8 420.7 488.3 420.8 488.8 420.8 489.3 420.9 489.8 420.9 490.3 420.9 490.8 421 491.3 421 491.8 421.1 492.3 421.1 492.8 421.2 493.3 421.2 493.8 421.2 494.3 421.3 494.8 421.3 495.3 421.4 495.8 421.4 496.3 421.4 496.8 421.5 497.3 421.5 497.8 421.6 498.3 421.6 498.8 421.6 499.3 421.7 499.8 421.7 500.3 421.8 500.8 421.8 501.3 421.8 501.8 421.9 502.3 421.9 502.8 422 503.3 422 503.8 422 504.3 422.1 504.8 422.1 505.3 422.1 505.8 422.2 506.3 422.2 506.8 422.2 507.3 422.3 507.8 422.3 508.3 422.4 508.8 422.4 509.3 422.4 509.8 422.5 510.3 422.5 510.8 422.5 511.3 422.6 511.8 422.6 512.3 422.6 512.8 422.6 513.3 422.7 513.8 422.7 514.3 422.7 514.8 422.8 515.3 422.8 515.8 422.8 516.3 422.9 516.8 422.9 517.3 422.9 517.8 422.9 518.3 423 518.8 423 519.3 423 519.8 423.1 520.3 423.1 520.8 423.1 521.3 423.1 521.8 423.2 522.3 423.2 522.8 423.2 523.3 423.2 523.8 423.3 524.3 423.3 524.8 423.3 525.3 423.3 525.8 423.4 526.3 423.4 526.8 423.4 527.3 423.4 527.8 423.4 528.3 423.5 528.8 423.5 529.3 423.5 529.8 423.5 530.3 423.5 530.8 423.6 531.3 423.6 531.8 423.6 532.3 423.6 532.8 423.6 533.3 423.7 533.8 423.7 534.3 423.7 534.8 423.7 535.3 423.7 535.8 423.7 536.3 423.7 536.8 423.8 537.3 423.8 537.8 423.8 538.3 423.8 538.8 423.8 539.3 423.8 539.8 423.8 540.3 423.9 540.8 423.9 541.3 423.9 541.8 423.9 542.3 423.9 542.8 423.9 543.3 423.9 543.8 423.9 544.3 423.9 544.8 423.9 545.3 423.9 545.8 424 546.3 424 546.8 424 547.3 424 547.8 424 548.3 424 548.8 424 549.3 424 549.8 424 550.3 424 550.8 424 551.3 424 551.8 424 552.3 424 552.8 424" stroke="#f05b12" stroke-width="2.8" fill="none" stroke-linejoin="round" /><path d="M403.3 422 403.8 422 404.3 421.9 404.8 421.9 405.3 421.8 405.8 421.8 406.3 421.7 406.8 421.7 407.3 421.6 407.8 421.5 408.3 421.4 408.8 421.3 409.3 421.2 409.8 421.1 410.3 421.1 410.8 420.9 411.3 420.8 411.8 420.7 412.3 420.6 412.8 420.5 413.3 420.4 413.8 420.3 414.3 420.2 414.8 420 415.3 419.9 415.8 419.8 416.3 419.6 416.8 419.4 417.3 419.1 417.8 418.9 418.3 418.6 418.8 418.4 419.3 418.1 419.8 417.8 420.3 417.5 420.8 417.3 421.3 417 421.8 416.8 422.3 416.6 422.8 416.4 423.3 416.3 423.8 416.1 424.3 416 424.8 416 425.3 416 425.8 416 426.3 416.1 426.8 416.2 427.3 416.3 427.8 416.4 428.3 416.6 428.8 416.7 429.3 416.9 429.8 417.1 430.3 417.2 430.8 417.4 431.3 417.5 431.8 417.7 432.3 417.8 432.8 417.8 433.3 417.8 433.8 417.8 434.3 417.7 434.8 417.5 435.3 417.1 435.8 416.7 436.3 416.2 436.8 415.5 437.3 414.6 437.8 413.6 438.3 412.4 438.8 410.9 439.3 409.1 439.8 407.2 440.3 405 440.8 402.6 441.3 400 441.8 397.3 442.3 394.6 442.8 391.8 443.3 389.2 443.8 386.8 444.3 384.6 444.8 382.8 445.3 381.4 445.8 380.5 446.3 380.1 446.8 380.3 447.3 381 447.8 382.2 448.3 383.8 448.8 385.9 449.3 388.2 449.8 390.8 450.3 393.5 450.8 396.2 451.3 399 451.8 401.6 452.3 404.1 452.8 406.3 453.3 408.4 453.8 410.2 454.3 411.8 454.8 413.1 455.3 414.3 455.8 415.2 456.3 415.9 456.8 416.5 457.3 417 457.8 417.3 458.3 417.6 458.8 417.8 459.3 418 459.8 418.3 460.3 418.5 460.8 418.9 461.3 419.2 461.8 419.5 462.3 419.8 462.8 420.1 463.3 420.3 463.8 420.4 464.3 420.5 464.8 420.5 465.3 420.5 465.8 420.4 466.3 420.4 466.8 420.3 467.3 420.3 467.8 420.2 468.3 420.1 468.8 420 469.3 419.9 469.8 419.8 470.3 419.7 470.8 419.6 471.3 419.5 471.8 419.3 472.3 419.2 472.8 419.1 473.3 419 473.8 418.9 474.3 418.7 474.8 418.6 475.3 418.5 475.8 418.4 476.3 418.4 476.8 418.3 477.3 418.2 477.8 418.1 478.3 418.1 478.8 418 479.3 418 479.8 418 480.3 418 480.8 418 481.3 418 481.8 418.1 482.3 418.1 482.8 418.1 483.3 418.2 483.8 418.2 484.3 418.3 484.8 418.3 485.3 418.4 485.8 418.5 486.3 418.6 486.8 418.6 487.3 418.7 487.8 418.8 488.3 418.9 488.8 419 489.3 419.1 489.8 419.2 490.3 419.4 490.8 419.5 491.3 419.6 491.8 419.7 492.3 419.8 492.8 420 493.3 420.1 493.8 420.2 494.3 420.3 494.8 420.5 495.3 420.6 495.8 420.7 496.3 420.9 496.8 421 497.3 421.1 497.8 421.3 498.3 421.4 498.8 421.5 499.3 421.7 499.8 421.8 500.3 421.9 500.8 422 501.3 422.2 501.8 422.3 502.3 422.4 502.8 422.5 503.3 422.6 503.8 422.7 504.3 422.8 504.8 422.9 505.3 423 505.8 423.1 506.3 423.2 506.8 423.3 507.3 423.4 507.8 423.4 508.3 423.5 508.8 423.6 509.3 423.6 509.8 423.7 510.3 423.7 510.8 423.7 511.3 423.8 511.8 423.8 512.3 423.8 512.8 423.8 513.3 423.8 513.8 423.8 514.3 423.8 514.8 423.8 515.3 423.8 515.8 423.8 516.3 423.8 516.8 423.8 517.3 423.8 517.8 423.8 518.3 423.9 518.8 423.9 519.3 423.9 519.8 423.9 520.3 423.9 520.8 423.9 521.3 423.9 521.8 423.9 522.3 423.9 522.8 423.9 523.3 423.9 523.8 423.9 524.3 423.9 524.8 423.9 525.3 423.9 525.8 423.9 526.3 423.9 526.8 423.9 527.3 423.9 527.8 423.9 528.3 423.9 528.8 423.9 529.3 423.9 529.8 423.9 530.3 423.9 530.8 423.9 531.3 423.9 531.8 423.9 532.3 423.9 532.8 424 533.3 424 533.8 424 534.3 424 534.8 424 535.3 424 535.8 424 536.3 424 536.8 424 537.3 424 537.8 424 538.3 424 538.8 424 539.3 424 539.8 424 540.3 424 540.8 424 541.3 424 541.8 424 542.3 424 542.8 424 543.3 424 543.8 424 544.3 424 544.8 424 545.3 424 545.8 424 546.3 424 546.8 424 547.3 424 547.8 424 548.3 424 548.8 424 549.3 424 549.8 424 550.3 424 550.8 424 551.3 424 551.8 424 552.3 424 552.8 424" stroke="#e1dd37" stroke-width="2.8" fill="none" stroke-linejoin="round" /><path d="M403.3 418.9 403.8 418.8 404.3 418.7 404.8 418.5 405.3 418.3 405.8 418 406.3 417.6 406.8 417.1 407.3 416.5 407.8 415.8 408.3 415 408.8 414.1 409.3 413.2 409.8 412.2 410.3 411.2 410.8 410.1 411.3 409 411.8 407.9 412.3 406.8 412.8 405.6 413.3 404.5 413.8 403.4 414.3 402.3 414.8 401.2 415.3 400.2 415.8 399.2 416.3 398.3 416.8 397.5 417.3 396.7 417.8 396 418.3 395.5 418.8 395 419.3 394.6 419.8 394.3 420.3 394.2 420.8 394.7 421.3 396.5 421.8 399.7 422.3 403.7 422.8 408.1 423.3 412.4 423.8 416.2 424.3 418.8 424.8 419.9 425.3 419.7 425.8 419.1 426.3 418.2 426.8 417.1 427.3 416 427.8 414.8 428.3 413.6 428.8 412.1 429.3 410.3 429.8 408 430.3 405.2 430.8 401.8 431.3 397.9 431.8 393.5 432.3 388.6 432.8 383.2 433.3 377.5 433.8 371.5 434.3 365.4 434.8 359.5 435.3 353.7 435.8 348.2 436.3 343.1 436.8 338.5 437.3 334.4 437.8 330.8 438.3 327.5 438.8 324.6 439.3 322 439.8 319.5 440.3 317.2 440.8 314.8 441.3 312.5 441.8 310.2 442.3 308 442.8 305.9 443.3 304 443.8 302.4 444.3 301.2 444.8 300.4 445.3 300.2 445.8 300.7 446.3 301.8 446.8 303.6 447.3 306 447.8 309.1 448.3 312.9 448.8 317.1 449.3 321.9 449.8 327 450.3 332.5 450.8 338.2 451.3 344 451.8 349.9 452.3 355.7 452.8 361.4 453.3 367 453.8 372.3 454.3 377.4 454.8 382.1 455.3 386.6 455.8 391 456.3 395.3 456.8 399.3 457.3 403 457.8 406.3 458.3 409 458.8 411.2 459.3 412.7 459.8 413.6 460.3 413.7 460.8 413.4 461.3 412.6 461.8 411.6 462.3 410.2 462.8 408.7 463.3 407.1 463.8 405.5 464.3 404 464.8 402.7 465.3 401.6 465.8 400.9 466.3 400.6 466.8 400.7 467.3 401.1 467.8 401.8 468.3 402.7 468.8 403.9 469.3 405.2 469.8 406.7 470.3 408.2 470.8 409.8 471.3 411.4 471.8 412.9 472.3 414.4 472.8 415.7 473.3 416.9 473.8 418 474.3 418.7 474.8 419.2 475.3 419.4 475.8 419.4 476.3 419.3 476.8 419.2 477.3 419.1 477.8 418.9 478.3 418.7 478.8 418.5 479.3 418.2 479.8 418 480.3 417.7 480.8 417.4 481.3 417 481.8 416.7 482.3 416.3 482.8 416 483.3 415.6 483.8 415.2 484.3 414.9 484.8 414.5 485.3 414.1 485.8 413.8 486.3 413.4 486.8 413.1 487.3 412.7 487.8 412.4 488.3 412.1 488.8 411.9 489.3 411.6 489.8 411.4 490.3 411.2 490.8 411 491.3 410.9 491.8 410.8 492.3 410.7 492.8 410.7 493.3 410.8 493.8 411 494.3 411.3 494.8 411.8 495.3 412.3 495.8 412.9 496.3 413.6 496.8 414.4 497.3 415.1 497.8 416 498.3 416.8 498.8 417.6 499.3 418.4 499.8 419.2 500.3 419.9 500.8 420.6 501.3 421.2 501.8 421.7 502.3 422.2 502.8 422.5 503.3 422.6 503.8 422.7 504.3 422.7 504.8 422.6 505.3 422.4 505.8 422.3 506.3 422 506.8 421.8 507.3 421.5 507.8 421.2 508.3 420.9 508.8 420.5 509.3 420.1 509.8 419.8 510.3 419.4 510.8 419 511.3 418.7 511.8 418.3 512.3 417.9 512.8 417.6 513.3 417.3 513.8 417 514.3 416.8 514.8 416.6 515.3 416.4 515.8 416.2 516.3 416.1 516.8 416.1 517.3 416.1 517.8 416.2 518.3 416.3 518.8 416.4 519.3 416.6 519.8 416.8 520.3 417.1 520.8 417.4 521.3 417.7 521.8 418 522.3 418.3 522.8 418.6 523.3 418.9 523.8 419.3 524.3 419.6 524.8 419.9 525.3 420.3 525.8 420.6 526.3 420.9 526.8 421.1 527.3 421.3 527.8 421.6 528.3 421.7 528.8 421.9 529.3 421.9 529.8 422 530.3 422 530.8 422 531.3 422 531.8 422 532.3 422 532.8 422 533.3 422 533.8 422 534.3 422 534.8 422 535.3 422 535.8 422 536.3 422 536.8 422 537.3 422 537.8 422 538.3 422 538.8 422 539.3 422 539.8 422 540.3 422 540.8 422 541.3 422 541.8 422 542.3 422 542.8 422 543.3 422 543.8 422 544.3 422 544.8 422 545.3 422 545.8 422 546.3 422 546.8 422 547.3 422 547.8 422 548.3 422 548.8 422 549.3 422 549.8 422 550.3 422 550.8 422 551.3 422 551.8 422 552.3 422 552.8 422" stroke="#46f884" stroke-width="2.8" fill="none" stroke-linejoin="round" /><path d="M403.3 422.8 403.8 422.4 404.3 422 404.8 421.6 405.3 421.3 405.8 421 406.3 420.7 406.8 420.4 407.3 420.1 407.8 419.9 408.3 419.6 408.8 419.4 409.3 419.2 409.8 419 410.3 418.9 410.8 418.7 411.3 418.6 411.8 418.5 412.3 418.4 412.8 418.4 413.3 418.3 413.8 418.3 414.3 418.3 414.8 418.4 415.3 418.4 415.8 418.5 416.3 418.7 416.8 418.8 417.3 419 417.8 419.2 418.3 419.4 418.8 419.6 419.3 419.8 419.8 419.9 420.3 420.1 420.8 420.2 421.3 420.3 421.8 420.4 422.3 420.5 422.8 420.5 423.3 420.4 423.8 420.1 424.3 419.7 424.8 419.2 425.3 418.6 425.8 418 426.3 417.4 426.8 416.8 427.3 416.2 427.8 415.7 428.3 415.3 428.8 415.1 429.3 415 429.8 415 430.3 415.1 430.8 415.2 431.3 415.3 431.8 415.4 432.3 415.5 432.8 415.7 433.3 415.8 433.8 415.9 434.3 416 434.8 416 435.3 415.9 435.8 415.7 436.3 415.3 436.8 414.7 437.3 413.7 437.8 412.3 438.3 410.4 438.8 407.9 439.3 404.6 439.8 400.5 440.3 395.5 440.8 389.4 441.3 382.3 441.8 374.1 442.3 365 442.8 355 443.3 344.4 443.8 333.4 444.3 322.3 444.8 311.5 445.3 301.4 445.8 292.4 446.3 285 446.8 279.4 447.3 276 447.8 274.8 448.3 276 448.8 279.4 449.3 285 449.8 292.4 450.3 301.4 450.8 311.5 451.3 322.3 451.8 333.4 452.3 344.4 452.8 355 453.3 365 453.8 374.1 454.3 382.3 454.8 389.4 455.3 395.5 455.8 400.5 456.3 404.7 456.8 408 457.3 410.6 457.8 412.7 458.3 414.1 458.8 414.7 459.3 414.7 459.8 414.2 460.3 413.3 460.8 412.1 461.3 410.8 461.8 409.4 462.3 408.1 462.8 407 463.3 406 463.8 405.4 464.3 405.2 464.8 405.5 465.3 406.4 465.8 407.6 466.3 409.3 466.8 411.2 467.3 413.2 467.8 415.3 468.3 417.4 468.8 419.3 469.3 421 469.8 422.4 470.3 423.3 470.8 423.7 471.3 423.8 471.8 423.7 472.3 423.6 472.8 423.4 473.3 423.2 473.8 423 474.3 422.7 474.8 422.4 475.3 422 475.8 421.7 476.3 421.3 476.8 420.9 477.3 420.5 477.8 420 478.3 419.6 478.8 419.2 479.3 418.8 479.8 418.3 480.3 417.9 480.8 417.5 481.3 417.1 481.8 416.8 482.3 416.4 482.8 416.1 483.3 415.8 483.8 415.6 484.3 415.4 484.8 415.2 485.3 415.1 485.8 415 486.3 415 486.8 415.1 487.3 415.2 487.8 415.4 488.3 415.6 488.8 415.9 489.3 416.3 489.8 416.6 490.3 417 490.8 417.5 491.3 417.9 491.8 418.3 492.3 418.8 492.8 419.2 493.3 419.6 493.8 420 494.3 420.4 494.8 420.7 495.3 421 495.8 421.3 496.3 421.4 496.8 421.6 497.3 421.6 497.8 421.6 498.3 421.6 498.8 421.7 499.3 421.7 499.8 421.7 500.3 421.7 500.8 421.7 501.3 421.7 501.8 421.7 502.3 421.7 502.8 421.8 503.3 421.8 503.8 421.8 504.3 421.8 504.8 421.8 505.3 421.8 505.8 421.8 506.3 421.8 506.8 421.8 507.3 421.8 507.8 421.8 508.3 421.8 508.8 421.8 509.3 421.9 509.8 421.9 510.3 421.9 510.8 421.9 511.3 421.9 511.8 421.9 512.3 421.9 512.8 421.9 513.3 421.9 513.8 421.9 514.3 421.9 514.8 421.9 515.3 421.9 515.8 421.9 516.3 421.9 516.8 421.9 517.3 421.9 517.8 422 518.3 422 518.8 422 519.3 422 519.8 422 520.3 422 520.8 422 521.3 422 521.8 422 522.3 422.1 522.8 422.1 523.3 422.1 523.8 422.1 524.3 422.1 524.8 422.1 525.3 422.1 525.8 422.1 526.3 422.1 526.8 422.2 527.3 422.2 527.8 422.2 528.3 422.2 528.8 422.2 529.3 422.2 529.8 422.2 530.3 422.3 530.8 422.3 531.3 422.3 531.8 422.3 532.3 422.3 532.8 422.3 533.3 422.3 533.8 422.4 534.3 422.4 534.8 422.4 535.3 422.4 535.8 422.4 536.3 422.4 536.8 422.4 537.3 422.5 537.8 422.5 538.3 422.5 538.8 422.5 539.3 422.5 539.8 422.5 540.3 422.6 540.8 422.6 541.3 422.6 541.8 422.6 542.3 422.6 542.8 422.6 543.3 422.7 543.8 422.7 544.3 422.7 544.8 422.7 545.3 422.7 545.8 422.7 546.3 422.8 546.8 422.8 547.3 422.8 547.8 422.8 548.3 422.8 548.8 422.8 549.3 422.9 549.8 422.9 550.3 422.9 550.8 422.9 551.3 422.9 551.8 423 552.3 423 552.8 423" stroke="#3e9bfe" stroke-width="2.8" fill="none" stroke-linejoin="round" /><path d="M403.3 423 403.8 423 404.3 422.9 404.8 422.8 405.3 422.7 405.8 422.6 406.3 422.4 406.8 422.1 407.3 421.7 407.8 421.3 408.3 420.9 408.8 420.4 409.3 419.9 409.8 419.3 410.3 418.7 410.8 418 411.3 417.4 411.8 416.7 412.3 416 412.8 415.3 413.3 414.6 413.8 413.9 414.3 413.1 414.8 412.4 415.3 411.8 415.8 411.1 416.3 410.4 416.8 409.7 417.3 408.9 417.8 408 418.3 407 418.8 406.1 419.3 405.1 419.8 404.1 420.3 403.1 420.8 402.1 421.3 401.2 421.8 400.4 422.3 399.6 422.8 398.9 423.3 398.4 423.8 397.9 424.3 397.6 424.8 397.5 425.3 397.6 425.8 397.8 426.3 398.2 426.8 398.8 427.3 399.5 427.8 400.2 428.3 401.1 428.8 401.9 429.3 402.7 429.8 403.6 430.3 404.3 430.8 404.9 431.3 405.4 431.8 405.7 432.3 405.7 432.8 405.4 433.3 404.9 433.8 404.1 434.3 403 434.8 401.5 435.3 399.6 435.8 397.1 436.3 394.1 436.8 390.3 437.3 385.8 437.8 380.6 438.3 374.5 438.8 367.5 439.3 359.7 439.8 351.1 440.3 341.7 440.8 331.8 441.3 321.4 441.8 310.8 442.3 300.2 442.8 289.8 443.3 280 443.8 271.1 444.3 263.2 444.8 256.8 445.3 252 445.8 248.9 446.3 247.8 446.8 248.6 447.3 251.3 447.8 255.9 448.3 262.1 448.8 269.8 449.3 278.8 449.8 288.7 450.3 299.3 450.8 310.3 451.3 321.4 451.8 332.4 452.3 343 452.8 353.1 453.3 362.5 453.8 371.1 454.3 378.8 454.8 385.8 455.3 391.9 455.8 397.3 456.3 402.1 456.8 406.2 457.3 409.6 457.8 412.4 458.3 414.6 458.8 416.1 459.3 416.9 459.8 416.8 460.3 415.9 460.8 414.6 461.3 412.9 461.8 411 462.3 409.1 462.8 407.3 463.3 405.7 463.8 404.6 464.3 404 464.8 404 465.3 404.1 465.8 404.3 466.3 404.6 466.8 404.9 467.3 405.3 467.8 405.8 468.3 406.3 468.8 406.8 469.3 407.4 469.8 408 470.3 408.6 470.8 409.2 471.3 409.8 471.8 410.3 472.3 410.9 472.8 411.4 473.3 411.9 473.8 412.4 474.3 413.1 474.8 413.7 475.3 414.4 475.8 415.1 476.3 415.7 476.8 416.3 477.3 416.9 477.8 417.4 478.3 417.8 478.8 418.1 479.3 418.3 479.8 418.3 480.3 418.3 480.8 418.2 481.3 418.1 481.8 417.9 482.3 417.8 482.8 417.6 483.3 417.4 483.8 417.2 484.3 416.9 484.8 416.7 485.3 416.5 485.8 416.3 486.3 416 486.8 415.8 487.3 415.6 487.8 415.4 488.3 415.3 488.8 415.1 489.3 415 489.8 415 490.3 414.9 490.8 414.8 491.3 414.7 491.8 414.7 492.3 414.6 492.8 414.5 493.3 414.5 493.8 414.4 494.3 414.4 494.8 414.3 495.3 414.3 495.8 414.2 496.3 414.2 496.8 414.1 497.3 414.1 497.8 414 498.3 414 498.8 414 499.3 413.9 499.8 413.9 500.3 413.9 500.8 413.9 501.3 413.9 501.8 413.9 502.3 414 502.8 414.1 503.3 414.2 503.8 414.4 504.3 414.6 504.8 414.8 505.3 415.1 505.8 415.4 506.3 415.7 506.8 416 507.3 416.4 507.8 416.7 508.3 417.1 508.8 417.5 509.3 417.8 509.8 418.2 510.3 418.6 510.8 418.9 511.3 419.3 511.8 419.6 512.3 419.9 512.8 420.3 513.3 420.5 513.8 420.8 514.3 421 514.8 421.2 515.3 421.4 515.8 421.5 516.3 421.6 516.8 421.6 517.3 421.6 517.8 421.5 518.3 421.3 518.8 421.1 519.3 420.8 519.8 420.5 520.3 420.1 520.8 419.7 521.3 419.3 521.8 418.8 522.3 418.3 522.8 417.9 523.3 417.4 523.8 416.8 524.3 416.3 524.8 415.9 525.3 415.4 525.8 414.9 526.3 414.5 526.8 414.1 527.3 413.8 527.8 413.5 528.3 413.2 528.8 413 529.3 412.9 529.8 412.8 530.3 412.8 530.8 412.9 531.3 413 531.8 413.1 532.3 413.3 532.8 413.6 533.3 413.8 533.8 414.1 534.3 414.5 534.8 414.8 535.3 415.2 535.8 415.5 536.3 415.9 536.8 416.3 537.3 416.7 537.8 417 538.3 417.4 538.8 417.7 539.3 418.1 539.8 418.4 540.3 418.6 540.8 418.9 541.3 419.1 541.8 419.2 542.3 419.3 542.8 419.4 543.3 419.4 543.8 419.4 544.3 419.4 544.8 419.4 545.3 419.4 545.8 419.4 546.3 419.4 546.8 419.4 547.3 419.4 547.8 419.4 548.3 419.4 548.8 419.4 549.3 419.4 549.8 419.4 550.3 419.4 550.8 419.4 551.3 419.4 551.8 419.4 552.3 419.4 552.8 419.4" stroke="#38237f" stroke-width="3.0" fill="none" stroke-linejoin="round" /></g>
<clipPath id="c21"><rect x="405.3" y="474.4" width="145.5" height="196.8"/></clipPath>
<g clip-path="url(#c21)"><path d="M403.3 661 403.8 661 404.3 661 404.8 661 405.3 661 405.8 661 406.3 661 406.8 661 407.3 660.9 407.8 660.9 408.3 660.9 408.8 660.9 409.3 660.9 409.8 660.9 410.3 660.9 410.8 660.8 411.3 660.8 411.8 660.8 412.3 660.8 412.8 660.7 413.3 660.7 413.8 660.7 414.3 660.7 414.8 660.6 415.3 660.6 415.8 660.6 416.3 660.6 416.8 660.5 417.3 660.5 417.8 660.5 418.3 660.4 418.8 660.4 419.3 660.4 419.8 660.4 420.3 660.3 420.8 660.3 421.3 660.3 421.8 660.2 422.3 660.2 422.8 660.2 423.3 660.1 423.8 660.1 424.3 660 424.8 660 425.3 660 425.8 659.9 426.3 659.9 426.8 659.8 427.3 659.8 427.8 659.7 428.3 659.6 428.8 659.6 429.3 659.5 429.8 659.4 430.3 659.3 430.8 659.2 431.3 659.1 431.8 659 432.3 659 432.8 658.9 433.3 658.8 433.8 658.7 434.3 658.6 434.8 658.5 435.3 658.4 435.8 658.3 436.3 658.2 436.8 658.2 437.3 658.1 437.8 658 438.3 657.9 438.8 657.9 439.3 657.8 439.8 657.8 440.3 657.7 440.8 657.7 441.3 657.6 441.8 657.6 442.3 657.6 442.8 657.6 443.3 657.6 443.8 657.6 444.3 657.7 444.8 657.7 445.3 657.8 445.8 657.9 446.3 658 446.8 658.1 447.3 658.2 447.8 658.3 448.3 658.4 448.8 658.5 449.3 658.7 449.8 658.8 450.3 659 450.8 659.1 451.3 659.3 451.8 659.4 452.3 659.6 452.8 659.7 453.3 659.8 453.8 660 454.3 660.1 454.8 660.2 455.3 660.4 455.8 660.5 456.3 660.6 456.8 660.7 457.3 660.8 457.8 660.8 458.3 660.9 458.8 661 459.3 661 459.8 661 460.3 661 460.8 661 461.3 661 461.8 661 462.3 661 462.8 661 463.3 661 463.8 661 464.3 661 464.8 661 465.3 661 465.8 661 466.3 661 466.8 661 467.3 661 467.8 661 468.3 661 468.8 661 469.3 661 469.8 661 470.3 661 470.8 661 471.3 661 471.8 661 472.3 661 472.8 661 473.3 661 473.8 661 474.3 661 474.8 661 475.3 661 475.8 661 476.3 661 476.8 661 477.3 661 477.8 661 478.3 661 478.8 661 479.3 661 479.8 661 480.3 661 480.8 661 481.3 661 481.8 661 482.3 661 482.8 661 483.3 661 483.8 661 484.3 661 484.8 661 485.3 661 485.8 661 486.3 661 486.8 661 487.3 661 487.8 661 488.3 661 488.8 661 489.3 661 489.8 661 490.3 661 490.8 661 491.3 661 491.8 661 492.3 661 492.8 661 493.3 661 493.8 661 494.3 661 494.8 661 495.3 661 495.8 661 496.3 661 496.8 661 497.3 661 497.8 661 498.3 661 498.8 661 499.3 661 499.8 661 500.3 661 500.8 661 501.3 661 501.8 661 502.3 661 502.8 661 503.3 661 503.8 661 504.3 661 504.8 661 505.3 661 505.8 661 506.3 661 506.8 661 507.3 661 507.8 661 508.3 661 508.8 661 509.3 661 509.8 661 510.3 661 510.8 661 511.3 661 511.8 661 512.3 661 512.8 661 513.3 661 513.8 661 514.3 661 514.8 661 515.3 661 515.8 661 516.3 661 516.8 661 517.3 661 517.8 661 518.3 661 518.8 661 519.3 661 519.8 661 520.3 661 520.8 661 521.3 661 521.8 661 522.3 661 522.8 661 523.3 661 523.8 661 524.3 661 524.8 661 525.3 661 525.8 661 526.3 661 526.8 661 527.3 661 527.8 661 528.3 661 528.8 661 529.3 661 529.8 661 530.3 661 530.8 661 531.3 661 531.8 661 532.3 661 532.8 661 533.3 661 533.8 661 534.3 661 534.8 661 535.3 661 535.8 661 536.3 661 536.8 661 537.3 661 537.8 661 538.3 661 538.8 661 539.3 661 539.8 661 540.3 661 540.8 661 541.3 661 541.8 661 542.3 661 542.8 661 543.3 661 543.8 661 544.3 661 544.8 661 545.3 661 545.8 661 546.3 661 546.8 661 547.3 661 547.8 661 548.3 661 548.8 661 549.3 661 549.8 661 550.3 661 550.8 661 551.3 661 551.8 661 552.3 661 552.8 661" stroke="#7a0403" stroke-width="2.8" fill="none" stroke-linejoin="round" /><path d="M403.3 661 403.8 660.9 404.3 660.9 404.8 660.9 405.3 660.8 405.8 660.8 406.3 660.7 406.8 660.7 407.3 660.7 407.8 660.6 408.3 660.6 408.8 660.5 409.3 660.5 409.8 660.5 410.3 660.4 410.8 660.4 411.3 660.4 411.8 660.3 412.3 660.3 412.8 660.3 413.3 660.2 413.8 660.2 414.3 660.2 414.8 660.1 415.3 660.1 415.8 660.1 416.3 660.1 416.8 660.1 417.3 660 417.8 660 418.3 660 418.8 660 419.3 660 419.8 660 420.3 660 420.8 660 421.3 660 421.8 660 422.3 660 422.8 660 423.3 660 423.8 660 424.3 660 424.8 660 425.3 660 425.8 660 426.3 659.9 426.8 659.9 427.3 659.9 427.8 659.9 428.3 659.8 428.8 659.8 429.3 659.7 429.8 659.7 430.3 659.6 430.8 659.5 431.3 659.3 431.8 659.2 432.3 659 432.8 658.7 433.3 658.5 433.8 658.1 434.3 657.7 434.8 657.3 435.3 656.7 435.8 656.1 436.3 655.3 436.8 654.5 437.3 653.5 437.8 652.4 438.3 651.1 438.8 649.7 439.3 648.1 439.8 646.4 440.3 644.4 440.8 642.3 441.3 640 441.8 637.6 442.3 634.9 442.8 632.1 443.3 629.1 443.8 626 444.3 622.7 444.8 619.4 445.3 615.9 445.8 612.5 446.3 609 446.8 605.5 447.3 602.1 447.8 598.8 448.3 595.6 448.8 592.6 449.3 589.8 449.8 587.3 450.3 585.1 450.8 583.2 451.3 581.6 451.8 580.5 452.3 579.7 452.8 579.3 453.3 579.4 453.8 579.8 454.3 580.7 454.8 581.9 455.3 583.5 455.8 585.5 456.3 587.8 456.8 590.4 457.3 593.2 457.8 596.2 458.3 599.4 458.8 602.7 459.3 606.2 459.8 609.7 460.3 613.1 460.8 616.6 461.3 620 461.8 623.4 462.3 626.6 462.8 629.7 463.3 632.7 463.8 635.5 464.3 638.1 464.8 640.5 465.3 642.7 465.8 644.7 466.3 646.4 466.8 647.9 467.3 649.2 467.8 650.2 468.3 651.1 468.8 651.7 469.3 652.3 469.8 652.6 470.3 652.9 470.8 653.1 471.3 653.2 471.8 653.3 472.3 653.3 472.8 653.3 473.3 653.3 473.8 653.3 474.3 653.3 474.8 653.4 475.3 653.5 475.8 653.6 476.3 653.8 476.8 653.9 477.3 654.1 477.8 654.2 478.3 654.4 478.8 654.6 479.3 654.7 479.8 654.9 480.3 655.1 480.8 655.3 481.3 655.5 481.8 655.7 482.3 655.9 482.8 656.1 483.3 656.3 483.8 656.5 484.3 656.7 484.8 656.9 485.3 657.1 485.8 657.2 486.3 657.4 486.8 657.5 487.3 657.7 487.8 657.8 488.3 657.9 488.8 657.9 489.3 658 489.8 658 490.3 658 490.8 658 491.3 657.9 491.8 657.8 492.3 657.7 492.8 657.6 493.3 657.4 493.8 657.3 494.3 657.1 494.8 656.9 495.3 656.6 495.8 656.4 496.3 656.1 496.8 655.9 497.3 655.6 497.8 655.3 498.3 655 498.8 654.6 499.3 654.3 499.8 654 500.3 653.6 500.8 653.3 501.3 652.9 501.8 652.5 502.3 652.2 502.8 651.8 503.3 651.5 503.8 651.1 504.3 650.7 504.8 650.4 505.3 650 505.8 649.7 506.3 649.3 506.8 649 507.3 648.7 507.8 648.4 508.3 648.1 508.8 647.8 509.3 647.5 509.8 647.2 510.3 647 510.8 646.7 511.3 646.5 511.8 646.3 512.3 646.1 512.8 646 513.3 645.8 513.8 645.7 514.3 645.6 514.8 645.6 515.3 645.5 515.8 645.5 516.3 645.5 516.8 645.6 517.3 645.7 517.8 645.8 518.3 645.9 518.8 646.1 519.3 646.3 519.8 646.5 520.3 646.7 520.8 647 521.3 647.2 521.8 647.5 522.3 647.8 522.8 648.2 523.3 648.5 523.8 648.8 524.3 649.2 524.8 649.6 525.3 649.9 525.8 650.3 526.3 650.7 526.8 651 527.3 651.4 527.8 651.8 528.3 652.2 528.8 652.5 529.3 652.9 529.8 653.2 530.3 653.6 530.8 653.9 531.3 654.2 531.8 654.5 532.3 654.8 532.8 655.1 533.3 655.3 533.8 655.6 534.3 655.8 534.8 655.9 535.3 656.1 535.8 656.3 536.3 656.4 536.8 656.6 537.3 656.7 537.8 656.9 538.3 657 538.8 657.2 539.3 657.3 539.8 657.5 540.3 657.6 540.8 657.7 541.3 657.9 541.8 658 542.3 658.1 542.8 658.3 543.3 658.4 543.8 658.5 544.3 658.6 544.8 658.7 545.3 658.9 545.8 659 546.3 659.1 546.8 659.2 547.3 659.3 547.8 659.4 548.3 659.4 548.8 659.5 549.3 659.6 549.8 659.7 550.3 659.7 550.8 659.8 551.3 659.9 551.8 659.9 552.3 659.9 552.8 660" stroke="#e4450a" stroke-width="2.8" fill="none" stroke-linejoin="round" /><path d="M403.3 661 403.8 660.9 404.3 660.9 404.8 660.9 405.3 660.8 405.8 660.8 406.3 660.7 406.8 660.7 407.3 660.7 407.8 660.6 408.3 660.6 408.8 660.5 409.3 660.5 409.8 660.5 410.3 660.4 410.8 660.4 411.3 660.4 411.8 660.3 412.3 660.3 412.8 660.3 413.3 660.2 413.8 660.2 414.3 660.2 414.8 660.1 415.3 660.1 415.8 660.1 416.3 660.1 416.8 660.1 417.3 660 417.8 660 418.3 660 418.8 660 419.3 660 419.8 660 420.3 660 420.8 660 421.3 660 421.8 660 422.3 660 422.8 660 423.3 660 423.8 660 424.3 660 424.8 660 425.3 660 425.8 660 426.3 660 426.8 659.9 427.3 659.9 427.8 659.9 428.3 659.9 428.8 659.8 429.3 659.8 429.8 659.7 430.3 659.7 430.8 659.6 431.3 659.5 431.8 659.3 432.3 659.2 432.8 659 433.3 658.7 433.8 658.4 434.3 658.1 434.8 657.6 435.3 657.2 435.8 656.6 436.3 655.9 436.8 655.1 437.3 654.2 437.8 653.2 438.3 652 438.8 650.6 439.3 649.1 439.8 647.5 440.3 645.6 440.8 643.5 441.3 641.2 441.8 638.8 442.3 636.1 442.8 633.2 443.3 630.1 443.8 626.9 444.3 623.4 444.8 619.8 445.3 616.1 445.8 612.3 446.3 608.5 446.8 604.6 447.3 600.7 447.8 596.8 448.3 593.1 448.8 589.5 449.3 586.1 449.8 582.9 450.3 579.9 450.8 577.3 451.3 575 451.8 573.2 452.3 571.7 452.8 570.6 453.3 570 453.8 569.9 454.3 570.2 454.8 571 455.3 572.2 455.8 573.9 456.3 575.9 456.8 578.3 457.3 581.1 457.8 584.1 458.3 587.4 458.8 590.9 459.3 594.6 459.8 598.4 460.3 602.2 460.8 606.1 461.3 610 461.8 613.9 462.3 617.6 462.8 621.3 463.3 624.8 463.8 628.2 464.3 631.4 464.8 634.4 465.3 637.1 465.8 639.6 466.3 641.8 466.8 643.7 467.3 645.3 467.8 646.6 468.3 647.7 468.8 648.6 469.3 649.3 469.8 649.8 470.3 650.2 470.8 650.5 471.3 650.7 471.8 650.7 472.3 650.8 472.8 650.8 473.3 650.8 473.8 650.9 474.3 650.9 474.8 651.1 475.3 651.2 475.8 651.4 476.3 651.6 476.8 651.8 477.3 652 477.8 652.2 478.3 652.4 478.8 652.7 479.3 652.9 479.8 653.1 480.3 653.4 480.8 653.6 481.3 653.9 481.8 654.1 482.3 654.4 482.8 654.6 483.3 654.9 483.8 655.1 484.3 655.4 484.8 655.6 485.3 655.8 485.8 656 486.3 656.2 486.8 656.4 487.3 656.6 487.8 656.7 488.3 656.8 488.8 656.9 489.3 657 489.8 657 490.3 657 490.8 657 491.3 656.9 491.8 656.9 492.3 656.8 492.8 656.8 493.3 656.7 493.8 656.6 494.3 656.4 494.8 656.3 495.3 656.2 495.8 656 496.3 655.9 496.8 655.7 497.3 655.6 497.8 655.4 498.3 655.2 498.8 655 499.3 654.8 499.8 654.6 500.3 654.4 500.8 654.2 501.3 654 501.8 653.8 502.3 653.6 502.8 653.4 503.3 653.2 503.8 653 504.3 652.7 504.8 652.5 505.3 652.3 505.8 652.1 506.3 652 506.8 651.8 507.3 651.6 507.8 651.4 508.3 651.2 508.8 651.1 509.3 650.9 509.8 650.8 510.3 650.6 510.8 650.5 511.3 650.4 511.8 650.3 512.3 650.2 512.8 650.2 513.3 650.1 513.8 650 514.3 650 514.8 650 515.3 650 515.8 650 516.3 650.1 516.8 650.2 517.3 650.3 517.8 650.4 518.3 650.5 518.8 650.7 519.3 650.8 519.8 651 520.3 651.2 520.8 651.4 521.3 651.6 521.8 651.9 522.3 652.1 522.8 652.4 523.3 652.6 523.8 652.9 524.3 653.2 524.8 653.5 525.3 653.7 525.8 654 526.3 654.3 526.8 654.6 527.3 654.9 527.8 655.1 528.3 655.4 528.8 655.7 529.3 655.9 529.8 656.2 530.3 656.4 530.8 656.6 531.3 656.9 531.8 657.1 532.3 657.3 532.8 657.4 533.3 657.6 533.8 657.7 534.3 657.9 534.8 658 535.3 658.1 535.8 658.1 536.3 658.2 536.8 658.3 537.3 658.4 537.8 658.5 538.3 658.6 538.8 658.6 539.3 658.7 539.8 658.8 540.3 658.9 540.8 658.9 541.3 659 541.8 659.1 542.3 659.2 542.8 659.2 543.3 659.3 543.8 659.4 544.3 659.4 544.8 659.5 545.3 659.5 545.8 659.6 546.3 659.6 546.8 659.7 547.3 659.7 547.8 659.8 548.3 659.8 548.8 659.9 549.3 659.9 549.8 659.9 550.3 659.9 550.8 660 551.3 660 551.8 660 552.3 660 552.8 660" stroke="#faba39" stroke-width="2.8" fill="none" stroke-linejoin="round" /><path d="M403.3 661 403.8 660.9 404.3 660.9 404.8 660.9 405.3 660.8 405.8 660.8 406.3 660.7 406.8 660.7 407.3 660.7 407.8 660.6 408.3 660.6 408.8 660.5 409.3 660.5 409.8 660.5 410.3 660.4 410.8 660.4 411.3 660.4 411.8 660.3 412.3 660.3 412.8 660.3 413.3 660.2 413.8 660.2 414.3 660.2 414.8 660.1 415.3 660.1 415.8 660.1 416.3 660.1 416.8 660.1 417.3 660 417.8 660 418.3 660 418.8 660 419.3 660 419.8 660 420.3 660 420.8 660 421.3 660 421.8 660 422.3 660 422.8 660 423.3 660 423.8 660 424.3 660 424.8 660 425.3 660 425.8 660 426.3 660 426.8 659.9 427.3 659.9 427.8 659.9 428.3 659.9 428.8 659.8 429.3 659.8 429.8 659.7 430.3 659.6 430.8 659.5 431.3 659.4 431.8 659.3 432.3 659.1 432.8 658.8 433.3 658.6 433.8 658.2 434.3 657.9 434.8 657.4 435.3 656.9 435.8 656.2 436.3 655.5 436.8 654.6 437.3 653.6 437.8 652.5 438.3 651.1 438.8 649.7 439.3 648 439.8 646.1 440.3 644.1 440.8 641.8 441.3 639.3 441.8 636.5 442.3 633.6 442.8 630.4 443.3 627 443.8 623.4 444.3 619.6 444.8 615.6 445.3 611.5 445.8 607.3 446.3 603 446.8 598.7 447.3 594.4 447.8 590.2 448.3 586 448.8 582 449.3 578.3 449.8 574.7 450.3 571.5 450.8 568.6 451.3 566.1 451.8 564 452.3 562.4 452.8 561.2 453.3 560.6 453.8 560.4 454.3 560.8 454.8 561.6 455.3 563 455.8 564.8 456.3 567 456.8 569.7 457.3 572.7 457.8 576.1 458.3 579.7 458.8 583.6 459.3 587.7 459.8 591.9 460.3 596.1 460.8 600.5 461.3 604.8 461.8 609 462.3 613.2 462.8 617.2 463.3 621.1 463.8 624.8 464.3 628.4 464.8 631.7 465.3 634.6 465.8 636.9 466.3 638.5 466.8 639.5 467.3 640 467.8 640.1 468.3 639.8 468.8 639.3 469.3 638.6 469.8 637.9 470.3 637.3 470.8 636.8 471.3 636.6 471.8 636.7 472.3 637.2 472.8 637.9 473.3 638.6 473.8 639.4 474.3 640.3 474.8 641.2 475.3 642.2 475.8 643.2 476.3 644.2 476.8 645.2 477.3 646.2 477.8 647.1 478.3 648 478.8 648.9 479.3 649.7 479.8 650.4 480.3 651 480.8 651.5 481.3 651.8 481.8 652 482.3 652 482.8 651.9 483.3 651.9 483.8 651.8 484.3 651.7 484.8 651.5 485.3 651.4 485.8 651.2 486.3 651 486.8 650.8 487.3 650.5 487.8 650.3 488.3 650 488.8 649.8 489.3 649.5 489.8 649.2 490.3 648.9 490.8 648.6 491.3 648.3 491.8 648 492.3 647.7 492.8 647.5 493.3 647.2 493.8 646.9 494.3 646.7 494.8 646.4 495.3 646.2 495.8 646 496.3 645.8 496.8 645.6 497.3 645.4 497.8 645.3 498.3 645.2 498.8 645.1 499.3 645 499.8 645 500.3 645 500.8 645.1 501.3 645.1 501.8 645.3 502.3 645.4 502.8 645.6 503.3 645.8 503.8 646 504.3 646.3 504.8 646.6 505.3 646.9 505.8 647.2 506.3 647.6 506.8 648 507.3 648.3 507.8 648.7 508.3 649.1 508.8 649.5 509.3 649.9 509.8 650.3 510.3 650.7 510.8 651.2 511.3 651.6 511.8 652 512.3 652.4 512.8 652.7 513.3 653.1 513.8 653.5 514.3 653.8 514.8 654.2 515.3 654.5 515.8 654.7 516.3 655 516.8 655.2 517.3 655.5 517.8 655.6 518.3 655.8 518.8 655.9 519.3 656 519.8 656 520.3 656 520.8 655.9 521.3 655.9 521.8 655.7 522.3 655.6 522.8 655.4 523.3 655.2 523.8 654.9 524.3 654.7 524.8 654.4 525.3 654.1 525.8 653.7 526.3 653.4 526.8 653 527.3 652.6 527.8 652.2 528.3 651.8 528.8 651.4 529.3 651 529.8 650.6 530.3 650.1 530.8 649.7 531.3 649.3 531.8 648.9 532.3 648.5 532.8 648.1 533.3 647.7 533.8 647.3 534.3 647 534.8 646.6 535.3 646.3 535.8 646 536.3 645.8 536.8 645.5 537.3 645.3 537.8 645.1 538.3 645 538.8 644.8 539.3 644.8 539.8 644.7 540.3 644.7 540.8 644.7 541.3 644.8 541.8 644.9 542.3 645 542.8 645.1 543.3 645.2 543.8 645.4 544.3 645.6 544.8 645.8 545.3 646 545.8 646.3 546.3 646.6 546.8 646.9 547.3 647.2 547.8 647.5 548.3 647.9 548.8 648.3 549.3 648.6 549.8 649.1 550.3 649.5 550.8 649.9 551.3 650.4 551.8 650.8 552.3 651.3 552.8 651.8" stroke="#a4fc3c" stroke-width="2.8" fill="none" stroke-linejoin="round" /><path d="M403.3 659 403.8 659 404.3 659 404.8 659 405.3 659 405.8 658.9 406.3 658.9 406.8 658.9 407.3 658.9 407.8 658.8 408.3 658.8 408.8 658.7 409.3 658.7 409.8 658.7 410.3 658.6 410.8 658.6 411.3 658.5 411.8 658.4 412.3 658.4 412.8 658.3 413.3 658.2 413.8 658.2 414.3 658.1 414.8 658 415.3 657.9 415.8 657.8 416.3 657.5 416.8 657.2 417.3 656.8 417.8 656.4 418.3 656 418.8 655.5 419.3 655 419.8 654.5 420.3 654.1 420.8 653.6 421.3 653.2 421.8 652.8 422.3 652.5 422.8 652.2 423.3 652 423.8 651.9 424.3 651.9 424.8 652 425.3 652.2 425.8 652.4 426.3 652.8 426.8 653.1 427.3 653.4 427.8 653.7 428.3 654 428.8 654.1 429.3 654.2 429.8 654.1 430.3 653.8 430.8 653.4 431.3 653 431.8 652.5 432.3 651.8 432.8 651 433.3 650.1 433.8 649 434.3 647.8 434.8 646.4 435.3 644.7 435.8 642.9 436.3 640.8 436.8 638.5 437.3 635.9 437.8 633 438.3 629.8 438.8 626.4 439.3 622.6 439.8 618.5 440.3 614.2 440.8 609.5 441.3 604.6 441.8 599.4 442.3 593.9 442.8 588.3 443.3 582.4 443.8 576.4 444.3 570.3 444.8 564.2 445.3 558.1 445.8 552 446.3 546 446.8 540.2 447.3 534.6 447.8 529.3 448.3 524.4 448.8 519.9 449.3 515.9 449.8 512.3 450.3 509.4 450.8 507 451.3 505.2 451.8 504.1 452.3 503.7 452.8 503.9 453.3 504.9 453.8 506.4 454.3 508.6 454.8 511.5 455.3 514.8 455.8 518.8 456.3 523.2 456.8 528 457.3 533.3 457.8 538.8 458.3 544.6 458.8 550.6 459.3 556.7 459.8 562.9 460.3 569.2 460.8 575.4 461.3 581.5 461.8 587.5 462.3 593.3 462.8 598.9 463.3 604.3 463.8 609.4 464.3 614.3 464.8 618.8 465.3 623.1 465.8 626.9 466.3 630.2 466.8 633.1 467.3 635.6 467.8 637.7 468.3 639.5 468.8 641 469.3 642.2 469.8 643.2 470.3 644 470.8 644.6 471.3 645.1 471.8 645.5 472.3 645.9 472.8 646.3 473.3 646.6 473.8 647.1 474.3 647.6 474.8 648 475.3 648.4 475.8 648.8 476.3 649.2 476.8 649.6 477.3 649.9 477.8 650.2 478.3 650.5 478.8 650.9 479.3 651.2 479.8 651.5 480.3 651.8 480.8 652.1 481.3 652.4 481.8 652.7 482.3 653 482.8 653.3 483.3 653.5 483.8 653.8 484.3 654.1 484.8 654.3 485.3 654.6 485.8 654.8 486.3 655 486.8 655.2 487.3 655.4 487.8 655.6 488.3 655.7 488.8 655.8 489.3 655.9 489.8 656 490.3 656 490.8 656.1 491.3 656.1 491.8 656.1 492.3 656.1 492.8 656.2 493.3 656.2 493.8 656.2 494.3 656.3 494.8 656.3 495.3 656.3 495.8 656.4 496.3 656.4 496.8 656.4 497.3 656.4 497.8 656.5 498.3 656.5 498.8 656.5 499.3 656.5 499.8 656.5 500.3 656.6 500.8 656.6 501.3 656.6 501.8 656.6 502.3 656.7 502.8 656.7 503.3 656.7 503.8 656.7 504.3 656.7 504.8 656.7 505.3 656.8 505.8 656.8 506.3 656.8 506.8 656.8 507.3 656.8 507.8 656.8 508.3 656.8 508.8 656.9 509.3 656.9 509.8 656.9 510.3 656.9 510.8 656.9 511.3 656.9 511.8 656.9 512.3 656.9 512.8 656.9 513.3 657 513.8 657 514.3 657 514.8 657 515.3 657 515.8 657 516.3 657 516.8 657 517.3 657 517.8 657 518.3 657 518.8 657 519.3 657 519.8 657 520.3 657 520.8 657 521.3 657 521.8 657 522.3 657 522.8 657 523.3 657 523.8 657 524.3 657 524.8 657 525.3 657 525.8 657 526.3 657 526.8 657 527.3 657 527.8 656.9 528.3 656.9 528.8 656.9 529.3 656.9 529.8 656.9 530.3 656.9 530.8 656.9 531.3 656.9 531.8 656.9 532.3 656.9 532.8 656.9 533.3 656.8 533.8 656.8 534.3 656.8 534.8 656.8 535.3 656.8 535.8 656.8 536.3 656.8 536.8 656.8 537.3 656.7 537.8 656.7 538.3 656.7 538.8 656.7 539.3 656.7 539.8 656.7 540.3 656.6 540.8 656.6 541.3 656.6 541.8 656.6 542.3 656.6 542.8 656.5 543.3 656.5 543.8 656.5 544.3 656.5 544.8 656.4 545.3 656.4 545.8 656.4 546.3 656.4 546.8 656.4 547.3 656.3 547.8 656.3 548.3 656.3 548.8 656.2 549.3 656.2 549.8 656.2 550.3 656.2 550.8 656.1 551.3 656.1 551.8 656.1 552.3 656 552.8 656" stroke="#1ae4b6" stroke-width="2.8" fill="none" stroke-linejoin="round" /><path d="M403.3 659 403.8 659 404.3 659 404.8 659 405.3 659 405.8 659 406.3 659 406.8 659 407.3 659 407.8 659 408.3 659 408.8 659 409.3 659 409.8 659 410.3 659 410.8 659 411.3 659 411.8 659 412.3 659 412.8 659 413.3 659 413.8 659 414.3 659 414.8 659 415.3 658.9 415.8 658.7 416.3 658.4 416.8 658 417.3 657.5 417.8 657.1 418.3 656.5 418.8 656 419.3 655.4 419.8 654.8 420.3 654.2 420.8 653.6 421.3 653.1 421.8 652.6 422.3 652.1 422.8 651.7 423.3 651.4 423.8 651.1 424.3 650.9 424.8 650.7 425.3 650.6 425.8 650.4 426.3 650.3 426.8 650.1 427.3 649.8 427.8 649.5 428.3 649.1 428.8 648.6 429.3 647.9 429.8 647.1 430.3 646 430.8 644.8 431.3 643.3 431.8 641.6 432.3 639.6 432.8 637.3 433.3 634.8 433.8 632 434.3 629 434.8 625.6 435.3 622 435.8 618 436.3 613.7 436.8 609.2 437.3 604.3 437.8 599.1 438.3 593.7 438.8 588 439.3 582.1 439.8 575.9 440.3 569.6 440.8 563.2 441.3 556.7 441.8 550.1 442.3 543.5 442.8 537.1 443.3 530.7 443.8 524.5 444.3 518.5 444.8 512.9 445.3 507.6 445.8 502.7 446.3 498.2 446.8 494.3 447.3 490.9 447.8 488.1 448.3 486 448.8 484.5 449.3 483.7 449.8 483.5 450.3 484.1 450.8 485.3 451.3 487.2 451.8 489.7 452.3 492.8 452.8 496.5 453.3 500.8 453.8 505.5 454.3 510.7 454.8 516.3 455.3 522.2 455.8 528.4 456.3 534.8 456.8 541.3 457.3 547.9 457.8 554.6 458.3 561.3 458.8 567.9 459.3 574.4 459.8 580.7 460.3 586.9 460.8 592.9 461.3 598.6 461.8 604 462.3 609.2 462.8 614 463.3 618.6 463.8 622.8 464.3 626.8 464.8 630.4 465.3 633.8 465.8 636.8 466.3 639.6 466.8 642 467.3 644.1 467.8 645.9 468.3 647.4 468.8 648.7 469.3 649.7 469.8 650.6 470.3 651.3 470.8 651.8 471.3 652.3 471.8 652.6 472.3 652.8 472.8 653 473.3 653.2 473.8 653.4 474.3 653.5 474.8 653.7 475.3 654 475.8 654.2 476.3 654.3 476.8 654.5 477.3 654.6 477.8 654.7 478.3 654.8 478.8 654.9 479.3 655 479.8 655.1 480.3 655.2 480.8 655.3 481.3 655.4 481.8 655.4 482.3 655.5 482.8 655.6 483.3 655.7 483.8 655.8 484.3 655.8 484.8 655.9 485.3 656 485.8 656.1 486.3 656.2 486.8 656.3 487.3 656.4 487.8 656.4 488.3 656.5 488.8 656.6 489.3 656.7 489.8 656.8 490.3 656.9 490.8 656.9 491.3 657 491.8 657.1 492.3 657.2 492.8 657.3 493.3 657.3 493.8 657.4 494.3 657.5 494.8 657.5 495.3 657.6 495.8 657.7 496.3 657.7 496.8 657.8 497.3 657.8 497.8 657.9 498.3 657.9 498.8 657.9 499.3 658 499.8 658 500.3 658 500.8 658 501.3 658 501.8 658.1 502.3 658.1 502.8 658.1 503.3 658.1 503.8 658.1 504.3 658.1 504.8 658.2 505.3 658.2 505.8 658.2 506.3 658.2 506.8 658.2 507.3 658.2 507.8 658.3 508.3 658.3 508.8 658.3 509.3 658.3 509.8 658.3 510.3 658.3 510.8 658.4 511.3 658.4 511.8 658.4 512.3 658.4 512.8 658.4 513.3 658.4 513.8 658.4 514.3 658.5 514.8 658.5 515.3 658.5 515.8 658.5 516.3 658.5 516.8 658.5 517.3 658.5 517.8 658.5 518.3 658.6 518.8 658.6 519.3 658.6 519.8 658.6 520.3 658.6 520.8 658.6 521.3 658.6 521.8 658.6 522.3 658.6 522.8 658.7 523.3 658.7 523.8 658.7 524.3 658.7 524.8 658.7 525.3 658.7 525.8 658.7 526.3 658.7 526.8 658.7 527.3 658.8 527.8 658.8 528.3 658.8 528.8 658.8 529.3 658.8 529.8 658.8 530.3 658.8 530.8 658.8 531.3 658.8 531.8 658.8 532.3 658.8 532.8 658.8 533.3 658.9 533.8 658.9 534.3 658.9 534.8 658.9 535.3 658.9 535.8 658.9 536.3 658.9 536.8 658.9 537.3 658.9 537.8 658.9 538.3 658.9 538.8 658.9 539.3 658.9 539.8 658.9 540.3 658.9 540.8 658.9 541.3 658.9 541.8 659 542.3 659 542.8 659 543.3 659 543.8 659 544.3 659 544.8 659 545.3 659 545.8 659 546.3 659 546.8 659 547.3 659 547.8 659 548.3 659 548.8 659 549.3 659 549.8 659 550.3 659 550.8 659 551.3 659 551.8 659 552.3 659 552.8 659" stroke="#4685fa" stroke-width="2.8" fill="none" stroke-linejoin="round" /><path d="M403.3 660 403.8 660.1 404.3 660.1 404.8 660.1 405.3 660.1 405.8 660.2 406.3 660.2 406.8 660.2 407.3 660.2 407.8 660.2 408.3 660.3 408.8 660.3 409.3 660.3 409.8 660.3 410.3 660.3 410.8 660.3 411.3 660.3 411.8 660.3 412.3 660.3 412.8 660.3 413.3 660.3 413.8 660.3 414.3 660.3 414.8 660.3 415.3 660.2 415.8 659.9 416.3 659.6 416.8 659.2 417.3 658.7 417.8 658.1 418.3 657.5 418.8 656.9 419.3 656.2 419.8 655.6 420.3 655 420.8 654.4 421.3 653.8 421.8 653.3 422.3 652.9 422.8 652.6 423.3 652.3 423.8 652.2 424.3 652.2 424.8 652.5 425.3 653.1 425.8 653.8 426.3 654.6 426.8 655.5 427.3 656.5 427.8 657.4 428.3 658.1 428.8 658.7 429.3 659.2 429.8 659.3 430.3 659.2 430.8 659 431.3 658.7 431.8 658.5 432.3 658.1 432.8 657.7 433.3 657.1 433.8 656.5 434.3 655.8 434.8 654.9 435.3 653.9 435.8 652.8 436.3 651.4 436.8 649.8 437.3 648.1 437.8 646 438.3 643.7 438.8 641.2 439.3 638.3 439.8 635.1 440.3 631.6 440.8 627.7 441.3 623.5 441.8 619 442.3 614.1 442.8 608.9 443.3 603.3 443.8 597.5 444.3 591.3 444.8 585 445.3 578.5 445.8 571.8 446.3 565 446.8 558.2 447.3 551.5 447.8 544.8 448.3 538.4 448.8 532.2 449.3 526.3 449.8 520.8 450.3 515.8 450.8 511.4 451.3 507.5 451.8 504.3 452.3 501.8 452.8 500.1 453.3 499 453.8 498.8 454.3 499.4 454.8 500.7 455.3 502.7 455.8 505.5 456.3 509 456.8 513.1 457.3 517.8 457.8 523 458.3 528.6 458.8 534.6 459.3 541 459.8 547.5 460.3 554.2 460.8 561 461.3 567.8 461.8 574.5 462.3 581.2 462.8 587.6 463.3 593.9 463.8 599.9 464.3 605.7 464.8 611.1 465.3 616.2 465.8 621 466.3 625.4 466.8 629.4 467.3 633.2 467.8 636.4 468.3 639.1 468.8 641.2 469.3 643 469.8 644.4 470.3 645.5 470.8 646.3 471.3 646.9 471.8 647.3 472.3 647.7 472.8 648.1 473.3 648.5 473.8 648.9 474.3 649.5 474.8 650.1 475.3 650.6 475.8 651.2 476.3 651.7 476.8 652.2 477.3 652.7 477.8 653.2 478.3 653.7 478.8 654.2 479.3 654.7 479.8 655.2 480.3 655.7 480.8 656.2 481.3 656.7 481.8 657.2 482.3 657.6 482.8 658 483.3 658.4 483.8 658.8 484.3 659.1 484.8 659.4 485.3 659.6 485.8 659.8 486.3 659.9 486.8 660 487.3 660 487.8 660 488.3 659.9 488.8 659.8 489.3 659.7 489.8 659.5 490.3 659.3 490.8 659.1 491.3 658.9 491.8 658.7 492.3 658.4 492.8 658.2 493.3 657.9 493.8 657.7 494.3 657.4 494.8 657.1 495.3 656.8 495.8 656.6 496.3 656.3 496.8 656.1 497.3 655.8 497.8 655.6 498.3 655.3 498.8 655.1 499.3 655 499.8 654.8 500.3 654.7 500.8 654.6 501.3 654.5 501.8 654.4 502.3 654.4 502.8 654.4 503.3 654.5 503.8 654.5 504.3 654.6 504.8 654.7 505.3 654.8 505.8 655 506.3 655.1 506.8 655.3 507.3 655.5 507.8 655.7 508.3 655.9 508.8 656.1 509.3 656.3 509.8 656.6 510.3 656.8 510.8 657 511.3 657.3 511.8 657.5 512.3 657.7 512.8 658 513.3 658.2 513.8 658.4 514.3 658.6 514.8 658.8 515.3 659 515.8 659.2 516.3 659.4 516.8 659.5 517.3 659.6 517.8 659.8 518.3 659.9 518.8 659.9 519.3 660 519.8 660 520.3 660 520.8 660 521.3 660 521.8 660 522.3 660 522.8 660 523.3 660 523.8 660 524.3 660 524.8 660 525.3 660 525.8 660 526.3 660 526.8 660 527.3 660 527.8 660 528.3 660 528.8 660 529.3 660 529.8 660 530.3 660 530.8 660 531.3 660 531.8 660 532.3 660 532.8 660 533.3 660 533.8 660 534.3 660 534.8 660 535.3 660 535.8 660 536.3 660 536.8 660 537.3 660 537.8 660 538.3 660 538.8 660 539.3 660 539.8 660 540.3 660 540.8 660 541.3 660 541.8 660 542.3 660 542.8 660 543.3 660 543.8 660 544.3 660 544.8 660 545.3 660 545.8 660 546.3 660 546.8 660 547.3 660 547.8 660 548.3 660 548.8 660 549.3 660 549.8 660 550.3 660 550.8 660 551.3 660 551.8 660 552.3 660 552.8 660" stroke="#38237f" stroke-width="3.0" fill="none" stroke-linejoin="round" /></g>
<clipPath id="c31"><rect x="405.3" y="711.1" width="145.5" height="197"/></clipPath>
<g clip-path="url(#c31)"><path d="M403.3 898 403.8 898 404.3 897.9 404.8 897.9 405.3 897.9 405.8 897.8 406.3 897.8 406.8 897.8 407.3 897.7 407.8 897.7 408.3 897.7 408.8 897.7 409.3 897.6 409.8 897.6 410.3 897.6 410.8 897.6 411.3 897.5 411.8 897.5 412.3 897.5 412.8 897.5 413.3 897.4 413.8 897.4 414.3 897.4 414.8 897.4 415.3 897.3 415.8 897.3 416.3 897.3 416.8 897.3 417.3 897.3 417.8 897.2 418.3 897.2 418.8 897.2 419.3 897.2 419.8 897.2 420.3 897.2 420.8 897.1 421.3 897.1 421.8 897.1 422.3 897.1 422.8 897.1 423.3 897.1 423.8 897.1 424.3 897.1 424.8 897 425.3 897 425.8 897 426.3 897 426.8 897 427.3 897 427.8 897 428.3 897 428.8 897 429.3 897 429.8 897 430.3 897 430.8 897 431.3 897 431.8 897 432.3 897 432.8 897 433.3 897 433.8 897 434.3 897 434.8 897 435.3 897 435.8 897.1 436.3 897.1 436.8 897.1 437.3 897.1 437.8 897.1 438.3 897.1 438.8 897.1 439.3 897.1 439.8 897.1 440.3 897.2 440.8 897.2 441.3 897.2 441.8 897.2 442.3 897.2 442.8 897.2 443.3 897.2 443.8 897.2 444.3 897.2 444.8 897.1 445.3 897.1 445.8 897 446.3 896.9 446.8 896.7 447.3 896.5 447.8 896.2 448.3 895.8 448.8 895.4 449.3 894.8 449.8 894.1 450.3 893.3 450.8 892.4 451.3 891.3 451.8 890.2 452.3 889 452.8 887.7 453.3 886.4 453.8 885.2 454.3 884 454.8 882.9 455.3 882 455.8 881.3 456.3 880.8 456.8 880.6 457.3 880.7 457.8 881 458.3 881.5 458.8 882.3 459.3 883.3 459.8 884.4 460.3 885.6 460.8 886.9 461.3 888.3 461.8 889.5 462.3 890.8 462.8 891.9 463.3 893 463.8 893.9 464.3 894.7 464.8 895.4 465.3 896 465.8 896.4 466.3 896.8 466.8 897.1 467.3 897.4 467.8 897.5 468.3 897.7 468.8 897.8 469.3 897.8 469.8 897.9 470.3 897.9 470.8 898 471.3 898 471.8 898 472.3 898 472.8 898 473.3 898 473.8 898 474.3 898 474.8 898 475.3 898 475.8 898 476.3 898 476.8 898 477.3 898 477.8 898 478.3 898 478.8 898 479.3 898 479.8 898 480.3 898 480.8 898 481.3 898 481.8 898 482.3 898 482.8 898 483.3 898 483.8 898 484.3 898 484.8 898 485.3 898 485.8 898 486.3 898 486.8 898 487.3 898 487.8 898 488.3 898 488.8 898 489.3 898 489.8 898 490.3 898 490.8 898 491.3 898 491.8 898 492.3 898 492.8 898 493.3 898 493.8 898 494.3 898 494.8 898 495.3 898 495.8 898 496.3 898 496.8 898 497.3 898 497.8 898 498.3 898 498.8 898 499.3 898 499.8 898 500.3 898 500.8 898 501.3 898 501.8 898 502.3 898 502.8 898 503.3 898 503.8 898 504.3 898 504.8 898 505.3 898 505.8 898 506.3 898 506.8 898 507.3 898 507.8 898 508.3 898 508.8 898 509.3 898 509.8 898 510.3 898 510.8 898 511.3 898 511.8 898 512.3 898 512.8 898 513.3 898 513.8 898 514.3 898 514.8 898 515.3 898 515.8 898 516.3 898 516.8 898 517.3 898 517.8 898 518.3 898 518.8 898 519.3 898 519.8 898 520.3 898 520.8 898 521.3 898 521.8 898 522.3 898 522.8 898 523.3 898 523.8 898 524.3 898 524.8 898 525.3 898 525.8 898 526.3 898 526.8 898 527.3 898 527.8 898 528.3 898 528.8 898 529.3 898 529.8 898 530.3 898 530.8 898 531.3 898 531.8 898 532.3 898 532.8 898 533.3 898 533.8 898 534.3 898 534.8 898 535.3 898 535.8 898 536.3 898 536.8 898 537.3 898 537.8 898 538.3 898 538.8 898 539.3 898 539.8 898 540.3 898 540.8 898 541.3 898 541.8 898 542.3 898 542.8 898 543.3 898 543.8 898 544.3 898 544.8 898 545.3 898 545.8 898 546.3 898 546.8 898 547.3 898 547.8 898 548.3 898 548.8 898 549.3 898 549.8 898 550.3 898 550.8 898 551.3 898 551.8 898 552.3 898 552.8 898" stroke="#7a0403" stroke-width="2.8" fill="none" stroke-linejoin="round" /><path d="M403.3 897.6 403.8 896.9 404.3 896.2 404.8 895.6 405.3 895 405.8 894.5 406.3 893.9 406.8 893.5 407.3 893 407.8 892.5 408.3 892.1 408.8 891.7 409.3 891.4 409.8 891 410.3 890.7 410.8 890.4 411.3 890.1 411.8 889.9 412.3 889.6 412.8 889.4 413.3 889.2 413.8 889.1 414.3 888.9 414.8 888.8 415.3 888.6 415.8 888.5 416.3 888.4 416.8 888.3 417.3 888.2 417.8 888.2 418.3 888.1 418.8 888.1 419.3 888 419.8 888 420.3 888 420.8 887.9 421.3 887.9 421.8 887.9 422.3 887.9 422.8 887.9 423.3 887.9 423.8 887.9 424.3 887.9 424.8 888.1 425.3 888.5 425.8 888.9 426.3 889.5 426.8 890.1 427.3 890.8 427.8 891.6 428.3 892.3 428.8 893.1 429.3 893.8 429.8 894.4 430.3 895 430.8 895.4 431.3 895.8 431.8 896 432.3 896 432.8 896.1 433.3 896.1 433.8 896.1 434.3 896.1 434.8 896.2 435.3 896.2 435.8 896.2 436.3 896.2 436.8 896.3 437.3 896.3 437.8 896.3 438.3 896.3 438.8 896.4 439.3 896.4 439.8 896.4 440.3 896.4 440.8 896.4 441.3 896.5 441.8 896.5 442.3 896.5 442.8 896.5 443.3 896.5 443.8 896.5 444.3 896.4 444.8 896.4 445.3 896.3 445.8 896.2 446.3 896 446.8 895.8 447.3 895.5 447.8 895.1 448.3 894.6 448.8 893.9 449.3 893.2 449.8 892.3 450.3 891.2 450.8 890 451.3 888.6 451.8 887.1 452.3 885.5 452.8 883.8 453.3 882.1 453.8 880.5 454.3 878.9 454.8 877.5 455.3 876.3 455.8 875.4 456.3 874.7 456.8 874.4 457.3 874.5 457.8 874.9 458.3 875.6 458.8 876.6 459.3 877.8 459.8 879.3 460.3 880.9 460.8 882.6 461.3 884.3 461.8 886 462.3 887.6 462.8 889.1 463.3 890.4 463.8 891.6 464.3 892.7 464.8 893.6 465.3 894.3 465.8 894.9 466.3 895.4 466.8 895.8 467.3 896.1 467.8 896.4 468.3 896.6 468.8 896.7 469.3 896.8 469.8 896.9 470.3 896.9 470.8 897 471.3 897 471.8 897 472.3 897 472.8 897 473.3 897.1 473.8 897.1 474.3 897.1 474.8 897.1 475.3 897.1 475.8 897.1 476.3 897.1 476.8 897.1 477.3 897.1 477.8 897.1 478.3 897.1 478.8 897.2 479.3 897.2 479.8 897.2 480.3 897.2 480.8 897.2 481.3 897.2 481.8 897.2 482.3 897.2 482.8 897.2 483.3 897.2 483.8 897.2 484.3 897.2 484.8 897.3 485.3 897.3 485.8 897.3 486.3 897.3 486.8 897.3 487.3 897.3 487.8 897.3 488.3 897.3 488.8 897.3 489.3 897.3 489.8 897.3 490.3 897.3 490.8 897.4 491.3 897.4 491.8 897.4 492.3 897.4 492.8 897.4 493.3 897.4 493.8 897.4 494.3 897.4 494.8 897.4 495.3 897.4 495.8 897.4 496.3 897.4 496.8 897.4 497.3 897.5 497.8 897.5 498.3 897.5 498.8 897.5 499.3 897.5 499.8 897.5 500.3 897.5 500.8 897.5 501.3 897.5 501.8 897.5 502.3 897.5 502.8 897.5 503.3 897.5 503.8 897.5 504.3 897.6 504.8 897.6 505.3 897.6 505.8 897.6 506.3 897.6 506.8 897.6 507.3 897.6 507.8 897.6 508.3 897.6 508.8 897.6 509.3 897.6 509.8 897.6 510.3 897.6 510.8 897.6 511.3 897.7 511.8 897.7 512.3 897.7 512.8 897.7 513.3 897.7 513.8 897.7 514.3 897.7 514.8 897.7 515.3 897.7 515.8 897.7 516.3 897.7 516.8 897.7 517.3 897.7 517.8 897.7 518.3 897.7 518.8 897.7 519.3 897.8 519.8 897.8 520.3 897.8 520.8 897.8 521.3 897.8 521.8 897.8 522.3 897.8 522.8 897.8 523.3 897.8 523.8 897.8 524.3 897.8 524.8 897.8 525.3 897.8 525.8 897.8 526.3 897.8 526.8 897.8 527.3 897.8 527.8 897.8 528.3 897.8 528.8 897.9 529.3 897.9 529.8 897.9 530.3 897.9 530.8 897.9 531.3 897.9 531.8 897.9 532.3 897.9 532.8 897.9 533.3 897.9 533.8 897.9 534.3 897.9 534.8 897.9 535.3 897.9 535.8 897.9 536.3 897.9 536.8 897.9 537.3 897.9 537.8 897.9 538.3 897.9 538.8 897.9 539.3 897.9 539.8 897.9 540.3 897.9 540.8 897.9 541.3 898 541.8 898 542.3 898 542.8 898 543.3 898 543.8 898 544.3 898 544.8 898 545.3 898 545.8 898 546.3 898 546.8 898 547.3 898 547.8 898 548.3 898 548.8 898 549.3 898 549.8 898 550.3 898 550.8 898 551.3 898 551.8 898 552.3 898 552.8 898" stroke="#f05b12" stroke-width="2.8" fill="none" stroke-linejoin="round" /><path d="M403.3 897.9 403.8 897.8 404.3 897.6 404.8 897.5 405.3 897.4 405.8 897.2 406.3 897.1 406.8 896.9 407.3 896.8 407.8 896.7 408.3 896.5 408.8 896.4 409.3 896.3 409.8 896.1 410.3 896 410.8 895.9 411.3 895.8 411.8 895.6 412.3 895.5 412.8 895.4 413.3 895.3 413.8 895.2 414.3 895 414.8 894.9 415.3 894.8 415.8 894.7 416.3 894.6 416.8 894.5 417.3 894.4 417.8 894.3 418.3 894.2 418.8 894.1 419.3 894 419.8 893.9 420.3 893.8 420.8 893.8 421.3 893.7 421.8 893.6 422.3 893.5 422.8 893.5 423.3 893.4 423.8 893.4 424.3 893.3 424.8 893.3 425.3 893.2 425.8 893.2 426.3 893.1 426.8 893.1 427.3 893.1 427.8 893 428.3 893 428.8 893 429.3 893 429.8 893 430.3 893 430.8 893 431.3 893 431.8 893 432.3 893 432.8 893 433.3 893 433.8 893.1 434.3 893.1 434.8 893.1 435.3 893.1 435.8 893.1 436.3 893.1 436.8 893.2 437.3 893.2 437.8 893.2 438.3 893.2 438.8 893.2 439.3 893.3 439.8 893.3 440.3 893.3 440.8 893.3 441.3 893.3 441.8 893.3 442.3 893.2 442.8 893.1 443.3 893 443.8 892.7 444.3 892.4 444.8 891.8 445.3 891 445.8 889.9 446.3 888.4 446.8 886.4 447.3 883.8 447.8 880.5 448.3 876.4 448.8 871.3 449.3 865.3 449.8 858.3 450.3 850.3 450.8 841.5 451.3 831.9 451.8 821.8 452.3 811.5 452.8 801.4 453.3 791.8 453.8 783.2 454.3 775.9 454.8 770.2 455.3 766.6 455.8 765 456.3 765.7 456.8 768.6 457.3 773.6 457.8 780.3 458.3 788.6 458.8 797.9 459.3 807.9 459.8 818.2 460.3 828.5 460.8 838.4 461.3 847.6 461.8 856 462.3 863.5 462.8 869.9 463.3 875.4 463.8 880 464.3 883.6 464.8 886.6 465.3 888.9 465.8 890.6 466.3 891.9 466.8 892.8 467.3 893.5 467.8 894 468.3 894.4 468.8 894.6 469.3 894.7 469.8 894.8 470.3 894.9 470.8 894.9 471.3 894.9 471.8 894.9 472.3 894.9 472.8 894.9 473.3 894.9 473.8 894.9 474.3 894.8 474.8 894.8 475.3 894.7 475.8 894.7 476.3 894.6 476.8 894.6 477.3 894.5 477.8 894.4 478.3 894.4 478.8 894.3 479.3 894.2 479.8 894.2 480.3 894.1 480.8 894 481.3 893.9 481.8 893.8 482.3 893.8 482.8 893.7 483.3 893.6 483.8 893.5 484.3 893.4 484.8 893.3 485.3 893.2 485.8 893.1 486.3 893 486.8 892.9 487.3 892.8 487.8 892.7 488.3 892.6 488.8 892.5 489.3 892.4 489.8 892.3 490.3 892.2 490.8 892.1 491.3 892 491.8 891.9 492.3 891.8 492.8 891.7 493.3 891.6 493.8 891.5 494.3 891.4 494.8 891.4 495.3 891.3 495.8 891.2 496.3 891.1 496.8 891 497.3 890.9 497.8 890.9 498.3 890.8 498.8 890.7 499.3 890.6 499.8 890.6 500.3 890.5 500.8 890.4 501.3 890.4 501.8 890.3 502.3 890.3 502.8 890.2 503.3 890.2 503.8 890.1 504.3 890.1 504.8 890.1 505.3 890.1 505.8 890 506.3 890 506.8 890 507.3 890 507.8 890 508.3 890 508.8 890.1 509.3 890.3 509.8 890.4 510.3 890.7 510.8 890.9 511.3 891.2 511.8 891.5 512.3 891.8 512.8 892.2 513.3 892.5 513.8 892.9 514.3 893.2 514.8 893.6 515.3 893.9 515.8 894.3 516.3 894.6 516.8 894.9 517.3 895.1 517.8 895.4 518.3 895.6 518.8 895.8 519.3 895.9 519.8 896 520.3 896 520.8 896.1 521.3 896.1 521.8 896.1 522.3 896.1 522.8 896.2 523.3 896.2 523.8 896.2 524.3 896.3 524.8 896.3 525.3 896.3 525.8 896.3 526.3 896.4 526.8 896.4 527.3 896.4 527.8 896.4 528.3 896.5 528.8 896.5 529.3 896.5 529.8 896.5 530.3 896.6 530.8 896.6 531.3 896.6 531.8 896.6 532.3 896.6 532.8 896.7 533.3 896.7 533.8 896.7 534.3 896.7 534.8 896.7 535.3 896.7 535.8 896.8 536.3 896.8 536.8 896.8 537.3 896.8 537.8 896.8 538.3 896.8 538.8 896.8 539.3 896.8 539.8 896.9 540.3 896.9 540.8 896.9 541.3 896.9 541.8 896.9 542.3 896.9 542.8 896.9 543.3 896.9 543.8 896.9 544.3 896.9 544.8 896.9 545.3 897 545.8 897 546.3 897 546.8 897 547.3 897 547.8 897 548.3 897 548.8 897 549.3 897 549.8 897 550.3 897 550.8 897 551.3 897 551.8 897 552.3 897 552.8 897" stroke="#e1dd37" stroke-width="2.8" fill="none" stroke-linejoin="round" /><path d="M403.3 899 403.8 898.9 404.3 898.8 404.8 898.7 405.3 898.6 405.8 898.6 406.3 898.5 406.8 898.4 407.3 898.3 407.8 898.2 408.3 898.2 408.8 898.1 409.3 898 409.8 897.9 410.3 897.9 410.8 897.8 411.3 897.7 411.8 897.6 412.3 897.6 412.8 897.5 413.3 897.4 413.8 897.3 414.3 897.3 414.8 897.2 415.3 897.1 415.8 897.1 416.3 897 416.8 896.9 417.3 896.9 417.8 896.8 418.3 896.8 418.8 896.7 419.3 896.6 419.8 896.6 420.3 896.5 420.8 896.5 421.3 896.4 421.8 896.4 422.3 896.3 422.8 896.3 423.3 896.3 423.8 896.2 424.3 896.2 424.8 896.2 425.3 896.1 425.8 896.1 426.3 896.1 426.8 896.1 427.3 896 427.8 896 428.3 896 428.8 896 429.3 896 429.8 896 430.3 896 430.8 896 431.3 896 431.8 896 432.3 896 432.8 896 433.3 896 433.8 896 434.3 896 434.8 896 435.3 896 435.8 896 436.3 896 436.8 896 437.3 896 437.8 896 438.3 896 438.8 896 439.3 896 439.8 896 440.3 896 440.8 895.9 441.3 895.9 441.8 895.8 442.3 895.7 442.8 895.6 443.3 895.4 443.8 895 444.3 894.6 444.8 893.9 445.3 892.9 445.8 891.5 446.3 889.7 446.8 887.3 447.3 884.2 447.8 880.3 448.3 875.3 448.8 869.4 449.3 862.2 449.8 853.9 450.3 844.5 450.8 834 451.3 822.7 451.8 810.7 452.3 798.6 452.8 786.6 453.3 775.2 453.8 765 454.3 756.3 454.8 749.7 455.3 745.3 455.8 743.5 456.3 744.2 456.8 747.6 457.3 753.4 457.8 761.3 458.3 771 458.8 782 459.3 793.7 459.8 805.9 460.3 817.9 460.8 829.6 461.3 840.4 461.8 850.3 462.3 859.1 462.8 866.7 463.3 873.1 463.8 878.4 464.3 882.7 464.8 886.2 465.3 888.8 465.8 890.9 466.3 892.4 466.8 893.5 467.3 894.3 467.8 894.9 468.3 895.3 468.8 895.5 469.3 895.7 469.8 895.8 470.3 895.9 470.8 895.9 471.3 895.9 471.8 895.9 472.3 895.9 472.8 895.9 473.3 895.8 473.8 895.8 474.3 895.7 474.8 895.6 475.3 895.6 475.8 895.5 476.3 895.4 476.8 895.3 477.3 895.2 477.8 895.1 478.3 895 478.8 894.9 479.3 894.8 479.8 894.7 480.3 894.5 480.8 894.4 481.3 894.3 481.8 894.1 482.3 894 482.8 893.9 483.3 893.7 483.8 893.6 484.3 893.4 484.8 893.3 485.3 893.1 485.8 893 486.3 892.8 486.8 892.6 487.3 892.5 487.8 892.3 488.3 892.2 488.8 892 489.3 891.9 489.8 891.7 490.3 891.5 490.8 891.4 491.3 891.2 491.8 891.1 492.3 890.9 492.8 890.8 493.3 890.6 493.8 890.5 494.3 890.3 494.8 890.2 495.3 890 495.8 889.9 496.3 889.8 496.8 889.6 497.3 889.5 497.8 889.4 498.3 889.2 498.8 889.1 499.3 889 499.8 888.9 500.3 888.8 500.8 888.7 501.3 888.6 501.8 888.5 502.3 888.4 502.8 888.4 503.3 888.3 503.8 888.2 504.3 888.2 504.8 888.1 505.3 888.1 505.8 888.1 506.3 888 506.8 888 507.3 888 507.8 888 508.3 888.1 508.8 888.2 509.3 888.4 509.8 888.6 510.3 888.9 510.8 889.2 511.3 889.6 511.8 890 512.3 890.4 512.8 890.9 513.3 891.4 513.8 891.8 514.3 892.3 514.8 892.8 515.3 893.3 515.8 893.7 516.3 894.1 516.8 894.5 517.3 894.9 517.8 895.2 518.3 895.5 518.8 895.7 519.3 895.9 519.8 896 520.3 896 520.8 896.1 521.3 896.1 521.8 896.1 522.3 896.1 522.8 896.2 523.3 896.2 523.8 896.2 524.3 896.3 524.8 896.3 525.3 896.3 525.8 896.3 526.3 896.4 526.8 896.4 527.3 896.4 527.8 896.4 528.3 896.5 528.8 896.5 529.3 896.5 529.8 896.5 530.3 896.6 530.8 896.6 531.3 896.6 531.8 896.6 532.3 896.6 532.8 896.7 533.3 896.7 533.8 896.7 534.3 896.7 534.8 896.7 535.3 896.7 535.8 896.8 536.3 896.8 536.8 896.8 537.3 896.8 537.8 896.8 538.3 896.8 538.8 896.8 539.3 896.8 539.8 896.9 540.3 896.9 540.8 896.9 541.3 896.9 541.8 896.9 542.3 896.9 542.8 896.9 543.3 896.9 543.8 896.9 544.3 896.9 544.8 896.9 545.3 897 545.8 897 546.3 897 546.8 897 547.3 897 547.8 897 548.3 897 548.8 897 549.3 897 549.8 897 550.3 897 550.8 897 551.3 897 551.8 897 552.3 897 552.8 897" stroke="#46f884" stroke-width="2.8" fill="none" stroke-linejoin="round" /><path d="M403.3 898 403.8 897.9 404.3 897.8 404.8 897.7 405.3 897.6 405.8 897.5 406.3 897.5 406.8 897.4 407.3 897.3 407.8 897.2 408.3 897.1 408.8 897.1 409.3 897 409.8 896.9 410.3 896.8 410.8 896.7 411.3 896.7 411.8 896.6 412.3 896.5 412.8 896.4 413.3 896.4 413.8 896.3 414.3 896.2 414.8 896.2 415.3 896.1 415.8 896 416.3 896 416.8 895.9 417.3 895.8 417.8 895.8 418.3 895.7 418.8 895.7 419.3 895.6 419.8 895.6 420.3 895.5 420.8 895.5 421.3 895.4 421.8 895.4 422.3 895.3 422.8 895.3 423.3 895.3 423.8 895.2 424.3 895.2 424.8 895.2 425.3 895.1 425.8 895.1 426.3 895.1 426.8 895.1 427.3 895 427.8 895 428.3 895 428.8 895 429.3 895 429.8 895 430.3 895 430.8 895 431.3 895 431.8 895 432.3 895 432.8 895 433.3 895 433.8 895 434.3 895 434.8 895 435.3 895 435.8 895.1 436.3 895.1 436.8 895.1 437.3 895.1 437.8 895.1 438.3 895.1 438.8 895.1 439.3 895.1 439.8 895.1 440.3 895.1 440.8 895.1 441.3 895.1 441.8 895 442.3 895 442.8 894.8 443.3 894.6 443.8 894.3 444.3 893.8 444.8 893.1 445.3 892.1 445.8 890.7 446.3 888.8 446.8 886.3 447.3 883.1 447.8 879 448.3 873.9 448.8 867.7 449.3 860.3 449.8 851.7 450.3 841.8 450.8 830.9 451.3 819.1 451.8 806.7 452.3 794.1 452.8 781.6 453.3 769.8 453.8 759.1 454.3 750.1 454.8 743.2 455.3 738.6 455.8 736.8 456.3 737.6 456.8 741.1 457.3 747.2 457.8 755.4 458.3 765.5 458.8 777 459.3 789.3 459.8 801.9 460.3 814.5 460.8 826.6 461.3 837.9 461.8 848.3 462.3 857.4 462.8 865.3 463.3 872 463.8 877.6 464.3 882.1 464.8 885.7 465.3 888.5 465.8 890.6 466.3 892.2 466.8 893.4 467.3 894.2 467.8 894.8 468.3 895.2 468.8 895.5 469.3 895.7 469.8 895.8 470.3 895.9 470.8 895.9 471.3 895.9 471.8 895.9 472.3 895.9 472.8 895.8 473.3 895.8 473.8 895.7 474.3 895.7 474.8 895.6 475.3 895.5 475.8 895.4 476.3 895.3 476.8 895.2 477.3 895.1 477.8 895 478.3 894.9 478.8 894.8 479.3 894.6 479.8 894.5 480.3 894.4 480.8 894.2 481.3 894.1 481.8 893.9 482.3 893.8 482.8 893.6 483.3 893.4 483.8 893.3 484.3 893.1 484.8 892.9 485.3 892.8 485.8 892.6 486.3 892.4 486.8 892.2 487.3 892.1 487.8 891.9 488.3 891.7 488.8 891.5 489.3 891.3 489.8 891.2 490.3 891 490.8 890.8 491.3 890.6 491.8 890.5 492.3 890.3 492.8 890.1 493.3 889.9 493.8 889.8 494.3 889.6 494.8 889.4 495.3 889.3 495.8 889.1 496.3 889 496.8 888.8 497.3 888.7 497.8 888.5 498.3 888.4 498.8 888.3 499.3 888.1 499.8 888 500.3 887.9 500.8 887.8 501.3 887.7 501.8 887.6 502.3 887.5 502.8 887.4 503.3 887.3 503.8 887.3 504.3 887.2 504.8 887.2 505.3 887.1 505.8 887.1 506.3 887 506.8 887 507.3 887 507.8 887 508.3 887.1 508.8 887.2 509.3 887.5 509.8 887.8 510.3 888.1 510.8 888.5 511.3 889 511.8 889.5 512.3 890.1 512.8 890.6 513.3 891.2 513.8 891.8 514.3 892.4 514.8 893 515.3 893.6 515.8 894.2 516.3 894.7 516.8 895.2 517.3 895.7 517.8 896.1 518.3 896.4 518.8 896.7 519.3 896.9 519.8 897 520.3 897 520.8 897.1 521.3 897.1 521.8 897.1 522.3 897.1 522.8 897.2 523.3 897.2 523.8 897.2 524.3 897.3 524.8 897.3 525.3 897.3 525.8 897.3 526.3 897.4 526.8 897.4 527.3 897.4 527.8 897.5 528.3 897.5 528.8 897.5 529.3 897.5 529.8 897.5 530.3 897.6 530.8 897.6 531.3 897.6 531.8 897.6 532.3 897.6 532.8 897.7 533.3 897.7 533.8 897.7 534.3 897.7 534.8 897.7 535.3 897.7 535.8 897.8 536.3 897.8 536.8 897.8 537.3 897.8 537.8 897.8 538.3 897.8 538.8 897.8 539.3 897.9 539.8 897.9 540.3 897.9 540.8 897.9 541.3 897.9 541.8 897.9 542.3 897.9 542.8 897.9 543.3 897.9 543.8 897.9 544.3 897.9 544.8 897.9 545.3 898 545.8 898 546.3 898 546.8 898 547.3 898 547.8 898 548.3 898 548.8 898 549.3 898 549.8 898 550.3 898 550.8 898 551.3 898 551.8 898 552.3 898 552.8 898" stroke="#3e9bfe" stroke-width="2.8" fill="none" stroke-linejoin="round" /><path d="M403.3 897.5 403.8 897.5 404.3 897.5 404.8 897.5 405.3 897.5 405.8 897.5 406.3 897.5 406.8 897.4 407.3 897.4 407.8 897.4 408.3 897.4 408.8 897.4 409.3 897.3 409.8 897.3 410.3 897.3 410.8 897.3 411.3 897.2 411.8 897.2 412.3 897.1 412.8 897.1 413.3 897.1 413.8 897 414.3 897 414.8 896.9 415.3 896.9 415.8 896.8 416.3 896.8 416.8 896.7 417.3 896.7 417.8 896.6 418.3 896.5 418.8 896.5 419.3 896.4 419.8 896.3 420.3 896.3 420.8 896.2 421.3 896.1 421.8 896 422.3 895.9 422.8 895.9 423.3 895.8 423.8 895.7 424.3 895.6 424.8 895.5 425.3 895.4 425.8 895.3 426.3 895.2 426.8 895.1 427.3 895 427.8 894.9 428.3 894.8 428.8 894.7 429.3 894.6 429.8 894.4 430.3 894.3 430.8 894.2 431.3 894.1 431.8 894 432.3 893.8 432.8 893.7 433.3 893.6 433.8 893.4 434.3 893.3 434.8 893.1 435.3 893 435.8 892.9 436.3 892.7 436.8 892.6 437.3 892.4 437.8 892.2 438.3 892.1 438.8 891.9 439.3 891.7 439.8 891.4 440.3 891 440.8 890.6 441.3 890.1 441.8 889.4 442.3 888.8 442.8 888 443.3 887.1 443.8 886 444.3 884.8 444.8 883.4 445.3 881.6 445.8 879.3 446.3 876.3 446.8 872.7 447.3 868.2 447.8 862.9 448.3 856.7 448.8 849.4 449.3 841.1 449.8 831.8 450.3 821.6 450.8 810.4 451.3 798.6 451.8 786.2 452.3 773.8 452.8 761.8 453.3 750.4 453.8 740.4 454.3 732 454.8 725.7 455.3 721.8 455.8 720.4 456.3 721.8 456.8 725.8 457.3 732.3 457.8 740.9 458.3 751.3 458.8 763.1 459.3 775.8 459.8 788.8 460.3 801.8 460.8 814.3 461.3 826.1 461.8 836.8 462.3 846.3 462.8 854.4 463.3 861.2 463.8 866.6 464.3 870.9 464.8 874.2 465.3 876.6 465.8 878.3 466.3 879.6 466.8 880.5 467.3 881.1 467.8 881.7 468.3 882.7 468.8 884 469.3 885.7 469.8 887.5 470.3 889.3 470.8 890.9 471.3 892.2 471.8 892.9 472.3 893 472.8 893 473.3 893 473.8 893 474.3 893 474.8 893 475.3 893 475.8 893 476.3 893 476.8 893 477.3 893 477.8 893 478.3 893 478.8 893 479.3 893 479.8 893 480.3 893 480.8 893 481.3 893 481.8 893 482.3 893 482.8 893 483.3 893 483.8 893 484.3 893 484.8 893 485.3 893 485.8 893 486.3 893 486.8 893 487.3 893 487.8 893 488.3 893 488.8 893 489.3 893 489.8 893 490.3 893 490.8 893 491.3 893 491.8 893 492.3 893 492.8 893 493.3 893 493.8 893 494.3 893 494.8 893 495.3 893 495.8 893 496.3 892.9 496.8 892.9 497.3 892.9 497.8 892.8 498.3 892.7 498.8 892.5 499.3 892.3 499.8 892.1 500.3 891.7 500.8 891.3 501.3 890.8 501.8 890.2 502.3 889.4 502.8 888.6 503.3 887.7 503.8 886.8 504.3 885.8 504.8 884.9 505.3 884 505.8 883.2 506.3 882.6 506.8 882.1 507.3 881.9 507.8 881.9 508.3 882.2 508.8 882.7 509.3 883.4 509.8 884.3 510.3 885.3 510.8 886.4 511.3 887.6 511.8 888.7 512.3 889.8 512.8 890.8 513.3 891.7 513.8 892.5 514.3 893.2 514.8 893.8 515.3 894.3 515.8 894.7 516.3 895 516.8 895.3 517.3 895.5 517.8 895.6 518.3 895.7 518.8 895.8 519.3 895.9 519.8 896 520.3 896 520.8 896 521.3 896.1 521.8 896.1 522.3 896.1 522.8 896.1 523.3 896.2 523.8 896.2 524.3 896.2 524.8 896.2 525.3 896.3 525.8 896.3 526.3 896.3 526.8 896.3 527.3 896.4 527.8 896.4 528.3 896.4 528.8 896.4 529.3 896.4 529.8 896.5 530.3 896.5 530.8 896.5 531.3 896.5 531.8 896.6 532.3 896.6 532.8 896.6 533.3 896.6 533.8 896.6 534.3 896.6 534.8 896.7 535.3 896.7 535.8 896.7 536.3 896.7 536.8 896.7 537.3 896.7 537.8 896.8 538.3 896.8 538.8 896.8 539.3 896.8 539.8 896.8 540.3 896.8 540.8 896.8 541.3 896.9 541.8 896.9 542.3 896.9 542.8 896.9 543.3 896.9 543.8 896.9 544.3 896.9 544.8 896.9 545.3 896.9 545.8 896.9 546.3 897 546.8 897 547.3 897 547.8 897 548.3 897 548.8 897 549.3 897 549.8 897 550.3 897 550.8 897 551.3 897 551.8 897 552.3 897 552.8 897" stroke="#38237f" stroke-width="3.0" fill="none" stroke-linejoin="round" /></g>
<clipPath id="c41"><rect x="405.3" y="948.2" width="145.5" height="196.2"/></clipPath>
<g clip-path="url(#c41)"><path d="M403.3 1129.2 403.8 1127.8 404.3 1126.5 404.8 1125.3 405.3 1124.1 405.8 1122.9 406.3 1121.7 406.8 1120.6 407.3 1119.6 407.8 1118.5 408.3 1117.5 408.8 1116.6 409.3 1115.7 409.8 1114.8 410.3 1113.9 410.8 1113.1 411.3 1112.4 411.8 1111.6 412.3 1110.9 412.8 1110.3 413.3 1109.6 413.8 1109 414.3 1108.5 414.8 1107.9 415.3 1107.5 415.8 1107 416.3 1106.6 416.8 1106.2 417.3 1105.8 417.8 1105.5 418.3 1105.2 418.8 1104.9 419.3 1104.7 419.8 1104.5 420.3 1104.4 420.8 1104.2 421.3 1104.1 421.8 1104 422.3 1104 422.8 1104 423.3 1104.1 423.8 1104.3 424.3 1104.6 424.8 1105 425.3 1105.5 425.8 1106.1 426.3 1106.7 426.8 1107.5 427.3 1108.3 427.8 1109.2 428.3 1110.1 428.8 1111.1 429.3 1112.1 429.8 1113.2 430.3 1114.3 430.8 1115.4 431.3 1116.6 431.8 1117.7 432.3 1118.9 432.8 1120.1 433.3 1121.3 433.8 1122.4 434.3 1123.6 434.8 1124.7 435.3 1125.8 435.8 1126.9 436.3 1127.9 436.8 1128.9 437.3 1129.8 437.8 1130.7 438.3 1131.5 438.8 1132.3 439.3 1132.9 439.8 1133.5 440.3 1134 440.8 1134.4 441.3 1134.7 441.8 1134.9 442.3 1135 442.8 1134.9 443.3 1134.5 443.8 1133.9 444.3 1133 444.8 1131.8 445.3 1130.6 445.8 1129.1 446.3 1127.6 446.8 1125.9 447.3 1124.2 447.8 1122.4 448.3 1120.6 448.8 1118.8 449.3 1117.1 449.8 1115.4 450.3 1113.9 450.8 1112.4 451.3 1111.1 451.8 1110 452.3 1109.2 452.8 1108.5 453.3 1108.1 453.8 1108 454.3 1108.2 454.8 1108.6 455.3 1109.2 455.8 1109.9 456.3 1110.8 456.8 1111.9 457.3 1113.1 457.8 1114.4 458.3 1115.8 458.8 1117.2 459.3 1118.7 459.8 1120.2 460.3 1121.6 460.8 1123.1 461.3 1124.5 461.8 1125.9 462.3 1127.2 462.8 1128.4 463.3 1129.5 463.8 1130.4 464.3 1131.1 464.8 1131.7 465.3 1132.1 465.8 1132.3 466.3 1132.3 466.8 1132.1 467.3 1132 467.8 1131.7 468.3 1131.3 468.8 1130.9 469.3 1130.5 469.8 1130 470.3 1129.5 470.8 1128.9 471.3 1128.3 471.8 1127.6 472.3 1127 472.8 1126.3 473.3 1125.7 473.8 1125 474.3 1124.4 474.8 1123.8 475.3 1123.2 475.8 1122.6 476.3 1122.1 476.8 1121.6 477.3 1121.2 477.8 1120.8 478.3 1120.5 478.8 1120.3 479.3 1120.1 479.8 1120 480.3 1120 480.8 1120.1 481.3 1120.3 481.8 1120.5 482.3 1120.8 482.8 1121.2 483.3 1121.6 483.8 1122.1 484.3 1122.6 484.8 1123.1 485.3 1123.7 485.8 1124.3 486.3 1125 486.8 1125.6 487.3 1126.2 487.8 1126.9 488.3 1127.5 488.8 1128.2 489.3 1128.8 489.8 1129.4 490.3 1130 490.8 1130.5 491.3 1131 491.8 1131.5 492.3 1131.9 492.8 1132.2 493.3 1132.5 493.8 1132.8 494.3 1132.9 494.8 1133 495.3 1133 495.8 1133 496.3 1132.9 496.8 1132.8 497.3 1132.6 497.8 1132.5 498.3 1132.3 498.8 1132 499.3 1131.8 499.8 1131.6 500.3 1131.3 500.8 1131 501.3 1130.7 501.8 1130.4 502.3 1130.1 502.8 1129.8 503.3 1129.5 503.8 1129.2 504.3 1128.9 504.8 1128.7 505.3 1128.4 505.8 1128.1 506.3 1127.9 506.8 1127.7 507.3 1127.5 507.8 1127.3 508.3 1127.2 508.8 1127.1 509.3 1127 509.8 1127 510.3 1127 510.8 1127.1 511.3 1127.2 511.8 1127.4 512.3 1127.7 512.8 1128 513.3 1128.3 513.8 1128.7 514.3 1129.1 514.8 1129.5 515.3 1129.9 515.8 1130.3 516.3 1130.8 516.8 1131.2 517.3 1131.6 517.8 1132 518.3 1132.4 518.8 1132.8 519.3 1133.1 519.8 1133.4 520.3 1133.6 520.8 1133.8 521.3 1133.9 521.8 1134 522.3 1134 522.8 1133.9 523.3 1133.8 523.8 1133.6 524.3 1133.4 524.8 1133.2 525.3 1132.9 525.8 1132.6 526.3 1132.2 526.8 1131.8 527.3 1131.4 527.8 1131 528.3 1130.6 528.8 1130.1 529.3 1129.7 529.8 1129.2 530.3 1128.8 530.8 1128.3 531.3 1127.9 531.8 1127.5 532.3 1127.1 532.8 1126.7 533.3 1126.4 533.8 1126.1 534.3 1125.8 534.8 1125.5 535.3 1125.3 535.8 1125.2 536.3 1125.1 536.8 1125 537.3 1125 537.8 1125 538.3 1125 538.8 1125 539.3 1125.1 539.8 1125.1 540.3 1125.1 540.8 1125.2 541.3 1125.2 541.8 1125.3 542.3 1125.4 542.8 1125.4 543.3 1125.5 543.8 1125.6 544.3 1125.8 544.8 1125.9 545.3 1126 545.8 1126.2 546.3 1126.3 546.8 1126.5 547.3 1126.7 547.8 1126.9 548.3 1127.1 548.8 1127.4 549.3 1127.6 549.8 1127.9 550.3 1128.2 550.8 1128.5 551.3 1128.8 551.8 1129.1 552.3 1129.5 552.8 1129.8" stroke="#7a0403" stroke-width="2.8" fill="none" stroke-linejoin="round" /><path d="M403.3 1126.9 403.8 1126.9 404.3 1126.8 404.8 1126.8 405.3 1126.7 405.8 1126.6 406.3 1126.6 406.8 1126.5 407.3 1126.4 407.8 1126.4 408.3 1126.3 408.8 1126.2 409.3 1126.1 409.8 1126 410.3 1125.9 410.8 1125.8 411.3 1125.7 411.8 1125.6 412.3 1125.5 412.8 1125.3 413.3 1125.1 413.8 1125 414.3 1124.8 414.8 1124.5 415.3 1124.3 415.8 1124 416.3 1123.7 416.8 1123.4 417.3 1123 417.8 1122.6 418.3 1122.1 418.8 1121.6 419.3 1121.1 419.8 1120.5 420.3 1119.9 420.8 1119.2 421.3 1118.5 421.8 1117.7 422.3 1116.9 422.8 1116 423.3 1115 423.8 1114 424.3 1112.9 424.8 1111.8 425.3 1110.6 425.8 1109.3 426.3 1108 426.8 1106.7 427.3 1105.3 427.8 1103.9 428.3 1102.4 428.8 1100.9 429.3 1099.4 429.8 1097.9 430.3 1096.4 430.8 1094.8 431.3 1093.3 431.8 1091.8 432.3 1090.4 432.8 1089 433.3 1087.6 433.8 1086.3 434.3 1085 434.8 1083.9 435.3 1082.8 435.8 1081.8 436.3 1081 436.8 1080.2 437.3 1079.6 437.8 1079.1 438.3 1078.7 438.8 1078.4 439.3 1078.3 439.8 1078.3 440.3 1078.5 440.8 1078.8 441.3 1079.2 441.8 1079.7 442.3 1080.4 442.8 1081.2 443.3 1082.1 443.8 1083.2 444.3 1084.3 444.8 1085.5 445.3 1086.8 445.8 1088.2 446.3 1089.6 446.8 1091.1 447.3 1092.7 447.8 1094.3 448.3 1095.9 448.8 1097.5 449.3 1099.1 449.8 1100.8 450.3 1102.4 450.8 1104 451.3 1105.6 451.8 1107.1 452.3 1108.6 452.8 1110.1 453.3 1111.5 453.8 1112.9 454.3 1114.2 454.8 1115.4 455.3 1116.6 455.8 1117.8 456.3 1118.9 456.8 1119.9 457.3 1120.8 457.8 1121.7 458.3 1122.6 458.8 1123.3 459.3 1124.1 459.8 1124.7 460.3 1125.4 460.8 1126 461.3 1126.5 461.8 1127.1 462.3 1127.6 462.8 1128 463.3 1128.4 463.8 1128.8 464.3 1129.1 464.8 1129.4 465.3 1129.7 465.8 1129.9 466.3 1130 466.8 1130 467.3 1129.8 467.8 1129.6 468.3 1129.2 468.8 1128.7 469.3 1128.1 469.8 1127.5 470.3 1126.8 470.8 1126 471.3 1125.2 471.8 1124.4 472.3 1123.6 472.8 1122.8 473.3 1122 473.8 1121.2 474.3 1120.5 474.8 1119.8 475.3 1119.2 475.8 1118.7 476.3 1118.2 476.8 1117.9 477.3 1117.6 477.8 1117.5 478.3 1117.5 478.8 1117.6 479.3 1117.8 479.8 1118.1 480.3 1118.4 480.8 1118.8 481.3 1119.3 481.8 1119.8 482.3 1120.3 482.8 1120.9 483.3 1121.5 483.8 1122.2 484.3 1122.8 484.8 1123.5 485.3 1124.2 485.8 1124.8 486.3 1125.5 486.8 1126.1 487.3 1126.7 487.8 1127.3 488.3 1127.8 488.8 1128.3 489.3 1128.8 489.8 1129.2 490.3 1129.5 490.8 1129.7 491.3 1129.9 491.8 1130 492.3 1130 492.8 1130 493.3 1130 493.8 1130 494.3 1129.9 494.8 1129.9 495.3 1129.9 495.8 1129.8 496.3 1129.8 496.8 1129.8 497.3 1129.7 497.8 1129.7 498.3 1129.6 498.8 1129.5 499.3 1129.5 499.8 1129.4 500.3 1129.4 500.8 1129.3 501.3 1129.2 501.8 1129.1 502.3 1129.1 502.8 1129 503.3 1128.9 503.8 1128.9 504.3 1128.8 504.8 1128.7 505.3 1128.6 505.8 1128.6 506.3 1128.5 506.8 1128.4 507.3 1128.3 507.8 1128.3 508.3 1128.2 508.8 1128.1 509.3 1128.1 509.8 1128 510.3 1128 510.8 1127.9 511.3 1127.8 511.8 1127.8 512.3 1127.7 512.8 1127.6 513.3 1127.6 513.8 1127.5 514.3 1127.4 514.8 1127.4 515.3 1127.3 515.8 1127.2 516.3 1127.1 516.8 1127.1 517.3 1127 517.8 1126.9 518.3 1126.8 518.8 1126.8 519.3 1126.7 519.8 1126.6 520.3 1126.5 520.8 1126.4 521.3 1126.4 521.8 1126.3 522.3 1126.2 522.8 1126.1 523.3 1126.1 523.8 1126 524.3 1125.9 524.8 1125.9 525.3 1125.8 525.8 1125.7 526.3 1125.6 526.8 1125.6 527.3 1125.5 527.8 1125.5 528.3 1125.4 528.8 1125.3 529.3 1125.3 529.8 1125.2 530.3 1125.2 530.8 1125.1 531.3 1125.1 531.8 1125 532.3 1125 532.8 1125 533.3 1124.9 533.8 1124.9 534.3 1124.9 534.8 1124.9 535.3 1124.8 535.8 1124.8 536.3 1124.8 536.8 1124.8 537.3 1124.8 537.8 1124.8 538.3 1124.8 538.8 1124.8 539.3 1124.9 539.8 1124.9 540.3 1124.9 540.8 1125 541.3 1125.1 541.8 1125.1 542.3 1125.2 542.8 1125.3 543.3 1125.4 543.8 1125.5 544.3 1125.6 544.8 1125.7 545.3 1125.8 545.8 1125.9 546.3 1126 546.8 1126.2 547.3 1126.3 547.8 1126.4 548.3 1126.6 548.8 1126.7 549.3 1126.9 549.8 1127 550.3 1127.2 550.8 1127.3 551.3 1127.5 551.8 1127.6 552.3 1127.8 552.8 1127.9" stroke="#f05b12" stroke-width="2.8" fill="none" stroke-linejoin="round" /><path d="M403.3 1130 403.8 1129.9 404.3 1129.9 404.8 1129.8 405.3 1129.8 405.8 1129.7 406.3 1129.7 406.8 1129.6 407.3 1129.5 407.8 1129.5 408.3 1129.4 408.8 1129.4 409.3 1129.3 409.8 1129.3 410.3 1129.2 410.8 1129.2 411.3 1129.1 411.8 1129.1 412.3 1129 412.8 1129 413.3 1128.9 413.8 1128.9 414.3 1128.8 414.8 1128.8 415.3 1128.8 415.8 1128.7 416.3 1128.7 416.8 1128.6 417.3 1128.6 417.8 1128.5 418.3 1128.5 418.8 1128.5 419.3 1128.4 419.8 1128.4 420.3 1128.4 420.8 1128.3 421.3 1128.3 421.8 1128.3 422.3 1128.2 422.8 1128.2 423.3 1128.2 423.8 1128.1 424.3 1128.1 424.8 1128.1 425.3 1128 425.8 1128 426.3 1128 426.8 1127.9 427.3 1127.9 427.8 1127.8 428.3 1127.8 428.8 1127.7 429.3 1127.6 429.8 1127.5 430.3 1127.4 430.8 1127.3 431.3 1127.1 431.8 1126.9 432.3 1126.7 432.8 1126.4 433.3 1126 433.8 1125.6 434.3 1125.2 434.8 1124.6 435.3 1124 435.8 1123.3 436.3 1122.4 436.8 1121.5 437.3 1120.4 437.8 1119.1 438.3 1117.8 438.8 1116.2 439.3 1114.4 439.8 1112.5 440.3 1110.3 440.8 1107.9 441.3 1105.3 441.8 1102.5 442.3 1099.4 442.8 1096.1 443.3 1092.5 443.8 1088.8 444.3 1084.7 444.8 1080.5 445.3 1076.1 445.8 1071.5 446.3 1066.7 446.8 1061.8 447.3 1056.8 447.8 1051.8 448.3 1046.7 448.8 1041.6 449.3 1036.6 449.8 1031.7 450.3 1027 450.8 1022.5 451.3 1018.2 451.8 1014.2 452.3 1010.5 452.8 1007.2 453.3 1004.4 453.8 1002 454.3 1000 454.8 998.6 455.3 997.7 455.8 997.3 456.3 997.5 456.8 998.2 457.3 999.4 457.8 1001.1 458.3 1003.3 458.8 1006 459.3 1009.1 459.8 1012.7 460.3 1016.5 460.8 1020.7 461.3 1025.2 461.8 1029.8 462.3 1034.7 462.8 1039.6 463.3 1044.7 463.8 1049.7 464.3 1054.8 464.8 1059.8 465.3 1064.8 465.8 1069.6 466.3 1074.3 466.8 1078.8 467.3 1083.1 467.8 1087.2 468.3 1091.1 468.8 1094.7 469.3 1098.1 469.8 1101.3 470.3 1104.2 470.8 1106.9 471.3 1109.4 471.8 1111.7 472.3 1113.8 472.8 1115.6 473.3 1117.3 473.8 1118.9 474.3 1120.2 474.8 1121.5 475.3 1122.6 475.8 1123.5 476.3 1124.4 476.8 1125.1 477.3 1125.8 477.8 1126.4 478.3 1126.9 478.8 1127.4 479.3 1127.8 479.8 1128.2 480.3 1128.5 480.8 1128.8 481.3 1129 481.8 1129.3 482.3 1129.5 482.8 1129.7 483.3 1129.8 483.8 1130 484.3 1130.1 484.8 1130.3 485.3 1130.4 485.8 1130.5 486.3 1130.6 486.8 1130.7 487.3 1130.7 487.8 1130.8 488.3 1130.9 488.8 1130.9 489.3 1130.9 489.8 1131 490.3 1131 490.8 1131 491.3 1131 491.8 1131 492.3 1131 492.8 1131 493.3 1131 493.8 1131 494.3 1131 494.8 1131 495.3 1130.9 495.8 1130.9 496.3 1130.8 496.8 1130.7 497.3 1130.6 497.8 1130.5 498.3 1130.3 498.8 1130.1 499.3 1129.8 499.8 1129.5 500.3 1129.2 500.8 1128.8 501.3 1128.4 501.8 1127.9 502.3 1127.4 502.8 1126.9 503.3 1126.3 503.8 1125.7 504.3 1125.1 504.8 1124.5 505.3 1123.9 505.8 1123.4 506.3 1122.9 506.8 1122.5 507.3 1122.1 507.8 1121.8 508.3 1121.6 508.8 1121.5 509.3 1121.5 509.8 1121.6 510.3 1121.8 510.8 1122.1 511.3 1122.5 511.8 1122.9 512.3 1123.4 512.8 1124 513.3 1124.6 513.8 1125.2 514.3 1125.8 514.8 1126.4 515.3 1127 515.8 1127.6 516.3 1128.1 516.8 1128.6 517.3 1129.1 517.8 1129.5 518.3 1129.9 518.8 1130.2 519.3 1130.5 519.8 1130.7 520.3 1130.9 520.8 1131.1 521.3 1131.3 521.8 1131.4 522.3 1131.5 522.8 1131.5 523.3 1131.6 523.8 1131.7 524.3 1131.7 524.8 1131.7 525.3 1131.8 525.8 1131.8 526.3 1131.8 526.8 1131.8 527.3 1131.8 527.8 1131.8 528.3 1131.8 528.8 1131.9 529.3 1131.9 529.8 1131.9 530.3 1131.9 530.8 1131.9 531.3 1131.9 531.8 1131.9 532.3 1131.9 532.8 1131.9 533.3 1131.9 533.8 1131.9 534.3 1131.9 534.8 1131.9 535.3 1131.9 535.8 1131.9 536.3 1131.9 536.8 1131.9 537.3 1131.9 537.8 1131.9 538.3 1131.9 538.8 1132 539.3 1132 539.8 1132 540.3 1132 540.8 1132 541.3 1132 541.8 1132 542.3 1132 542.8 1132 543.3 1132 543.8 1132 544.3 1132 544.8 1132 545.3 1132 545.8 1132 546.3 1132 546.8 1132 547.3 1132 547.8 1132 548.3 1132 548.8 1132 549.3 1132 549.8 1132 550.3 1132 550.8 1132 551.3 1132 551.8 1132 552.3 1132 552.8 1132" stroke="#e1dd37" stroke-width="2.8" fill="none" stroke-linejoin="round" /><path d="M403.3 1127 403.8 1127 404.3 1127 404.8 1127 405.3 1127 405.8 1126.9 406.3 1126.9 406.8 1126.9 407.3 1126.9 407.8 1126.8 408.3 1126.8 408.8 1126.7 409.3 1126.7 409.8 1126.7 410.3 1126.6 410.8 1126.5 411.3 1126.5 411.8 1126.4 412.3 1126.4 412.8 1126.3 413.3 1126.2 413.8 1126.2 414.3 1126.1 414.8 1126 415.3 1125.9 415.8 1125.8 416.3 1125.7 416.8 1125.6 417.3 1125.6 417.8 1125.5 418.3 1125.4 418.8 1125.3 419.3 1125.1 419.8 1125 420.3 1124.9 420.8 1124.7 421.3 1124.3 421.8 1123.9 422.3 1123.3 422.8 1122.7 423.3 1122 423.8 1121.3 424.3 1120.4 424.8 1119.6 425.3 1118.6 425.8 1117.7 426.3 1116.7 426.8 1115.7 427.3 1114.7 427.8 1113.7 428.3 1112.6 428.8 1111.6 429.3 1110.6 429.8 1109.6 430.3 1108.6 430.8 1107.7 431.3 1106.7 431.8 1105.8 432.3 1105 432.8 1104.2 433.3 1103.4 433.8 1102.6 434.3 1101.9 434.8 1101.3 435.3 1101.2 435.8 1102.1 436.3 1103.8 436.8 1105.9 437.3 1108.2 437.8 1110.5 438.3 1112.3 438.8 1113.5 439.3 1113.7 439.8 1112.9 440.3 1110.8 440.8 1108.3 441.3 1105.7 441.8 1102.8 442.3 1099.7 442.8 1096.3 443.3 1092.7 443.8 1088.9 444.3 1084.8 444.8 1080.5 445.3 1076.1 445.8 1071.4 446.3 1066.5 446.8 1061.5 447.3 1056.4 447.8 1051.1 448.3 1045.8 448.8 1040.5 449.3 1035.2 449.8 1029.9 450.3 1024.7 450.8 1019.6 451.3 1014.7 451.8 1010.1 452.3 1005.7 452.8 1001.6 453.3 997.8 453.8 994.4 454.3 991.5 454.8 989 455.3 986.9 455.8 985.4 456.3 984.4 456.8 983.9 457.3 983.9 457.8 984.4 458.3 985.5 458.8 987 459.3 989.1 459.8 991.6 460.3 994.6 460.8 998 461.3 1001.7 461.8 1005.8 462.3 1010.2 462.8 1014.8 463.3 1019.7 463.8 1024.7 464.3 1029.8 464.8 1035 465.3 1040.3 465.8 1045.5 466.3 1050.8 466.8 1055.9 467.3 1060.9 467.8 1065.9 468.3 1070.6 468.8 1075.2 469.3 1079.6 469.8 1083.7 470.3 1087.7 470.8 1091.3 471.3 1094.7 471.8 1097.9 472.3 1100.8 472.8 1103.4 473.3 1105.8 473.8 1108 474.3 1109.9 474.8 1111.6 475.3 1113.1 475.8 1114.4 476.3 1115.5 476.8 1116.5 477.3 1117.3 477.8 1118 478.3 1118.5 478.8 1118.9 479.3 1119.3 479.8 1119.5 480.3 1119.6 480.8 1119.7 481.3 1119.8 481.8 1119.7 482.3 1119.7 482.8 1119.6 483.3 1119.5 483.8 1119.3 484.3 1119.2 484.8 1119 485.3 1118.9 485.8 1118.7 486.3 1118.5 486.8 1118.4 487.3 1118.3 487.8 1118.2 488.3 1118.1 488.8 1118 489.3 1118 489.8 1117.9 490.3 1118 490.8 1118 491.3 1118 491.8 1118 492.3 1118 492.8 1118 493.3 1118 493.8 1118 494.3 1118 494.8 1118 495.3 1118 495.8 1118 496.3 1118 496.8 1118 497.3 1118 497.8 1118 498.3 1118 498.8 1118 499.3 1118 499.8 1118 500.3 1118 500.8 1118 501.3 1118 501.8 1118 502.3 1118 502.8 1118 503.3 1118 503.8 1118 504.3 1118 504.8 1118 505.3 1118 505.8 1118 506.3 1118 506.8 1118 507.3 1118 507.8 1118 508.3 1118 508.8 1118 509.3 1118 509.8 1118 510.3 1118 510.8 1118 511.3 1118 511.8 1118 512.3 1118 512.8 1118 513.3 1118 513.8 1118 514.3 1118 514.8 1118 515.3 1118 515.8 1118 516.3 1118 516.8 1118 517.3 1118 517.8 1118 518.3 1118 518.8 1118 519.3 1118 519.8 1118 520.3 1118 520.8 1118.2 521.3 1118.4 521.8 1118.8 522.3 1119.3 522.8 1119.8 523.3 1120.4 523.8 1121.1 524.3 1121.8 524.8 1122.5 525.3 1123.2 525.8 1123.9 526.3 1124.6 526.8 1125.3 527.3 1125.9 527.8 1126.5 528.3 1127 528.8 1127.4 529.3 1127.7 529.8 1128 530.3 1128.1 530.8 1128.1 531.3 1128.2 531.8 1128.3 532.3 1128.4 532.8 1128.5 533.3 1128.5 533.8 1128.6 534.3 1128.7 534.8 1128.8 535.3 1128.8 535.8 1128.9 536.3 1129 536.8 1129 537.3 1129.1 537.8 1129.1 538.3 1129.2 538.8 1129.3 539.3 1129.3 539.8 1129.4 540.3 1129.4 540.8 1129.5 541.3 1129.5 541.8 1129.5 542.3 1129.6 542.8 1129.6 543.3 1129.7 543.8 1129.7 544.3 1129.7 544.8 1129.8 545.3 1129.8 545.8 1129.8 546.3 1129.8 546.8 1129.9 547.3 1129.9 547.8 1129.9 548.3 1129.9 548.8 1129.9 549.3 1130 549.8 1130 550.3 1130 550.8 1130 551.3 1130 551.8 1130 552.3 1130 552.8 1130" stroke="#46f884" stroke-width="2.8" fill="none" stroke-linejoin="round" /><path d="M403.3 1131 403.8 1130.9 404.3 1130.8 404.8 1130.8 405.3 1130.7 405.8 1130.7 406.3 1130.6 406.8 1130.6 407.3 1130.5 407.8 1130.4 408.3 1130.4 408.8 1130.3 409.3 1130.3 409.8 1130.2 410.3 1130.2 410.8 1130.1 411.3 1130.1 411.8 1130 412.3 1130 412.8 1129.9 413.3 1129.9 413.8 1129.8 414.3 1129.8 414.8 1129.7 415.3 1129.7 415.8 1129.6 416.3 1129.6 416.8 1129.6 417.3 1129.5 417.8 1129.5 418.3 1129.4 418.8 1129.4 419.3 1129.3 419.8 1129.3 420.3 1129.2 420.8 1129.2 421.3 1129.1 421.8 1129 422.3 1129 422.8 1128.9 423.3 1128.8 423.8 1128.7 424.3 1128.6 424.8 1128.5 425.3 1128.3 425.8 1128.2 426.3 1128 426.8 1127.7 427.3 1127.5 427.8 1127.2 428.3 1126.8 428.8 1126.4 429.3 1126 429.8 1125.5 430.3 1124.9 430.8 1124.2 431.3 1123.4 431.8 1122.5 432.3 1121.5 432.8 1120.4 433.3 1119.1 433.8 1117.7 434.3 1116.2 434.8 1114.4 435.3 1112.5 435.8 1110.4 436.3 1108 436.8 1105.5 437.3 1102.7 437.8 1099.7 438.3 1096.5 438.8 1093 439.3 1089.3 439.8 1085.3 440.3 1081.1 440.8 1076.7 441.3 1072 441.8 1067.1 442.3 1062 442.8 1056.8 443.3 1051.3 443.8 1045.7 444.3 1040 444.8 1034.2 445.3 1028.4 445.8 1022.6 446.3 1016.7 446.8 1011 447.3 1005.3 447.8 999.8 448.3 994.5 448.8 989.4 449.3 984.6 449.8 980.1 450.3 976 450.8 972.2 451.3 968.9 451.8 966.1 452.3 963.7 452.8 961.9 453.3 960.5 453.8 959.7 454.3 959.5 454.8 959.8 455.3 960.7 455.8 962.1 456.3 964 456.8 966.4 457.3 969.3 457.8 972.7 458.3 976.5 458.8 980.7 459.3 985.3 459.8 990.1 460.3 995.3 460.8 1000.6 461.3 1006.2 461.8 1011.9 462.3 1017.7 462.8 1023.6 463.3 1029.5 463.8 1035.4 464.3 1041.3 464.8 1047 465.3 1052.6 465.8 1058.1 466.3 1063.5 466.8 1068.6 467.3 1073.5 467.8 1078.3 468.3 1082.7 468.8 1087 469.3 1091 469.8 1094.8 470.3 1098.3 470.8 1101.5 471.3 1104.6 471.8 1107.4 472.3 1109.9 472.8 1112.3 473.3 1114.4 473.8 1116.3 474.3 1118.1 474.8 1119.7 475.3 1121.1 475.8 1122.3 476.3 1123.4 476.8 1124.4 477.3 1125.2 477.8 1125.9 478.3 1126.5 478.8 1127 479.3 1127.4 479.8 1127.7 480.3 1128 480.8 1128.2 481.3 1128.3 481.8 1128.4 482.3 1128.5 482.8 1128.5 483.3 1128.5 483.8 1128.5 484.3 1128.5 484.8 1128.4 485.3 1128.4 485.8 1128.3 486.3 1128.2 486.8 1128.2 487.3 1128.1 487.8 1128.1 488.3 1128 488.8 1128 489.3 1128 489.8 1128 490.3 1128 490.8 1128 491.3 1128 491.8 1128 492.3 1128 492.8 1128 493.3 1128 493.8 1128 494.3 1128 494.8 1128 495.3 1128 495.8 1128 496.3 1128 496.8 1128 497.3 1127.9 497.8 1127.9 498.3 1127.8 498.8 1127.7 499.3 1127.5 499.8 1127.3 500.3 1127 500.8 1126.6 501.3 1126.2 501.8 1125.6 502.3 1124.8 502.8 1123.9 503.3 1122.8 503.8 1121.6 504.3 1120.1 504.8 1118.4 505.3 1116.4 505.8 1114.3 506.3 1112 506.8 1109.5 507.3 1107 507.8 1104.3 508.3 1101.6 508.8 1099 509.3 1096.5 509.8 1094.2 510.3 1092.2 510.8 1090.5 511.3 1089.2 511.8 1088.4 512.3 1088 512.8 1088 513.3 1088.6 513.8 1089.6 514.3 1091.1 514.8 1092.9 515.3 1095 515.8 1097.5 516.3 1100 516.8 1102.7 517.3 1105.5 517.8 1108.2 518.3 1110.8 518.8 1113.3 519.3 1115.6 519.8 1117.8 520.3 1119.7 520.8 1121.4 521.3 1122.9 521.8 1124.2 522.3 1125.3 522.8 1126.3 523.3 1127 523.8 1127.7 524.3 1128.2 524.8 1128.6 525.3 1128.9 525.8 1129.2 526.3 1129.4 526.8 1129.5 527.3 1129.6 527.8 1129.7 528.3 1129.8 528.8 1129.9 529.3 1129.9 529.8 1130 530.3 1130 530.8 1130 531.3 1130.1 531.8 1130.1 532.3 1130.1 532.8 1130.1 533.3 1130.1 533.8 1130.2 534.3 1130.2 534.8 1130.2 535.3 1130.2 535.8 1130.3 536.3 1130.3 536.8 1130.3 537.3 1130.3 537.8 1130.4 538.3 1130.4 538.8 1130.4 539.3 1130.4 539.8 1130.4 540.3 1130.5 540.8 1130.5 541.3 1130.5 541.8 1130.5 542.3 1130.5 542.8 1130.6 543.3 1130.6 543.8 1130.6 544.3 1130.6 544.8 1130.7 545.3 1130.7 545.8 1130.7 546.3 1130.7 546.8 1130.7 547.3 1130.8 547.8 1130.8 548.3 1130.8 548.8 1130.8 549.3 1130.8 549.8 1130.9 550.3 1130.9 550.8 1130.9 551.3 1130.9 551.8 1131 552.3 1131 552.8 1131" stroke="#3e9bfe" stroke-width="2.8" fill="none" stroke-linejoin="round" /><path d="M403.3 1132.9 403.8 1132.8 404.3 1132.7 404.8 1132.6 405.3 1132.4 405.8 1132.3 406.3 1132.2 406.8 1132.1 407.3 1132 407.8 1131.8 408.3 1131.7 408.8 1131.6 409.3 1131.5 409.8 1131.4 410.3 1131.3 410.8 1131.2 411.3 1131.1 411.8 1131 412.3 1130.9 412.8 1130.8 413.3 1130.7 413.8 1130.6 414.3 1130.6 414.8 1130.5 415.3 1130.4 415.8 1130.4 416.3 1130.3 416.8 1130.2 417.3 1130.2 417.8 1130.1 418.3 1130.1 418.8 1130.1 419.3 1130 419.8 1130 420.3 1130 420.8 1130 421.3 1129.9 421.8 1129.9 422.3 1129.9 422.8 1129.9 423.3 1129.9 423.8 1129.8 424.3 1129.8 424.8 1129.8 425.3 1129.7 425.8 1129.7 426.3 1129.7 426.8 1129.6 427.3 1129.5 427.8 1129.5 428.3 1129.4 428.8 1129.3 429.3 1129.1 429.8 1129 430.3 1128.8 430.8 1128.5 431.3 1128.3 431.8 1127.9 432.3 1127.6 432.8 1127.1 433.3 1126.6 433.8 1126 434.3 1125.3 434.8 1124.5 435.3 1123.5 435.8 1122.4 436.3 1121.2 436.8 1119.8 437.3 1118.2 437.8 1116.5 438.3 1114.5 438.8 1112.3 439.3 1109.8 439.8 1107.1 440.3 1104.1 440.8 1100.8 441.3 1097.3 441.8 1093.4 442.3 1089.2 442.8 1084.8 443.3 1080 443.8 1075 444.3 1069.7 444.8 1064.1 445.3 1058.3 445.8 1052.2 446.3 1046 446.8 1039.7 447.3 1033.2 447.8 1026.7 448.3 1020.1 448.8 1013.6 449.3 1007.2 449.8 1001 450.3 994.9 450.8 989.2 451.3 983.7 451.8 978.6 452.3 973.9 452.8 969.8 453.3 966.1 453.8 963 454.3 960.5 454.8 958.6 455.3 957.4 455.8 956.8 456.3 956.9 456.8 957.7 457.3 959.1 457.8 961.1 458.3 963.8 458.8 967 459.3 970.8 459.8 975 460.3 979.8 460.8 984.9 461.3 990.3 461.8 996.1 462.3 1002.1 462.8 1008.2 463.3 1014.5 463.8 1020.9 464.3 1027.2 464.8 1033.5 465.3 1039.8 465.8 1045.9 466.3 1051.9 466.8 1057.6 467.3 1063.2 467.8 1068.5 468.3 1073.5 468.8 1078.2 469.3 1082.7 469.8 1086.9 470.3 1090.8 470.8 1094.4 471.3 1097.7 471.8 1100.7 472.3 1103.5 472.8 1106 473.3 1108.3 473.8 1110.3 474.3 1112.1 474.8 1113.8 475.3 1115.2 475.8 1116.5 476.3 1117.7 476.8 1118.8 477.3 1119.8 477.8 1120.7 478.3 1121.6 478.8 1122.3 479.3 1123.1 479.8 1123.8 480.3 1124.4 480.8 1125 481.3 1125.6 481.8 1126.1 482.3 1126.6 482.8 1127.1 483.3 1127.6 483.8 1128 484.3 1128.4 484.8 1128.8 485.3 1129.2 485.8 1129.5 486.3 1129.8 486.8 1130.1 487.3 1130.3 487.8 1130.5 488.3 1130.7 488.8 1130.8 489.3 1130.9 489.8 1130.9 490.3 1130.9 490.8 1130.9 491.3 1130.9 491.8 1130.9 492.3 1130.8 492.8 1130.8 493.3 1130.7 493.8 1130.6 494.3 1130.4 494.8 1130.2 495.3 1130 495.8 1129.7 496.3 1129.3 496.8 1128.8 497.3 1128.2 497.8 1127.4 498.3 1126.5 498.8 1125.5 499.3 1124.3 499.8 1122.8 500.3 1121.2 500.8 1119.4 501.3 1117.4 501.8 1115.2 502.3 1112.8 502.8 1110.2 503.3 1107.5 503.8 1104.8 504.3 1102 504.8 1099.2 505.3 1096.5 505.8 1094 506.3 1091.7 506.8 1089.6 507.3 1087.9 507.8 1086.5 508.3 1085.6 508.8 1085.1 509.3 1085 509.8 1085.4 510.3 1086.3 510.8 1087.6 511.3 1089.2 511.8 1091.2 512.3 1093.5 512.8 1096 513.3 1098.7 513.8 1101.4 514.3 1104.2 514.8 1107 515.3 1109.7 515.8 1112.3 516.3 1114.7 516.8 1116.9 517.3 1119 517.8 1120.9 518.3 1122.5 518.8 1124 519.3 1125.3 519.8 1126.3 520.3 1127.3 520.8 1128 521.3 1128.7 521.8 1129.2 522.3 1129.6 522.8 1129.9 523.3 1130.2 523.8 1130.4 524.3 1130.5 524.8 1130.7 525.3 1130.8 525.8 1130.8 526.3 1130.9 526.8 1130.9 527.3 1130.9 527.8 1131 528.3 1131 528.8 1131 529.3 1131 529.8 1131 530.3 1131 530.8 1131 531.3 1131 531.8 1131 532.3 1131 532.8 1131 533.3 1131 533.8 1131 534.3 1131.1 534.8 1131.1 535.3 1131.1 535.8 1131.1 536.3 1131.1 536.8 1131.1 537.3 1131.1 537.8 1131.2 538.3 1131.2 538.8 1131.2 539.3 1131.2 539.8 1131.2 540.3 1131.3 540.8 1131.3 541.3 1131.3 541.8 1131.3 542.3 1131.4 542.8 1131.4 543.3 1131.4 543.8 1131.5 544.3 1131.5 544.8 1131.5 545.3 1131.5 545.8 1131.6 546.3 1131.6 546.8 1131.6 547.3 1131.7 547.8 1131.7 548.3 1131.7 548.8 1131.7 549.3 1131.8 549.8 1131.8 550.3 1131.8 550.8 1131.9 551.3 1131.9 551.8 1131.9 552.3 1132 552.8 1132" stroke="#38237f" stroke-width="3.0" fill="none" stroke-linejoin="round" /></g>
<clipPath id="c02"><rect x="561.9" y="0.6" width="119.3" height="197"/></clipPath>
<g clip-path="url(#c02)"><path d="M566.5 19.3 567.5 21.9 568.5 25 569.5 28.4 570.4 32.2 571.4 36.3 572.4 40.7 573.4 45.4 574.4 50.3 575.4 55.3 576.4 60.4 577.4 65.7 578.3 70.9 579.3 76.3 580.3 81.5 581.3 86.8 582.3 92 583.3 97.1 584.3 102.1 585.3 107 586.2 111.7 587.2 116.3 588.2 120.8 589.2 125.1 590.2 129.2 591.2 133.2 592.2 136.9 593.2 140.6 594.1 144 595.1 147.3 596.1 150.4 597.1 153.4 598.1 156.2 599.1 158.9 600.1 161.4 601.1 163.8 602 166 603 168.1 604 170.1 605 171.9 606 173.7 607 175.3 608 176.9 609 178.3 609.9 179.6 610.9 180.9 611.9 182.1 612.9 183.2 613.9 184.2 614.9 185.2 615.9 186.1 616.9 186.9 617.8 187.7 618.8 188.4 619.8 189.1 620.8 189.7 621.8 190.3 622.8 190.8 623.8 191.3 624.8 191.8 625.7 192.2 626.7 192.6 627.7 193 628.7 193.3 629.7 193.7 630.7 194 631.7 194.2 632.7 194.5 633.6 194.7 634.6 195 635.6 195.2 636.6 195.3 637.6 195.5 638.6 195.7 639.6 195.8 640.6 196 641.5 196.1 642.5 196.2 643.5 196.3 644.5 196.4 645.5 196.5 646.5 196.6 647.5 196.7 648.5 196.7 649.4 196.8 650.4 196.9 651.4 196.9 652.4 197 653.4 197 654.4 197.1 655.4 197.1 656.4 197.2 657.3 197.2 658.3 197.2 659.3 197.3 660.3 197.3 661.3 197.3 662.3 197.3 663.3 197.4 664.3 197.4 665.2 197.4 666.2 197.4 667.2 197.4 668.2 197.4 669.2 197.4 670.2 197.5 671.2 197.5 672.2 197.5 673.1 197.5 674.1 197.5 675.1 197.5 676.1 197.5 677.1 197.5 678.1 197.5 679.1 197.5 680.1 197.5 681 197.5 682 197.5 683 197.6 684 197.6" stroke="#000" stroke-width="2.4" fill="none" stroke-linejoin="round" stroke-dasharray="9.2 4" stroke-linecap="butt"/><path d="M565.9 10.9L570.9 20.9L560.9 20.9Z" fill="#38237f" stroke="#38237f" stroke-width="0.6" stroke-linejoin="round"/><path d="M571.4 26.5L576.4 36.5L566.4 36.5Z" fill="#4685fa" stroke="#4685fa" stroke-width="0.6" stroke-linejoin="round"/><path d="M576.8 60.9L581.8 70.9L571.8 70.9Z" fill="#1ae4b6" stroke="#1ae4b6" stroke-width="0.6" stroke-linejoin="round"/><path d="M597.2 152.5L602.2 162.5L592.2 162.5Z" fill="#a4fc3c" stroke="#a4fc3c" stroke-width="0.6" stroke-linejoin="round"/><path d="M608.7 173.4L613.7 183.4L603.7 183.4Z" fill="#faba39" stroke="#faba39" stroke-width="0.6" stroke-linejoin="round"/><path d="M636.8 186.4L641.8 196.4L631.8 196.4Z" fill="#e4450a" stroke="#e4450a" stroke-width="0.6" stroke-linejoin="round"/><path d="M675.0 186.7L680.0 196.7L670.0 196.7Z" fill="#7a0403" stroke="#7a0403" stroke-width="0.6" stroke-linejoin="round"/></g>
<clipPath id="c12"><rect x="561.9" y="237.6" width="119.3" height="196.9"/></clipPath>
<g clip-path="url(#c12)"><path d="M572.1 250.4 573 251.5 573.8 252.7 574.7 253.9 575.6 255.2 576.4 256.7 577.3 258.1 578.2 259.7 579.1 261.3 579.9 262.9 580.8 264.7 581.7 266.4 582.5 268.3 583.4 270.1 584.3 272.1 585.1 274 586 276.1 586.9 278.1 587.7 280.2 588.6 282.3 589.5 284.5 590.3 286.6 591.2 288.8 592.1 291 593 293.3 593.8 295.5 594.7 297.8 595.6 300 596.4 302.3 597.3 304.6 598.2 306.8 599 309.1 599.9 311.4 600.8 313.7 601.6 315.9 602.5 318.2 603.4 320.4 604.2 322.7 605.1 324.9 606 327.1 606.9 329.3 607.7 331.4 608.6 333.6 609.5 335.7 610.3 337.8 611.2 339.9 612.1 342 612.9 344 613.8 346 614.7 348 615.5 350 616.4 351.9 617.3 353.8 618.2 355.7 619 357.6 619.9 359.4 620.8 361.2 621.6 362.9 622.5 364.7 623.4 366.4 624.2 368 625.1 369.7 626 371.3 626.8 372.9 627.7 374.4 628.6 376 629.4 377.5 630.3 378.9 631.2 380.4 632.1 381.8 632.9 383.1 633.8 384.5 634.7 385.8 635.5 387.1 636.4 388.3 637.3 389.6 638.1 390.8 639 392 639.9 393.1 640.7 394.2 641.6 395.3 642.5 396.4 643.4 397.5 644.2 398.5 645.1 399.5 646 400.5 646.8 401.4 647.7 402.3 648.6 403.2 649.4 404.1 650.3 405 651.2 405.8 652 406.6 652.9 407.4 653.8 408.2 654.6 409 655.5 409.7 656.4 410.4 657.3 411.1 658.1 411.8 659 412.5 659.9 413.1 660.7 413.7 661.6 414.4 662.5 414.9 663.3 415.5 664.2 416.1 665.1 416.6 665.9 417.2 666.8 417.7 667.7 418.2 668.5 418.7 669.4 419.1 670.3 419.6 671.2 420.1 672 420.5 672.9 420.9 673.8 421.3 674.6 421.7 675.5 422.1" stroke="#000" stroke-width="2.4" fill="none" stroke-linejoin="round" stroke-dasharray="9.2 4" stroke-linecap="butt"/><path d="M574.5 265.2L579.5 275.2L569.5 275.2Z" fill="#38237f" stroke="#38237f" stroke-width="0.6" stroke-linejoin="round"/><path d="M599.6 291.3L604.6 301.3L594.6 301.3Z" fill="#3e9bfe" stroke="#3e9bfe" stroke-width="0.6" stroke-linejoin="round"/><path d="M608.7 316.0L613.7 326.0L603.7 326.0Z" fill="#46f884" stroke="#46f884" stroke-width="0.6" stroke-linejoin="round"/><path d="M631.9 388.1L636.9 398.1L626.9 398.1Z" fill="#e1dd37" stroke="#e1dd37" stroke-width="0.6" stroke-linejoin="round"/><path d="M667.9 429.4L672.9 439.4L662.9 439.4Z" fill="#f05b12" stroke="#f05b12" stroke-width="0.6" stroke-linejoin="round"/><path d="M673.6 429.4L678.6 439.4L668.6 439.4Z" fill="#7a0403" stroke="#7a0403" stroke-width="0.6" stroke-linejoin="round"/></g>
<clipPath id="c22"><rect x="561.9" y="474.4" width="119.3" height="196.8"/></clipPath>
<g clip-path="url(#c22)"><path d="M567.3 489.8 568.2 490.9 569.1 492.2 570 493.6 570.9 495.2 571.8 497 572.7 498.9 573.6 500.9 574.5 503 575.4 505.3 576.3 507.7 577.2 510.2 578.1 512.7 579 515.4 579.9 518.1 580.8 520.9 581.7 523.8 582.6 526.7 583.5 529.7 584.4 532.7 585.3 535.7 586.2 538.8 587.1 541.8 588 544.9 588.9 548 589.8 551.1 590.7 554.2 591.6 557.3 592.5 560.3 593.4 563.3 594.4 566.3 595.3 569.3 596.2 572.3 597.1 575.2 598 578 598.9 580.8 599.8 583.6 600.7 586.3 601.6 589 602.5 591.6 603.4 594.2 604.3 596.7 605.2 599.2 606.1 601.6 607 603.9 607.9 606.2 608.8 608.5 609.7 610.6 610.6 612.8 611.5 614.8 612.4 616.8 613.3 618.8 614.2 620.7 615.1 622.5 616 624.3 616.9 626.1 617.8 627.7 618.7 629.4 619.6 630.9 620.5 632.5 621.4 633.9 622.3 635.4 623.2 636.7 624.1 638.1 625 639.4 625.9 640.6 626.8 641.8 627.7 643 628.6 644.1 629.5 645.2 630.4 646.2 631.3 647.2 632.2 648.2 633.1 649.1 634 650 634.9 650.9 635.8 651.7 636.7 652.5 637.6 653.3 638.5 654 639.4 654.7 640.3 655.4 641.2 656.1 642.1 656.7 643 657.3 643.9 657.9 644.8 658.5 645.7 659 646.6 659.5 647.5 660 648.5 660.5 649.4 661 650.3 661.4 651.2 661.8 652.1 662.2 653 662.6 653.9 663 654.8 663.3 655.7 663.7 656.6 664 657.5 664.3 658.4 664.6 659.3 664.9 660.2 665.2 661.1 665.4 662 665.7 662.9 665.9 663.8 666.2 664.7 666.4 665.6 666.6 666.5 666.8 667.4 667 668.3 667.2 669.2 667.4 670.1 667.5 671 667.7 671.9 667.9 672.8 668 673.7 668.2 674.6 668.3" stroke="#000" stroke-width="2.4" fill="none" stroke-linejoin="round" stroke-dasharray="9.2 4" stroke-linecap="butt"/><path d="M570.8 501.7L575.8 511.7L565.8 511.7Z" fill="#38237f" stroke="#38237f" stroke-width="0.6" stroke-linejoin="round"/><path d="M572.7 478.2L577.7 488.2L567.7 488.2Z" fill="#4685fa" stroke="#4685fa" stroke-width="0.6" stroke-linejoin="round"/><path d="M579.7 508.3L584.7 518.3L574.7 518.3Z" fill="#1ae4b6" stroke="#1ae4b6" stroke-width="0.6" stroke-linejoin="round"/><path d="M590.5 563.1L595.5 573.1L585.5 573.1Z" fill="#a4fc3c" stroke="#a4fc3c" stroke-width="0.6" stroke-linejoin="round"/><path d="M597.1 573.1L602.1 583.1L592.1 583.1Z" fill="#faba39" stroke="#faba39" stroke-width="0.6" stroke-linejoin="round"/><path d="M601.5 583.5L606.5 593.5L596.5 593.5Z" fill="#e4450a" stroke="#e4450a" stroke-width="0.6" stroke-linejoin="round"/><path d="M673.6 666.0L678.6 676.0L668.6 676.0Z" fill="#7a0403" stroke="#7a0403" stroke-width="0.6" stroke-linejoin="round"/></g>
<clipPath id="c32"><rect x="561.9" y="711.1" width="119.3" height="197"/></clipPath>
<g clip-path="url(#c32)"><path d="M577.8 732.4 578.6 733.4 579.5 734.5 580.3 735.6 581.1 736.8 581.9 738 582.8 739.3 583.6 740.6 584.4 741.9 585.3 743.3 586.1 744.7 586.9 746.1 587.8 747.6 588.6 749.1 589.4 750.6 590.2 752.1 591.1 753.7 591.9 755.3 592.7 756.9 593.6 758.5 594.4 760.1 595.2 761.8 596 763.5 596.9 765.2 597.7 766.9 598.5 768.6 599.4 770.3 600.2 772.1 601 773.8 601.9 775.6 602.7 777.3 603.5 779.1 604.3 780.8 605.2 782.6 606 784.4 606.8 786.1 607.7 787.9 608.5 789.6 609.3 791.4 610.1 793.1 611 794.9 611.8 796.6 612.6 798.4 613.5 800.1 614.3 801.8 615.1 803.5 616 805.2 616.8 806.9 617.6 808.5 618.4 810.2 619.3 811.9 620.1 813.5 620.9 815.1 621.8 816.7 622.6 818.3 623.4 819.9 624.2 821.4 625.1 823 625.9 824.5 626.7 826 627.6 827.5 628.4 829 629.2 830.5 630.1 831.9 630.9 833.3 631.7 834.7 632.5 836.1 633.4 837.5 634.2 838.8 635 840.2 635.9 841.5 636.7 842.8 637.5 844.1 638.3 845.3 639.2 846.6 640 847.8 640.8 849 641.7 850.2 642.5 851.4 643.3 852.5 644.2 853.7 645 854.8 645.8 855.9 646.6 857 647.5 858 648.3 859.1 649.1 860.1 650 861.1 650.8 862.1 651.6 863.1 652.4 864 653.3 865 654.1 865.9 654.9 866.8 655.8 867.7 656.6 868.5 657.4 869.4 658.3 870.2 659.1 871.1 659.9 871.9 660.7 872.7 661.6 873.5 662.4 874.2 663.2 875 664.1 875.7 664.9 876.4 665.7 877.1 666.5 877.8 667.4 878.5 668.2 879.2 669 879.8 669.9 880.5 670.7 881.1 671.5 881.7 672.4 882.3 673.2 882.9 674 883.5 674.8 884.1 675.7 884.6 676.5 885.1" stroke="#000" stroke-width="2.4" fill="none" stroke-linejoin="round" stroke-dasharray="9.2 4" stroke-linecap="butt"/><path d="M581.6 745.3L586.6 755.3L576.6 755.3Z" fill="#38237f" stroke="#38237f" stroke-width="0.6" stroke-linejoin="round"/><path d="M593.0 753.9L598.0 763.9L588.0 763.9Z" fill="#3e9bfe" stroke="#3e9bfe" stroke-width="0.6" stroke-linejoin="round"/><path d="M602.1 767.3L607.1 777.3L597.1 777.3Z" fill="#46f884" stroke="#46f884" stroke-width="0.6" stroke-linejoin="round"/><path d="M615.4 786.2L620.4 796.2L610.4 796.2Z" fill="#e1dd37" stroke="#e1dd37" stroke-width="0.6" stroke-linejoin="round"/><path d="M650.3 882.0L655.3 892.0L645.3 892.0Z" fill="#f05b12" stroke="#f05b12" stroke-width="0.6" stroke-linejoin="round"/><path d="M672.7 886.7L677.7 896.7L667.7 896.7Z" fill="#7a0403" stroke="#7a0403" stroke-width="0.6" stroke-linejoin="round"/></g>
<clipPath id="c42"><rect x="561.9" y="948.2" width="119.3" height="196.2"/></clipPath>
<g clip-path="url(#c42)"><path d="M570.2 960.4 571.1 961.5 572 962.7 572.9 964 573.7 965.4 574.6 966.9 575.5 968.5 576.4 970.2 577.3 971.9 578.2 973.7 579 975.6 579.9 977.6 580.8 979.6 581.7 981.7 582.6 983.9 583.5 986.1 584.4 988.3 585.2 990.6 586.1 993 587 995.3 587.9 997.7 588.8 1000.2 589.7 1002.6 590.6 1005.1 591.4 1007.6 592.3 1010.1 593.2 1012.6 594.1 1015.1 595 1017.6 595.9 1020.2 596.7 1022.7 597.6 1025.2 598.5 1027.7 599.4 1030.2 600.3 1032.7 601.2 1035.1 602.1 1037.6 602.9 1040 603.8 1042.4 604.7 1044.8 605.6 1047.1 606.5 1049.4 607.4 1051.7 608.2 1054 609.1 1056.2 610 1058.5 610.9 1060.6 611.8 1062.8 612.7 1064.9 613.6 1066.9 614.4 1069 615.3 1071 616.2 1072.9 617.1 1074.9 618 1076.7 618.9 1078.6 619.8 1080.4 620.6 1082.2 621.5 1083.9 622.4 1085.6 623.3 1087.3 624.2 1088.9 625.1 1090.5 625.9 1092.1 626.8 1093.6 627.7 1095.1 628.6 1096.5 629.5 1098 630.4 1099.3 631.3 1100.7 632.1 1102 633 1103.3 633.9 1104.5 634.8 1105.7 635.7 1106.9 636.6 1108.1 637.5 1109.2 638.3 1110.3 639.2 1111.3 640.1 1112.4 641 1113.4 641.9 1114.3 642.8 1115.3 643.6 1116.2 644.5 1117.1 645.4 1118 646.3 1118.8 647.2 1119.7 648.1 1120.5 649 1121.2 649.8 1122 650.7 1122.7 651.6 1123.4 652.5 1124.1 653.4 1124.8 654.3 1125.4 655.1 1126 656 1126.6 656.9 1127.2 657.8 1127.8 658.7 1128.4 659.6 1128.9 660.5 1129.4 661.3 1129.9 662.2 1130.4 663.1 1130.9 664 1131.3 664.9 1131.8 665.8 1132.2 666.7 1132.6 667.5 1133 668.4 1133.4 669.3 1133.8 670.2 1134.1 671.1 1134.5 672 1134.8 672.8 1135.2 673.7 1135.5 674.6 1135.8 675.5 1136.1" stroke="#000" stroke-width="2.4" fill="none" stroke-linejoin="round" stroke-dasharray="9.2 4" stroke-linecap="butt"/><path d="M572.7 968.0L577.7 978.0L567.7 978.0Z" fill="#38237f" stroke="#38237f" stroke-width="0.6" stroke-linejoin="round"/><path d="M579.7 973.0L584.7 983.0L574.7 983.0Z" fill="#3e9bfe" stroke="#3e9bfe" stroke-width="0.6" stroke-linejoin="round"/><path d="M588.6 995.1L593.6 1005.1L583.6 1005.1Z" fill="#46f884" stroke="#46f884" stroke-width="0.6" stroke-linejoin="round"/><path d="M595.2 1008.1L600.2 1018.1L590.2 1018.1Z" fill="#e1dd37" stroke="#e1dd37" stroke-width="0.6" stroke-linejoin="round"/><path d="M662.6 1139.4L667.6 1149.4L657.6 1149.4Z" fill="#f05b12" stroke="#f05b12" stroke-width="0.6" stroke-linejoin="round"/><path d="M673.6 1139.4L678.6 1149.4L668.6 1149.4Z" fill="#7a0403" stroke="#7a0403" stroke-width="0.6" stroke-linejoin="round"/></g>
<path d="M66.7 197.6V189.6M66.7 0.6V8.6M142.1 197.6V189.6M142.1 0.6V8.6M217.5 197.6V189.6M217.5 0.6V8.6M292.9 197.6V189.6M292.9 0.6V8.6M368.3 197.6V189.6M368.3 0.6V8.6M66.7 15.6H74.7M368.3 15.6H360.3M66.7 65.2H74.7M368.3 65.2H360.3M66.7 114.8H74.7M368.3 114.8H360.3M66.7 164.4H74.7M368.3 164.4H360.3" stroke="#000" stroke-width="1.9" fill="none"/>
<rect x="66.7" y="0.6" width="301.6" height="197" stroke="#000" stroke-width="1.35" fill="none"/>
<text x="66.7" y="218.2" font-size="17.1" text-anchor="middle" fill="#000" stroke="#000" stroke-width="0.3" textLength="35.6" lengthAdjust="spacingAndGlyphs" >16.0</text>
<text x="142.1" y="218.2" font-size="17.1" text-anchor="middle" fill="#000" stroke="#000" stroke-width="0.3" textLength="35.6" lengthAdjust="spacingAndGlyphs" >20.5</text>
<text x="217.5" y="218.2" font-size="17.1" text-anchor="middle" fill="#000" stroke="#000" stroke-width="0.3" textLength="35.6" lengthAdjust="spacingAndGlyphs" >25.0</text>
<text x="292.9" y="218.2" font-size="17.1" text-anchor="middle" fill="#000" stroke="#000" stroke-width="0.3" textLength="35.6" lengthAdjust="spacingAndGlyphs" >29.5</text>
<text x="368.3" y="218.2" font-size="17.1" text-anchor="middle" fill="#000" stroke="#000" stroke-width="0.3" textLength="35.6" lengthAdjust="spacingAndGlyphs" >34.0</text>
<text x="59" y="21.9" font-size="17.1" text-anchor="end" fill="#000" stroke="#000" stroke-width="0.3" textLength="20.4" lengthAdjust="spacingAndGlyphs" >20</text>
<text x="59" y="71.5" font-size="17.1" text-anchor="end" fill="#000" stroke="#000" stroke-width="0.3" textLength="20.4" lengthAdjust="spacingAndGlyphs" >10</text>
<text x="59" y="121.1" font-size="17.1" text-anchor="end" fill="#000" stroke="#000" stroke-width="0.3" textLength="10.2" lengthAdjust="spacingAndGlyphs" >0</text>
<text x="59" y="170.7" font-size="17.1" text-anchor="end" fill="#000" stroke="#000" stroke-width="0.3" textLength="33.8" lengthAdjust="spacingAndGlyphs" >−10</text>
<path d="M405.3 197.6V189.6M405.3 0.6V8.6M445.7 197.6V189.6M445.7 0.6V8.6M486.2 197.6V189.6M486.2 0.6V8.6M526.6 197.6V189.6M526.6 0.6V8.6M405.3 188.9H413.3M550.8 188.9H542.8M405.3 148.6H413.3M550.8 148.6H542.8M405.3 108.3H413.3M550.8 108.3H542.8M405.3 68H413.3M550.8 68H542.8M405.3 27.7H413.3M550.8 27.7H542.8" stroke="#000" stroke-width="1.9" fill="none"/>
<rect x="405.3" y="0.6" width="145.5" height="197" stroke="#000" stroke-width="1.35" fill="none"/>
<text x="405.3" y="218.2" font-size="17.1" text-anchor="middle" fill="#000" stroke="#000" stroke-width="0.3" textLength="10.2" lengthAdjust="spacingAndGlyphs" >0</text>
<text x="445.7" y="218.2" font-size="17.1" text-anchor="middle" fill="#000" stroke="#000" stroke-width="0.3" textLength="30.5" lengthAdjust="spacingAndGlyphs" >250</text>
<text x="486.2" y="218.2" font-size="17.1" text-anchor="middle" fill="#000" stroke="#000" stroke-width="0.3" textLength="30.5" lengthAdjust="spacingAndGlyphs" >500</text>
<text x="526.6" y="218.2" font-size="17.1" text-anchor="middle" fill="#000" stroke="#000" stroke-width="0.3" textLength="30.5" lengthAdjust="spacingAndGlyphs" >750</text>
<path d="M561.9 197.6V189.6M561.9 0.6V8.6M609.1 197.6V189.6M609.1 0.6V8.6M656.3 197.6V189.6M656.3 0.6V8.6M561.9 197.6H569.9M681.2 197.6H673.2M561.9 160.1H569.9M681.2 160.1H673.2M561.9 122.6H569.9M681.2 122.6H673.2M561.9 85.1H569.9M681.2 85.1H673.2M561.9 47.6H569.9M681.2 47.6H673.2M561.9 10.1H569.9M681.2 10.1H673.2" stroke="#000" stroke-width="1.9" fill="none"/>
<rect x="561.9" y="0.6" width="119.3" height="197" stroke="#000" stroke-width="1.35" fill="none"/>
<text x="561.9" y="218.2" font-size="17.1" text-anchor="middle" fill="#000" stroke="#000" stroke-width="0.3" textLength="10.2" lengthAdjust="spacingAndGlyphs" >0</text>
<text x="609.1" y="218.2" font-size="17.1" text-anchor="middle" fill="#000" stroke="#000" stroke-width="0.3" textLength="10.2" lengthAdjust="spacingAndGlyphs" >5</text>
<text x="656.3" y="218.2" font-size="17.1" text-anchor="middle" fill="#000" stroke="#000" stroke-width="0.3" textLength="20.4" lengthAdjust="spacingAndGlyphs" >10</text>
<path d="M104.5 434.5V426.5M104.5 237.6V245.6M167.6 434.5V426.5M167.6 237.6V245.6M230.8 434.5V426.5M230.8 237.6V245.6M293.9 434.5V426.5M293.9 237.6V245.6M357 434.5V426.5M357 237.6V245.6M66.7 286.8H74.7M368.3 286.8H360.3M66.7 346.5H74.7M368.3 346.5H360.3M66.7 406.2H74.7M368.3 406.2H360.3" stroke="#000" stroke-width="1.9" fill="none"/>
<rect x="66.7" y="237.6" width="301.6" height="196.9" stroke="#000" stroke-width="1.35" fill="none"/>
<text x="104.5" y="455.1" font-size="17.1" text-anchor="middle" fill="#000" stroke="#000" stroke-width="0.3" textLength="35.6" lengthAdjust="spacingAndGlyphs" >18.0</text>
<text x="167.6" y="455.1" font-size="17.1" text-anchor="middle" fill="#000" stroke="#000" stroke-width="0.3" textLength="35.6" lengthAdjust="spacingAndGlyphs" >20.5</text>
<text x="230.8" y="455.1" font-size="17.1" text-anchor="middle" fill="#000" stroke="#000" stroke-width="0.3" textLength="35.6" lengthAdjust="spacingAndGlyphs" >23.0</text>
<text x="293.9" y="455.1" font-size="17.1" text-anchor="middle" fill="#000" stroke="#000" stroke-width="0.3" textLength="35.6" lengthAdjust="spacingAndGlyphs" >25.5</text>
<text x="357" y="455.1" font-size="17.1" text-anchor="middle" fill="#000" stroke="#000" stroke-width="0.3" textLength="35.6" lengthAdjust="spacingAndGlyphs" >28.0</text>
<text x="59" y="293.1" font-size="17.1" text-anchor="end" fill="#000" stroke="#000" stroke-width="0.3" textLength="20.4" lengthAdjust="spacingAndGlyphs" >20</text>
<text x="59" y="352.8" font-size="17.1" text-anchor="end" fill="#000" stroke="#000" stroke-width="0.3" textLength="10.2" lengthAdjust="spacingAndGlyphs" >0</text>
<text x="59" y="412.5" font-size="17.1" text-anchor="end" fill="#000" stroke="#000" stroke-width="0.3" textLength="33.8" lengthAdjust="spacingAndGlyphs" >−20</text>
<path d="M405.3 434.5V426.5M405.3 237.6V245.6M445.7 434.5V426.5M445.7 237.6V245.6M486.2 434.5V426.5M486.2 237.6V245.6M526.6 434.5V426.5M526.6 237.6V245.6M405.3 425.8H413.3M550.8 425.8H542.8M405.3 391.2H413.3M550.8 391.2H542.8M405.3 356.5H413.3M550.8 356.5H542.8M405.3 321.9H413.3M550.8 321.9H542.8M405.3 287.2H413.3M550.8 287.2H542.8M405.3 252.6H413.3M550.8 252.6H542.8" stroke="#000" stroke-width="1.9" fill="none"/>
<rect x="405.3" y="237.6" width="145.5" height="196.9" stroke="#000" stroke-width="1.35" fill="none"/>
<text x="405.3" y="455.1" font-size="17.1" text-anchor="middle" fill="#000" stroke="#000" stroke-width="0.3" textLength="10.2" lengthAdjust="spacingAndGlyphs" >0</text>
<text x="445.7" y="455.1" font-size="17.1" text-anchor="middle" fill="#000" stroke="#000" stroke-width="0.3" textLength="30.5" lengthAdjust="spacingAndGlyphs" >250</text>
<text x="486.2" y="455.1" font-size="17.1" text-anchor="middle" fill="#000" stroke="#000" stroke-width="0.3" textLength="30.5" lengthAdjust="spacingAndGlyphs" >500</text>
<text x="526.6" y="455.1" font-size="17.1" text-anchor="middle" fill="#000" stroke="#000" stroke-width="0.3" textLength="30.5" lengthAdjust="spacingAndGlyphs" >750</text>
<path d="M561.9 434.5V426.5M561.9 237.6V245.6M608.9 434.5V426.5M608.9 237.6V245.6M655.9 434.5V426.5M655.9 237.6V245.6M561.9 434.5H569.9M681.2 434.5H673.2M561.9 397H569.9M681.2 397H673.2M561.9 359.5H569.9M681.2 359.5H673.2M561.9 322H569.9M681.2 322H673.2M561.9 284.5H569.9M681.2 284.5H673.2M561.9 247H569.9M681.2 247H673.2" stroke="#000" stroke-width="1.9" fill="none"/>
<rect x="561.9" y="237.6" width="119.3" height="196.9" stroke="#000" stroke-width="1.35" fill="none"/>
<text x="561.9" y="455.1" font-size="17.1" text-anchor="middle" fill="#000" stroke="#000" stroke-width="0.3" textLength="10.2" lengthAdjust="spacingAndGlyphs" >0</text>
<text x="608.9" y="455.1" font-size="17.1" text-anchor="middle" fill="#000" stroke="#000" stroke-width="0.3" textLength="10.2" lengthAdjust="spacingAndGlyphs" >2</text>
<text x="655.9" y="455.1" font-size="17.1" text-anchor="middle" fill="#000" stroke="#000" stroke-width="0.3" textLength="10.2" lengthAdjust="spacingAndGlyphs" >4</text>
<path d="M66.7 671.2V663.2M66.7 474.4V482.4M142.1 671.2V663.2M142.1 474.4V482.4M217.5 671.2V663.2M217.5 474.4V482.4M292.9 671.2V663.2M292.9 474.4V482.4M368.3 671.2V663.2M368.3 474.4V482.4M66.7 504.3H74.7M368.3 504.3H360.3M66.7 542.1H74.7M368.3 542.1H360.3M66.7 580H74.7M368.3 580H360.3M66.7 617.9H74.7M368.3 617.9H360.3M66.7 655.7H74.7M368.3 655.7H360.3" stroke="#000" stroke-width="1.9" fill="none"/>
<rect x="66.7" y="474.4" width="301.6" height="196.8" stroke="#000" stroke-width="1.35" fill="none"/>
<text x="66.7" y="691.8" font-size="17.1" text-anchor="middle" fill="#000" stroke="#000" stroke-width="0.3" textLength="20.4" lengthAdjust="spacingAndGlyphs" >20</text>
<text x="142.1" y="691.8" font-size="17.1" text-anchor="middle" fill="#000" stroke="#000" stroke-width="0.3" textLength="20.4" lengthAdjust="spacingAndGlyphs" >23</text>
<text x="217.5" y="691.8" font-size="17.1" text-anchor="middle" fill="#000" stroke="#000" stroke-width="0.3" textLength="20.4" lengthAdjust="spacingAndGlyphs" >26</text>
<text x="292.9" y="691.8" font-size="17.1" text-anchor="middle" fill="#000" stroke="#000" stroke-width="0.3" textLength="20.4" lengthAdjust="spacingAndGlyphs" >29</text>
<text x="368.3" y="691.8" font-size="17.1" text-anchor="middle" fill="#000" stroke="#000" stroke-width="0.3" textLength="20.4" lengthAdjust="spacingAndGlyphs" >32</text>
<text x="59" y="510.6" font-size="17.1" text-anchor="end" fill="#000" stroke="#000" stroke-width="0.3" textLength="20.4" lengthAdjust="spacingAndGlyphs" >20</text>
<text x="59" y="548.4" font-size="17.1" text-anchor="end" fill="#000" stroke="#000" stroke-width="0.3" textLength="20.4" lengthAdjust="spacingAndGlyphs" >10</text>
<text x="59" y="586.3" font-size="17.1" text-anchor="end" fill="#000" stroke="#000" stroke-width="0.3" textLength="10.2" lengthAdjust="spacingAndGlyphs" >0</text>
<text x="59" y="624.1" font-size="17.1" text-anchor="end" fill="#000" stroke="#000" stroke-width="0.3" textLength="33.8" lengthAdjust="spacingAndGlyphs" >−10</text>
<text x="59" y="662" font-size="17.1" text-anchor="end" fill="#000" stroke="#000" stroke-width="0.3" textLength="33.8" lengthAdjust="spacingAndGlyphs" >−20</text>
<path d="M405.3 671.2V663.2M405.3 474.4V482.4M445.7 671.2V663.2M445.7 474.4V482.4M486.2 671.2V663.2M486.2 474.4V482.4M526.6 671.2V663.2M526.6 474.4V482.4M405.3 662.5H413.3M550.8 662.5H542.8M405.3 597.9H413.3M550.8 597.9H542.8M405.3 533.3H413.3M550.8 533.3H542.8" stroke="#000" stroke-width="1.9" fill="none"/>
<rect x="405.3" y="474.4" width="145.5" height="196.8" stroke="#000" stroke-width="1.35" fill="none"/>
<text x="405.3" y="691.8" font-size="17.1" text-anchor="middle" fill="#000" stroke="#000" stroke-width="0.3" textLength="10.2" lengthAdjust="spacingAndGlyphs" >0</text>
<text x="445.7" y="691.8" font-size="17.1" text-anchor="middle" fill="#000" stroke="#000" stroke-width="0.3" textLength="30.5" lengthAdjust="spacingAndGlyphs" >250</text>
<text x="486.2" y="691.8" font-size="17.1" text-anchor="middle" fill="#000" stroke="#000" stroke-width="0.3" textLength="30.5" lengthAdjust="spacingAndGlyphs" >500</text>
<text x="526.6" y="691.8" font-size="17.1" text-anchor="middle" fill="#000" stroke="#000" stroke-width="0.3" textLength="30.5" lengthAdjust="spacingAndGlyphs" >750</text>
<path d="M561.9 671.2V663.2M561.9 474.4V482.4M607.1 671.2V663.2M607.1 474.4V482.4M652.3 671.2V663.2M652.3 474.4V482.4M561.9 671.2H569.9M681.2 671.2H673.2M561.9 633.7H569.9M681.2 633.7H673.2M561.9 596.2H569.9M681.2 596.2H673.2M561.9 558.7H569.9M681.2 558.7H673.2M561.9 521.2H569.9M681.2 521.2H673.2M561.9 483.7H569.9M681.2 483.7H673.2" stroke="#000" stroke-width="1.9" fill="none"/>
<rect x="561.9" y="474.4" width="119.3" height="196.8" stroke="#000" stroke-width="1.35" fill="none"/>
<text x="561.9" y="691.8" font-size="17.1" text-anchor="middle" fill="#000" stroke="#000" stroke-width="0.3" textLength="10.2" lengthAdjust="spacingAndGlyphs" >0</text>
<text x="607.1" y="691.8" font-size="17.1" text-anchor="middle" fill="#000" stroke="#000" stroke-width="0.3" textLength="10.2" lengthAdjust="spacingAndGlyphs" >2</text>
<text x="652.3" y="691.8" font-size="17.1" text-anchor="middle" fill="#000" stroke="#000" stroke-width="0.3" textLength="10.2" lengthAdjust="spacingAndGlyphs" >4</text>
<path d="M92.4 908.1V900.1M92.4 711.1V719.1M161.4 908.1V900.1M161.4 711.1V719.1M230.4 908.1V900.1M230.4 711.1V719.1M299.4 908.1V900.1M299.4 711.1V719.1M368.4 908.1V900.1M368.4 711.1V719.1M66.7 730.6H74.7M368.3 730.6H360.3M66.7 775.7H74.7M368.3 775.7H360.3M66.7 820.7H74.7M368.3 820.7H360.3M66.7 865.8H74.7M368.3 865.8H360.3" stroke="#000" stroke-width="1.9" fill="none"/>
<rect x="66.7" y="711.1" width="301.6" height="197" stroke="#000" stroke-width="1.35" fill="none"/>
<text x="92.4" y="928.7" font-size="17.1" text-anchor="middle" fill="#000" stroke="#000" stroke-width="0.3" textLength="20.4" lengthAdjust="spacingAndGlyphs" >18</text>
<text x="161.4" y="928.7" font-size="17.1" text-anchor="middle" fill="#000" stroke="#000" stroke-width="0.3" textLength="20.4" lengthAdjust="spacingAndGlyphs" >22</text>
<text x="230.4" y="928.7" font-size="17.1" text-anchor="middle" fill="#000" stroke="#000" stroke-width="0.3" textLength="20.4" lengthAdjust="spacingAndGlyphs" >26</text>
<text x="299.4" y="928.7" font-size="17.1" text-anchor="middle" fill="#000" stroke="#000" stroke-width="0.3" textLength="20.4" lengthAdjust="spacingAndGlyphs" >30</text>
<text x="368.4" y="928.7" font-size="17.1" text-anchor="middle" fill="#000" stroke="#000" stroke-width="0.3" textLength="20.4" lengthAdjust="spacingAndGlyphs" >34</text>
<text x="59" y="736.9" font-size="17.1" text-anchor="end" fill="#000" stroke="#000" stroke-width="0.3" textLength="20.4" lengthAdjust="spacingAndGlyphs" >10</text>
<text x="59" y="782" font-size="17.1" text-anchor="end" fill="#000" stroke="#000" stroke-width="0.3" textLength="10.2" lengthAdjust="spacingAndGlyphs" >5</text>
<text x="59" y="827" font-size="17.1" text-anchor="end" fill="#000" stroke="#000" stroke-width="0.3" textLength="10.2" lengthAdjust="spacingAndGlyphs" >0</text>
<text x="59" y="872" font-size="17.1" text-anchor="end" fill="#000" stroke="#000" stroke-width="0.3" textLength="23.6" lengthAdjust="spacingAndGlyphs" >−5</text>
<path d="M405.3 908.1V900.1M405.3 711.1V719.1M445.7 908.1V900.1M445.7 711.1V719.1M486.2 908.1V900.1M486.2 711.1V719.1M526.6 908.1V900.1M526.6 711.1V719.1M405.3 899.4H413.3M550.8 899.4H542.8M405.3 866.2H413.3M550.8 866.2H542.8M405.3 833H413.3M550.8 833H542.8M405.3 799.8H413.3M550.8 799.8H542.8M405.3 766.6H413.3M550.8 766.6H542.8M405.3 733.4H413.3M550.8 733.4H542.8" stroke="#000" stroke-width="1.9" fill="none"/>
<rect x="405.3" y="711.1" width="145.5" height="197" stroke="#000" stroke-width="1.35" fill="none"/>
<text x="405.3" y="928.7" font-size="17.1" text-anchor="middle" fill="#000" stroke="#000" stroke-width="0.3" textLength="10.2" lengthAdjust="spacingAndGlyphs" >0</text>
<text x="445.7" y="928.7" font-size="17.1" text-anchor="middle" fill="#000" stroke="#000" stroke-width="0.3" textLength="30.5" lengthAdjust="spacingAndGlyphs" >250</text>
<text x="486.2" y="928.7" font-size="17.1" text-anchor="middle" fill="#000" stroke="#000" stroke-width="0.3" textLength="30.5" lengthAdjust="spacingAndGlyphs" >500</text>
<text x="526.6" y="928.7" font-size="17.1" text-anchor="middle" fill="#000" stroke="#000" stroke-width="0.3" textLength="30.5" lengthAdjust="spacingAndGlyphs" >750</text>
<path d="M561.9 908.1V900.1M561.9 711.1V719.1M599 908.1V900.1M599 711.1V719.1M636.1 908.1V900.1M636.1 711.1V719.1M673.2 908.1V900.1M673.2 711.1V719.1M561.9 908.1H569.9M681.2 908.1H673.2M561.9 870.6H569.9M681.2 870.6H673.2M561.9 833.1H569.9M681.2 833.1H673.2M561.9 795.6H569.9M681.2 795.6H673.2M561.9 758.1H569.9M681.2 758.1H673.2M561.9 720.6H569.9M681.2 720.6H673.2" stroke="#000" stroke-width="1.9" fill="none"/>
<rect x="561.9" y="711.1" width="119.3" height="197" stroke="#000" stroke-width="1.35" fill="none"/>
<text x="561.9" y="928.7" font-size="17.1" text-anchor="middle" fill="#000" stroke="#000" stroke-width="0.3" textLength="10.2" lengthAdjust="spacingAndGlyphs" >0</text>
<text x="599" y="928.7" font-size="17.1" text-anchor="middle" fill="#000" stroke="#000" stroke-width="0.3" textLength="10.2" lengthAdjust="spacingAndGlyphs" >1</text>
<text x="636.1" y="928.7" font-size="17.1" text-anchor="middle" fill="#000" stroke="#000" stroke-width="0.3" textLength="10.2" lengthAdjust="spacingAndGlyphs" >2</text>
<text x="673.2" y="928.7" font-size="17.1" text-anchor="middle" fill="#000" stroke="#000" stroke-width="0.3" textLength="10.2" lengthAdjust="spacingAndGlyphs" >3</text>
<path d="M66.7 1144.4V1136.4M66.7 948.2V956.2M142.1 1144.4V1136.4M142.1 948.2V956.2M217.5 1144.4V1136.4M217.5 948.2V956.2M292.9 1144.4V1136.4M292.9 948.2V956.2M368.3 1144.4V1136.4M368.3 948.2V956.2M66.7 953H74.7M368.3 953H360.3M66.7 987.6H74.7M368.3 987.6H360.3M66.7 1022.2H74.7M368.3 1022.2H360.3M66.7 1056.8H74.7M368.3 1056.8H360.3M66.7 1091.4H74.7M368.3 1091.4H360.3M66.7 1126H74.7M368.3 1126H360.3" stroke="#000" stroke-width="1.9" fill="none"/>
<rect x="66.7" y="948.2" width="301.6" height="196.2" stroke="#000" stroke-width="1.35" fill="none"/>
<text x="66.7" y="1165" font-size="17.1" text-anchor="middle" fill="#000" stroke="#000" stroke-width="0.3" textLength="35.6" lengthAdjust="spacingAndGlyphs" >20.0</text>
<text x="142.1" y="1165" font-size="17.1" text-anchor="middle" fill="#000" stroke="#000" stroke-width="0.3" textLength="35.6" lengthAdjust="spacingAndGlyphs" >23.5</text>
<text x="217.5" y="1165" font-size="17.1" text-anchor="middle" fill="#000" stroke="#000" stroke-width="0.3" textLength="35.6" lengthAdjust="spacingAndGlyphs" >27.0</text>
<text x="292.9" y="1165" font-size="17.1" text-anchor="middle" fill="#000" stroke="#000" stroke-width="0.3" textLength="35.6" lengthAdjust="spacingAndGlyphs" >30.5</text>
<text x="368.3" y="1165" font-size="17.1" text-anchor="middle" fill="#000" stroke="#000" stroke-width="0.3" textLength="35.6" lengthAdjust="spacingAndGlyphs" >34.0</text>
<text x="59" y="959.3" font-size="17.1" text-anchor="end" fill="#000" stroke="#000" stroke-width="0.3" textLength="10.2" lengthAdjust="spacingAndGlyphs" >6</text>
<text x="59" y="993.9" font-size="17.1" text-anchor="end" fill="#000" stroke="#000" stroke-width="0.3" textLength="10.2" lengthAdjust="spacingAndGlyphs" >4</text>
<text x="59" y="1028.5" font-size="17.1" text-anchor="end" fill="#000" stroke="#000" stroke-width="0.3" textLength="10.2" lengthAdjust="spacingAndGlyphs" >2</text>
<text x="59" y="1063.1" font-size="17.1" text-anchor="end" fill="#000" stroke="#000" stroke-width="0.3" textLength="10.2" lengthAdjust="spacingAndGlyphs" >0</text>
<text x="59" y="1097.7" font-size="17.1" text-anchor="end" fill="#000" stroke="#000" stroke-width="0.3" textLength="23.6" lengthAdjust="spacingAndGlyphs" >−2</text>
<text x="59" y="1132.3" font-size="17.1" text-anchor="end" fill="#000" stroke="#000" stroke-width="0.3" textLength="23.6" lengthAdjust="spacingAndGlyphs" >−4</text>
<path d="M405.3 1144.4V1136.4M405.3 948.2V956.2M445.7 1144.4V1136.4M445.7 948.2V956.2M486.2 1144.4V1136.4M486.2 948.2V956.2M526.6 1144.4V1136.4M526.6 948.2V956.2M405.3 1135.7H413.3M550.8 1135.7H542.8M405.3 1080.4H413.3M550.8 1080.4H542.8M405.3 1025.1H413.3M550.8 1025.1H542.8M405.3 969.8H413.3M550.8 969.8H542.8" stroke="#000" stroke-width="1.9" fill="none"/>
<rect x="405.3" y="948.2" width="145.5" height="196.2" stroke="#000" stroke-width="1.35" fill="none"/>
<text x="405.3" y="1165" font-size="17.1" text-anchor="middle" fill="#000" stroke="#000" stroke-width="0.3" textLength="10.2" lengthAdjust="spacingAndGlyphs" >0</text>
<text x="445.7" y="1165" font-size="17.1" text-anchor="middle" fill="#000" stroke="#000" stroke-width="0.3" textLength="30.5" lengthAdjust="spacingAndGlyphs" >250</text>
<text x="486.2" y="1165" font-size="17.1" text-anchor="middle" fill="#000" stroke="#000" stroke-width="0.3" textLength="30.5" lengthAdjust="spacingAndGlyphs" >500</text>
<text x="526.6" y="1165" font-size="17.1" text-anchor="middle" fill="#000" stroke="#000" stroke-width="0.3" textLength="30.5" lengthAdjust="spacingAndGlyphs" >750</text>
<path d="M561.9 1144.4V1136.4M561.9 948.2V956.2M607.1 1144.4V1136.4M607.1 948.2V956.2M652.3 1144.4V1136.4M652.3 948.2V956.2M561.9 1144.4H569.9M681.2 1144.4H673.2M561.9 1106.9H569.9M681.2 1106.9H673.2M561.9 1069.4H569.9M681.2 1069.4H673.2M561.9 1031.9H569.9M681.2 1031.9H673.2M561.9 994.4H569.9M681.2 994.4H673.2M561.9 956.9H569.9M681.2 956.9H673.2" stroke="#000" stroke-width="1.9" fill="none"/>
<rect x="561.9" y="948.2" width="119.3" height="196.2" stroke="#000" stroke-width="1.35" fill="none"/>
<text x="561.9" y="1165" font-size="17.1" text-anchor="middle" fill="#000" stroke="#000" stroke-width="0.3" textLength="10.2" lengthAdjust="spacingAndGlyphs" >0</text>
<text x="607.1" y="1165" font-size="17.1" text-anchor="middle" fill="#000" stroke="#000" stroke-width="0.3" textLength="10.2" lengthAdjust="spacingAndGlyphs" >2</text>
<text x="652.3" y="1165" font-size="17.1" text-anchor="middle" fill="#000" stroke="#000" stroke-width="0.3" textLength="10.2" lengthAdjust="spacingAndGlyphs" >4</text>
<text stroke="#000" transform="translate(12.2,99.7) rotate(-90)" x="0" y="0" font-size="17.1" text-anchor="middle" textLength="87" lengthAdjust="spacingAndGlyphs">Δ<tspan font-style="italic">f</tspan><tspan font-style="italic" font-size="12" dy="3.6">TDO</tspan><tspan dy="-3.6"> (kHz)</tspan></text>
<text stroke="#000" transform="translate(385.1,99.8) rotate(-90)" x="0" y="0" font-size="17.1" text-anchor="middle" textLength="131.2" lengthAdjust="spacingAndGlyphs">Amplitude (arb.)</text>
<text stroke="#000" transform="translate(12.2,336.7) rotate(-90)" x="0" y="0" font-size="17.1" text-anchor="middle" textLength="87" lengthAdjust="spacingAndGlyphs">Δ<tspan font-style="italic">f</tspan><tspan font-style="italic" font-size="12" dy="3.6">TDO</tspan><tspan dy="-3.6"> (kHz)</tspan></text>
<text stroke="#000" transform="translate(385.1,336.8) rotate(-90)" x="0" y="0" font-size="17.1" text-anchor="middle" textLength="131.2" lengthAdjust="spacingAndGlyphs">Amplitude (arb.)</text>
<text stroke="#000" transform="translate(12.2,573.4) rotate(-90)" x="0" y="0" font-size="17.1" text-anchor="middle" textLength="87" lengthAdjust="spacingAndGlyphs">Δ<tspan font-style="italic">f</tspan><tspan font-style="italic" font-size="12" dy="3.6">TDO</tspan><tspan dy="-3.6"> (kHz)</tspan></text>
<text stroke="#000" transform="translate(385.1,573.5) rotate(-90)" x="0" y="0" font-size="17.1" text-anchor="middle" textLength="131.2" lengthAdjust="spacingAndGlyphs">Amplitude (arb.)</text>
<text stroke="#000" transform="translate(22.6,810.2) rotate(-90)" x="0" y="0" font-size="17.1" text-anchor="middle" textLength="87" lengthAdjust="spacingAndGlyphs">Δ<tspan font-style="italic">f</tspan><tspan font-style="italic" font-size="12" dy="3.6">TDO</tspan><tspan dy="-3.6"> (kHz)</tspan></text>
<text stroke="#000" transform="translate(385.1,810.3) rotate(-90)" x="0" y="0" font-size="17.1" text-anchor="middle" textLength="131.2" lengthAdjust="spacingAndGlyphs">Amplitude (arb.)</text>
<text stroke="#000" transform="translate(22.6,1046.9) rotate(-90)" x="0" y="0" font-size="17.1" text-anchor="middle" textLength="87" lengthAdjust="spacingAndGlyphs">Δ<tspan font-style="italic">f</tspan><tspan font-style="italic" font-size="12" dy="3.6">TDO</tspan><tspan dy="-3.6"> (kHz)</tspan></text>
<text stroke="#000" transform="translate(385.1,1047) rotate(-90)" x="0" y="0" font-size="17.1" text-anchor="middle" textLength="131.2" lengthAdjust="spacingAndGlyphs">Amplitude (arb.)</text>
<text stroke="#000" x="217.4" y="1189.6" font-size="17.1" text-anchor="middle" textLength="56.5" lengthAdjust="spacingAndGlyphs"><tspan font-style="italic">μ</tspan><tspan font-size="12.2" dy="3.3">0</tspan><tspan font-style="italic" dy="-3.3">H</tspan> (T)</text>
<text x="477.6" y="1189.7" font-size="17.1" text-anchor="middle" fill="#000" stroke="#000" stroke-width="0.3" textLength="109.7" lengthAdjust="spacingAndGlyphs" >Frequency (T)</text>
<text x="621.6" y="1189.9" font-size="17.1" text-anchor="middle" fill="#000" stroke="#000" stroke-width="0.3" textLength="132.5" lengthAdjust="spacingAndGlyphs" >Temperature (K)</text>
<text x="76.1" y="190.7" font-size="21.4" text-anchor="start" fill="#000" stroke="#000" stroke-width="0.3" textLength="12.3" lengthAdjust="spacingAndGlyphs" >a</text>
<text x="416.9" y="26.1" font-size="21.4" text-anchor="start" fill="#000" stroke="#000" stroke-width="0.3" textLength="7" lengthAdjust="spacingAndGlyphs" >f</text>
<text x="571.6" y="189.9" font-size="21.4" text-anchor="start" fill="#000" stroke="#000" stroke-width="0.3" textLength="11.6" lengthAdjust="spacingAndGlyphs" >k</text>
<text x="76.3" y="426.4" font-size="21.4" text-anchor="start" fill="#000" stroke="#000" stroke-width="0.3" textLength="12.7" lengthAdjust="spacingAndGlyphs" >b</text>
<text x="417.3" y="263.4" font-size="21.4" text-anchor="start" fill="#000" stroke="#000" stroke-width="0.3" textLength="12.7" lengthAdjust="spacingAndGlyphs" >g</text>
<text x="571.8" y="426.8" font-size="21.4" text-anchor="start" fill="#000" stroke="#000" stroke-width="0.3" textLength="5.6" lengthAdjust="spacingAndGlyphs" >l</text>
<text x="76.5" y="662.5" font-size="21.4" text-anchor="start" fill="#000" stroke="#000" stroke-width="0.3" textLength="11" lengthAdjust="spacingAndGlyphs" >c</text>
<text x="417.1" y="498.3" font-size="21.4" text-anchor="start" fill="#000" stroke="#000" stroke-width="0.3" textLength="12.7" lengthAdjust="spacingAndGlyphs" >h</text>
<text x="571.4" y="663.5" font-size="21.4" text-anchor="start" fill="#000" stroke="#000" stroke-width="0.3" textLength="19.5" lengthAdjust="spacingAndGlyphs" >m</text>
<text x="76.9" y="897" font-size="21.4" text-anchor="start" fill="#000" stroke="#000" stroke-width="0.3" textLength="12.7" lengthAdjust="spacingAndGlyphs" >d</text>
<text x="416.9" y="738" font-size="21.4" text-anchor="start" fill="#000" stroke="#000" stroke-width="0.3" textLength="5.6" lengthAdjust="spacingAndGlyphs" >i</text>
<text x="569.4" y="898.4" font-size="21.4" text-anchor="start" fill="#000" stroke="#000" stroke-width="0.3" textLength="12.7" lengthAdjust="spacingAndGlyphs" >n</text>
<text x="75.7" y="1138.3" font-size="21.4" text-anchor="start" fill="#000" stroke="#000" stroke-width="0.3" textLength="12.3" lengthAdjust="spacingAndGlyphs" >e</text>
<text x="416.5" y="969.3" font-size="21.4" text-anchor="start" fill="#000" stroke="#000" stroke-width="0.3" textLength="5.6" lengthAdjust="spacingAndGlyphs" >j</text>
<text x="570.6" y="1138.1" font-size="21.4" text-anchor="start" fill="#000" stroke="#000" stroke-width="0.3" textLength="12.2" lengthAdjust="spacingAndGlyphs" >o</text>
<text stroke="#000" x="93.20" y="51.20" font-size="17" textLength="99.40" lengthAdjust="spacingAndGlyphs"><tspan font-style="italic">p</tspan> = 0.0 kbar</text>
<text stroke="#000" x="95.80" y="284.20" font-size="17" textLength="98.80" lengthAdjust="spacingAndGlyphs"><tspan font-style="italic">p</tspan> = 6.0 kbar</text>
<text stroke="#000" x="87.00" y="520.20" font-size="17" textLength="109.40" lengthAdjust="spacingAndGlyphs"><tspan font-style="italic">p</tspan> = 11.0 kbar</text>
<text stroke="#000" x="87.00" y="748.20" font-size="17" textLength="109.40" lengthAdjust="spacingAndGlyphs"><tspan font-style="italic">p</tspan> = 15.0 kbar</text>
<text stroke="#000" x="95.00" y="994.20" font-size="17" textLength="109.20" lengthAdjust="spacingAndGlyphs"><tspan font-style="italic">p</tspan> = 19.5 kbar</text>
<text stroke="#000" x="93.40" y="31.50" font-size="16.9" textLength="81.60" lengthAdjust="spacingAndGlyphs">UTe<tspan font-size="11.5" dy="3.6">2</tspan><tspan dy="-3.6"> H//a</tspan></text>
<text stroke="#000" x="593.80" y="39.60" font-size="13.7" textLength="44.80" lengthAdjust="spacingAndGlyphs">1.53(1)</text>
<text stroke="#000" x="643.40" y="39.60" font-size="13.7" font-style="italic" textLength="11.00" lengthAdjust="spacingAndGlyphs">m</text>
<text stroke="#000" x="653.80" y="42.20" font-size="10.5" font-style="italic" textLength="7.20" lengthAdjust="spacingAndGlyphs">e</text>
<text stroke="#000" x="595.60" y="265.80" font-size="13.7" textLength="36.00" lengthAdjust="spacingAndGlyphs">1.6(1)</text>
<text stroke="#000" x="636.00" y="265.80" font-size="13.7" font-style="italic" textLength="10.40" lengthAdjust="spacingAndGlyphs">m</text>
<text stroke="#000" x="646.80" y="268.40" font-size="10.5" font-style="italic" textLength="8.00" lengthAdjust="spacingAndGlyphs">e</text>
<text stroke="#000" x="599.20" y="508.50" font-size="13.7" textLength="36.80" lengthAdjust="spacingAndGlyphs">2.4(1)</text>
<text stroke="#000" x="639.40" y="508.50" font-size="13.7" font-style="italic" textLength="11.00" lengthAdjust="spacingAndGlyphs">m</text>
<text stroke="#000" x="650.80" y="511.10" font-size="10.5" font-style="italic" textLength="7.00" lengthAdjust="spacingAndGlyphs">e</text>
<text stroke="#000" x="602.20" y="743.90" font-size="13.7" textLength="36.80" lengthAdjust="spacingAndGlyphs">2.4(1)</text>
<text stroke="#000" x="643.40" y="743.90" font-size="13.7" font-style="italic" textLength="11.00" lengthAdjust="spacingAndGlyphs">m</text>
<text stroke="#000" x="654.20" y="746.50" font-size="10.5" font-style="italic" textLength="8.40" lengthAdjust="spacingAndGlyphs">e</text>
<text stroke="#000" x="600.20" y="981.30" font-size="13.7" textLength="36.20" lengthAdjust="spacingAndGlyphs">2.0(1)</text>
<text stroke="#000" x="641.20" y="981.30" font-size="13.7" font-style="italic" textLength="10.00" lengthAdjust="spacingAndGlyphs">m</text>
<text stroke="#000" x="652.00" y="983.90" font-size="10.5" font-style="italic" textLength="8.00" lengthAdjust="spacingAndGlyphs">e</text>
<text x="488.60" y="26.60" font-size="18.6" fill="#382a6e" stroke="#382a6e" textLength="42.10" lengthAdjust="spacingAndGlyphs">0.4 K</text>
<text x="488.80" y="51.00" font-size="18.6" fill="#4a8cf5" stroke="#4a8cf5" textLength="41.90" lengthAdjust="spacingAndGlyphs">1.0 K</text>
<text x="488.80" y="78.20" font-size="18.6" fill="#1fc09a" stroke="#1fc09a" textLength="41.90" lengthAdjust="spacingAndGlyphs">1.6 K</text>
<text x="488.60" y="106.40" font-size="18.6" fill="#8ee83a" stroke="#8ee83a" textLength="42.10" lengthAdjust="spacingAndGlyphs">3.8 K</text>
<text x="488.60" y="131.60" font-size="18.6" fill="#f8b43a" stroke="#f8b43a" textLength="42.10" lengthAdjust="spacingAndGlyphs">5.0 K</text>
<text x="488.60" y="156.20" font-size="18.6" fill="#e6500f" stroke="#e6500f" textLength="42.10" lengthAdjust="spacingAndGlyphs">8.0 K</text>
<text x="478.80" y="180.60" font-size="18.6" fill="#7e0e08" stroke="#7e0e08" textLength="51.90" lengthAdjust="spacingAndGlyphs">12.0 K</text>
<text x="487.80" y="279.40" font-size="18.6" fill="#382a6e" stroke="#382a6e" textLength="42.10" lengthAdjust="spacingAndGlyphs">0.5 K</text>
<text x="487.00" y="301.80" font-size="18.6" fill="#2a9af8" stroke="#2a9af8" textLength="41.90" lengthAdjust="spacingAndGlyphs">1.6 K</text>
<text x="486.80" y="326.20" font-size="18.6" fill="#1ee04e" stroke="#1ee04e" textLength="43.10" lengthAdjust="spacingAndGlyphs">2.0 K</text>
<text x="486.80" y="352.20" font-size="18.6" fill="#c8c832" stroke="#c8c832" textLength="43.10" lengthAdjust="spacingAndGlyphs">3.0 K</text>
<text x="487.80" y="374.00" font-size="18.6" fill="#f06018" stroke="#f06018" textLength="42.10" lengthAdjust="spacingAndGlyphs">4.5 K</text>
<text x="487.80" y="397.40" font-size="18.6" fill="#8a1408" stroke="#8a1408" textLength="42.10" lengthAdjust="spacingAndGlyphs">4.8 K</text>
<text x="493.80" y="500.00" font-size="18.6" fill="#382a6e" stroke="#382a6e" textLength="42.10" lengthAdjust="spacingAndGlyphs">0.4 K</text>
<text x="493.80" y="521.80" font-size="18.6" fill="#4a8cf5" stroke="#4a8cf5" textLength="42.10" lengthAdjust="spacingAndGlyphs">0.5 K</text>
<text x="493.80" y="545.80" font-size="18.6" fill="#1fc09a" stroke="#1fc09a" textLength="42.10" lengthAdjust="spacingAndGlyphs">0.8 K</text>
<text x="494.00" y="567.40" font-size="18.6" fill="#8ee83a" stroke="#8ee83a" textLength="41.90" lengthAdjust="spacingAndGlyphs">1.3 K</text>
<text x="494.00" y="591.20" font-size="18.6" fill="#f8b43a" stroke="#f8b43a" textLength="41.90" lengthAdjust="spacingAndGlyphs">1.6 K</text>
<text x="494.00" y="616.40" font-size="18.6" fill="#e6500f" stroke="#e6500f" textLength="41.90" lengthAdjust="spacingAndGlyphs">1.8 K</text>
<text x="493.80" y="639.80" font-size="18.6" fill="#7e0e08" stroke="#7e0e08" textLength="42.10" lengthAdjust="spacingAndGlyphs">5.0 K</text>
<text x="485.60" y="748.60" font-size="18.6" fill="#382a6e" stroke="#382a6e" textLength="42.10" lengthAdjust="spacingAndGlyphs">0.5 K</text>
<text x="485.60" y="772.80" font-size="18.6" fill="#2a9af8" stroke="#2a9af8" textLength="42.10" lengthAdjust="spacingAndGlyphs">0.8 K</text>
<text x="485.80" y="797.00" font-size="18.6" fill="#1ee04e" stroke="#1ee04e" textLength="41.90" lengthAdjust="spacingAndGlyphs">1.1 K</text>
<text x="485.80" y="823.80" font-size="18.6" fill="#c8c832" stroke="#c8c832" textLength="41.90" lengthAdjust="spacingAndGlyphs">1.5 K</text>
<text x="485.60" y="850.20" font-size="18.6" fill="#f06018" stroke="#f06018" textLength="42.10" lengthAdjust="spacingAndGlyphs">2.4 K</text>
<text x="485.60" y="876.00" font-size="18.6" fill="#8a1408" stroke="#8a1408" textLength="42.10" lengthAdjust="spacingAndGlyphs">3.0 K</text>
<text x="484.00" y="971.80" font-size="18.6" fill="#382a6e" stroke="#382a6e" textLength="42.10" lengthAdjust="spacingAndGlyphs">0.5 K</text>
<text x="484.00" y="991.60" font-size="18.6" fill="#2a9af8" stroke="#2a9af8" textLength="42.10" lengthAdjust="spacingAndGlyphs">0.8 K</text>
<text x="484.20" y="1013.20" font-size="18.6" fill="#1ee04e" stroke="#1ee04e" textLength="40.90" lengthAdjust="spacingAndGlyphs">1.2 K</text>
<text x="484.20" y="1034.20" font-size="18.6" fill="#c8c832" stroke="#c8c832" textLength="40.90" lengthAdjust="spacingAndGlyphs">1.5 K</text>
<text x="484.00" y="1054.80" font-size="18.6" fill="#f06018" stroke="#f06018" textLength="42.10" lengthAdjust="spacingAndGlyphs">4.5 K</text>
<text x="483.00" y="1075.80" font-size="18.6" fill="#8a1408" stroke="#8a1408" textLength="43.10" lengthAdjust="spacingAndGlyphs">5.0 K</text>
</svg>
</body></html>
